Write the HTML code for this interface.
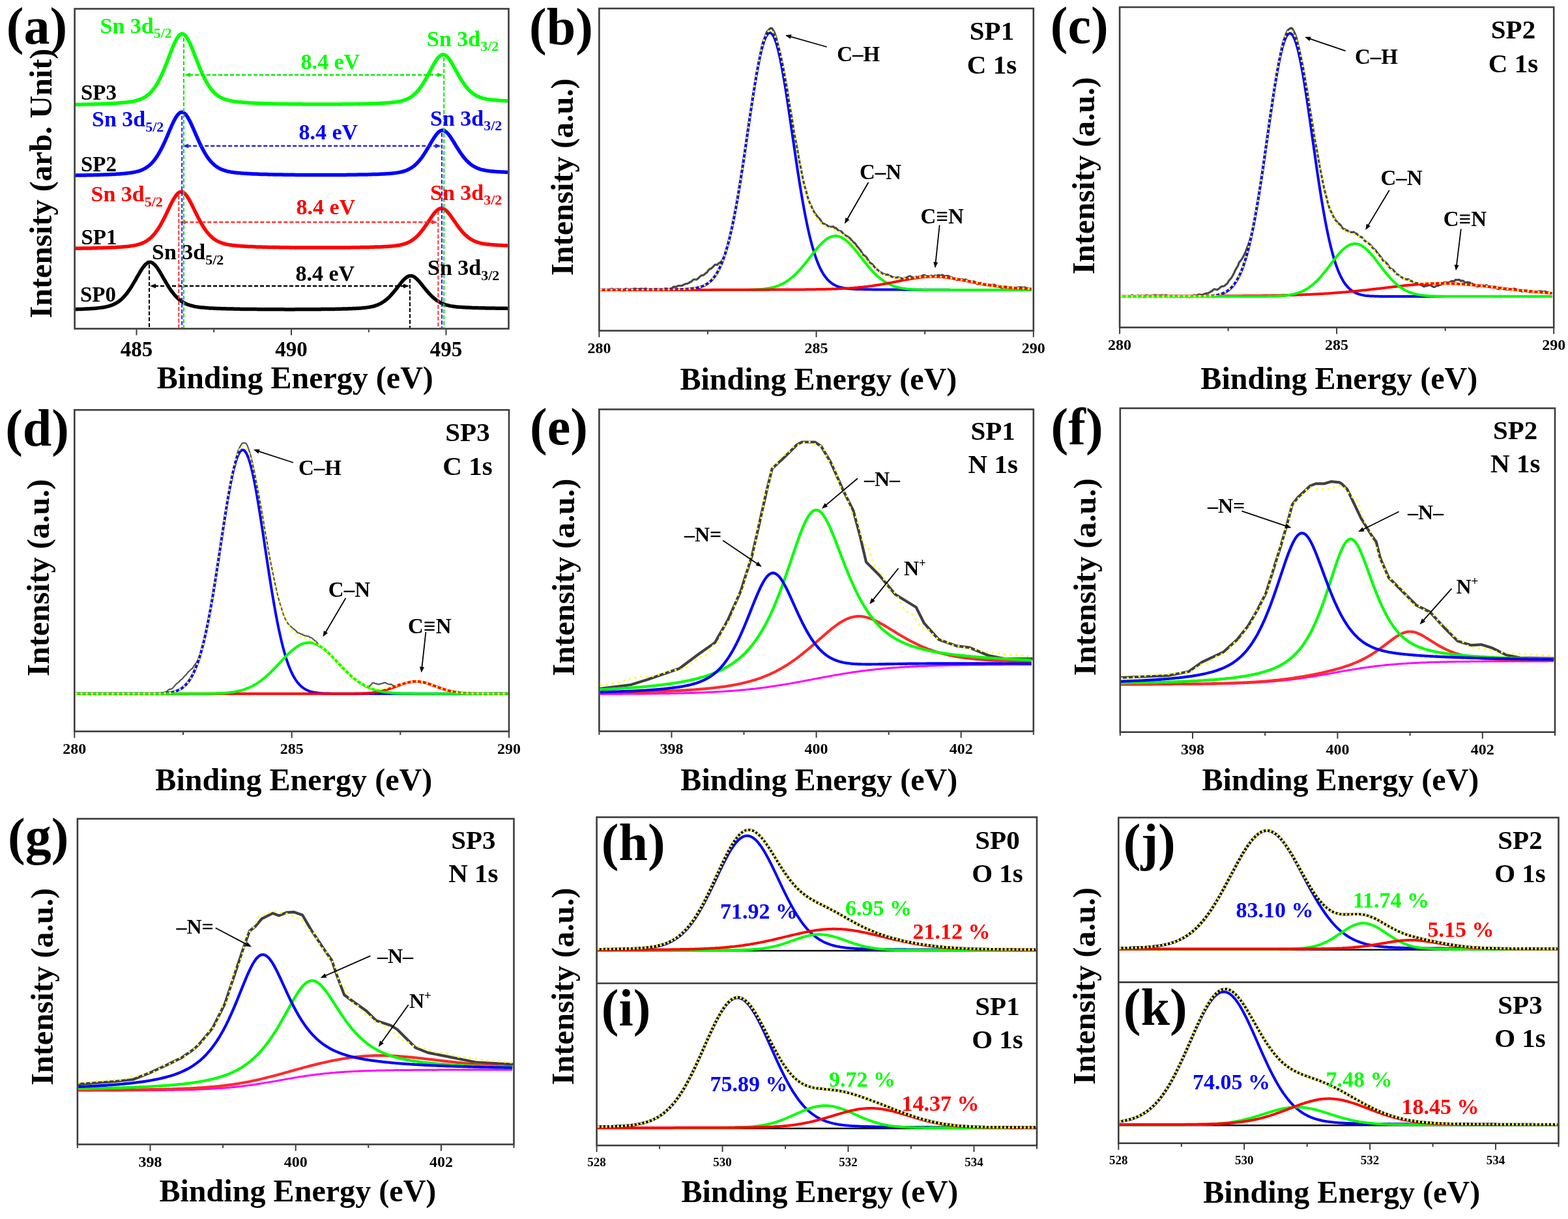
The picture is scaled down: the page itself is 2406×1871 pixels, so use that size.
<!DOCTYPE html>
<html><head><meta charset="utf-8"><style>
html,body{margin:0;padding:0;background:#fff;}
svg{display:block;}
text{font-family:'Liberation Serif','Times New Roman',serif;font-weight:bold;}
</style></head><body>
<svg xmlns="http://www.w3.org/2000/svg" width="2406" height="1871" viewBox="0 0 2406 1871">
<rect width="2406" height="1871" fill="#fff"/>
<rect x="114.6" y="13.5" width="665.9" height="491" fill="none" stroke="#3c3c3c" stroke-width="2.6"/>
<line x1="209.5" y1="505.5" x2="209.5" y2="514.5" stroke="#3c3c3c" stroke-width="2"/>
<line x1="447" y1="505.5" x2="447" y2="514.5" stroke="#3c3c3c" stroke-width="2"/>
<line x1="684.5" y1="505.5" x2="684.5" y2="514.5" stroke="#3c3c3c" stroke-width="2"/>
<line x1="328.2" y1="505.5" x2="328.2" y2="510" stroke="#3c3c3c" stroke-width="2"/>
<line x1="565.8" y1="505.5" x2="565.8" y2="510" stroke="#3c3c3c" stroke-width="2"/>
<text x="209.5" y="547" font-size="33" fill="#000" text-anchor="middle">485</text>
<text x="447" y="547" font-size="33" fill="#000" text-anchor="middle">490</text>
<text x="684.5" y="547" font-size="33" fill="#000" text-anchor="middle">495</text>
<text x="240.8" y="595.5" font-size="48" fill="#000" textLength="424" lengthAdjust="spacingAndGlyphs">Binding Energy (eV)</text>
<text transform="translate(78.7,281.6) rotate(-90)" font-size="48" text-anchor="middle" textLength="414" lengthAdjust="spacingAndGlyphs">Intensity (arb. Unit)</text>
<text x="9.8" y="66.7" font-size="80" fill="#000">(a)</text>
<polyline points="115.9,474.7 117.9,474.7 119.9,474.6 121.9,474.5 123.9,474.5 125.9,474.4 127.9,474.3 129.9,474.2 131.9,474.1 133.9,474 135.9,473.9 137.9,473.8 139.9,473.7 141.9,473.5 143.9,473.4 145.9,473.2 147.9,473.1 149.9,472.9 151.9,472.6 153.9,472.4 155.9,472.1 157.9,471.9 159.9,471.5 161.9,471.1 163.8,470.7 165.8,470.2 167.8,469.7 169.8,469 171.8,468.3 173.8,467.5 175.8,466.5 177.8,465.5 179.8,464.3 181.8,463 183.8,461.5 185.8,459.8 187.8,458 189.8,455.9 191.8,453.7 193.8,451.3 195.8,448.7 197.8,445.9 199.8,443 201.8,439.9 203.8,436.6 205.8,433.2 207.8,429.8 209.8,426.2 211.8,422.7 213.8,419.3 215.8,416 217.8,412.8 219.8,410 221.8,407.5 223.8,405.4 225.8,403.8 227.8,402.8 229.8,402.4 231.8,402.6 233.8,403.5 235.8,404.9 237.8,406.8 239.8,409.2 241.8,411.9 243.8,415 245.8,418.2 247.8,421.6 249.8,425.1 251.8,428.6 253.8,432 255.8,435.4 257.8,438.6 259.7,441.7 261.7,444.7 263.7,447.5 265.7,450.1 267.7,452.5 269.7,454.8 271.7,456.8 273.7,458.7 275.7,460.3 277.7,461.9 279.7,463.2 281.7,464.4 283.7,465.5 285.7,466.5 287.7,467.3 289.7,468 291.7,468.7 293.7,469.2 295.7,469.7 297.7,470.2 299.7,470.6 301.7,470.9 303.7,471.2 305.7,471.5 307.7,471.7 309.7,471.9 311.7,472.1 313.7,472.3 315.7,472.5 317.7,472.6 319.7,472.7 321.7,472.9 323.7,473 325.7,473.1 327.7,473.2 329.7,473.3 331.7,473.4 333.7,473.4 335.7,473.5 337.7,473.6 339.7,473.7 341.7,473.7 343.7,473.8 345.7,473.8 347.7,473.9 349.7,474 351.7,474 353.6,474.1 355.6,474.1 357.6,474.1 359.6,474.2 361.6,474.2 363.6,474.3 365.6,474.3 367.6,474.3 369.6,474.4 371.6,474.4 373.6,474.4 375.6,474.5 377.6,474.5 379.6,474.5 381.6,474.5 383.6,474.5 385.6,474.6 387.6,474.6 389.6,474.6 391.6,474.6 393.6,474.6 395.6,474.7 397.6,474.7 399.6,474.7 401.6,474.7 403.6,474.7 405.6,474.7 407.6,474.8 409.6,474.8 411.6,474.8 413.6,474.8 415.6,474.8 417.6,474.8 419.6,474.8 421.6,474.8 423.6,474.8 425.6,474.8 427.6,474.8 429.6,474.8 431.6,474.8 433.6,474.8 435.6,474.8 437.6,474.9 439.6,474.9 441.6,474.9 443.6,474.9 445.6,474.9 447.6,474.9 449.5,474.9 451.5,474.9 453.5,474.8 455.5,474.8 457.5,474.8 459.5,474.8 461.5,474.8 463.5,474.8 465.5,474.8 467.5,474.8 469.5,474.8 471.5,474.8 473.5,474.8 475.5,474.8 477.5,474.8 479.5,474.8 481.5,474.7 483.5,474.7 485.5,474.7 487.5,474.7 489.5,474.7 491.5,474.7 493.5,474.6 495.5,474.6 497.5,474.6 499.5,474.6 501.5,474.6 503.5,474.5 505.5,474.5 507.5,474.5 509.5,474.4 511.5,474.4 513.5,474.4 515.5,474.3 517.5,474.3 519.5,474.3 521.5,474.2 523.5,474.2 525.5,474.1 527.5,474.1 529.5,474 531.5,474 533.5,473.9 535.5,473.8 537.5,473.8 539.5,473.7 541.5,473.6 543.4,473.5 545.4,473.4 547.4,473.3 549.4,473.2 551.4,473.1 553.4,472.9 555.4,472.8 557.4,472.6 559.4,472.4 561.4,472.2 563.4,471.9 565.4,471.6 567.4,471.3 569.4,470.9 571.4,470.5 573.4,470 575.4,469.4 577.4,468.7 579.4,468 581.4,467.1 583.4,466.1 585.4,465.1 587.4,463.8 589.4,462.5 591.4,461 593.4,459.4 595.4,457.6 597.4,455.7 599.4,453.6 601.4,451.4 603.4,449.1 605.4,446.7 607.4,444.2 609.4,441.7 611.4,439.1 613.4,436.6 615.4,434.1 617.4,431.7 619.4,429.5 621.4,427.6 623.4,425.9 625.4,424.6 627.4,423.8 629.4,423.4 631.4,423.4 633.4,423.9 635.4,424.9 637.3,426.3 639.3,428 641.3,430 643.3,432.2 645.3,434.5 647.3,437 649.3,439.5 651.3,442 653.3,444.4 655.3,446.8 657.3,449.1 659.3,451.3 661.3,453.4 663.3,455.4 665.3,457.2 667.3,458.9 669.3,460.4 671.3,461.8 673.3,463 675.3,464.2 677.3,465.2 679.3,466.1 681.3,466.9 683.3,467.6 685.3,468.2 687.3,468.7 689.3,469.2 691.3,469.6 693.3,469.9 695.3,470.2 697.3,470.5 699.3,470.8 701.3,471 703.3,471.2 705.3,471.3 707.3,471.5 709.3,471.6 711.3,471.7 713.3,471.8 715.3,471.9 717.3,472 719.3,472.1 721.3,472.2 723.3,472.3 725.3,472.4 727.3,472.4 729.3,472.5 731.3,472.5 733.2,472.6 735.2,472.7 737.2,472.7 739.2,472.8 741.2,472.8 743.2,472.8 745.2,472.9 747.2,472.9 749.2,473 751.2,473 753.2,473 755.2,473.1 757.2,473.1 759.2,473.1 761.2,473.2 763.2,473.2 765.2,473.2 767.2,473.2 769.2,473.3 771.2,473.3 773.2,473.3 775.2,473.3 777.2,473.3 779.2,473.4" fill="none" stroke="#000000" stroke-width="5.5" stroke-linejoin="round" stroke-linecap="butt"/>
<polyline points="115.9,381.3 117.9,381.3 119.9,381.2 121.9,381.2 123.9,381.2 125.9,381.1 127.9,381.1 129.9,381.1 131.9,381 133.9,381 135.9,381 137.9,380.9 139.9,380.9 141.9,380.8 143.9,380.8 145.9,380.7 147.9,380.7 149.9,380.6 151.9,380.6 153.9,380.5 155.9,380.5 157.9,380.4 159.9,380.3 161.9,380.3 163.8,380.2 165.8,380.1 167.8,380 169.8,379.9 171.8,379.8 173.8,379.8 175.8,379.7 177.8,379.5 179.8,379.4 181.8,379.3 183.8,379.2 185.8,379.1 187.8,378.9 189.8,378.7 191.8,378.6 193.8,378.4 195.8,378.2 197.8,378 199.8,377.7 201.8,377.4 203.8,377.1 205.8,376.8 207.8,376.4 209.8,375.9 211.8,375.4 213.8,374.8 215.8,374.2 217.8,373.4 219.8,372.6 221.8,371.6 223.8,370.5 225.8,369.2 227.8,367.8 229.8,366.3 231.8,364.5 233.8,362.5 235.8,360.3 237.8,357.9 239.8,355.3 241.8,352.5 243.8,349.4 245.8,346.1 247.8,342.6 249.8,338.9 251.8,335.1 253.8,331.1 255.8,327 257.8,322.8 259.7,318.6 261.7,314.5 263.7,310.6 265.7,306.9 267.7,303.5 269.7,300.5 271.7,298 273.7,296.1 275.7,294.9 277.7,294.4 279.7,294.6 281.7,295.6 283.7,297.2 285.7,299.5 287.7,302.3 289.7,305.6 291.7,309.2 293.7,313 295.7,317 297.7,321.1 299.7,325.2 301.7,329.3 303.7,333.2 305.7,337.1 307.7,340.8 309.7,344.3 311.7,347.6 313.7,350.7 315.7,353.6 317.7,356.2 319.7,358.6 321.7,360.8 323.7,362.8 325.7,364.6 327.7,366.3 329.7,367.7 331.7,369 333.7,370.1 335.7,371.1 337.7,372 339.7,372.7 341.7,373.4 343.7,374 345.7,374.5 347.7,375 349.7,375.4 351.7,375.7 353.6,376.1 355.6,376.3 357.6,376.6 359.6,376.8 361.6,377 363.6,377.2 365.6,377.4 367.6,377.5 369.6,377.7 371.6,377.8 373.6,378 375.6,378.1 377.6,378.2 379.6,378.3 381.6,378.4 383.6,378.5 385.6,378.6 387.6,378.6 389.6,378.7 391.6,378.8 393.6,378.9 395.6,378.9 397.6,379 399.6,379.1 401.6,379.1 403.6,379.2 405.6,379.2 407.6,379.3 409.6,379.3 411.6,379.4 413.6,379.4 415.6,379.4 417.6,379.5 419.6,379.5 421.6,379.5 423.6,379.6 425.6,379.6 427.6,379.6 429.6,379.7 431.6,379.7 433.6,379.7 435.6,379.8 437.6,379.8 439.6,379.8 441.6,379.8 443.6,379.8 445.6,379.9 447.6,379.9 449.5,379.9 451.5,379.9 453.5,379.9 455.5,379.9 457.5,380 459.5,380 461.5,380 463.5,380 465.5,380 467.5,380 469.5,380 471.5,380 473.5,380 475.5,380 477.5,380 479.5,380 481.5,380.1 483.5,380.1 485.5,380.1 487.5,380.1 489.5,380.1 491.5,380.1 493.5,380.1 495.5,380.1 497.5,380.1 499.5,380.1 501.5,380.1 503.5,380.1 505.5,380 507.5,380 509.5,380 511.5,380 513.5,380 515.5,380 517.5,380 519.5,380 521.5,380 523.5,380 525.5,380 527.5,379.9 529.5,379.9 531.5,379.9 533.5,379.9 535.5,379.9 537.5,379.9 539.5,379.8 541.5,379.8 543.4,379.8 545.4,379.8 547.4,379.7 549.4,379.7 551.4,379.7 553.4,379.6 555.4,379.6 557.4,379.6 559.4,379.5 561.4,379.5 563.4,379.5 565.4,379.4 567.4,379.4 569.4,379.3 571.4,379.3 573.4,379.2 575.4,379.1 577.4,379.1 579.4,379 581.4,378.9 583.4,378.9 585.4,378.8 587.4,378.7 589.4,378.6 591.4,378.5 593.4,378.4 595.4,378.2 597.4,378.1 599.4,377.9 601.4,377.8 603.4,377.6 605.4,377.4 607.4,377.1 609.4,376.8 611.4,376.5 613.4,376.2 615.4,375.7 617.4,375.3 619.4,374.7 621.4,374.1 623.4,373.4 625.4,372.6 627.4,371.7 629.4,370.6 631.4,369.4 633.4,368.1 635.4,366.6 637.3,365 639.3,363.2 641.3,361.2 643.3,359.1 645.3,356.8 647.3,354.3 649.3,351.7 651.3,349 653.3,346.1 655.3,343.2 657.3,340.2 659.3,337.2 661.3,334.2 663.3,331.3 665.3,328.6 667.3,326.2 669.3,324 671.3,322.2 673.3,320.9 675.3,320.1 677.3,319.8 679.3,320.1 681.3,320.9 683.3,322.2 685.3,323.9 687.3,326 689.3,328.4 691.3,331 693.3,333.8 695.3,336.7 697.3,339.6 699.3,342.5 701.3,345.3 703.3,348.1 705.3,350.7 707.3,353.2 709.3,355.6 711.3,357.8 713.3,359.8 715.3,361.7 717.3,363.4 719.3,365 721.3,366.4 723.3,367.6 725.3,368.7 727.3,369.7 729.3,370.6 731.3,371.4 733.2,372 735.2,372.6 737.2,373.1 739.2,373.6 741.2,374 743.2,374.3 745.2,374.6 747.2,374.9 749.2,375.1 751.2,375.3 753.2,375.5 755.2,375.7 757.2,375.8 759.2,376 761.2,376.1 763.2,376.2 765.2,376.3 767.2,376.4 769.2,376.5 771.2,376.6 773.2,376.7 775.2,376.8 777.2,376.8 779.2,376.9" fill="none" stroke="#ff0000" stroke-width="5.5" stroke-linejoin="round" stroke-linecap="butt"/>
<polyline points="115.9,269.2 117.9,269.1 119.9,269.1 121.9,269.1 123.9,269 125.9,269 127.9,269 129.9,268.9 131.9,268.9 133.9,268.8 135.9,268.8 137.9,268.8 139.9,268.7 141.9,268.7 143.9,268.6 145.9,268.6 147.9,268.5 149.9,268.4 151.9,268.4 153.9,268.3 155.9,268.2 157.9,268.2 159.9,268.1 161.9,268 163.8,267.9 165.8,267.9 167.8,267.8 169.8,267.7 171.8,267.6 173.8,267.5 175.8,267.4 177.8,267.3 179.8,267.1 181.8,267 183.8,266.9 185.8,266.7 187.8,266.6 189.8,266.4 191.8,266.2 193.8,266 195.8,265.8 197.8,265.6 199.8,265.3 201.8,265 203.8,264.7 205.8,264.3 207.8,263.9 209.8,263.4 211.8,262.9 213.8,262.3 215.8,261.6 217.8,260.8 219.8,259.9 221.8,258.9 223.8,257.7 225.8,256.4 227.8,254.9 229.8,253.3 231.8,251.4 233.8,249.3 235.8,247 237.8,244.4 239.8,241.6 241.8,238.6 243.8,235.3 245.8,231.7 247.8,227.9 249.8,223.9 251.8,219.7 253.8,215.3 255.8,210.8 257.8,206.1 259.7,201.5 261.7,196.9 263.7,192.4 265.7,188.1 267.7,184.1 269.7,180.5 271.7,177.4 273.7,175 275.7,173.3 277.7,172.3 279.7,172.2 281.7,172.9 283.7,174.4 285.7,176.6 287.7,179.5 289.7,182.9 291.7,186.8 293.7,191 295.7,195.4 297.7,199.9 299.7,204.6 301.7,209.2 303.7,213.7 305.7,218.1 307.7,222.3 309.7,226.4 311.7,230.2 313.7,233.8 315.7,237.2 317.7,240.3 319.7,243.1 321.7,245.7 323.7,248.1 325.7,250.2 327.7,252.1 329.7,253.9 331.7,255.4 333.7,256.7 335.7,257.9 337.7,259 339.7,259.9 341.7,260.7 343.7,261.4 345.7,262 347.7,262.6 349.7,263.1 351.7,263.5 353.6,263.9 355.6,264.2 357.6,264.5 359.6,264.8 361.6,265 363.6,265.2 365.6,265.4 367.6,265.6 369.6,265.8 371.6,265.9 373.6,266.1 375.6,266.2 377.6,266.3 379.6,266.5 381.6,266.6 383.6,266.7 385.6,266.8 387.6,266.9 389.6,267 391.6,267.1 393.6,267.1 395.6,267.2 397.6,267.3 399.6,267.4 401.6,267.4 403.6,267.5 405.6,267.5 407.6,267.6 409.6,267.6 411.6,267.7 413.6,267.7 415.6,267.8 417.6,267.8 419.6,267.9 421.6,267.9 423.6,268 425.6,268 427.6,268 429.6,268.1 431.6,268.1 433.6,268.1 435.6,268.2 437.6,268.2 439.6,268.2 441.6,268.2 443.6,268.3 445.6,268.3 447.6,268.3 449.5,268.3 451.5,268.3 453.5,268.4 455.5,268.4 457.5,268.4 459.5,268.4 461.5,268.4 463.5,268.4 465.5,268.4 467.5,268.4 469.5,268.5 471.5,268.5 473.5,268.5 475.5,268.5 477.5,268.5 479.5,268.5 481.5,268.5 483.5,268.5 485.5,268.5 487.5,268.5 489.5,268.5 491.5,268.5 493.5,268.5 495.5,268.5 497.5,268.5 499.5,268.5 501.5,268.5 503.5,268.5 505.5,268.5 507.5,268.5 509.5,268.5 511.5,268.5 513.5,268.5 515.5,268.5 517.5,268.5 519.5,268.4 521.5,268.4 523.5,268.4 525.5,268.4 527.5,268.4 529.5,268.4 531.5,268.4 533.5,268.3 535.5,268.3 537.5,268.3 539.5,268.3 541.5,268.2 543.4,268.2 545.4,268.2 547.4,268.2 549.4,268.1 551.4,268.1 553.4,268.1 555.4,268 557.4,268 559.4,268 561.4,267.9 563.4,267.9 565.4,267.8 567.4,267.8 569.4,267.7 571.4,267.6 573.4,267.6 575.4,267.5 577.4,267.5 579.4,267.4 581.4,267.3 583.4,267.2 585.4,267.1 587.4,267 589.4,266.9 591.4,266.8 593.4,266.7 595.4,266.6 597.4,266.4 599.4,266.2 601.4,266.1 603.4,265.9 605.4,265.6 607.4,265.4 609.4,265.1 611.4,264.8 613.4,264.4 615.4,264 617.4,263.5 619.4,263 621.4,262.3 623.4,261.6 625.4,260.8 627.4,259.8 629.4,258.7 631.4,257.5 633.4,256.2 635.4,254.6 637.3,252.9 639.3,251 641.3,248.9 643.3,246.7 645.3,244.2 647.3,241.6 649.3,238.7 651.3,235.7 653.3,232.6 655.3,229.3 657.3,226 659.3,222.6 661.3,219.2 663.3,215.8 665.3,212.6 667.3,209.6 669.3,206.8 671.3,204.4 673.3,202.5 675.3,201.1 677.3,200.3 679.3,200.1 681.3,200.5 683.3,201.5 685.3,203.1 687.3,205.1 689.3,207.6 691.3,210.3 693.3,213.4 695.3,216.5 697.3,219.8 699.3,223.1 701.3,226.3 703.3,229.5 705.3,232.6 707.3,235.5 709.3,238.3 711.3,241 713.3,243.4 715.3,245.7 717.3,247.8 719.3,249.6 721.3,251.4 723.3,252.9 725.3,254.3 727.3,255.5 729.3,256.6 731.3,257.5 733.2,258.4 735.2,259.1 737.2,259.8 739.2,260.3 741.2,260.8 743.2,261.2 745.2,261.6 747.2,262 749.2,262.2 751.2,262.5 753.2,262.7 755.2,262.9 757.2,263.1 759.2,263.3 761.2,263.4 763.2,263.6 765.2,263.7 767.2,263.8 769.2,263.9 771.2,264 773.2,264.1 775.2,264.2 777.2,264.3 779.2,264.4" fill="none" stroke="#0000ff" stroke-width="5.5" stroke-linejoin="round" stroke-linecap="butt"/>
<polyline points="115.9,160.5 117.9,160.5 119.9,160.4 121.9,160.4 123.9,160.4 125.9,160.3 127.9,160.3 129.9,160.2 131.9,160.2 133.9,160.2 135.9,160.1 137.9,160.1 139.9,160 141.9,159.9 143.9,159.9 145.9,159.8 147.9,159.8 149.9,159.7 151.9,159.6 153.9,159.6 155.9,159.5 157.9,159.4 159.9,159.3 161.9,159.3 163.8,159.2 165.8,159.1 167.8,159 169.8,158.9 171.8,158.8 173.8,158.7 175.8,158.5 177.8,158.4 179.8,158.3 181.8,158.1 183.8,158 185.8,157.8 187.8,157.6 189.8,157.5 191.8,157.2 193.8,157 195.8,156.8 197.8,156.5 199.8,156.2 201.8,155.9 203.8,155.6 205.8,155.2 207.8,154.7 209.8,154.2 211.8,153.6 213.8,153 215.8,152.2 217.8,151.3 219.8,150.4 221.8,149.3 223.8,148 225.8,146.6 227.8,145 229.8,143.2 231.8,141.1 233.8,138.9 235.8,136.3 237.8,133.5 239.8,130.5 241.8,127.1 243.8,123.5 245.8,119.6 247.8,115.4 249.8,111 251.8,106.3 253.8,101.4 255.8,96.4 257.8,91.2 259.7,86 261.7,80.8 263.7,75.7 265.7,70.8 267.7,66.3 269.7,62.1 271.7,58.6 273.7,55.6 275.7,53.5 277.7,52.2 279.7,51.8 281.7,52.4 283.7,53.9 285.7,56.2 287.7,59.2 289.7,62.9 291.7,67.1 293.7,71.7 295.7,76.6 297.7,81.7 299.7,86.9 301.7,92.1 303.7,97.2 305.7,102.2 307.7,107 309.7,111.6 311.7,116 313.7,120.1 315.7,123.9 317.7,127.4 319.7,130.7 321.7,133.7 323.7,136.4 325.7,138.9 327.7,141.1 329.7,143.1 331.7,144.8 333.7,146.4 335.7,147.7 337.7,149 339.7,150 341.7,151 343.7,151.8 345.7,152.5 347.7,153.1 349.7,153.7 351.7,154.2 353.6,154.6 355.6,155 357.6,155.4 359.6,155.7 361.6,156 363.6,156.2 365.6,156.4 367.6,156.6 369.6,156.8 371.6,157 373.6,157.2 375.6,157.3 377.6,157.5 379.6,157.6 381.6,157.8 383.6,157.9 385.6,158 387.6,158.1 389.6,158.2 391.6,158.3 393.6,158.4 395.6,158.5 397.6,158.6 399.6,158.6 401.6,158.7 403.6,158.8 405.6,158.8 407.6,158.9 409.6,159 411.6,159 413.6,159.1 415.6,159.1 417.6,159.2 419.6,159.2 421.6,159.3 423.6,159.3 425.6,159.4 427.6,159.4 429.6,159.4 431.6,159.5 433.6,159.5 435.6,159.5 437.6,159.6 439.6,159.6 441.6,159.6 443.6,159.7 445.6,159.7 447.6,159.7 449.5,159.7 451.5,159.7 453.5,159.8 455.5,159.8 457.5,159.8 459.5,159.8 461.5,159.8 463.5,159.8 465.5,159.9 467.5,159.9 469.5,159.9 471.5,159.9 473.5,159.9 475.5,159.9 477.5,159.9 479.5,159.9 481.5,159.9 483.5,159.9 485.5,159.9 487.5,159.9 489.5,160 491.5,160 493.5,160 495.5,160 497.5,160 499.5,160 501.5,159.9 503.5,159.9 505.5,159.9 507.5,159.9 509.5,159.9 511.5,159.9 513.5,159.9 515.5,159.9 517.5,159.9 519.5,159.9 521.5,159.9 523.5,159.9 525.5,159.8 527.5,159.8 529.5,159.8 531.5,159.8 533.5,159.8 535.5,159.7 537.5,159.7 539.5,159.7 541.5,159.7 543.4,159.6 545.4,159.6 547.4,159.6 549.4,159.5 551.4,159.5 553.4,159.5 555.4,159.4 557.4,159.4 559.4,159.3 561.4,159.3 563.4,159.2 565.4,159.2 567.4,159.1 569.4,159.1 571.4,159 573.4,159 575.4,158.9 577.4,158.8 579.4,158.7 581.4,158.6 583.4,158.5 585.4,158.5 587.4,158.3 589.4,158.2 591.4,158.1 593.4,158 595.4,157.8 597.4,157.7 599.4,157.5 601.4,157.3 603.4,157.1 605.4,156.9 607.4,156.6 609.4,156.3 611.4,156 613.4,155.6 615.4,155.1 617.4,154.6 619.4,154 621.4,153.4 623.4,152.6 625.4,151.7 627.4,150.7 629.4,149.6 631.4,148.3 633.4,146.8 635.4,145.2 637.3,143.4 639.3,141.4 641.3,139.1 643.3,136.7 645.3,134 647.3,131.2 649.3,128.1 651.3,124.8 653.3,121.4 655.3,117.8 657.3,114.1 659.3,110.3 661.3,106.5 663.3,102.8 665.3,99.1 667.3,95.7 669.3,92.5 671.3,89.6 673.3,87.3 675.3,85.5 677.3,84.3 679.3,83.8 681.3,84 683.3,84.8 685.3,86.3 687.3,88.4 689.3,90.9 691.3,93.8 693.3,97.1 695.3,100.5 697.3,104.1 699.3,107.8 701.3,111.4 703.3,114.9 705.3,118.4 707.3,121.7 709.3,124.9 711.3,127.9 713.3,130.7 715.3,133.3 717.3,135.7 719.3,137.8 721.3,139.8 723.3,141.6 725.3,143.2 727.3,144.6 729.3,145.9 731.3,147 733.2,147.9 735.2,148.8 737.2,149.6 739.2,150.2 741.2,150.8 743.2,151.3 745.2,151.7 747.2,152.1 749.2,152.4 751.2,152.7 753.2,153 755.2,153.2 757.2,153.5 759.2,153.6 761.2,153.8 763.2,154 765.2,154.1 767.2,154.3 769.2,154.4 771.2,154.5 773.2,154.6 775.2,154.7 777.2,154.8 779.2,154.9" fill="none" stroke="#00ff00" stroke-width="5.5" stroke-linejoin="round" stroke-linecap="butt"/>
<line x1="229" y1="406" x2="229" y2="503.2" stroke="#000" stroke-width="2" stroke-dasharray="6 3"/>
<line x1="629" y1="428" x2="629" y2="503.2" stroke="#000" stroke-width="2" stroke-dasharray="6 3"/>
<line x1="237" y1="439" x2="621" y2="439" stroke="#000" stroke-width="2.4" stroke-dasharray="6 3"/>
<polygon points="230,439 239,435.5 239,442.5" fill="#000"/>
<polygon points="628,439 619,435.5 619,442.5" fill="#000"/>
<line x1="274.3" y1="300" x2="274.3" y2="503.2" stroke="#ff3030" stroke-width="2" stroke-dasharray="6 3"/>
<line x1="672.4" y1="324" x2="672.4" y2="503.2" stroke="#ff3030" stroke-width="2" stroke-dasharray="6 3"/>
<line x1="282.3" y1="341" x2="664.4" y2="341" stroke="#ff3030" stroke-width="2.4" stroke-dasharray="6 3"/>
<polygon points="275.3,341 284.3,337.5 284.3,344.5" fill="#ff3030"/>
<polygon points="671.4,341 662.4,337.5 662.4,344.5" fill="#ff3030"/>
<line x1="279.2" y1="178" x2="279.2" y2="503.2" stroke="#2020ff" stroke-width="2" stroke-dasharray="6 3"/>
<line x1="678" y1="204" x2="678" y2="503.2" stroke="#2020ff" stroke-width="2" stroke-dasharray="6 3"/>
<line x1="287.2" y1="224" x2="670" y2="224" stroke="#2020ff" stroke-width="2.4" stroke-dasharray="6 3"/>
<polygon points="280.2,224 289.2,220.5 289.2,227.5" fill="#2020ff"/>
<polygon points="677,224 668,220.5 668,227.5" fill="#2020ff"/>
<line x1="282" y1="58" x2="282" y2="503.2" stroke="#00ee00" stroke-width="2" stroke-dasharray="6 3"/>
<line x1="681.2" y1="88" x2="681.2" y2="503.2" stroke="#00ee00" stroke-width="2" stroke-dasharray="6 3"/>
<line x1="290" y1="115" x2="673.2" y2="115" stroke="#00ee00" stroke-width="2.4" stroke-dasharray="6 3"/>
<polygon points="283,115 292,111.5 292,118.5" fill="#00ee00"/>
<polygon points="680.2,115 671.2,111.5 671.2,118.5" fill="#00ee00"/>
<text x="124" y="152.5" font-size="33" fill="#000">SP3</text>
<text x="124" y="262.5" font-size="33" fill="#000">SP2</text>
<text x="124.5" y="374.5" font-size="33" fill="#000">SP1</text>
<text x="123" y="462.5" font-size="33" fill="#000">SP0</text>
<text x="153.5" y="50.5" font-size="34" fill="#00ff00">Sn 3d<tspan font-size="22" dy="7.5" font-weight="bold">5/2</tspan></text>
<text x="141" y="194" font-size="34" fill="#0000ff">Sn 3d<tspan font-size="22" dy="7.5" font-weight="bold">5/2</tspan></text>
<text x="139.5" y="309" font-size="34" fill="#ff0000">Sn 3d<tspan font-size="22" dy="7.5" font-weight="bold">5/2</tspan></text>
<text x="233" y="398" font-size="34" fill="#000">Sn 3d<tspan font-size="22" dy="7.5" font-weight="bold">5/2</tspan></text>
<text x="655" y="70.5" font-size="34" fill="#00ff00">Sn 3d<tspan font-size="22" dy="7.5" font-weight="bold">3/2</tspan></text>
<text x="660" y="192.5" font-size="34" fill="#0000ff">Sn 3d<tspan font-size="22" dy="7.5" font-weight="bold">3/2</tspan></text>
<text x="660" y="306.5" font-size="34" fill="#ff0000">Sn 3d<tspan font-size="22" dy="7.5" font-weight="bold">3/2</tspan></text>
<text x="656" y="422" font-size="34" fill="#000">Sn 3d<tspan font-size="22" dy="7.5" font-weight="bold">3/2</tspan></text>
<text x="461.5" y="106" font-size="34" fill="#00ff00">8.4 eV</text>
<text x="458.5" y="214" font-size="34" fill="#0000ff">8.4 eV</text>
<text x="454.5" y="328.5" font-size="34" fill="#ff0000">8.4 eV</text>
<text x="453.5" y="431" font-size="34" fill="#000">8.4 eV</text>
<rect x="919.4" y="13" width="666.4" height="494.6" fill="none" stroke="#3c3c3c" stroke-width="2.6"/>
<line x1="919.4" y1="508.6" x2="919.4" y2="517.6" stroke="#3c3c3c" stroke-width="2"/>
<line x1="1252.6" y1="508.6" x2="1252.6" y2="517.6" stroke="#3c3c3c" stroke-width="2"/>
<line x1="1585.8" y1="508.6" x2="1585.8" y2="517.6" stroke="#3c3c3c" stroke-width="2"/>
<line x1="1086" y1="508.6" x2="1086" y2="513.1" stroke="#3c3c3c" stroke-width="2"/>
<line x1="1419.2" y1="508.6" x2="1419.2" y2="513.1" stroke="#3c3c3c" stroke-width="2"/>
<text x="919.4" y="542.1" font-size="24" fill="#000" text-anchor="middle">280</text>
<text x="1252.6" y="542.1" font-size="24" fill="#000" text-anchor="middle">285</text>
<text x="1585.8" y="542.1" font-size="24" fill="#000" text-anchor="middle">290</text>
<text x="1043.4" y="598.3" font-size="48" fill="#000" textLength="425" lengthAdjust="spacingAndGlyphs">Binding Energy (eV)</text>
<text transform="translate(879.3,271.8) rotate(-90)" font-size="48" text-anchor="middle" textLength="303" lengthAdjust="spacingAndGlyphs">Intensity (a.u.)</text>
<text x="812.1" y="67.7" font-size="80" fill="#000">(b)</text>
<text x="1522" y="61" font-size="41" fill="#000" text-anchor="middle">SP1</text>
<text x="1522" y="112.5" font-size="41" fill="#000" text-anchor="middle">C 1s</text>
<polyline points="920.7,443.8 922.7,445.1 924.7,445.5 926.7,444.6 928.7,444.6 930.7,444.5 932.7,444.9 934.7,445.5 936.7,444.2 938.7,443.2 940.7,444.7 942.7,444.5 944.7,445.2 946.7,443.7 948.7,444 950.7,444.8 952.7,444.1 954.7,445.4 956.7,446 958.7,444.2 960.7,443.2 962.7,443.9 964.7,445.3 966.7,444.7 968.7,443.9 970.7,444 972.7,443.1 974.7,443.1 976.7,443.6 978.7,444 980.7,443.6 982.7,443.3 984.7,443.2 986.7,443.6 988.7,443.5 990.7,442.8 992.7,444.3 994.7,444.5 996.7,444.8 998.7,443.8 1000.7,445.2 1002.7,445.5 1004.7,443.9 1006.7,443.4 1008.7,444 1010.7,444.2 1012.7,444.8 1014.7,443.9 1016.7,444.3 1018.7,444 1020.7,442.9 1022.7,442.9 1024.7,443.6 1026.7,443.8 1028.7,443 1030.7,442.6 1032.7,440.7 1034.7,439.9 1036.7,440.6 1038.7,439.8 1040.7,438.5 1042.7,438.5 1044.7,438.6 1046.7,438.4 1048.7,437.1 1050.7,436.2 1052.7,435.5 1054.7,435.4 1056.7,434.4 1058.7,433.1 1060.7,432.3 1062.7,430.3 1064.7,428.8 1066.7,429 1068.7,429.2 1070.7,427.8 1072.7,426 1074.7,423.8 1076.7,422.7 1078.7,422.6 1080.7,421.4 1082.7,419.4 1084.7,418.3 1086.7,415.2 1088.7,413.1 1090.7,412.4 1092.7,410.9 1094.7,409 1096.7,406.5 1098.7,406.2 1100.7,406.6 1102.7,403.9 1104.7,403.2 1106.7,401.3 1108.7,398.9 1110.7,394.8 1112.7,389.5 1114.7,382.9 1116.7,376.1 1118.7,368.3 1120.7,359 1122.7,351.5 1124.7,342.2 1126.7,331.3 1128.7,321.1 1130.7,310.1 1132.7,298.2 1134.7,285.9 1136.7,273.8 1138.7,261.2 1140.7,248.2 1142.7,234.4 1144.7,219.4 1146.7,205.4 1148.7,191.3 1150.7,178.4 1152.7,165.8 1154.7,152.9 1156.7,140.2 1158.7,127.8 1160.7,114.6 1162.7,104 1164.7,93.5 1166.7,82.5 1168.7,72.9 1170.7,64.6 1172.7,59.4 1174.7,53.5 1176.7,48.8 1178.7,46.6 1180.7,44.5 1182.7,43.1 1184.7,43.6 1186.7,46.8 1188.7,50.8 1190.7,56.4 1192.7,64.2 1194.7,71.7 1196.7,79.4 1198.7,88.5 1200.7,97.3 1202.7,108 1204.7,119.2 1206.7,130.2 1208.7,141.6 1210.7,155.2 1212.7,167.4 1214.7,178.8 1216.7,191.5 1218.7,204.3 1220.7,214.6 1222.7,225.1 1224.7,236 1226.7,247.9 1228.7,257.4 1230.7,267.9 1232.7,277.3 1234.7,285.6 1236.7,292.3 1238.7,300.4 1240.7,306.9 1242.7,311.9 1244.7,315.9 1246.7,320.8 1248.7,324.3 1250.7,327.9 1252.7,330.2 1254.7,333.2 1256.7,334.7 1258.7,337 1260.7,340.7 1262.7,343 1264.7,343.3 1266.7,345.2 1268.7,345.3 1270.7,347.2 1272.7,348 1274.7,348.1 1276.7,348 1278.7,347.7 1280.7,350.1 1282.7,349.8 1284.7,351.9 1286.7,354 1288.7,354.8 1290.7,354.9 1292.7,357.2 1294.7,359.5 1296.7,360.8 1298.7,361.9 1300.7,363.1 1302.7,364.6 1304.7,366 1306.7,368.9 1308.7,370.9 1310.7,372.5 1312.7,374.2 1314.7,377.6 1316.7,379.6 1318.7,382.3 1320.7,384.4 1322.7,388.2 1324.7,391.4 1326.7,392.2 1328.7,394.1 1330.7,396.5 1332.7,400.4 1334.7,403 1336.7,404.4 1338.7,405.7 1340.7,408.3 1342.7,411 1344.7,413.4 1346.7,414 1348.7,416.3 1350.7,417.6 1352.7,418.4 1354.7,420.5 1356.7,420.3 1358.7,421.7 1360.7,421.3 1362.7,421.6 1364.7,423.8 1366.7,423.6 1368.7,424.9 1370.7,425.5 1372.7,426.5 1374.7,426 1376.7,425.8 1378.7,425.6 1380.7,426.9 1382.7,426.9 1384.7,427.7 1386.7,428 1388.7,426.3 1390.7,426.3 1392.7,425.1 1394.7,424.2 1396.7,423.8 1398.7,425.3 1400.7,425.9 1402.7,426.2 1404.7,425.1 1406.7,425.1 1408.7,425.4 1410.7,424.5 1412.7,424.4 1414.7,423.4 1416.7,422.5 1418.7,422.4 1420.7,423.8 1422.7,423.7 1424.7,424.5 1426.7,423.8 1428.7,423 1430.7,423.8 1432.7,424.3 1434.7,422.7 1436.7,423.4 1438.7,422.5 1440.7,422 1442.7,423.5 1444.7,422.3 1446.7,422.1 1448.7,423.9 1450.7,423.7 1452.7,423.3 1454.7,423.6 1456.7,424.2 1458.7,426.1 1460.7,425.8 1462.7,427.6 1464.7,427.4 1466.7,428.9 1468.7,429.8 1470.7,428.9 1472.7,428.5 1474.7,429 1476.7,428.6 1478.7,429.8 1480.7,429.2 1482.7,429 1484.7,431.4 1486.7,431.3 1488.7,432.1 1490.7,432.4 1492.7,432.4 1494.7,431.9 1496.7,433.9 1498.7,435.3 1500.7,436.2 1502.7,434.9 1504.7,434.5 1506.7,435.5 1508.7,437 1510.7,436.9 1512.7,437.4 1514.7,437.8 1516.7,437.1 1518.7,437.6 1520.7,437.4 1522.7,437.3 1524.7,437 1526.7,437.4 1528.7,439.4 1530.7,439.4 1532.7,439.9 1534.7,440.3 1536.7,441.4 1538.7,440.7 1540.7,440.3 1542.7,440.1 1544.7,440.1 1546.7,441.5 1548.7,442.4 1550.7,441.6 1552.7,441.3 1554.7,441.7 1556.7,442.1 1558.7,442.4 1560.7,441.7 1562.7,440.9 1564.7,441.1 1566.7,440.8 1568.7,441.8 1570.7,441.3 1572.7,441 1574.7,442.3 1576.7,442.2 1578.7,443.4 1580.7,443.3 1582.7,444.2" fill="none" stroke="#484848" stroke-width="3.2" stroke-linejoin="round" stroke-linecap="butt"/>
<polyline points="920.7,444.8 922.7,444.8 924.7,444.8 926.7,444.8 928.7,444.8 930.7,444.8 932.7,444.8 934.7,444.8 936.7,444.8 938.7,444.8 940.7,444.8 942.7,444.8 944.7,444.8 946.7,444.8 948.7,444.8 950.7,444.7 952.7,444.7 954.7,444.7 956.7,444.7 958.7,444.7 960.7,444.7 962.7,444.7 964.7,444.7 966.7,444.7 968.7,444.7 970.7,444.7 972.7,444.7 974.7,444.7 976.7,444.7 978.7,444.6 980.7,444.6 982.7,444.6 984.7,444.6 986.7,444.6 988.7,444.6 990.7,444.6 992.7,444.6 994.7,444.6 996.7,444.6 998.7,444.5 1000.7,444.5 1002.7,444.5 1004.7,444.5 1006.7,444.5 1008.7,444.5 1010.7,444.5 1012.7,444.5 1014.7,444.4 1016.7,444.4 1018.7,444.4 1020.7,444.4 1022.7,444.4 1024.7,444.3 1026.7,444.3 1028.7,444.3 1030.7,444.3 1032.7,444.2 1034.7,444.2 1036.7,444.2 1038.7,444.1 1040.7,444.1 1042.7,444.1 1044.7,444 1046.7,443.9 1048.7,443.9 1050.7,443.8 1052.7,443.7 1054.7,443.6 1056.7,443.4 1058.7,443.3 1060.7,443.1 1062.7,442.9 1064.7,442.6 1066.7,442.3 1068.7,441.9 1070.7,441.5 1072.7,441 1074.7,440.5 1076.7,439.8 1078.7,439 1080.7,438.1 1082.7,437.1 1084.7,435.9 1086.7,434.5 1088.7,433 1090.7,431.2 1092.7,429.2 1094.7,426.9 1096.7,424.3 1098.7,421.4 1100.7,418.1 1102.7,414.5 1104.7,410.4 1106.7,405.9 1108.7,401 1110.7,395.5 1112.7,389.6 1114.7,383.1 1116.7,376.1 1118.7,368.5 1120.7,360.3 1122.7,351.5 1124.7,342.1 1126.7,332.2 1128.7,321.7 1130.7,310.6 1132.7,299 1134.7,287 1136.7,274.4 1138.7,261.5 1140.7,248.3 1142.7,234.8 1144.7,221 1146.7,207.2 1148.7,193.4 1150.7,179.6 1152.7,166 1154.7,152.7 1156.7,139.8 1158.7,127.3 1160.7,115.4 1162.7,104.3 1164.7,93.9 1166.7,84.5 1168.7,76 1170.7,68.6 1172.7,62.4 1174.7,57.4 1176.7,53.7 1178.7,51.2 1180.7,50.2 1182.7,50.4 1184.7,52.1 1186.7,55 1188.7,59.2 1190.7,64.7 1192.7,71.4 1194.7,79.3 1196.7,88.1 1198.7,98 1200.7,108.7 1202.7,120.1 1204.7,132.2 1206.7,144.9 1208.7,158 1210.7,171.4 1212.7,185.1 1214.7,198.9 1216.7,212.8 1218.7,226.5 1220.7,240.2 1222.7,253.6 1224.7,266.7 1226.7,279.5 1228.7,291.8 1230.7,303.7 1232.7,315.1 1234.7,325.9 1236.7,336.2 1238.7,345.9 1240.7,355.1 1242.7,363.6 1244.7,371.6 1246.7,379 1248.7,385.8 1250.7,392 1252.7,397.8 1254.7,403 1256.7,407.8 1258.7,412.1 1260.7,416 1262.7,419.5 1264.7,422.6 1266.7,425.3 1268.7,427.8 1270.7,430 1272.7,431.9 1274.7,433.6 1276.7,435.1 1278.7,436.4 1280.7,437.5 1282.7,438.5 1284.7,439.3 1286.7,440.1 1288.7,440.7 1290.7,441.2 1292.7,441.7 1294.7,442.1 1296.7,442.4 1298.7,442.7 1300.7,443 1302.7,443.2 1304.7,443.3 1306.7,443.5 1308.7,443.6 1310.7,443.7 1312.7,443.8 1314.7,443.9 1316.7,444 1318.7,444 1320.7,444.1 1322.7,444.1 1324.7,444.2 1326.7,444.2 1328.7,444.2 1330.7,444.3 1332.7,444.3 1334.7,444.3 1336.7,444.3 1338.7,444.4 1340.7,444.4 1342.7,444.4 1344.7,444.4 1346.7,444.4 1348.7,444.4 1350.7,444.5 1352.7,444.5 1354.7,444.5 1356.7,444.5 1358.7,444.5 1360.7,444.5 1362.7,444.5 1364.7,444.5 1366.7,444.6 1368.7,444.6 1370.7,444.6 1372.7,444.6 1374.7,444.6 1376.7,444.6 1378.7,444.6 1380.7,444.6 1382.7,444.6 1384.7,444.6 1386.7,444.7 1388.7,444.7 1390.7,444.7 1392.7,444.7 1394.7,444.7 1396.7,444.7 1398.7,444.7 1400.7,444.7 1402.7,444.7 1404.7,444.7 1406.7,444.7 1408.7,444.7 1410.7,444.7 1412.7,444.7 1414.7,444.8 1416.7,444.8 1418.7,444.8 1420.7,444.8 1422.7,444.8 1424.7,444.8 1426.7,444.8 1428.7,444.8 1430.7,444.8 1432.7,444.8 1434.7,444.8 1436.7,444.8 1438.7,444.8 1440.7,444.8 1442.7,444.8 1444.7,444.8 1446.7,444.8 1448.7,444.8 1450.7,444.8 1452.7,444.8 1454.7,444.8 1456.7,444.8 1458.7,444.9 1460.7,444.9 1462.7,444.9 1464.7,444.9 1466.7,444.9 1468.7,444.9 1470.7,444.9 1472.7,444.9 1474.7,444.9 1476.7,444.9 1478.7,444.9 1480.7,444.9 1482.7,444.9 1484.7,444.9 1486.7,444.9 1488.7,444.9 1490.7,444.9 1492.7,444.9 1494.7,444.9 1496.7,444.9 1498.7,444.9 1500.7,444.9 1502.7,444.9 1504.7,444.9 1506.7,444.9 1508.7,444.9 1510.7,444.9 1512.7,444.9 1514.7,444.9 1516.7,444.9 1518.7,444.9 1520.7,444.9 1522.7,444.9 1524.7,444.9 1526.7,444.9 1528.7,444.9 1530.7,444.9 1532.7,444.9 1534.7,444.9 1536.7,444.9 1538.7,444.9 1540.7,445 1542.7,445 1544.7,445 1546.7,445 1548.7,445 1550.7,445 1552.7,445 1554.7,445 1556.7,445 1558.7,445 1560.7,445 1562.7,445 1564.7,445 1566.7,445 1568.7,445 1570.7,445 1572.7,445 1574.7,445 1576.7,445 1578.7,445 1580.7,445 1582.7,445" fill="none" stroke="#0000ff" stroke-width="4.0" stroke-linejoin="round" stroke-linecap="butt"/>
<polyline points="920.7,445.1 922.7,445.1 924.7,445.1 926.7,445.1 928.7,445.1 930.7,445.1 932.7,445.1 934.7,445.1 936.7,445.1 938.7,445.1 940.7,445.1 942.7,445.1 944.7,445.1 946.7,445.1 948.7,445.1 950.7,445.1 952.7,445.1 954.7,445.1 956.7,445.1 958.7,445.1 960.7,445.1 962.7,445.1 964.7,445.1 966.7,445.1 968.7,445.1 970.7,445.1 972.7,445.1 974.7,445.1 976.7,445.1 978.7,445.1 980.7,445.1 982.7,445.1 984.7,445.1 986.7,445.1 988.7,445.1 990.7,445.1 992.7,445.1 994.7,445.1 996.7,445.1 998.7,445.1 1000.7,445.1 1002.7,445.1 1004.7,445.1 1006.7,445.1 1008.7,445.1 1010.7,445.1 1012.7,445.1 1014.7,445.1 1016.7,445.1 1018.7,445.1 1020.7,445.1 1022.7,445.1 1024.7,445.1 1026.7,445.1 1028.7,445.1 1030.7,445.1 1032.7,445.1 1034.7,445.1 1036.7,445.1 1038.7,445.1 1040.7,445.1 1042.7,445.1 1044.7,445.1 1046.7,445.1 1048.7,445.1 1050.7,445.1 1052.7,445.1 1054.7,445.1 1056.7,445.1 1058.7,445.1 1060.7,445.1 1062.7,445.1 1064.7,445.1 1066.7,445.1 1068.7,445.1 1070.7,445.1 1072.7,445.1 1074.7,445.1 1076.7,445.1 1078.7,445.1 1080.7,445.1 1082.7,445.1 1084.7,445.1 1086.7,445.1 1088.7,445.1 1090.7,445.1 1092.7,445.1 1094.7,445.1 1096.7,445.1 1098.7,445.1 1100.7,445.1 1102.7,445.1 1104.7,445.1 1106.7,445.1 1108.7,445.1 1110.7,445.1 1112.7,445.1 1114.7,445.1 1116.7,445.1 1118.7,445.1 1120.7,445.1 1122.7,445.1 1124.7,445.1 1126.7,445.1 1128.7,445.1 1130.7,445.1 1132.7,445 1134.7,445 1136.7,445 1138.7,445 1140.7,445 1142.7,445 1144.7,444.9 1146.7,444.9 1148.7,444.9 1150.7,444.8 1152.7,444.8 1154.7,444.7 1156.7,444.6 1158.7,444.5 1160.7,444.4 1162.7,444.3 1164.7,444.2 1166.7,444 1168.7,443.9 1170.7,443.7 1172.7,443.4 1174.7,443.2 1176.7,442.9 1178.7,442.6 1180.7,442.2 1182.7,441.8 1184.7,441.4 1186.7,440.9 1188.7,440.3 1190.7,439.7 1192.7,439 1194.7,438.3 1196.7,437.4 1198.7,436.6 1200.7,435.6 1202.7,434.5 1204.7,433.4 1206.7,432.1 1208.7,430.8 1210.7,429.4 1212.7,427.9 1214.7,426.3 1216.7,424.6 1218.7,422.8 1220.7,420.9 1222.7,418.9 1224.7,416.8 1226.7,414.6 1228.7,412.4 1230.7,410.1 1232.7,407.7 1234.7,405.2 1236.7,402.7 1238.7,400.2 1240.7,397.6 1242.7,395.1 1244.7,392.5 1246.7,389.9 1248.7,387.4 1250.7,384.9 1252.7,382.4 1254.7,380.1 1256.7,377.8 1258.7,375.6 1260.7,373.6 1262.7,371.6 1264.7,369.9 1266.7,368.2 1268.7,366.8 1270.7,365.5 1272.7,364.4 1274.7,363.5 1276.7,362.9 1278.7,362.4 1280.7,362.1 1282.7,362.1 1284.7,362.3 1286.7,362.7 1288.7,363.3 1290.7,364.1 1292.7,365.2 1294.7,366.4 1296.7,367.8 1298.7,369.3 1300.7,371.1 1302.7,373 1304.7,375 1306.7,377.1 1308.7,379.4 1310.7,381.7 1312.7,384.1 1314.7,386.6 1316.7,389.2 1318.7,391.7 1320.7,394.3 1322.7,396.9 1324.7,399.4 1326.7,402 1328.7,404.5 1330.7,406.9 1332.7,409.3 1334.7,411.7 1336.7,414 1338.7,416.1 1340.7,418.3 1342.7,420.3 1344.7,422.2 1346.7,424 1348.7,425.8 1350.7,427.4 1352.7,429 1354.7,430.4 1356.7,431.8 1358.7,433 1360.7,434.2 1362.7,435.3 1364.7,436.3 1366.7,437.2 1368.7,438 1370.7,438.8 1372.7,439.5 1374.7,440.1 1376.7,440.7 1378.7,441.2 1380.7,441.7 1382.7,442.1 1384.7,442.5 1386.7,442.8 1388.7,443.1 1390.7,443.4 1392.7,443.6 1394.7,443.8 1396.7,444 1398.7,444.1 1400.7,444.3 1402.7,444.4 1404.7,444.5 1406.7,444.6 1408.7,444.7 1410.7,444.7 1412.7,444.8 1414.7,444.8 1416.7,444.9 1418.7,444.9 1420.7,444.9 1422.7,445 1424.7,445 1426.7,445 1428.7,445 1430.7,445 1432.7,445.1 1434.7,445.1 1436.7,445.1 1438.7,445.1 1440.7,445.1 1442.7,445.1 1444.7,445.1 1446.7,445.1 1448.7,445.1 1450.7,445.1 1452.7,445.1 1454.7,445.1 1456.7,445.1 1458.7,445.1 1460.7,445.1 1462.7,445.1 1464.7,445.1 1466.7,445.1 1468.7,445.1 1470.7,445.1 1472.7,445.1 1474.7,445.1 1476.7,445.1 1478.7,445.1 1480.7,445.1 1482.7,445.1 1484.7,445.1 1486.7,445.1 1488.7,445.1 1490.7,445.1 1492.7,445.1 1494.7,445.1 1496.7,445.1 1498.7,445.1 1500.7,445.1 1502.7,445.1 1504.7,445.1 1506.7,445.1 1508.7,445.1 1510.7,445.1 1512.7,445.1 1514.7,445.1 1516.7,445.1 1518.7,445.1 1520.7,445.1 1522.7,445.1 1524.7,445.1 1526.7,445.1 1528.7,445.1 1530.7,445.1 1532.7,445.1 1534.7,445.1 1536.7,445.1 1538.7,445.1 1540.7,445.1 1542.7,445.1 1544.7,445.1 1546.7,445.1 1548.7,445.1 1550.7,445.1 1552.7,445.1 1554.7,445.1 1556.7,445.1 1558.7,445.1 1560.7,445.1 1562.7,445.1 1564.7,445.1 1566.7,445.1 1568.7,445.1 1570.7,445.1 1572.7,445.1 1574.7,445.1 1576.7,445.1 1578.7,445.1 1580.7,445.1 1582.7,445.1" fill="none" stroke="#00ff00" stroke-width="4.0" stroke-linejoin="round" stroke-linecap="butt"/>
<polyline points="920.7,445 922.7,445 924.7,445 926.7,445 928.7,445 930.7,445 932.7,445 934.7,445 936.7,445 938.7,445 940.7,445 942.7,445 944.7,445 946.7,445 948.7,445 950.7,445 952.7,445 954.7,445 956.7,445 958.7,445 960.7,445 962.7,445 964.7,445 966.7,445 968.7,445 970.7,445 972.7,445 974.7,445 976.7,445 978.7,445 980.7,445 982.7,445 984.7,445 986.7,445 988.7,445 990.7,444.9 992.7,444.9 994.7,444.9 996.7,444.9 998.7,444.9 1000.7,444.9 1002.7,444.9 1004.7,444.9 1006.7,444.9 1008.7,444.9 1010.7,444.9 1012.7,444.9 1014.7,444.9 1016.7,444.9 1018.7,444.9 1020.7,444.9 1022.7,444.9 1024.7,444.9 1026.7,444.9 1028.7,444.9 1030.7,444.9 1032.7,444.9 1034.7,444.9 1036.7,444.9 1038.7,444.9 1040.7,444.9 1042.7,444.9 1044.7,444.9 1046.7,444.9 1048.7,444.9 1050.7,444.9 1052.7,444.9 1054.7,444.9 1056.7,444.9 1058.7,444.9 1060.7,444.9 1062.7,444.9 1064.7,444.9 1066.7,444.9 1068.7,444.9 1070.7,444.9 1072.7,444.9 1074.7,444.9 1076.7,444.9 1078.7,444.9 1080.7,444.9 1082.7,444.9 1084.7,444.9 1086.7,444.9 1088.7,444.9 1090.7,444.9 1092.7,444.8 1094.7,444.8 1096.7,444.8 1098.7,444.8 1100.7,444.8 1102.7,444.8 1104.7,444.8 1106.7,444.8 1108.7,444.8 1110.7,444.8 1112.7,444.8 1114.7,444.8 1116.7,444.8 1118.7,444.8 1120.7,444.8 1122.7,444.8 1124.7,444.8 1126.7,444.8 1128.7,444.8 1130.7,444.8 1132.7,444.8 1134.7,444.8 1136.7,444.8 1138.7,444.8 1140.7,444.8 1142.7,444.8 1144.7,444.8 1146.7,444.8 1148.7,444.7 1150.7,444.7 1152.7,444.7 1154.7,444.7 1156.7,444.7 1158.7,444.7 1160.7,444.7 1162.7,444.7 1164.7,444.7 1166.7,444.7 1168.7,444.7 1170.7,444.7 1172.7,444.7 1174.7,444.7 1176.7,444.7 1178.7,444.7 1180.7,444.7 1182.7,444.6 1184.7,444.6 1186.7,444.6 1188.7,444.6 1190.7,444.6 1192.7,444.6 1194.7,444.6 1196.7,444.6 1198.7,444.6 1200.7,444.6 1202.7,444.6 1204.7,444.6 1206.7,444.5 1208.7,444.5 1210.7,444.5 1212.7,444.5 1214.7,444.5 1216.7,444.5 1218.7,444.5 1220.7,444.5 1222.7,444.5 1224.7,444.4 1226.7,444.4 1228.7,444.4 1230.7,444.4 1232.7,444.4 1234.7,444.4 1236.7,444.3 1238.7,444.3 1240.7,444.3 1242.7,444.3 1244.7,444.2 1246.7,444.2 1248.7,444.2 1250.7,444.2 1252.7,444.1 1254.7,444.1 1256.7,444.1 1258.7,444 1260.7,444 1262.7,444 1264.7,443.9 1266.7,443.9 1268.7,443.8 1270.7,443.8 1272.7,443.7 1274.7,443.7 1276.7,443.6 1278.7,443.5 1280.7,443.5 1282.7,443.4 1284.7,443.3 1286.7,443.2 1288.7,443.1 1290.7,443 1292.7,442.9 1294.7,442.8 1296.7,442.7 1298.7,442.6 1300.7,442.5 1302.7,442.4 1304.7,442.2 1306.7,442.1 1308.7,441.9 1310.7,441.8 1312.7,441.6 1314.7,441.4 1316.7,441.3 1318.7,441.1 1320.7,440.9 1322.7,440.7 1324.7,440.4 1326.7,440.2 1328.7,440 1330.7,439.8 1332.7,439.5 1334.7,439.2 1336.7,439 1338.7,438.7 1340.7,438.4 1342.7,438.1 1344.7,437.8 1346.7,437.5 1348.7,437.2 1350.7,436.8 1352.7,436.5 1354.7,436.2 1356.7,435.8 1358.7,435.5 1360.7,435.1 1362.7,434.7 1364.7,434.3 1366.7,434 1368.7,433.6 1370.7,433.2 1372.7,432.8 1374.7,432.4 1376.7,432 1378.7,431.6 1380.7,431.2 1382.7,430.8 1384.7,430.4 1386.7,430 1388.7,429.6 1390.7,429.3 1392.7,428.9 1394.7,428.5 1396.7,428.2 1398.7,427.8 1400.7,427.5 1402.7,427.2 1404.7,426.8 1406.7,426.6 1408.7,426.3 1410.7,426 1412.7,425.8 1414.7,425.5 1416.7,425.3 1418.7,425.2 1420.7,425 1422.7,424.9 1424.7,424.8 1426.7,424.7 1428.7,424.6 1430.7,424.6 1432.7,424.6 1434.7,424.6 1436.7,424.7 1438.7,424.7 1440.7,424.8 1442.7,425 1444.7,425.1 1446.7,425.3 1448.7,425.5 1450.7,425.7 1452.7,425.9 1454.7,426.2 1456.7,426.5 1458.7,426.8 1460.7,427.1 1462.7,427.4 1464.7,427.7 1466.7,428.1 1468.7,428.4 1470.7,428.8 1472.7,429.2 1474.7,429.5 1476.7,429.9 1478.7,430.3 1480.7,430.7 1482.7,431.1 1484.7,431.5 1486.7,431.9 1488.7,432.3 1490.7,432.7 1492.7,433.1 1494.7,433.5 1496.7,433.8 1498.7,434.2 1500.7,434.6 1502.7,435 1504.7,435.3 1506.7,435.7 1508.7,436.1 1510.7,436.4 1512.7,436.7 1514.7,437.1 1516.7,437.4 1518.7,437.7 1520.7,438 1522.7,438.3 1524.7,438.6 1526.7,438.9 1528.7,439.2 1530.7,439.4 1532.7,439.7 1534.7,439.9 1536.7,440.2 1538.7,440.4 1540.7,440.6 1542.7,440.8 1544.7,441 1546.7,441.2 1548.7,441.4 1550.7,441.6 1552.7,441.7 1554.7,441.9 1556.7,442 1558.7,442.2 1560.7,442.3 1562.7,442.4 1564.7,442.6 1566.7,442.7 1568.7,442.8 1570.7,442.9 1572.7,443 1574.7,443.1 1576.7,443.2 1578.7,443.3 1580.7,443.4 1582.7,443.4" fill="none" stroke="#ff0000" stroke-width="4.0" stroke-linejoin="round" stroke-linecap="butt"/>
<polyline points="920.7,444.7 922.7,444.7 924.7,444.7 926.7,444.7 928.7,444.7 930.7,444.7 932.7,444.7 934.7,444.7 936.7,444.7 938.7,444.7 940.7,444.7 942.7,444.6 944.7,444.6 946.7,444.6 948.7,444.6 950.7,444.6 952.7,444.6 954.7,444.6 956.7,444.6 958.7,444.6 960.7,444.6 962.7,444.6 964.7,444.6 966.7,444.6 968.7,444.5 970.7,444.5 972.7,444.5 974.7,444.5 976.7,444.5 978.7,444.5 980.7,444.5 982.7,444.5 984.7,444.5 986.7,444.5 988.7,444.4 990.7,444.4 992.7,444.4 994.7,444.4 996.7,444.4 998.7,444.4 1000.7,444.4 1002.7,444.4 1004.7,444.3 1006.7,444.3 1008.7,444.3 1010.7,444.3 1012.7,444.3 1014.7,444.3 1016.7,444.2 1018.7,444.2 1020.7,444.2 1022.7,444.2 1024.7,444.2 1026.7,444.1 1028.7,444.1 1030.7,444.1 1032.7,444.1 1034.7,444 1036.7,444 1038.7,444 1040.7,443.9 1042.7,443.9 1044.7,443.8 1046.7,443.7 1048.7,443.7 1050.7,443.6 1052.7,443.5 1054.7,443.4 1056.7,443.2 1058.7,443.1 1060.7,442.9 1062.7,442.6 1064.7,442.4 1066.7,442.1 1068.7,441.7 1070.7,441.3 1072.7,440.8 1074.7,440.2 1076.7,439.6 1078.7,438.8 1080.7,437.9 1082.7,436.9 1084.7,435.7 1086.7,434.3 1088.7,432.7 1090.7,430.9 1092.7,428.9 1094.7,426.6 1096.7,424 1098.7,421.1 1100.7,417.8 1102.7,414.2 1104.7,410.1 1106.7,405.7 1108.7,400.7 1110.7,395.3 1112.7,389.3 1114.7,382.8 1116.7,375.8 1118.7,368.2 1120.7,360 1122.7,351.2 1124.7,341.8 1126.7,331.9 1128.7,321.3 1130.7,310.3 1132.7,298.7 1134.7,286.6 1136.7,274 1138.7,261.1 1140.7,247.8 1142.7,234.3 1144.7,220.5 1146.7,206.7 1148.7,192.8 1150.7,179 1152.7,165.3 1154.7,151.9 1156.7,138.9 1158.7,126.3 1160.7,114.4 1162.7,103.1 1164.7,92.6 1166.7,83 1168.7,74.4 1170.7,66.8 1172.7,60.3 1174.7,55.1 1176.7,51 1178.7,48.3 1180.7,46.8 1182.7,46.7 1184.7,47.9 1186.7,50.3 1188.7,54 1190.7,58.9 1192.7,64.9 1194.7,71.9 1196.7,80 1198.7,88.9 1200.7,98.6 1202.7,109 1204.7,119.9 1206.7,131.4 1208.7,143.1 1210.7,155.2 1212.7,167.3 1214.7,179.5 1216.7,191.6 1218.7,203.6 1220.7,215.3 1222.7,226.7 1224.7,237.8 1226.7,248.3 1228.7,258.4 1230.7,268 1232.7,276.9 1234.7,285.3 1236.7,293.1 1238.7,300.3 1240.7,306.8 1242.7,312.7 1244.7,318.1 1246.7,322.9 1248.7,327.1 1250.7,330.9 1252.7,334.2 1254.7,337 1256.7,339.4 1258.7,341.5 1260.7,343.3 1262.7,344.8 1264.7,346.1 1266.7,347.2 1268.7,348.2 1270.7,349.1 1272.7,349.9 1274.7,350.6 1276.7,351.4 1278.7,352.1 1280.7,352.9 1282.7,353.8 1284.7,354.7 1286.7,355.8 1288.7,356.9 1290.7,358.2 1292.7,359.6 1294.7,361.1 1296.7,362.7 1298.7,364.5 1300.7,366.3 1302.7,368.3 1304.7,370.3 1306.7,372.5 1308.7,374.7 1310.7,377 1312.7,379.4 1314.7,381.8 1316.7,384.2 1318.7,386.6 1320.7,389 1322.7,391.4 1324.7,393.8 1326.7,396.2 1328.7,398.5 1330.7,400.7 1332.7,402.9 1334.7,405 1336.7,407.1 1338.7,409 1340.7,410.8 1342.7,412.6 1344.7,414.2 1346.7,415.8 1348.7,417.2 1350.7,418.5 1352.7,419.7 1354.7,420.9 1356.7,421.9 1358.7,422.8 1360.7,423.6 1362.7,424.3 1364.7,425 1366.7,425.5 1368.7,426 1370.7,426.4 1372.7,426.7 1374.7,426.9 1376.7,427.1 1378.7,427.2 1380.7,427.3 1382.7,427.4 1384.7,427.3 1386.7,427.3 1388.7,427.2 1390.7,427.1 1392.7,427 1394.7,426.8 1396.7,426.6 1398.7,426.5 1400.7,426.3 1402.7,426.1 1404.7,425.9 1406.7,425.7 1408.7,425.5 1410.7,425.3 1412.7,425.1 1414.7,424.9 1416.7,424.8 1418.7,424.7 1420.7,424.5 1422.7,424.4 1424.7,424.3 1426.7,424.3 1428.7,424.3 1430.7,424.2 1432.7,424.3 1434.7,424.3 1436.7,424.3 1438.7,424.4 1440.7,424.5 1442.7,424.7 1444.7,424.8 1446.7,425 1448.7,425.2 1450.7,425.4 1452.7,425.7 1454.7,425.9 1456.7,426.2 1458.7,426.5 1460.7,426.8 1462.7,427.1 1464.7,427.5 1466.7,427.8 1468.7,428.2 1470.7,428.6 1472.7,428.9 1474.7,429.3 1476.7,429.7 1478.7,430.1 1480.7,430.5 1482.7,430.9 1484.7,431.3 1486.7,431.7 1488.7,432.1 1490.7,432.5 1492.7,432.9 1494.7,433.3 1496.7,433.7 1498.7,434 1500.7,434.4 1502.7,434.8 1504.7,435.2 1506.7,435.5 1508.7,435.9 1510.7,436.2 1512.7,436.6 1514.7,436.9 1516.7,437.2 1518.7,437.5 1520.7,437.9 1522.7,438.2 1524.7,438.4 1526.7,438.7 1528.7,439 1530.7,439.3 1532.7,439.5 1534.7,439.8 1536.7,440 1538.7,440.2 1540.7,440.5 1542.7,440.7 1544.7,440.9 1546.7,441.1 1548.7,441.2 1550.7,441.4 1552.7,441.6 1554.7,441.7 1556.7,441.9 1558.7,442 1560.7,442.2 1562.7,442.3 1564.7,442.4 1566.7,442.6 1568.7,442.7 1570.7,442.8 1572.7,442.9 1574.7,443 1576.7,443.1 1578.7,443.2 1580.7,443.2 1582.7,443.3" fill="none" stroke="#ffff33" stroke-width="3.2" stroke-linejoin="round" stroke-linecap="butt" stroke-dasharray="3 5"/>
<text x="1284.2" y="93.5" font-size="33" fill="#000">C–H</text>
<line x1="1268.7" y1="72" x2="1212.7" y2="56.2" stroke="#000" stroke-width="1.8"/>
<polygon points="1205,54 1214.6,53.1 1212.7,59.8" fill="#000"/>
<text x="1318.9" y="275" font-size="33" fill="#000">C–N</text>
<line x1="1332.5" y1="280" x2="1300" y2="336.5" stroke="#000" stroke-width="1.8"/>
<polygon points="1296,343.4 1297.5,333.9 1303.5,337.3" fill="#000"/>
<text x="1412.4" y="343" font-size="33" fill="#000">C≡N</text>
<line x1="1441.7" y1="345.5" x2="1435.6" y2="403.4" stroke="#000" stroke-width="1.8"/>
<polygon points="1434.8,411.4 1432.3,402.1 1439.2,402.8" fill="#000"/>
<rect x="1718.1" y="11" width="666.1" height="491.6" fill="none" stroke="#3c3c3c" stroke-width="2.6"/>
<line x1="1718.1" y1="503.6" x2="1718.1" y2="512.6" stroke="#3c3c3c" stroke-width="2"/>
<line x1="2051.1" y1="503.6" x2="2051.1" y2="512.6" stroke="#3c3c3c" stroke-width="2"/>
<line x1="2384.2" y1="503.6" x2="2384.2" y2="512.6" stroke="#3c3c3c" stroke-width="2"/>
<line x1="1884.6" y1="503.6" x2="1884.6" y2="508.1" stroke="#3c3c3c" stroke-width="2"/>
<line x1="2217.7" y1="503.6" x2="2217.7" y2="508.1" stroke="#3c3c3c" stroke-width="2"/>
<text x="1718.1" y="537.1" font-size="24" fill="#000" text-anchor="middle">280</text>
<text x="2051.1" y="537.1" font-size="24" fill="#000" text-anchor="middle">285</text>
<text x="2384.2" y="537.1" font-size="24" fill="#000" text-anchor="middle">290</text>
<text x="1842.3" y="596.8" font-size="48" fill="#000" textLength="425" lengthAdjust="spacingAndGlyphs">Binding Energy (eV)</text>
<text transform="translate(1678.8,269.8) rotate(-90)" font-size="48" text-anchor="middle" textLength="303" lengthAdjust="spacingAndGlyphs">Intensity (a.u.)</text>
<text x="1611.8" y="65.5" font-size="80" fill="#000">(c)</text>
<text x="2322" y="59" font-size="41" fill="#000" text-anchor="middle">SP2</text>
<text x="2322" y="110.5" font-size="41" fill="#000" text-anchor="middle">C 1s</text>
<polyline points="1719.4,453.8 1721.4,455 1723.4,455.5 1725.4,454.5 1727.4,454.6 1729.4,454.5 1731.4,454.9 1733.4,455.5 1735.4,454.2 1737.4,453.3 1739.4,454.7 1741.4,454.5 1743.4,455.2 1745.4,453.8 1747.4,454 1749.4,454.8 1751.4,454.1 1753.4,455.4 1755.4,456 1757.4,454.3 1759.4,453.3 1761.4,454 1763.4,455.3 1765.4,454.7 1767.4,454 1769.4,454.1 1771.4,453.2 1773.4,453.2 1775.4,453.7 1777.4,454.1 1779.4,453.7 1781.4,453.4 1783.4,453.3 1785.4,453.8 1787.4,453.6 1789.4,452.9 1791.4,454.5 1793.4,454.7 1795.4,455 1797.4,454 1799.4,455.4 1801.4,455.9 1803.4,454.4 1805.4,454.1 1807.4,454.8 1809.4,455.2 1811.4,455.9 1813.4,455.1 1815.4,455.6 1817.4,455.5 1819.4,454.6 1821.4,454.8 1823.4,455.6 1825.4,455.9 1827.4,455.3 1829.4,455.1 1831.4,453.5 1833.4,452.9 1835.4,453.7 1837.4,453.1 1839.4,452 1841.4,452.2 1843.4,452.5 1845.4,452.4 1847.4,451.5 1849.4,450.8 1851.4,450.2 1853.4,450.1 1855.4,449.1 1857.4,447.8 1859.4,447 1861.4,445 1863.4,443.7 1865.4,444.2 1867.4,444.8 1869.4,443.7 1871.4,442.2 1873.4,440.2 1875.4,439.4 1877.4,439.5 1879.4,438.3 1881.4,436.3 1883.4,435 1885.4,431.3 1887.4,428.7 1889.4,426.8 1891.4,423.3 1893.4,419.4 1895.4,415 1897.4,411.4 1899.4,408.4 1901.4,402.6 1903.4,400.6 1905.4,397.8 1907.4,394.4 1909.4,390.4 1911.4,386.1 1913.4,380.5 1915.4,375.5 1917.4,369.9 1919.4,363 1921.4,355.9 1923.4,346 1925.4,334.5 1927.4,323.7 1929.4,312.1 1931.4,299.6 1933.4,286.7 1935.4,274 1937.4,260.9 1939.4,247.2 1941.4,232.9 1943.4,217.5 1945.4,203 1947.4,188.6 1949.4,175.3 1951.4,162.5 1953.4,149.4 1955.4,136.5 1957.4,124.1 1959.4,110.9 1961.4,100.4 1963.4,90.1 1965.4,79.3 1967.4,70 1969.4,62.3 1971.4,57.4 1973.4,51.7 1975.4,47.1 1977.4,45.3 1979.4,43.7 1981.4,42.9 1983.4,44.4 1985.4,48.4 1987.4,52.5 1989.4,58.2 1991.4,66.4 1993.4,74.6 1995.4,83.5 1997.4,93.4 1999.4,102.6 2001.4,113.8 2003.4,125.5 2005.4,137 2007.4,148.8 2009.4,162.9 2011.4,175.4 2013.4,187.3 2015.4,200.3 2017.4,213.3 2019.4,223.9 2021.4,234.7 2023.4,245.8 2025.4,257.8 2027.4,267.3 2029.4,277.9 2031.4,287.4 2033.4,295.7 2035.4,302.6 2037.4,311.1 2039.4,317.9 2041.4,322.9 2043.4,326.7 2045.4,331.4 2047.4,334.7 2049.4,338.1 2051.4,340.2 2053.4,342.9 2055.4,344 2057.4,346 2059.4,349.3 2061.4,351.5 2063.4,351.7 2065.4,353.6 2067.4,353.6 2069.4,355.5 2071.4,356.4 2073.4,356.4 2075.4,356.4 2077.4,356.1 2079.4,358.5 2081.4,358.3 2083.4,360.6 2085.4,362.7 2087.4,363.6 2089.4,363.8 2091.4,366.4 2093.4,368.9 2095.4,370.4 2097.4,371.8 2099.4,373.1 2101.4,374.8 2103.4,376.3 2105.4,379.3 2107.4,381.4 2109.4,383 2111.4,384.8 2113.4,388.2 2115.4,390.3 2117.4,392.9 2119.4,395.1 2121.4,398.6 2123.4,401.6 2125.4,402.1 2127.4,403.8 2129.4,405.9 2131.4,409.5 2133.4,411.9 2135.4,412.9 2137.4,413.9 2139.4,416.3 2141.4,418.7 2143.4,421 2145.4,421.5 2147.4,423.7 2149.4,425 2151.4,425.7 2153.4,427.7 2155.4,427.5 2157.4,429 2159.4,428.6 2161.4,428.9 2163.4,431.1 2165.4,431 2167.4,432.4 2169.4,433 2171.4,434.4 2173.4,434.4 2175.4,434.7 2177.4,435 2179.4,436.9 2181.4,437.6 2183.4,439 2185.4,440 2187.4,438.6 2189.4,439 2191.4,438.1 2193.4,437.6 2195.4,437.5 2197.4,439.4 2199.4,440.3 2201.4,440.5 2203.4,439 2205.4,438.6 2207.4,438.5 2209.4,437.2 2211.4,436.7 2213.4,435.2 2215.4,433.8 2217.4,433.2 2219.4,434.1 2221.4,433.5 2223.4,433.9 2225.4,432.7 2227.4,431.4 2229.4,431.6 2231.4,431.6 2233.4,429.4 2235.4,429.8 2237.4,429.3 2239.4,429.3 2241.4,431.4 2243.4,430.8 2245.4,431.1 2247.4,433.4 2249.4,433.5 2251.4,433.1 2253.4,433.3 2255.4,433.8 2257.4,435.6 2259.4,435.3 2261.4,437.3 2263.4,437.4 2265.4,439.1 2267.4,439.8 2269.4,438.8 2271.4,438.2 2273.4,438.6 2275.4,438 2277.4,439 2279.4,438.3 2281.4,437.9 2283.4,440.1 2285.4,439.8 2287.4,440.4 2289.4,440.5 2291.4,440.4 2293.4,439.8 2295.4,441.6 2297.4,442.9 2299.4,443.6 2301.4,442.1 2303.4,441.6 2305.4,442.5 2307.4,443.9 2309.4,443.7 2311.4,444.1 2313.4,444.3 2315.4,443.6 2317.4,444 2319.4,443.7 2321.4,443.5 2323.4,443.1 2325.4,443.5 2327.4,445.5 2329.4,445.4 2331.4,445.9 2333.4,446.3 2335.4,447.3 2337.4,446.6 2339.4,446.1 2341.4,446 2343.4,446 2345.4,447.4 2347.4,448.3 2349.4,447.5 2351.4,447.2 2353.4,447.6 2355.4,448 2357.4,448.4 2359.4,447.8 2361.4,447 2363.4,447.2 2365.4,447 2367.4,448.1 2369.4,447.6 2371.4,447.4 2373.4,448.7 2375.4,448.7 2377.4,449.9 2379.4,450 2381.4,450.9" fill="none" stroke="#484848" stroke-width="3.2" stroke-linejoin="round" stroke-linecap="butt"/>
<polyline points="1719.4,455 1721.4,455 1723.4,455 1725.4,455 1727.4,455 1729.4,455 1731.4,455 1733.4,455 1735.4,455 1737.4,455 1739.4,455 1741.4,455 1743.4,455 1745.4,455 1747.4,455 1749.4,455 1751.4,455 1753.4,455 1755.4,455 1757.4,455 1759.4,455 1761.4,455 1763.4,455 1765.4,455 1767.4,455 1769.4,455 1771.4,455 1773.4,455 1775.4,455 1777.4,455 1779.4,455 1781.4,455 1783.4,455 1785.4,455 1787.4,455 1789.4,455 1791.4,455 1793.4,455 1795.4,455 1797.4,455 1799.4,455 1801.4,455 1803.4,455 1805.4,455 1807.4,455 1809.4,455 1811.4,455 1813.4,455 1815.4,455 1817.4,455 1819.4,455 1821.4,455 1823.4,455 1825.4,455 1827.4,455 1829.4,455 1831.4,455 1833.4,454.9 1835.4,454.9 1837.4,454.9 1839.4,454.9 1841.4,454.9 1843.4,454.8 1845.4,454.8 1847.4,454.7 1849.4,454.7 1851.4,454.6 1853.4,454.5 1855.4,454.4 1857.4,454.2 1859.4,454.1 1861.4,453.9 1863.4,453.6 1865.4,453.3 1867.4,452.9 1869.4,452.5 1871.4,452 1873.4,451.4 1875.4,450.7 1877.4,449.9 1879.4,449 1881.4,447.9 1883.4,446.6 1885.4,445.2 1887.4,443.5 1889.4,441.6 1891.4,439.5 1893.4,437 1895.4,434.2 1897.4,431.1 1899.4,427.6 1901.4,423.7 1903.4,419.4 1905.4,414.6 1907.4,409.3 1909.4,403.4 1911.4,397.1 1913.4,390.2 1915.4,382.7 1917.4,374.6 1919.4,365.9 1921.4,356.5 1923.4,346.6 1925.4,336.1 1927.4,325 1929.4,313.3 1931.4,301.2 1933.4,288.5 1935.4,275.4 1937.4,261.9 1939.4,248.1 1941.4,234.1 1943.4,219.9 1945.4,205.7 1947.4,191.5 1949.4,177.4 1951.4,163.6 1953.4,150.1 1955.4,137 1957.4,124.5 1959.4,112.7 1961.4,101.6 1963.4,91.4 1965.4,82.2 1967.4,74.1 1969.4,67.1 1971.4,61.3 1973.4,56.7 1975.4,53.5 1977.4,51.6 1979.4,51 1981.4,51.8 1983.4,54 1985.4,57.5 1987.4,62.3 1989.4,68.4 1991.4,75.6 1993.4,84 1995.4,93.4 1997.4,103.8 1999.4,115 2001.4,127 2003.4,139.6 2005.4,152.7 2007.4,166.3 2009.4,180.2 2011.4,194.3 2013.4,208.6 2015.4,222.8 2017.4,236.9 2019.4,250.9 2021.4,264.7 2023.4,278.1 2025.4,291.1 2027.4,303.6 2029.4,315.7 2031.4,327.3 2033.4,338.3 2035.4,348.7 2037.4,358.5 2039.4,367.6 2041.4,376.2 2043.4,384.2 2045.4,391.6 2047.4,398.4 2049.4,404.7 2051.4,410.4 2053.4,415.6 2055.4,420.3 2057.4,424.5 2059.4,428.3 2061.4,431.8 2063.4,434.8 2065.4,437.5 2067.4,439.9 2069.4,442 2071.4,443.9 2073.4,445.5 2075.4,446.9 2077.4,448.1 2079.4,449.2 2081.4,450.1 2083.4,450.9 2085.4,451.6 2087.4,452.1 2089.4,452.6 2091.4,453 2093.4,453.4 2095.4,453.7 2097.4,453.9 2099.4,454.1 2101.4,454.3 2103.4,454.4 2105.4,454.5 2107.4,454.6 2109.4,454.7 2111.4,454.7 2113.4,454.8 2115.4,454.8 2117.4,454.9 2119.4,454.9 2121.4,454.9 2123.4,454.9 2125.4,455 2127.4,455 2129.4,455 2131.4,455 2133.4,455 2135.4,455 2137.4,455 2139.4,455 2141.4,455 2143.4,455 2145.4,455 2147.4,455 2149.4,455 2151.4,455 2153.4,455 2155.4,455 2157.4,455 2159.4,455 2161.4,455 2163.4,455 2165.4,455 2167.4,455 2169.4,455 2171.4,455 2173.4,455 2175.4,455 2177.4,455 2179.4,455 2181.4,455 2183.4,455 2185.4,455 2187.4,455 2189.4,455 2191.4,455 2193.4,455 2195.4,455 2197.4,455 2199.4,455 2201.4,455 2203.4,455 2205.4,455 2207.4,455 2209.4,455 2211.4,455 2213.4,455 2215.4,455 2217.4,455 2219.4,455 2221.4,455 2223.4,455 2225.4,455 2227.4,455 2229.4,455 2231.4,455 2233.4,455 2235.4,455 2237.4,455 2239.4,455 2241.4,455 2243.4,455 2245.4,455 2247.4,455 2249.4,455 2251.4,455 2253.4,455 2255.4,455 2257.4,455 2259.4,455 2261.4,455 2263.4,455 2265.4,455 2267.4,455 2269.4,455 2271.4,455 2273.4,455 2275.4,455 2277.4,455 2279.4,455 2281.4,455 2283.4,455 2285.4,455 2287.4,455 2289.4,455 2291.4,455 2293.4,455 2295.4,455 2297.4,455 2299.4,455 2301.4,455 2303.4,455 2305.4,455 2307.4,455 2309.4,455 2311.4,455 2313.4,455 2315.4,455 2317.4,455 2319.4,455 2321.4,455 2323.4,455 2325.4,455 2327.4,455 2329.4,455 2331.4,455 2333.4,455 2335.4,455 2337.4,455 2339.4,455 2341.4,455 2343.4,455 2345.4,455 2347.4,455 2349.4,455 2351.4,455 2353.4,455 2355.4,455 2357.4,455 2359.4,455 2361.4,455 2363.4,455 2365.4,455 2367.4,455 2369.4,455 2371.4,455 2373.4,455 2375.4,455 2377.4,455 2379.4,455 2381.4,455" fill="none" stroke="#0000ff" stroke-width="4.0" stroke-linejoin="round" stroke-linecap="butt"/>
<polyline points="1719.4,454.7 1721.4,454.7 1723.4,454.7 1725.4,454.7 1727.4,454.7 1729.4,454.7 1731.4,454.7 1733.4,454.7 1735.4,454.7 1737.4,454.7 1739.4,454.7 1741.4,454.7 1743.4,454.7 1745.4,454.7 1747.4,454.7 1749.4,454.7 1751.4,454.6 1753.4,454.6 1755.4,454.6 1757.4,454.6 1759.4,454.6 1761.4,454.6 1763.4,454.6 1765.4,454.6 1767.4,454.6 1769.4,454.6 1771.4,454.6 1773.4,454.6 1775.4,454.6 1777.4,454.6 1779.4,454.6 1781.4,454.6 1783.4,454.6 1785.4,454.6 1787.4,454.6 1789.4,454.6 1791.4,454.6 1793.4,454.6 1795.4,454.6 1797.4,454.6 1799.4,454.6 1801.4,454.6 1803.4,454.6 1805.4,454.6 1807.4,454.5 1809.4,454.5 1811.4,454.5 1813.4,454.5 1815.4,454.5 1817.4,454.5 1819.4,454.5 1821.4,454.5 1823.4,454.5 1825.4,454.5 1827.4,454.5 1829.4,454.5 1831.4,454.5 1833.4,454.5 1835.4,454.5 1837.4,454.5 1839.4,454.5 1841.4,454.5 1843.4,454.5 1845.4,454.5 1847.4,454.4 1849.4,454.4 1851.4,454.4 1853.4,454.4 1855.4,454.4 1857.4,454.4 1859.4,454.4 1861.4,454.4 1863.4,454.4 1865.4,454.4 1867.4,454.4 1869.4,454.4 1871.4,454.4 1873.4,454.3 1875.4,454.3 1877.4,454.3 1879.4,454.3 1881.4,454.3 1883.4,454.3 1885.4,454.3 1887.4,454.3 1889.4,454.3 1891.4,454.3 1893.4,454.2 1895.4,454.2 1897.4,454.2 1899.4,454.2 1901.4,454.2 1903.4,454.2 1905.4,454.2 1907.4,454.1 1909.4,454.1 1911.4,454.1 1913.4,454.1 1915.4,454.1 1917.4,454.1 1919.4,454 1921.4,454 1923.4,454 1925.4,454 1927.4,454 1929.4,453.9 1931.4,453.9 1933.4,453.9 1935.4,453.9 1937.4,453.8 1939.4,453.8 1941.4,453.8 1943.4,453.8 1945.4,453.7 1947.4,453.7 1949.4,453.7 1951.4,453.6 1953.4,453.6 1955.4,453.6 1957.4,453.5 1959.4,453.5 1961.4,453.4 1963.4,453.4 1965.4,453.4 1967.4,453.3 1969.4,453.3 1971.4,453.2 1973.4,453.2 1975.4,453.1 1977.4,453.1 1979.4,453 1981.4,452.9 1983.4,452.9 1985.4,452.8 1987.4,452.8 1989.4,452.7 1991.4,452.6 1993.4,452.6 1995.4,452.5 1997.4,452.4 1999.4,452.3 2001.4,452.3 2003.4,452.2 2005.4,452.1 2007.4,452 2009.4,451.9 2011.4,451.8 2013.4,451.7 2015.4,451.6 2017.4,451.5 2019.4,451.4 2021.4,451.3 2023.4,451.2 2025.4,451.1 2027.4,451 2029.4,450.9 2031.4,450.7 2033.4,450.6 2035.4,450.5 2037.4,450.4 2039.4,450.2 2041.4,450.1 2043.4,449.9 2045.4,449.8 2047.4,449.6 2049.4,449.5 2051.4,449.3 2053.4,449.2 2055.4,449 2057.4,448.9 2059.4,448.7 2061.4,448.5 2063.4,448.4 2065.4,448.2 2067.4,448 2069.4,447.8 2071.4,447.6 2073.4,447.4 2075.4,447.2 2077.4,447.1 2079.4,446.9 2081.4,446.7 2083.4,446.4 2085.4,446.2 2087.4,446 2089.4,445.8 2091.4,445.6 2093.4,445.4 2095.4,445.2 2097.4,445 2099.4,444.7 2101.4,444.5 2103.4,444.3 2105.4,444.1 2107.4,443.8 2109.4,443.6 2111.4,443.4 2113.4,443.1 2115.4,442.9 2117.4,442.7 2119.4,442.4 2121.4,442.2 2123.4,442 2125.4,441.7 2127.4,441.5 2129.4,441.3 2131.4,441 2133.4,440.8 2135.4,440.6 2137.4,440.3 2139.4,440.1 2141.4,439.9 2143.4,439.6 2145.4,439.4 2147.4,439.2 2149.4,439 2151.4,438.8 2153.4,438.5 2155.4,438.3 2157.4,438.1 2159.4,437.9 2161.4,437.7 2163.4,437.5 2165.4,437.4 2167.4,437.2 2169.4,437 2171.4,436.8 2173.4,436.7 2175.4,436.5 2177.4,436.3 2179.4,436.2 2181.4,436.1 2183.4,435.9 2185.4,435.8 2187.4,435.7 2189.4,435.6 2191.4,435.5 2193.4,435.4 2195.4,435.3 2197.4,435.3 2199.4,435.2 2201.4,435.1 2203.4,435.1 2205.4,435.1 2207.4,435 2209.4,435 2211.4,435 2213.4,435 2215.4,435 2217.4,435 2219.4,435.1 2221.4,435.1 2223.4,435.2 2225.4,435.2 2227.4,435.3 2229.4,435.4 2231.4,435.4 2233.4,435.5 2235.4,435.6 2237.4,435.7 2239.4,435.9 2241.4,436 2243.4,436.1 2245.4,436.3 2247.4,436.4 2249.4,436.6 2251.4,436.7 2253.4,436.9 2255.4,437.1 2257.4,437.2 2259.4,437.4 2261.4,437.6 2263.4,437.8 2265.4,438 2267.4,438.2 2269.4,438.4 2271.4,438.6 2273.4,438.8 2275.4,439.1 2277.4,439.3 2279.4,439.5 2281.4,439.7 2283.4,440 2285.4,440.2 2287.4,440.4 2289.4,440.6 2291.4,440.9 2293.4,441.1 2295.4,441.3 2297.4,441.6 2299.4,441.8 2301.4,442.1 2303.4,442.3 2305.4,442.5 2307.4,442.8 2309.4,443 2311.4,443.2 2313.4,443.5 2315.4,443.7 2317.4,443.9 2319.4,444.1 2321.4,444.4 2323.4,444.6 2325.4,444.8 2327.4,445 2329.4,445.3 2331.4,445.5 2333.4,445.7 2335.4,445.9 2337.4,446.1 2339.4,446.3 2341.4,446.5 2343.4,446.7 2345.4,446.9 2347.4,447.1 2349.4,447.3 2351.4,447.5 2353.4,447.7 2355.4,447.9 2357.4,448.1 2359.4,448.2 2361.4,448.4 2363.4,448.6 2365.4,448.8 2367.4,448.9 2369.4,449.1 2371.4,449.2 2373.4,449.4 2375.4,449.6 2377.4,449.7 2379.4,449.9 2381.4,450" fill="none" stroke="#ff0000" stroke-width="4.0" stroke-linejoin="round" stroke-linecap="butt"/>
<polyline points="1719.4,455 1721.4,455 1723.4,455 1725.4,455 1727.4,455 1729.4,455 1731.4,455 1733.4,455 1735.4,455 1737.4,455 1739.4,455 1741.4,455 1743.4,455 1745.4,455 1747.4,455 1749.4,455 1751.4,455 1753.4,455 1755.4,455 1757.4,455 1759.4,455 1761.4,455 1763.4,455 1765.4,455 1767.4,455 1769.4,455 1771.4,455 1773.4,455 1775.4,455 1777.4,455 1779.4,455 1781.4,455 1783.4,455 1785.4,455 1787.4,455 1789.4,455 1791.4,455 1793.4,455 1795.4,455 1797.4,455 1799.4,455 1801.4,455 1803.4,455 1805.4,455 1807.4,455 1809.4,455 1811.4,455 1813.4,455 1815.4,455 1817.4,455 1819.4,455 1821.4,455 1823.4,455 1825.4,455 1827.4,455 1829.4,455 1831.4,455 1833.4,455 1835.4,455 1837.4,455 1839.4,455 1841.4,455 1843.4,455 1845.4,455 1847.4,455 1849.4,455 1851.4,455 1853.4,455 1855.4,455 1857.4,455 1859.4,455 1861.4,455 1863.4,455 1865.4,455 1867.4,455 1869.4,455 1871.4,455 1873.4,455 1875.4,455 1877.4,455 1879.4,455 1881.4,455 1883.4,455 1885.4,455 1887.4,455 1889.4,455 1891.4,455 1893.4,455 1895.4,455 1897.4,455 1899.4,455 1901.4,455 1903.4,455 1905.4,455 1907.4,455 1909.4,455 1911.4,455 1913.4,455 1915.4,455 1917.4,455 1919.4,455 1921.4,455 1923.4,455 1925.4,455 1927.4,455 1929.4,455 1931.4,455 1933.4,455 1935.4,454.9 1937.4,454.9 1939.4,454.9 1941.4,454.9 1943.4,454.9 1945.4,454.9 1947.4,454.8 1949.4,454.8 1951.4,454.8 1953.4,454.7 1955.4,454.7 1957.4,454.6 1959.4,454.5 1961.4,454.4 1963.4,454.3 1965.4,454.2 1967.4,454.1 1969.4,453.9 1971.4,453.7 1973.4,453.5 1975.4,453.3 1977.4,453 1979.4,452.7 1981.4,452.3 1983.4,451.9 1985.4,451.5 1987.4,451 1989.4,450.4 1991.4,449.8 1993.4,449.1 1995.4,448.4 1997.4,447.5 1999.4,446.6 2001.4,445.6 2003.4,444.5 2005.4,443.4 2007.4,442.1 2009.4,440.7 2011.4,439.2 2013.4,437.6 2015.4,436 2017.4,434.2 2019.4,432.3 2021.4,430.3 2023.4,428.2 2025.4,426 2027.4,423.8 2029.4,421.4 2031.4,419 2033.4,416.5 2035.4,414 2037.4,411.4 2039.4,408.8 2041.4,406.2 2043.4,403.5 2045.4,400.9 2047.4,398.3 2049.4,395.8 2051.4,393.3 2053.4,390.9 2055.4,388.6 2057.4,386.5 2059.4,384.4 2061.4,382.5 2063.4,380.8 2065.4,379.2 2067.4,377.8 2069.4,376.6 2071.4,375.7 2073.4,374.9 2075.4,374.4 2077.4,374.1 2079.4,374 2081.4,374.2 2083.4,374.6 2085.4,375.2 2087.4,376 2089.4,377.1 2091.4,378.3 2093.4,379.8 2095.4,381.4 2097.4,383.2 2099.4,385.2 2101.4,387.3 2103.4,389.5 2105.4,391.9 2107.4,394.3 2109.4,396.8 2111.4,399.4 2113.4,402 2115.4,404.6 2117.4,407.2 2119.4,409.8 2121.4,412.4 2123.4,415 2125.4,417.5 2127.4,420 2129.4,422.4 2131.4,424.7 2133.4,426.9 2135.4,429.1 2137.4,431.1 2139.4,433.1 2141.4,434.9 2143.4,436.7 2145.4,438.3 2147.4,439.8 2149.4,441.3 2151.4,442.6 2153.4,443.8 2155.4,445 2157.4,446 2159.4,447 2161.4,447.9 2163.4,448.7 2165.4,449.4 2167.4,450.1 2169.4,450.7 2171.4,451.2 2173.4,451.7 2175.4,452.1 2177.4,452.5 2179.4,452.8 2181.4,453.1 2183.4,453.4 2185.4,453.6 2187.4,453.8 2189.4,454 2191.4,454.1 2193.4,454.3 2195.4,454.4 2197.4,454.5 2199.4,454.5 2201.4,454.6 2203.4,454.7 2205.4,454.7 2207.4,454.8 2209.4,454.8 2211.4,454.8 2213.4,454.9 2215.4,454.9 2217.4,454.9 2219.4,454.9 2221.4,454.9 2223.4,455 2225.4,455 2227.4,455 2229.4,455 2231.4,455 2233.4,455 2235.4,455 2237.4,455 2239.4,455 2241.4,455 2243.4,455 2245.4,455 2247.4,455 2249.4,455 2251.4,455 2253.4,455 2255.4,455 2257.4,455 2259.4,455 2261.4,455 2263.4,455 2265.4,455 2267.4,455 2269.4,455 2271.4,455 2273.4,455 2275.4,455 2277.4,455 2279.4,455 2281.4,455 2283.4,455 2285.4,455 2287.4,455 2289.4,455 2291.4,455 2293.4,455 2295.4,455 2297.4,455 2299.4,455 2301.4,455 2303.4,455 2305.4,455 2307.4,455 2309.4,455 2311.4,455 2313.4,455 2315.4,455 2317.4,455 2319.4,455 2321.4,455 2323.4,455 2325.4,455 2327.4,455 2329.4,455 2331.4,455 2333.4,455 2335.4,455 2337.4,455 2339.4,455 2341.4,455 2343.4,455 2345.4,455 2347.4,455 2349.4,455 2351.4,455 2353.4,455 2355.4,455 2357.4,455 2359.4,455 2361.4,455 2363.4,455 2365.4,455 2367.4,455 2369.4,455 2371.4,455 2373.4,455 2375.4,455 2377.4,455 2379.4,455 2381.4,455" fill="none" stroke="#00ff00" stroke-width="4.0" stroke-linejoin="round" stroke-linecap="butt"/>
<polyline points="1719.4,454.7 1721.4,454.7 1723.4,454.7 1725.4,454.7 1727.4,454.7 1729.4,454.7 1731.4,454.7 1733.4,454.7 1735.4,454.7 1737.4,454.7 1739.4,454.7 1741.4,454.7 1743.4,454.7 1745.4,454.7 1747.4,454.7 1749.4,454.7 1751.4,454.6 1753.4,454.6 1755.4,454.6 1757.4,454.6 1759.4,454.6 1761.4,454.6 1763.4,454.6 1765.4,454.6 1767.4,454.6 1769.4,454.6 1771.4,454.6 1773.4,454.6 1775.4,454.6 1777.4,454.6 1779.4,454.6 1781.4,454.6 1783.4,454.6 1785.4,454.6 1787.4,454.6 1789.4,454.6 1791.4,454.6 1793.4,454.6 1795.4,454.6 1797.4,454.6 1799.4,454.6 1801.4,454.6 1803.4,454.6 1805.4,454.6 1807.4,454.5 1809.4,454.5 1811.4,454.5 1813.4,454.5 1815.4,454.5 1817.4,454.5 1819.4,454.5 1821.4,454.5 1823.4,454.5 1825.4,454.5 1827.4,454.5 1829.4,454.5 1831.4,454.5 1833.4,454.4 1835.4,454.4 1837.4,454.4 1839.4,454.4 1841.4,454.3 1843.4,454.3 1845.4,454.2 1847.4,454.2 1849.4,454.1 1851.4,454 1853.4,453.9 1855.4,453.8 1857.4,453.6 1859.4,453.5 1861.4,453.2 1863.4,453 1865.4,452.7 1867.4,452.3 1869.4,451.9 1871.4,451.4 1873.4,450.8 1875.4,450.1 1877.4,449.3 1879.4,448.3 1881.4,447.2 1883.4,445.9 1885.4,444.5 1887.4,442.8 1889.4,440.9 1891.4,438.7 1893.4,436.2 1895.4,433.5 1897.4,430.3 1899.4,426.8 1901.4,422.9 1903.4,418.5 1905.4,413.7 1907.4,408.4 1909.4,402.6 1911.4,396.2 1913.4,389.3 1915.4,381.7 1917.4,373.6 1919.4,364.9 1921.4,355.6 1923.4,345.6 1925.4,335.1 1927.4,323.9 1929.4,312.3 1931.4,300 1933.4,287.3 1935.4,274.2 1937.4,260.7 1939.4,246.9 1941.4,232.8 1943.4,218.6 1945.4,204.3 1947.4,190 1949.4,175.9 1951.4,161.9 1953.4,148.4 1955.4,135.2 1957.4,122.6 1959.4,110.7 1961.4,99.5 1963.4,89.2 1965.4,79.8 1967.4,71.5 1969.4,64.2 1971.4,58.2 1973.4,53.4 1975.4,49.8 1977.4,47.6 1979.4,46.7 1981.4,47.1 1983.4,48.8 1985.4,51.8 1987.4,56.1 1989.4,61.5 1991.4,68.1 1993.4,75.7 1995.4,84.3 1997.4,93.7 1999.4,103.9 2001.4,114.8 2003.4,126.3 2005.4,138.2 2007.4,150.4 2009.4,162.8 2011.4,175.4 2013.4,187.9 2015.4,200.4 2017.4,212.6 2019.4,224.6 2021.4,236.3 2023.4,247.5 2025.4,258.2 2027.4,268.4 2029.4,278 2031.4,287 2033.4,295.4 2035.4,303.1 2037.4,310.2 2039.4,316.7 2041.4,322.5 2043.4,327.7 2045.4,332.3 2047.4,336.4 2049.4,340 2051.4,343 2053.4,345.7 2055.4,347.9 2057.4,349.8 2059.4,351.4 2061.4,352.8 2063.4,353.9 2065.4,354.9 2067.4,355.7 2069.4,356.5 2071.4,357.2 2073.4,357.8 2075.4,358.5 2077.4,359.3 2079.4,360.1 2081.4,360.9 2083.4,361.9 2085.4,363 2087.4,364.2 2089.4,365.5 2091.4,367 2093.4,368.6 2095.4,370.3 2097.4,372.1 2099.4,374 2101.4,376.1 2103.4,378.2 2105.4,380.5 2107.4,382.8 2109.4,385.1 2111.4,387.5 2113.4,389.9 2115.4,392.3 2117.4,394.8 2119.4,397.2 2121.4,399.6 2123.4,401.9 2125.4,404.2 2127.4,406.4 2129.4,408.6 2131.4,410.7 2133.4,412.7 2135.4,414.6 2137.4,416.4 2139.4,418.1 2141.4,419.8 2143.4,421.3 2145.4,422.7 2147.4,424 2149.4,425.2 2151.4,426.4 2153.4,427.4 2155.4,428.3 2157.4,429.2 2159.4,429.9 2161.4,430.6 2163.4,431.2 2165.4,431.8 2167.4,432.2 2169.4,432.7 2171.4,433 2173.4,433.3 2175.4,433.6 2177.4,433.8 2179.4,434 2181.4,434.2 2183.4,434.3 2185.4,434.4 2187.4,434.5 2189.4,434.6 2191.4,434.6 2193.4,434.7 2195.4,434.7 2197.4,434.7 2199.4,434.7 2201.4,434.8 2203.4,434.8 2205.4,434.8 2207.4,434.8 2209.4,434.8 2211.4,434.8 2213.4,434.9 2215.4,434.9 2217.4,434.9 2219.4,435 2221.4,435 2223.4,435.1 2225.4,435.2 2227.4,435.2 2229.4,435.3 2231.4,435.4 2233.4,435.5 2235.4,435.6 2237.4,435.7 2239.4,435.9 2241.4,436 2243.4,436.1 2245.4,436.3 2247.4,436.4 2249.4,436.6 2251.4,436.7 2253.4,436.9 2255.4,437.1 2257.4,437.2 2259.4,437.4 2261.4,437.6 2263.4,437.8 2265.4,438 2267.4,438.2 2269.4,438.4 2271.4,438.6 2273.4,438.8 2275.4,439.1 2277.4,439.3 2279.4,439.5 2281.4,439.7 2283.4,440 2285.4,440.2 2287.4,440.4 2289.4,440.6 2291.4,440.9 2293.4,441.1 2295.4,441.3 2297.4,441.6 2299.4,441.8 2301.4,442.1 2303.4,442.3 2305.4,442.5 2307.4,442.8 2309.4,443 2311.4,443.2 2313.4,443.5 2315.4,443.7 2317.4,443.9 2319.4,444.1 2321.4,444.4 2323.4,444.6 2325.4,444.8 2327.4,445 2329.4,445.3 2331.4,445.5 2333.4,445.7 2335.4,445.9 2337.4,446.1 2339.4,446.3 2341.4,446.5 2343.4,446.7 2345.4,446.9 2347.4,447.1 2349.4,447.3 2351.4,447.5 2353.4,447.7 2355.4,447.9 2357.4,448.1 2359.4,448.2 2361.4,448.4 2363.4,448.6 2365.4,448.8 2367.4,448.9 2369.4,449.1 2371.4,449.2 2373.4,449.4 2375.4,449.6 2377.4,449.7 2379.4,449.9 2381.4,450" fill="none" stroke="#ffff33" stroke-width="3.2" stroke-linejoin="round" stroke-linecap="butt" stroke-dasharray="3 5"/>
<text x="2079" y="97.5" font-size="33" fill="#000">C–H</text>
<line x1="2064.6" y1="78.2" x2="2009.6" y2="59.4" stroke="#000" stroke-width="1.8"/>
<polygon points="2002,56.8 2011.6,56.4 2009.4,63" fill="#000"/>
<text x="2118.5" y="284" font-size="33" fill="#000">C–N</text>
<line x1="2131.8" y1="292" x2="2099.3" y2="346.1" stroke="#000" stroke-width="1.8"/>
<polygon points="2095.2,353 2096.8,343.5 2102.8,347.1" fill="#000"/>
<text x="2214.7" y="346.5" font-size="33" fill="#000">C≡N</text>
<line x1="2241.8" y1="351.5" x2="2235" y2="407.7" stroke="#000" stroke-width="1.8"/>
<polygon points="2234,415.6 2231.6,406.2 2238.6,407.1" fill="#000"/>
<rect x="114.3" y="629.2" width="666.7" height="493.4" fill="none" stroke="#3c3c3c" stroke-width="2.6"/>
<line x1="114.3" y1="1123.6" x2="114.3" y2="1132.6" stroke="#3c3c3c" stroke-width="2"/>
<line x1="447.7" y1="1123.6" x2="447.7" y2="1132.6" stroke="#3c3c3c" stroke-width="2"/>
<line x1="781" y1="1123.6" x2="781" y2="1132.6" stroke="#3c3c3c" stroke-width="2"/>
<line x1="281" y1="1123.6" x2="281" y2="1128.1" stroke="#3c3c3c" stroke-width="2"/>
<line x1="614.3" y1="1123.6" x2="614.3" y2="1128.1" stroke="#3c3c3c" stroke-width="2"/>
<text x="114.3" y="1157.1" font-size="24" fill="#000" text-anchor="middle">280</text>
<text x="447.7" y="1157.1" font-size="24" fill="#000" text-anchor="middle">285</text>
<text x="781" y="1157.1" font-size="24" fill="#000" text-anchor="middle">290</text>
<text x="238.3" y="1213.3" font-size="48" fill="#000" textLength="425" lengthAdjust="spacingAndGlyphs">Binding Energy (eV)</text>
<text transform="translate(75.3,886.8) rotate(-90)" font-size="48" text-anchor="middle" textLength="303" lengthAdjust="spacingAndGlyphs">Intensity (a.u.)</text>
<text x="8.2" y="684.1" font-size="80" fill="#000">(d)</text>
<text x="717.5" y="677.2" font-size="41" fill="#000" text-anchor="middle">SP3</text>
<text x="717.5" y="728.7" font-size="41" fill="#000" text-anchor="middle">C 1s</text>
<polyline points="115.6,1064.2 117.6,1065 119.6,1065.4 121.6,1064.7 123.6,1064.7 125.6,1064.7 127.6,1065 129.6,1065.4 131.6,1064.5 133.6,1063.9 135.6,1064.8 137.6,1064.7 139.6,1065.2 141.6,1064.2 143.6,1064.4 145.6,1064.9 147.6,1064.4 149.6,1065.3 151.6,1065.7 153.6,1064.6 155.6,1063.9 157.6,1064.4 159.6,1065.3 161.6,1064.9 163.6,1064.4 165.6,1064.4 167.6,1063.9 169.6,1063.8 171.6,1064.2 173.6,1064.4 175.6,1064.2 177.6,1064 179.6,1063.9 181.6,1064.3 183.6,1064.2 185.6,1063.7 187.6,1064.7 189.6,1064.8 191.6,1065.1 193.6,1064.4 195.6,1065.4 197.6,1065.7 199.6,1064.7 201.6,1064.5 203.6,1065 205.6,1065.2 207.6,1065.7 209.6,1065.2 211.6,1065.5 213.6,1065.5 215.6,1064.9 217.6,1065 219.6,1065.5 221.6,1065.7 223.6,1065.3 225.6,1065.2 227.6,1064.3 229.6,1064.1 231.6,1064.8 233.6,1064.6 235.6,1064.1 237.6,1064.4 239.6,1064.8 241.6,1064.7 243.6,1064 245.6,1063.6 247.6,1063.3 249.6,1063.4 251.6,1062.8 253.6,1062.1 255.6,1061.5 257.6,1059.6 259.6,1058.1 261.6,1057.7 263.6,1057.4 265.6,1055.5 267.6,1053.3 269.6,1050.7 271.6,1048.9 273.6,1047.6 275.6,1045.4 277.6,1043.4 279.6,1042.1 281.6,1039.4 283.6,1037.3 285.6,1035.6 287.6,1032.8 289.6,1030.9 291.6,1028.8 293.6,1027 295.6,1025.5 297.6,1021.7 299.6,1019.6 301.6,1016.8 303.6,1013.3 305.6,1008.8 307.6,1003.1 309.6,996.5 311.6,989.5 313.6,981.1 315.6,971.5 317.6,963 319.6,953 321.6,941.9 323.6,930.9 325.6,919.4 327.6,907.2 329.6,894.7 331.6,882.2 333.6,869.4 335.6,856.2 337.6,842.6 339.6,828.4 341.6,814.9 343.6,801.4 345.6,788.9 347.6,777 349.6,765 351.6,753.5 353.6,742.6 355.6,731.4 357.6,722.4 359.6,713.8 361.6,704.9 363.6,697.2 365.6,690.9 367.6,687.1 369.6,683.3 371.6,680.4 373.6,679.8 375.6,679.8 377.6,680.5 379.6,684 381.6,689.6 383.6,695.5 385.6,702.7 387.6,711.6 389.6,720.5 391.6,730 393.6,740.6 395.6,750.7 397.6,761.8 399.6,773.1 401.6,784.3 403.6,795.7 405.6,808.5 407.6,820.1 409.6,831.2 411.6,842.9 413.6,854.5 415.6,864.2 417.6,874 419.6,883.8 421.6,894 423.6,902.4 425.6,911.4 427.6,919.4 429.6,926.5 431.6,932.5 433.6,939.4 435.6,945.1 437.6,949.7 439.6,953.4 441.6,956.8 443.6,959.1 445.6,961.2 447.6,962.6 449.6,964.9 451.6,966 453.6,967.6 455.6,970 457.6,971.5 459.6,971.9 461.6,973.2 463.6,973.3 465.6,974.8 467.6,975.7 469.6,976 471.6,976.3 473.6,976.5 475.6,978.4 477.6,978.5 479.6,980.3 481.6,982.1 483.6,983.7 485.6,985 487.6,987.9 489.6,990.8 491.6,992.3 493.6,993.4 495.6,994.5 497.6,995.9 499.6,997.3 501.6,999.7 503.6,1001.5 505.6,1003 507.6,1004.6 509.6,1007.4 511.6,1009.2 513.6,1011.6 515.6,1013.5 517.6,1016.4 519.6,1019.1 521.6,1020.1 523.6,1021.8 525.6,1023.9 527.6,1027.1 529.6,1029.4 531.6,1030.8 533.6,1032.2 535.6,1034.6 537.6,1036.9 539.6,1039.1 541.6,1040.1 543.6,1042.2 545.6,1043.7 547.6,1044.9 549.6,1046.9 551.6,1047.3 553.6,1048.9 555.6,1049.2 557.6,1050 559.6,1052 561.6,1052.3 563.6,1053.7 565.6,1053.9 567.6,1052.7 569.6,1050.4 571.6,1048.3 573.6,1048 575.6,1049.1 577.6,1049.4 579.6,1050.1 581.6,1050.4 583.6,1049.4 585.6,1049.4 587.6,1048.6 589.6,1047.9 591.6,1047.9 593.6,1049.3 595.6,1050 597.6,1050.5 599.6,1050.1 601.6,1051.1 603.6,1052.5 605.6,1053.1 607.6,1052.9 609.6,1051.7 611.6,1050.5 613.6,1049.9 615.6,1050.3 617.6,1049.7 619.6,1049.7 621.6,1048.7 623.6,1047.6 625.6,1047.7 627.6,1047.6 629.6,1046.2 631.6,1046.4 633.6,1045.5 635.6,1045 637.6,1046 639.6,1045.3 641.6,1045.3 643.6,1046.6 645.6,1046.6 647.6,1046.3 649.6,1046.4 651.6,1046.9 653.6,1048.2 655.6,1048.2 657.6,1049.8 659.6,1050.1 661.6,1051.6 663.6,1052.7 665.6,1052.6 667.6,1052.9 669.6,1053.7 671.6,1053.9 673.6,1055.2 675.6,1055.3 677.6,1055.6 679.6,1057.6 681.6,1057.8 683.6,1058.8 685.6,1059.3 687.6,1059.5 689.6,1059.5 691.6,1061.1 693.6,1062.2 695.6,1062.9 697.6,1062.1 699.6,1062 701.6,1062.7 703.6,1063.8 705.6,1063.7 707.6,1064 709.6,1064.2 711.6,1063.8 713.6,1064 715.6,1063.8 717.6,1063.6 719.6,1063.3 721.6,1063.5 723.6,1064.7 725.6,1064.6 727.6,1064.9 729.6,1065 731.6,1065.6 733.6,1065 735.6,1064.6 737.6,1064.4 739.6,1064.3 741.6,1065 743.6,1065.5 745.6,1064.9 747.6,1064.6 749.6,1064.7 751.6,1064.9 753.6,1065 755.6,1064.5 757.6,1063.9 759.6,1063.9 761.6,1063.6 763.6,1064.2 765.6,1063.8 767.6,1063.6 769.6,1064.3 771.6,1064.2 773.6,1064.9 775.6,1064.9 777.6,1065.4 779.6,1064.6" fill="none" stroke="#555" stroke-width="2.2" stroke-linejoin="round" stroke-linecap="butt"/>
<polyline points="115.6,1064.8 117.6,1064.8 119.6,1064.8 121.6,1064.8 123.6,1064.8 125.6,1064.8 127.6,1064.8 129.6,1064.8 131.6,1064.8 133.6,1064.8 135.6,1064.8 137.6,1064.8 139.6,1064.8 141.6,1064.8 143.6,1064.8 145.6,1064.8 147.6,1064.8 149.6,1064.8 151.6,1064.8 153.6,1064.8 155.6,1064.8 157.6,1064.8 159.6,1064.8 161.6,1064.8 163.6,1064.8 165.6,1064.8 167.6,1064.8 169.6,1064.8 171.6,1064.8 173.6,1064.8 175.6,1064.8 177.6,1064.8 179.6,1064.8 181.6,1064.8 183.6,1064.8 185.6,1064.8 187.6,1064.8 189.6,1064.8 191.6,1064.8 193.6,1064.8 195.6,1064.8 197.6,1064.8 199.6,1064.8 201.6,1064.8 203.6,1064.8 205.6,1064.8 207.6,1064.8 209.6,1064.8 211.6,1064.8 213.6,1064.8 215.6,1064.8 217.6,1064.8 219.6,1064.8 221.6,1064.8 223.6,1064.8 225.6,1064.8 227.6,1064.8 229.6,1064.7 231.6,1064.7 233.6,1064.7 235.6,1064.7 237.6,1064.7 239.6,1064.6 241.6,1064.6 243.6,1064.5 245.6,1064.4 247.6,1064.4 249.6,1064.3 251.6,1064.1 253.6,1064 255.6,1063.8 257.6,1063.6 259.6,1063.3 261.6,1063 263.6,1062.6 265.6,1062.1 267.6,1061.6 269.6,1061 271.6,1060.2 273.6,1059.3 275.6,1058.3 277.6,1057.2 279.6,1055.8 281.6,1054.3 283.6,1052.5 285.6,1050.5 287.6,1048.2 289.6,1045.6 291.6,1042.7 293.6,1039.4 295.6,1035.7 297.6,1031.6 299.6,1027.1 301.6,1022.1 303.6,1016.6 305.6,1010.6 307.6,1004.1 309.6,997 311.6,989.3 313.6,981.1 315.6,972.3 317.6,962.9 319.6,952.9 321.6,942.4 323.6,931.4 325.6,919.9 327.6,907.9 329.6,895.5 331.6,882.8 333.6,869.8 335.6,856.6 337.6,843.3 339.6,829.9 341.6,816.6 343.6,803.5 345.6,790.6 347.6,778 349.6,766 351.6,754.5 353.6,743.6 355.6,733.6 357.6,724.4 359.6,716.1 361.6,708.9 363.6,702.8 365.6,697.9 367.6,694.2 369.6,691.8 371.6,690.6 373.6,690.7 375.6,692.2 377.6,694.9 379.6,698.8 381.6,704 383.6,710.3 385.6,717.7 387.6,726.1 389.6,735.5 391.6,745.7 393.6,756.7 395.6,768.3 397.6,780.5 399.6,793.1 401.6,806.1 403.6,819.3 405.6,832.6 407.6,846 409.6,859.3 411.6,872.4 413.6,885.4 415.6,898 417.6,910.3 419.6,922.2 421.6,933.6 423.6,944.6 425.6,955 427.6,964.8 429.6,974.1 431.6,982.8 433.6,990.9 435.6,998.5 437.6,1005.5 439.6,1011.9 441.6,1017.8 443.6,1023.2 445.6,1028.1 447.6,1032.5 449.6,1036.5 451.6,1040.1 453.6,1043.3 455.6,1046.1 457.6,1048.7 459.6,1050.9 461.6,1052.9 463.6,1054.6 465.6,1056.1 467.6,1057.4 469.6,1058.6 471.6,1059.5 473.6,1060.4 475.6,1061.1 477.6,1061.7 479.6,1062.2 481.6,1062.7 483.6,1063 485.6,1063.3 487.6,1063.6 489.6,1063.8 491.6,1064 493.6,1064.2 495.6,1064.3 497.6,1064.4 499.6,1064.5 501.6,1064.5 503.6,1064.6 505.6,1064.6 507.6,1064.7 509.6,1064.7 511.6,1064.7 513.6,1064.7 515.6,1064.7 517.6,1064.8 519.6,1064.8 521.6,1064.8 523.6,1064.8 525.6,1064.8 527.6,1064.8 529.6,1064.8 531.6,1064.8 533.6,1064.8 535.6,1064.8 537.6,1064.8 539.6,1064.8 541.6,1064.8 543.6,1064.8 545.6,1064.8 547.6,1064.8 549.6,1064.8 551.6,1064.8 553.6,1064.8 555.6,1064.8 557.6,1064.8 559.6,1064.8 561.6,1064.8 563.6,1064.8 565.6,1064.8 567.6,1064.8 569.6,1064.8 571.6,1064.8 573.6,1064.8 575.6,1064.8 577.6,1064.8 579.6,1064.8 581.6,1064.8 583.6,1064.8 585.6,1064.8 587.6,1064.8 589.6,1064.8 591.6,1064.8 593.6,1064.8 595.6,1064.8 597.6,1064.8 599.6,1064.8 601.6,1064.8 603.6,1064.8 605.6,1064.8 607.6,1064.8 609.6,1064.8 611.6,1064.8 613.6,1064.8 615.6,1064.8 617.6,1064.8 619.6,1064.8 621.6,1064.8 623.6,1064.8 625.6,1064.8 627.6,1064.8 629.6,1064.8 631.6,1064.8 633.6,1064.8 635.6,1064.8 637.6,1064.8 639.6,1064.8 641.6,1064.8 643.6,1064.8 645.6,1064.8 647.6,1064.8 649.6,1064.8 651.6,1064.8 653.6,1064.8 655.6,1064.8 657.6,1064.8 659.6,1064.8 661.6,1064.8 663.6,1064.8 665.6,1064.8 667.6,1064.8 669.6,1064.8 671.6,1064.8 673.6,1064.8 675.6,1064.8 677.6,1064.8 679.6,1064.8 681.6,1064.8 683.6,1064.8 685.6,1064.8 687.6,1064.8 689.6,1064.8 691.6,1064.8 693.6,1064.8 695.6,1064.8 697.6,1064.8 699.6,1064.8 701.6,1064.8 703.6,1064.8 705.6,1064.8 707.6,1064.8 709.6,1064.8 711.6,1064.8 713.6,1064.8 715.6,1064.8 717.6,1064.8 719.6,1064.8 721.6,1064.8 723.6,1064.8 725.6,1064.8 727.6,1064.8 729.6,1064.8 731.6,1064.8 733.6,1064.8 735.6,1064.8 737.6,1064.8 739.6,1064.8 741.6,1064.8 743.6,1064.8 745.6,1064.8 747.6,1064.8 749.6,1064.8 751.6,1064.8 753.6,1064.8 755.6,1064.8 757.6,1064.8 759.6,1064.8 761.6,1064.8 763.6,1064.8 765.6,1064.8 767.6,1064.8 769.6,1064.8 771.6,1064.8 773.6,1064.8 775.6,1064.8 777.6,1064.8 779.6,1064.8" fill="none" stroke="#0000ff" stroke-width="4.0" stroke-linejoin="round" stroke-linecap="butt"/>
<polyline points="115.6,1064.8 117.6,1064.8 119.6,1064.8 121.6,1064.8 123.6,1064.8 125.6,1064.8 127.6,1064.8 129.6,1064.8 131.6,1064.8 133.6,1064.8 135.6,1064.8 137.6,1064.8 139.6,1064.8 141.6,1064.8 143.6,1064.8 145.6,1064.8 147.6,1064.8 149.6,1064.8 151.6,1064.8 153.6,1064.8 155.6,1064.8 157.6,1064.8 159.6,1064.8 161.6,1064.8 163.6,1064.8 165.6,1064.8 167.6,1064.8 169.6,1064.8 171.6,1064.8 173.6,1064.8 175.6,1064.8 177.6,1064.8 179.6,1064.8 181.6,1064.8 183.6,1064.8 185.6,1064.8 187.6,1064.8 189.6,1064.8 191.6,1064.8 193.6,1064.8 195.6,1064.8 197.6,1064.8 199.6,1064.8 201.6,1064.8 203.6,1064.8 205.6,1064.8 207.6,1064.8 209.6,1064.8 211.6,1064.8 213.6,1064.8 215.6,1064.8 217.6,1064.8 219.6,1064.8 221.6,1064.8 223.6,1064.8 225.6,1064.8 227.6,1064.8 229.6,1064.8 231.6,1064.8 233.6,1064.8 235.6,1064.8 237.6,1064.8 239.6,1064.8 241.6,1064.8 243.6,1064.8 245.6,1064.8 247.6,1064.8 249.6,1064.8 251.6,1064.8 253.6,1064.8 255.6,1064.8 257.6,1064.8 259.6,1064.8 261.6,1064.8 263.6,1064.8 265.6,1064.8 267.6,1064.8 269.6,1064.8 271.6,1064.8 273.6,1064.8 275.6,1064.8 277.6,1064.8 279.6,1064.8 281.6,1064.8 283.6,1064.8 285.6,1064.8 287.6,1064.8 289.6,1064.8 291.6,1064.8 293.6,1064.8 295.6,1064.8 297.6,1064.8 299.6,1064.8 301.6,1064.8 303.6,1064.8 305.6,1064.8 307.6,1064.8 309.6,1064.8 311.6,1064.8 313.6,1064.8 315.6,1064.8 317.6,1064.8 319.6,1064.8 321.6,1064.8 323.6,1064.8 325.6,1064.8 327.6,1064.8 329.6,1064.8 331.6,1064.8 333.6,1064.8 335.6,1064.8 337.6,1064.8 339.6,1064.8 341.6,1064.8 343.6,1064.8 345.6,1064.8 347.6,1064.8 349.6,1064.8 351.6,1064.8 353.6,1064.8 355.6,1064.8 357.6,1064.8 359.6,1064.8 361.6,1064.8 363.6,1064.8 365.6,1064.8 367.6,1064.8 369.6,1064.8 371.6,1064.8 373.6,1064.8 375.6,1064.8 377.6,1064.8 379.6,1064.8 381.6,1064.8 383.6,1064.8 385.6,1064.8 387.6,1064.8 389.6,1064.8 391.6,1064.8 393.6,1064.8 395.6,1064.8 397.6,1064.8 399.6,1064.8 401.6,1064.8 403.6,1064.8 405.6,1064.8 407.6,1064.8 409.6,1064.8 411.6,1064.8 413.6,1064.8 415.6,1064.8 417.6,1064.8 419.6,1064.8 421.6,1064.8 423.6,1064.8 425.6,1064.8 427.6,1064.8 429.6,1064.8 431.6,1064.8 433.6,1064.8 435.6,1064.8 437.6,1064.8 439.6,1064.8 441.6,1064.8 443.6,1064.8 445.6,1064.8 447.6,1064.8 449.6,1064.8 451.6,1064.8 453.6,1064.8 455.6,1064.8 457.6,1064.8 459.6,1064.8 461.6,1064.8 463.6,1064.8 465.6,1064.8 467.6,1064.8 469.6,1064.8 471.6,1064.8 473.6,1064.8 475.6,1064.8 477.6,1064.8 479.6,1064.8 481.6,1064.8 483.6,1064.8 485.6,1064.8 487.6,1064.8 489.6,1064.8 491.6,1064.8 493.6,1064.8 495.6,1064.8 497.6,1064.8 499.6,1064.8 501.6,1064.8 503.6,1064.8 505.6,1064.8 507.6,1064.8 509.6,1064.8 511.6,1064.8 513.6,1064.8 515.6,1064.8 517.6,1064.8 519.6,1064.8 521.6,1064.8 523.6,1064.8 525.6,1064.8 527.6,1064.8 529.6,1064.8 531.6,1064.8 533.6,1064.8 535.6,1064.7 537.6,1064.7 539.6,1064.7 541.6,1064.7 543.6,1064.7 545.6,1064.6 547.6,1064.6 549.6,1064.5 551.6,1064.5 553.6,1064.4 555.6,1064.4 557.6,1064.3 559.6,1064.2 561.6,1064.1 563.6,1063.9 565.6,1063.8 567.6,1063.6 569.6,1063.4 571.6,1063.2 573.6,1062.9 575.6,1062.6 577.6,1062.3 579.6,1062 581.6,1061.6 583.6,1061.2 585.6,1060.7 587.6,1060.2 589.6,1059.7 591.6,1059.1 593.6,1058.5 595.6,1057.9 597.6,1057.2 599.6,1056.5 601.6,1055.8 603.6,1055.1 605.6,1054.3 607.6,1053.6 609.6,1052.8 611.6,1052.1 613.6,1051.3 615.6,1050.6 617.6,1049.9 619.6,1049.3 621.6,1048.6 623.6,1048.1 625.6,1047.6 627.6,1047.1 629.6,1046.7 631.6,1046.4 633.6,1046.2 635.6,1046.1 637.6,1046 639.6,1046 641.6,1046.1 643.6,1046.3 645.6,1046.6 647.6,1046.9 649.6,1047.3 651.6,1047.8 653.6,1048.3 655.6,1048.9 657.6,1049.5 659.6,1050.2 661.6,1050.9 663.6,1051.6 665.6,1052.4 667.6,1053.1 669.6,1053.9 671.6,1054.6 673.6,1055.4 675.6,1056.1 677.6,1056.8 679.6,1057.5 681.6,1058.1 683.6,1058.7 685.6,1059.3 687.6,1059.9 689.6,1060.4 691.6,1060.9 693.6,1061.3 695.6,1061.7 697.6,1062.1 699.6,1062.4 701.6,1062.7 703.6,1063 705.6,1063.3 707.6,1063.5 709.6,1063.7 711.6,1063.8 713.6,1064 715.6,1064.1 717.6,1064.2 719.6,1064.3 721.6,1064.4 723.6,1064.5 725.6,1064.5 727.6,1064.6 729.6,1064.6 731.6,1064.6 733.6,1064.7 735.6,1064.7 737.6,1064.7 739.6,1064.7 741.6,1064.7 743.6,1064.8 745.6,1064.8 747.6,1064.8 749.6,1064.8 751.6,1064.8 753.6,1064.8 755.6,1064.8 757.6,1064.8 759.6,1064.8 761.6,1064.8 763.6,1064.8 765.6,1064.8 767.6,1064.8 769.6,1064.8 771.6,1064.8 773.6,1064.8 775.6,1064.8 777.6,1064.8 779.6,1064.8" fill="none" stroke="#ff0000" stroke-width="4.0" stroke-linejoin="round" stroke-linecap="butt"/>
<polyline points="115.6,1064.8 117.6,1064.8 119.6,1064.8 121.6,1064.8 123.6,1064.8 125.6,1064.8 127.6,1064.8 129.6,1064.8 131.6,1064.8 133.6,1064.8 135.6,1064.8 137.6,1064.8 139.6,1064.8 141.6,1064.8 143.6,1064.8 145.6,1064.8 147.6,1064.8 149.6,1064.8 151.6,1064.8 153.6,1064.8 155.6,1064.8 157.6,1064.8 159.6,1064.8 161.6,1064.8 163.6,1064.8 165.6,1064.8 167.6,1064.8 169.6,1064.8 171.6,1064.8 173.6,1064.8 175.6,1064.8 177.6,1064.8 179.6,1064.8 181.6,1064.8 183.6,1064.8 185.6,1064.8 187.6,1064.8 189.6,1064.8 191.6,1064.8 193.6,1064.8 195.6,1064.8 197.6,1064.8 199.6,1064.8 201.6,1064.8 203.6,1064.8 205.6,1064.8 207.6,1064.8 209.6,1064.8 211.6,1064.8 213.6,1064.8 215.6,1064.8 217.6,1064.8 219.6,1064.8 221.6,1064.8 223.6,1064.8 225.6,1064.8 227.6,1064.8 229.6,1064.8 231.6,1064.8 233.6,1064.8 235.6,1064.8 237.6,1064.8 239.6,1064.8 241.6,1064.8 243.6,1064.8 245.6,1064.8 247.6,1064.8 249.6,1064.8 251.6,1064.8 253.6,1064.8 255.6,1064.8 257.6,1064.8 259.6,1064.8 261.6,1064.8 263.6,1064.8 265.6,1064.8 267.6,1064.8 269.6,1064.8 271.6,1064.8 273.6,1064.8 275.6,1064.8 277.6,1064.8 279.6,1064.8 281.6,1064.8 283.6,1064.8 285.6,1064.8 287.6,1064.8 289.6,1064.8 291.6,1064.8 293.6,1064.8 295.6,1064.8 297.6,1064.8 299.6,1064.8 301.6,1064.8 303.6,1064.7 305.6,1064.7 307.6,1064.7 309.6,1064.7 311.6,1064.7 313.6,1064.7 315.6,1064.7 317.6,1064.6 319.6,1064.6 321.6,1064.6 323.6,1064.5 325.6,1064.5 327.6,1064.4 329.6,1064.4 331.6,1064.3 333.6,1064.2 335.6,1064.2 337.6,1064.1 339.6,1064 341.6,1063.8 343.6,1063.7 345.6,1063.6 347.6,1063.4 349.6,1063.2 351.6,1063 353.6,1062.8 355.6,1062.5 357.6,1062.2 359.6,1061.9 361.6,1061.5 363.6,1061.1 365.6,1060.7 367.6,1060.2 369.6,1059.7 371.6,1059.2 373.6,1058.6 375.6,1057.9 377.6,1057.2 379.6,1056.5 381.6,1055.6 383.6,1054.7 385.6,1053.8 387.6,1052.8 389.6,1051.7 391.6,1050.6 393.6,1049.4 395.6,1048.1 397.6,1046.7 399.6,1045.3 401.6,1043.8 403.6,1042.2 405.6,1040.6 407.6,1038.9 409.6,1037.1 411.6,1035.3 413.6,1033.4 415.6,1031.5 417.6,1029.5 419.6,1027.5 421.6,1025.4 423.6,1023.4 425.6,1021.2 427.6,1019.1 429.6,1017 431.6,1014.9 433.6,1012.7 435.6,1010.6 437.6,1008.5 439.6,1006.5 441.6,1004.5 443.6,1002.6 445.6,1000.7 447.6,998.9 449.6,997.2 451.6,995.6 453.6,994.1 455.6,992.7 457.6,991.4 459.6,990.3 461.6,989.3 463.6,988.4 465.6,987.7 467.6,987.1 469.6,986.7 471.6,986.4 473.6,986.3 475.6,986.4 477.6,986.6 479.6,986.9 481.6,987.4 483.6,988.1 485.6,988.9 487.6,989.9 489.6,991 491.6,992.2 493.6,993.5 495.6,995 497.6,996.6 499.6,998.2 501.6,1000 503.6,1001.8 505.6,1003.7 507.6,1005.7 509.6,1007.7 511.6,1009.8 513.6,1011.9 515.6,1014 517.6,1016.1 519.6,1018.3 521.6,1020.4 523.6,1022.5 525.6,1024.6 527.6,1026.7 529.6,1028.7 531.6,1030.7 533.6,1032.7 535.6,1034.6 537.6,1036.4 539.6,1038.2 541.6,1039.9 543.6,1041.6 545.6,1043.2 547.6,1044.7 549.6,1046.2 551.6,1047.5 553.6,1048.8 555.6,1050.1 557.6,1051.3 559.6,1052.4 561.6,1053.4 563.6,1054.4 565.6,1055.3 567.6,1056.1 569.6,1056.9 571.6,1057.6 573.6,1058.3 575.6,1058.9 577.6,1059.5 579.6,1060 581.6,1060.5 583.6,1061 585.6,1061.4 587.6,1061.7 589.6,1062.1 591.6,1062.4 593.6,1062.6 595.6,1062.9 597.6,1063.1 599.6,1063.3 601.6,1063.5 603.6,1063.7 605.6,1063.8 607.6,1063.9 609.6,1064 611.6,1064.1 613.6,1064.2 615.6,1064.3 617.6,1064.4 619.6,1064.4 621.6,1064.5 623.6,1064.5 625.6,1064.6 627.6,1064.6 629.6,1064.6 631.6,1064.6 633.6,1064.7 635.6,1064.7 637.6,1064.7 639.6,1064.7 641.6,1064.7 643.6,1064.7 645.6,1064.8 647.6,1064.8 649.6,1064.8 651.6,1064.8 653.6,1064.8 655.6,1064.8 657.6,1064.8 659.6,1064.8 661.6,1064.8 663.6,1064.8 665.6,1064.8 667.6,1064.8 669.6,1064.8 671.6,1064.8 673.6,1064.8 675.6,1064.8 677.6,1064.8 679.6,1064.8 681.6,1064.8 683.6,1064.8 685.6,1064.8 687.6,1064.8 689.6,1064.8 691.6,1064.8 693.6,1064.8 695.6,1064.8 697.6,1064.8 699.6,1064.8 701.6,1064.8 703.6,1064.8 705.6,1064.8 707.6,1064.8 709.6,1064.8 711.6,1064.8 713.6,1064.8 715.6,1064.8 717.6,1064.8 719.6,1064.8 721.6,1064.8 723.6,1064.8 725.6,1064.8 727.6,1064.8 729.6,1064.8 731.6,1064.8 733.6,1064.8 735.6,1064.8 737.6,1064.8 739.6,1064.8 741.6,1064.8 743.6,1064.8 745.6,1064.8 747.6,1064.8 749.6,1064.8 751.6,1064.8 753.6,1064.8 755.6,1064.8 757.6,1064.8 759.6,1064.8 761.6,1064.8 763.6,1064.8 765.6,1064.8 767.6,1064.8 769.6,1064.8 771.6,1064.8 773.6,1064.8 775.6,1064.8 777.6,1064.8 779.6,1064.8" fill="none" stroke="#00ff00" stroke-width="4.0" stroke-linejoin="round" stroke-linecap="butt"/>
<polyline points="115.6,1064.8 117.6,1064.8 119.6,1064.8 121.6,1064.8 123.6,1064.8 125.6,1064.8 127.6,1064.8 129.6,1064.8 131.6,1064.8 133.6,1064.8 135.6,1064.8 137.6,1064.8 139.6,1064.8 141.6,1064.8 143.6,1064.8 145.6,1064.8 147.6,1064.8 149.6,1064.8 151.6,1064.8 153.6,1064.8 155.6,1064.8 157.6,1064.8 159.6,1064.8 161.6,1064.8 163.6,1064.8 165.6,1064.8 167.6,1064.8 169.6,1064.8 171.6,1064.8 173.6,1064.8 175.6,1064.8 177.6,1064.8 179.6,1064.8 181.6,1064.8 183.6,1064.8 185.6,1064.8 187.6,1064.8 189.6,1064.8 191.6,1064.8 193.6,1064.8 195.6,1064.8 197.6,1064.8 199.6,1064.8 201.6,1064.8 203.6,1064.8 205.6,1064.8 207.6,1064.8 209.6,1064.8 211.6,1064.8 213.6,1064.8 215.6,1064.8 217.6,1064.8 219.6,1064.8 221.6,1064.8 223.6,1064.8 225.6,1064.8 227.6,1064.8 229.6,1064.7 231.6,1064.7 233.6,1064.7 235.6,1064.7 237.6,1064.7 239.6,1064.6 241.6,1064.6 243.6,1064.5 245.6,1064.4 247.6,1064.4 249.6,1064.3 251.6,1064.1 253.6,1064 255.6,1063.8 257.6,1063.6 259.6,1063.3 261.6,1063 263.6,1062.6 265.6,1062.1 267.6,1061.6 269.6,1061 271.6,1060.2 273.6,1059.3 275.6,1058.3 277.6,1057.2 279.6,1055.8 281.6,1054.3 283.6,1052.5 285.6,1050.5 287.6,1048.2 289.6,1045.6 291.6,1042.7 293.6,1039.4 295.6,1035.7 297.6,1031.6 299.6,1027.1 301.6,1022.1 303.6,1016.6 305.6,1010.6 307.6,1004 309.6,996.9 311.6,989.2 313.6,981 315.6,972.1 317.6,962.7 319.6,952.7 321.6,942.2 323.6,931.1 325.6,919.6 327.6,907.5 329.6,895.1 331.6,882.3 333.6,869.3 335.6,856 337.6,842.6 339.6,829.1 341.6,815.7 343.6,802.4 345.6,789.3 347.6,776.6 349.6,764.4 351.6,752.7 353.6,741.6 355.6,731.3 357.6,721.8 359.6,713.2 361.6,705.7 363.6,699.2 365.6,693.8 367.6,689.7 369.6,686.7 371.6,685 373.6,684.5 375.6,685.3 377.6,687.3 379.6,690.5 381.6,694.8 383.6,700.2 385.6,706.7 387.6,714.1 389.6,722.4 391.6,731.5 393.6,741.3 395.6,751.6 397.6,762.4 399.6,773.6 401.6,785.1 403.6,796.7 405.6,808.4 407.6,820.1 409.6,831.6 411.6,843 413.6,854 415.6,864.7 417.6,875.1 419.6,884.9 421.6,894.3 423.6,903.1 425.6,911.4 427.6,919.1 429.6,926.3 431.6,932.8 433.6,938.8 435.6,944.3 437.6,949.2 439.6,953.6 441.6,957.5 443.6,960.9 445.6,964 447.6,966.6 449.6,968.9 451.6,970.9 453.6,972.6 455.6,974 457.6,975.3 459.6,976.4 461.6,977.4 463.6,978.2 465.6,979 467.6,979.7 469.6,980.4 471.6,981.1 473.6,981.9 475.6,982.6 477.6,983.5 479.6,984.3 481.6,985.3 483.6,986.3 485.6,987.5 487.6,988.7 489.6,990 491.6,991.4 493.6,992.9 495.6,994.5 497.6,996.1 499.6,997.9 501.6,999.7 503.6,1001.6 505.6,1003.6 507.6,1005.6 509.6,1007.6 511.6,1009.7 513.6,1011.8 515.6,1013.9 517.6,1016.1 519.6,1018.2 521.6,1020.4 523.6,1022.5 525.6,1024.6 527.6,1026.7 529.6,1028.7 531.6,1030.7 533.6,1032.6 535.6,1034.5 537.6,1036.3 539.6,1038.1 541.6,1039.8 543.6,1041.4 545.6,1043 547.6,1044.5 549.6,1045.9 551.6,1047.2 553.6,1048.5 555.6,1049.6 557.6,1050.7 559.6,1051.7 561.6,1052.7 563.6,1053.5 565.6,1054.2 567.6,1054.9 569.6,1055.5 571.6,1056 573.6,1056.4 575.6,1056.8 577.6,1057 579.6,1057.2 581.6,1057.3 583.6,1057.3 585.6,1057.3 587.6,1057.1 589.6,1056.9 591.6,1056.7 593.6,1056.4 595.6,1056 597.6,1055.5 599.6,1055 601.6,1054.5 603.6,1053.9 605.6,1053.3 607.6,1052.7 609.6,1052 611.6,1051.4 613.6,1050.7 615.6,1050.1 617.6,1049.5 619.6,1048.9 621.6,1048.3 623.6,1047.8 625.6,1047.3 627.6,1046.9 629.6,1046.6 631.6,1046.3 633.6,1046.1 635.6,1046 637.6,1045.9 639.6,1045.9 641.6,1046.1 643.6,1046.2 645.6,1046.5 647.6,1046.9 649.6,1047.3 651.6,1047.7 653.6,1048.3 655.6,1048.9 657.6,1049.5 659.6,1050.2 661.6,1050.9 663.6,1051.6 665.6,1052.4 667.6,1053.1 669.6,1053.9 671.6,1054.6 673.6,1055.4 675.6,1056.1 677.6,1056.8 679.6,1057.5 681.6,1058.1 683.6,1058.7 685.6,1059.3 687.6,1059.9 689.6,1060.4 691.6,1060.9 693.6,1061.3 695.6,1061.7 697.6,1062.1 699.6,1062.4 701.6,1062.7 703.6,1063 705.6,1063.3 707.6,1063.5 709.6,1063.7 711.6,1063.8 713.6,1064 715.6,1064.1 717.6,1064.2 719.6,1064.3 721.6,1064.4 723.6,1064.5 725.6,1064.5 727.6,1064.6 729.6,1064.6 731.6,1064.6 733.6,1064.7 735.6,1064.7 737.6,1064.7 739.6,1064.7 741.6,1064.7 743.6,1064.8 745.6,1064.8 747.6,1064.8 749.6,1064.8 751.6,1064.8 753.6,1064.8 755.6,1064.8 757.6,1064.8 759.6,1064.8 761.6,1064.8 763.6,1064.8 765.6,1064.8 767.6,1064.8 769.6,1064.8 771.6,1064.8 773.6,1064.8 775.6,1064.8 777.6,1064.8 779.6,1064.8" fill="none" stroke="#ffff33" stroke-width="3.2" stroke-linejoin="round" stroke-linecap="butt" stroke-dasharray="3 5"/>
<text x="458" y="729.3" font-size="33" fill="#000">C–H</text>
<line x1="450" y1="710" x2="396.5" y2="692.6" stroke="#000" stroke-width="1.8"/>
<polygon points="388.9,690.1 398.5,689.6 396.4,696.2" fill="#000"/>
<text x="503.8" y="916" font-size="33" fill="#000">C–N</text>
<line x1="530.4" y1="918" x2="499.5" y2="970.7" stroke="#000" stroke-width="1.8"/>
<polygon points="495.4,977.6 496.9,968.1 503,971.6" fill="#000"/>
<text x="626" y="972" font-size="33" fill="#000">C≡N</text>
<line x1="653.4" y1="970" x2="647.4" y2="1024.6" stroke="#000" stroke-width="1.8"/>
<polygon points="646.5,1032.6 644,1023.3 651,1024" fill="#000"/>
<rect x="919.4" y="628.3" width="666.4" height="494.1" fill="none" stroke="#3c3c3c" stroke-width="2.6"/>
<line x1="1030.5" y1="1123.4" x2="1030.5" y2="1132.4" stroke="#3c3c3c" stroke-width="2"/>
<line x1="1252.6" y1="1123.4" x2="1252.6" y2="1132.4" stroke="#3c3c3c" stroke-width="2"/>
<line x1="1474.7" y1="1123.4" x2="1474.7" y2="1132.4" stroke="#3c3c3c" stroke-width="2"/>
<line x1="919.4" y1="1123.4" x2="919.4" y2="1127.9" stroke="#3c3c3c" stroke-width="2"/>
<line x1="1141.5" y1="1123.4" x2="1141.5" y2="1127.9" stroke="#3c3c3c" stroke-width="2"/>
<line x1="1363.7" y1="1123.4" x2="1363.7" y2="1127.9" stroke="#3c3c3c" stroke-width="2"/>
<line x1="1585.8" y1="1123.4" x2="1585.8" y2="1127.9" stroke="#3c3c3c" stroke-width="2"/>
<text x="1030.5" y="1156.9" font-size="24" fill="#000" text-anchor="middle">398</text>
<text x="1252.6" y="1156.9" font-size="24" fill="#000" text-anchor="middle">400</text>
<text x="1474.7" y="1156.9" font-size="24" fill="#000" text-anchor="middle">402</text>
<text x="1044.3" y="1213.3" font-size="48" fill="#000" textLength="425" lengthAdjust="spacingAndGlyphs">Binding Energy (eV)</text>
<text transform="translate(880.8,886.2) rotate(-90)" font-size="48" text-anchor="middle" textLength="303" lengthAdjust="spacingAndGlyphs">Intensity (a.u.)</text>
<text x="813" y="682.2" font-size="80" fill="#000">(e)</text>
<text x="1523.7" y="675.3" font-size="41" fill="#000" text-anchor="middle">SP1</text>
<text x="1523.7" y="725.7" font-size="41" fill="#000" text-anchor="middle">N 1s</text>
<polyline points="920.7,1057 968,1051 993,1043.3 1042.6,1026 1072.3,1003.7 1097,986.4 1116.8,951.8 1136.6,907.3 1153.9,852.9 1166.3,798.5 1176.2,754 1184.8,719.3 1203.4,702 1223.2,682.3 1230.6,678.5 1250.4,678.5 1259.8,684.7 1274.7,709.5 1294.5,754 1309.3,783.6 1319.2,820.7 1329.1,862.8 1348.9,882.5 1373.6,912.2 1405.7,932 1418.1,956.7 1440.3,981.5 1467.5,991.4 1487.3,993.8 1517,1006.2 1541.7,1011.1 1584.5,1011.1" fill="none" stroke="#404040" stroke-width="4.2" stroke-linejoin="round" stroke-linecap="butt"/>
<polyline points="920.7,1065.3 922.7,1065.3 924.7,1065.3 926.7,1065.3 928.7,1065.3 930.7,1065.3 932.7,1065.3 934.7,1065.3 936.7,1065.2 938.7,1065.2 940.7,1065.2 942.7,1065.2 944.7,1065.2 946.7,1065.2 948.7,1065.2 950.7,1065.2 952.7,1065.2 954.7,1065.2 956.7,1065.1 958.7,1065.1 960.7,1065.1 962.7,1065.1 964.7,1065.1 966.7,1065.1 968.7,1065.1 970.7,1065 972.7,1065 974.7,1065 976.7,1065 978.7,1065 980.7,1065 982.7,1064.9 984.7,1064.9 986.7,1064.9 988.7,1064.9 990.7,1064.9 992.7,1064.8 994.7,1064.8 996.7,1064.8 998.7,1064.8 1000.7,1064.8 1002.7,1064.7 1004.7,1064.7 1006.7,1064.7 1008.7,1064.7 1010.7,1064.6 1012.7,1064.6 1014.7,1064.6 1016.7,1064.5 1018.7,1064.5 1020.7,1064.5 1022.7,1064.4 1024.7,1064.4 1026.7,1064.4 1028.7,1064.3 1030.7,1064.3 1032.7,1064.3 1034.7,1064.2 1036.7,1064.2 1038.7,1064.1 1040.7,1064.1 1042.7,1064 1044.7,1064 1046.7,1063.9 1048.7,1063.9 1050.7,1063.8 1052.7,1063.8 1054.7,1063.7 1056.7,1063.7 1058.7,1063.6 1060.7,1063.5 1062.7,1063.5 1064.7,1063.4 1066.7,1063.3 1068.7,1063.3 1070.7,1063.2 1072.7,1063.1 1074.7,1063.1 1076.7,1063 1078.7,1062.9 1080.7,1062.8 1082.7,1062.7 1084.7,1062.6 1086.7,1062.5 1088.7,1062.5 1090.7,1062.4 1092.7,1062.3 1094.7,1062.2 1096.7,1062 1098.7,1061.9 1100.7,1061.8 1102.7,1061.7 1104.7,1061.6 1106.7,1061.5 1108.7,1061.4 1110.7,1061.2 1112.7,1061.1 1114.7,1061 1116.7,1060.8 1118.7,1060.7 1120.7,1060.5 1122.7,1060.4 1124.7,1060.2 1126.7,1060.1 1128.7,1059.9 1130.7,1059.7 1132.7,1059.6 1134.7,1059.4 1136.7,1059.2 1138.7,1059 1140.7,1058.9 1142.7,1058.7 1144.7,1058.5 1146.7,1058.3 1148.7,1058.1 1150.7,1057.9 1152.7,1057.6 1154.7,1057.4 1156.7,1057.2 1158.7,1057 1160.7,1056.7 1162.7,1056.5 1164.7,1056.3 1166.7,1056 1168.7,1055.8 1170.7,1055.5 1172.7,1055.2 1174.7,1055 1176.7,1054.7 1178.7,1054.4 1180.7,1054.1 1182.7,1053.8 1184.7,1053.6 1186.7,1053.3 1188.7,1053 1190.7,1052.6 1192.7,1052.3 1194.7,1052 1196.7,1051.7 1198.7,1051.4 1200.7,1051.1 1202.7,1050.7 1204.7,1050.4 1206.7,1050 1208.7,1049.7 1210.7,1049.4 1212.7,1049 1214.7,1048.7 1216.7,1048.3 1218.7,1047.9 1220.7,1047.6 1222.7,1047.2 1224.7,1046.8 1226.7,1046.5 1228.7,1046.1 1230.7,1045.7 1232.7,1045.4 1234.7,1045 1236.7,1044.6 1238.7,1044.2 1240.7,1043.8 1242.7,1043.5 1244.7,1043.1 1246.7,1042.7 1248.7,1042.3 1250.7,1041.9 1252.7,1041.6 1254.7,1041.2 1256.7,1040.8 1258.7,1040.4 1260.7,1040.1 1262.7,1039.7 1264.7,1039.3 1266.7,1038.9 1268.7,1038.6 1270.7,1038.2 1272.7,1037.8 1274.7,1037.5 1276.7,1037.1 1278.7,1036.8 1280.7,1036.4 1282.7,1036 1284.7,1035.7 1286.7,1035.4 1288.7,1035 1290.7,1034.7 1292.7,1034.3 1294.7,1034 1296.7,1033.7 1298.7,1033.4 1300.7,1033.1 1302.7,1032.7 1304.7,1032.4 1306.7,1032.1 1308.7,1031.8 1310.7,1031.5 1312.7,1031.3 1314.7,1031 1316.7,1030.7 1318.7,1030.4 1320.7,1030.1 1322.7,1029.9 1324.7,1029.6 1326.7,1029.4 1328.7,1029.1 1330.7,1028.9 1332.7,1028.6 1334.7,1028.4 1336.7,1028.2 1338.7,1027.9 1340.7,1027.7 1342.7,1027.5 1344.7,1027.3 1346.7,1027.1 1348.7,1026.9 1350.7,1026.7 1352.7,1026.5 1354.7,1026.3 1356.7,1026.1 1358.7,1025.9 1360.7,1025.8 1362.7,1025.6 1364.7,1025.4 1366.7,1025.3 1368.7,1025.1 1370.7,1025 1372.7,1024.8 1374.7,1024.7 1376.7,1024.5 1378.7,1024.4 1380.7,1024.2 1382.7,1024.1 1384.7,1024 1386.7,1023.9 1388.7,1023.7 1390.7,1023.6 1392.7,1023.5 1394.7,1023.4 1396.7,1023.3 1398.7,1023.2 1400.7,1023.1 1402.7,1023 1404.7,1022.9 1406.7,1022.8 1408.7,1022.7 1410.7,1022.6 1412.7,1022.5 1414.7,1022.4 1416.7,1022.4 1418.7,1022.3 1420.7,1022.2 1422.7,1022.1 1424.7,1022 1426.7,1022 1428.7,1021.9 1430.7,1021.8 1432.7,1021.8 1434.7,1021.7 1436.7,1021.7 1438.7,1021.6 1440.7,1021.5 1442.7,1021.5 1444.7,1021.4 1446.7,1021.4 1448.7,1021.3 1450.7,1021.3 1452.7,1021.2 1454.7,1021.2 1456.7,1021.1 1458.7,1021.1 1460.7,1021.1 1462.7,1021 1464.7,1021 1466.7,1020.9 1468.7,1020.9 1470.7,1020.9 1472.7,1020.8 1474.7,1020.8 1476.7,1020.8 1478.7,1020.7 1480.7,1020.7 1482.7,1020.7 1484.7,1020.7 1486.7,1020.6 1488.7,1020.6 1490.7,1020.6 1492.7,1020.5 1494.7,1020.5 1496.7,1020.5 1498.7,1020.5 1500.7,1020.5 1502.7,1020.4 1504.7,1020.4 1506.7,1020.4 1508.7,1020.4 1510.7,1020.4 1512.7,1020.3 1514.7,1020.3 1516.7,1020.3 1518.7,1020.3 1520.7,1020.3 1522.7,1020.3 1524.7,1020.2 1526.7,1020.2 1528.7,1020.2 1530.7,1020.2 1532.7,1020.2 1534.7,1020.2 1536.7,1020.2 1538.7,1020.2 1540.7,1020.1 1542.7,1020.1 1544.7,1020.1 1546.7,1020.1 1548.7,1020.1 1550.7,1020.1 1552.7,1020.1 1554.7,1020.1 1556.7,1020.1 1558.7,1020.1 1560.7,1020 1562.7,1020 1564.7,1020 1566.7,1020 1568.7,1020 1570.7,1020 1572.7,1020 1574.7,1020 1576.7,1020 1578.7,1020 1580.7,1020 1582.7,1020" fill="none" stroke="#ff00ff" stroke-width="3.0" stroke-linejoin="round" stroke-linecap="butt"/>
<polyline points="920.7,1063.3 922.7,1063.2 924.7,1063.2 926.7,1063.2 928.7,1063.1 930.7,1063.1 932.7,1063.1 934.7,1063.1 936.7,1063 938.7,1063 940.7,1063 942.7,1062.9 944.7,1062.9 946.7,1062.9 948.7,1062.8 950.7,1062.8 952.7,1062.8 954.7,1062.7 956.7,1062.7 958.7,1062.6 960.7,1062.6 962.7,1062.6 964.7,1062.5 966.7,1062.5 968.7,1062.4 970.7,1062.4 972.7,1062.3 974.7,1062.3 976.7,1062.3 978.7,1062.2 980.7,1062.2 982.7,1062.1 984.7,1062.1 986.7,1062 988.7,1061.9 990.7,1061.9 992.7,1061.8 994.7,1061.8 996.7,1061.7 998.7,1061.7 1000.7,1061.6 1002.7,1061.5 1004.7,1061.5 1006.7,1061.4 1008.7,1061.3 1010.7,1061.3 1012.7,1061.2 1014.7,1061.1 1016.7,1061 1018.7,1061 1020.7,1060.9 1022.7,1060.8 1024.7,1060.7 1026.7,1060.6 1028.7,1060.6 1030.7,1060.5 1032.7,1060.4 1034.7,1060.3 1036.7,1060.2 1038.7,1060.1 1040.7,1060 1042.7,1059.9 1044.7,1059.8 1046.7,1059.7 1048.7,1059.6 1050.7,1059.4 1052.7,1059.3 1054.7,1059.2 1056.7,1059.1 1058.7,1058.9 1060.7,1058.8 1062.7,1058.7 1064.7,1058.5 1066.7,1058.4 1068.7,1058.2 1070.7,1058.1 1072.7,1057.9 1074.7,1057.8 1076.7,1057.6 1078.7,1057.4 1080.7,1057.3 1082.7,1057.1 1084.7,1056.9 1086.7,1056.7 1088.7,1056.5 1090.7,1056.3 1092.7,1056.1 1094.7,1055.9 1096.7,1055.6 1098.7,1055.4 1100.7,1055.2 1102.7,1054.9 1104.7,1054.7 1106.7,1054.4 1108.7,1054.1 1110.7,1053.8 1112.7,1053.6 1114.7,1053.3 1116.7,1052.9 1118.7,1052.6 1120.7,1052.3 1122.7,1052 1124.7,1051.6 1126.7,1051.2 1128.7,1050.9 1130.7,1050.5 1132.7,1050.1 1134.7,1049.6 1136.7,1049.2 1138.7,1048.8 1140.7,1048.3 1142.7,1047.8 1144.7,1047.3 1146.7,1046.8 1148.7,1046.3 1150.7,1045.8 1152.7,1045.2 1154.7,1044.6 1156.7,1044 1158.7,1043.4 1160.7,1042.7 1162.7,1042.1 1164.7,1041.4 1166.7,1040.7 1168.7,1040 1170.7,1039.2 1172.7,1038.4 1174.7,1037.6 1176.7,1036.8 1178.7,1035.9 1180.7,1035.1 1182.7,1034.2 1184.7,1033.2 1186.7,1032.3 1188.7,1031.3 1190.7,1030.3 1192.7,1029.2 1194.7,1028.2 1196.7,1027.1 1198.7,1025.9 1200.7,1024.8 1202.7,1023.6 1204.7,1022.4 1206.7,1021.2 1208.7,1019.9 1210.7,1018.6 1212.7,1017.2 1214.7,1015.9 1216.7,1014.5 1218.7,1013.1 1220.7,1011.6 1222.7,1010.2 1224.7,1008.7 1226.7,1007.2 1228.7,1005.6 1230.7,1004 1232.7,1002.4 1234.7,1000.8 1236.7,999.2 1238.7,997.5 1240.7,995.8 1242.7,994.1 1244.7,992.4 1246.7,990.7 1248.7,988.9 1250.7,987.2 1252.7,985.4 1254.7,983.7 1256.7,981.9 1258.7,980.1 1260.7,978.3 1262.7,976.6 1264.7,974.8 1266.7,973.1 1268.7,971.4 1270.7,969.7 1272.7,968 1274.7,966.3 1276.7,964.7 1278.7,963.1 1280.7,961.6 1282.7,960.1 1284.7,958.7 1286.7,957.3 1288.7,955.9 1290.7,954.7 1292.7,953.5 1294.7,952.4 1296.7,951.3 1298.7,950.4 1300.7,949.5 1302.7,948.7 1304.7,948.1 1306.7,947.5 1308.7,947 1310.7,946.6 1312.7,946.3 1314.7,946.1 1316.7,945.9 1318.7,945.9 1320.7,946 1322.7,946.2 1324.7,946.5 1326.7,946.8 1328.7,947.3 1330.7,947.8 1332.7,948.4 1334.7,949 1336.7,949.8 1338.7,950.6 1340.7,951.4 1342.7,952.4 1344.7,953.3 1346.7,954.3 1348.7,955.4 1350.7,956.5 1352.7,957.6 1354.7,958.7 1356.7,959.9 1358.7,961.1 1360.7,962.3 1362.7,963.5 1364.7,964.7 1366.7,965.9 1368.7,967.2 1370.7,968.4 1372.7,969.6 1374.7,970.9 1376.7,972.1 1378.7,973.3 1380.7,974.5 1382.7,975.7 1384.7,976.9 1386.7,978 1388.7,979.2 1390.7,980.3 1392.7,981.4 1394.7,982.5 1396.7,983.6 1398.7,984.7 1400.7,985.7 1402.7,986.7 1404.7,987.7 1406.7,988.7 1408.7,989.6 1410.7,990.5 1412.7,991.4 1414.7,992.3 1416.7,993.2 1418.7,994 1420.7,994.8 1422.7,995.6 1424.7,996.4 1426.7,997.1 1428.7,997.8 1430.7,998.5 1432.7,999.2 1434.7,999.8 1436.7,1000.5 1438.7,1001.1 1440.7,1001.7 1442.7,1002.2 1444.7,1002.8 1446.7,1003.3 1448.7,1003.8 1450.7,1004.3 1452.7,1004.8 1454.7,1005.2 1456.7,1005.7 1458.7,1006.1 1460.7,1006.5 1462.7,1006.9 1464.7,1007.3 1466.7,1007.6 1468.7,1008 1470.7,1008.3 1472.7,1008.6 1474.7,1008.9 1476.7,1009.2 1478.7,1009.5 1480.7,1009.8 1482.7,1010 1484.7,1010.3 1486.7,1010.5 1488.7,1010.8 1490.7,1011 1492.7,1011.2 1494.7,1011.4 1496.7,1011.6 1498.7,1011.8 1500.7,1012 1502.7,1012.1 1504.7,1012.3 1506.7,1012.5 1508.7,1012.6 1510.7,1012.8 1512.7,1012.9 1514.7,1013.1 1516.7,1013.2 1518.7,1013.3 1520.7,1013.4 1522.7,1013.6 1524.7,1013.7 1526.7,1013.8 1528.7,1013.9 1530.7,1014 1532.7,1014.1 1534.7,1014.2 1536.7,1014.3 1538.7,1014.4 1540.7,1014.5 1542.7,1014.5 1544.7,1014.6 1546.7,1014.7 1548.7,1014.8 1550.7,1014.9 1552.7,1014.9 1554.7,1015 1556.7,1015.1 1558.7,1015.2 1560.7,1015.2 1562.7,1015.3 1564.7,1015.3 1566.7,1015.4 1568.7,1015.5 1570.7,1015.5 1572.7,1015.6 1574.7,1015.6 1576.7,1015.7 1578.7,1015.8 1580.7,1015.8 1582.7,1015.9" fill="none" stroke="#ff2a2a" stroke-width="4.2" stroke-linejoin="round" stroke-linecap="butt"/>
<polyline points="920.7,1058.3 922.7,1058.2 924.7,1058.1 926.7,1058 928.7,1057.9 930.7,1057.8 932.7,1057.7 934.7,1057.6 936.7,1057.5 938.7,1057.4 940.7,1057.3 942.7,1057.2 944.7,1057.1 946.7,1057 948.7,1056.8 950.7,1056.7 952.7,1056.6 954.7,1056.5 956.7,1056.4 958.7,1056.2 960.7,1056.1 962.7,1056 964.7,1055.8 966.7,1055.7 968.7,1055.5 970.7,1055.4 972.7,1055.3 974.7,1055.1 976.7,1054.9 978.7,1054.8 980.7,1054.6 982.7,1054.5 984.7,1054.3 986.7,1054.1 988.7,1053.9 990.7,1053.8 992.7,1053.6 994.7,1053.4 996.7,1053.2 998.7,1053 1000.7,1052.8 1002.7,1052.6 1004.7,1052.4 1006.7,1052.2 1008.7,1051.9 1010.7,1051.7 1012.7,1051.5 1014.7,1051.2 1016.7,1051 1018.7,1050.7 1020.7,1050.5 1022.7,1050.2 1024.7,1049.9 1026.7,1049.7 1028.7,1049.4 1030.7,1049.1 1032.7,1048.8 1034.7,1048.5 1036.7,1048.2 1038.7,1047.8 1040.7,1047.5 1042.7,1047.2 1044.7,1046.8 1046.7,1046.4 1048.7,1046.1 1050.7,1045.7 1052.7,1045.3 1054.7,1044.9 1056.7,1044.5 1058.7,1044 1060.7,1043.6 1062.7,1043.1 1064.7,1042.7 1066.7,1042.2 1068.7,1041.7 1070.7,1041.2 1072.7,1040.6 1074.7,1040.1 1076.7,1039.5 1078.7,1039 1080.7,1038.4 1082.7,1037.7 1084.7,1037.1 1086.7,1036.4 1088.7,1035.7 1090.7,1035 1092.7,1034.3 1094.7,1033.5 1096.7,1032.7 1098.7,1031.9 1100.7,1031.1 1102.7,1030.2 1104.7,1029.3 1106.7,1028.3 1108.7,1027.3 1110.7,1026.3 1112.7,1025.2 1114.7,1024.1 1116.7,1023 1118.7,1021.8 1120.7,1020.5 1122.7,1019.2 1124.7,1017.9 1126.7,1016.5 1128.7,1015 1130.7,1013.5 1132.7,1011.9 1134.7,1010.3 1136.7,1008.5 1138.7,1006.7 1140.7,1004.9 1142.7,1002.9 1144.7,1000.9 1146.7,998.7 1148.7,996.5 1150.7,994.2 1152.7,991.8 1154.7,989.3 1156.7,986.7 1158.7,984 1160.7,981.2 1162.7,978.3 1164.7,975.3 1166.7,972.1 1168.7,968.8 1170.7,965.4 1172.7,961.9 1174.7,958.2 1176.7,954.4 1178.7,950.4 1180.7,946.3 1182.7,942.1 1184.7,937.8 1186.7,933.3 1188.7,928.6 1190.7,923.8 1192.7,918.9 1194.7,913.8 1196.7,908.7 1198.7,903.3 1200.7,897.9 1202.7,892.3 1204.7,886.7 1206.7,880.9 1208.7,875.1 1210.7,869.2 1212.7,863.3 1214.7,857.4 1216.7,851.4 1218.7,845.5 1220.7,839.6 1222.7,833.8 1224.7,828.2 1226.7,822.7 1228.7,817.4 1230.7,812.3 1232.7,807.5 1234.7,803.1 1236.7,798.9 1238.7,795.2 1240.7,791.9 1242.7,789.1 1244.7,786.8 1246.7,785 1248.7,783.7 1250.7,783 1252.7,782.8 1254.7,783.1 1256.7,784 1258.7,785.4 1260.7,787.4 1262.7,789.8 1264.7,792.6 1266.7,795.8 1268.7,799.5 1270.7,803.4 1272.7,807.7 1274.7,812.2 1276.7,816.9 1278.7,821.8 1280.7,826.8 1282.7,831.9 1284.7,837.1 1286.7,842.4 1288.7,847.6 1290.7,852.9 1292.7,858.1 1294.7,863.3 1296.7,868.4 1298.7,873.4 1300.7,878.3 1302.7,883.2 1304.7,887.9 1306.7,892.5 1308.7,897 1310.7,901.4 1312.7,905.6 1314.7,909.7 1316.7,913.7 1318.7,917.5 1320.7,921.2 1322.7,924.8 1324.7,928.2 1326.7,931.5 1328.7,934.7 1330.7,937.8 1332.7,940.8 1334.7,943.6 1336.7,946.3 1338.7,948.9 1340.7,951.4 1342.7,953.8 1344.7,956.1 1346.7,958.3 1348.7,960.4 1350.7,962.4 1352.7,964.4 1354.7,966.2 1356.7,968 1358.7,969.6 1360.7,971.2 1362.7,972.8 1364.7,974.3 1366.7,975.7 1368.7,977 1370.7,978.3 1372.7,979.5 1374.7,980.7 1376.7,981.8 1378.7,982.9 1380.7,983.9 1382.7,984.9 1384.7,985.8 1386.7,986.7 1388.7,987.6 1390.7,988.4 1392.7,989.2 1394.7,990 1396.7,990.7 1398.7,991.4 1400.7,992.1 1402.7,992.7 1404.7,993.4 1406.7,994 1408.7,994.5 1410.7,995.1 1412.7,995.6 1414.7,996.1 1416.7,996.6 1418.7,997.1 1420.7,997.6 1422.7,998 1424.7,998.5 1426.7,998.9 1428.7,999.3 1430.7,999.7 1432.7,1000.1 1434.7,1000.4 1436.7,1000.8 1438.7,1001.1 1440.7,1001.5 1442.7,1001.8 1444.7,1002.1 1446.7,1002.4 1448.7,1002.7 1450.7,1003 1452.7,1003.3 1454.7,1003.6 1456.7,1003.9 1458.7,1004.1 1460.7,1004.4 1462.7,1004.6 1464.7,1004.9 1466.7,1005.1 1468.7,1005.4 1470.7,1005.6 1472.7,1005.8 1474.7,1006 1476.7,1006.2 1478.7,1006.4 1480.7,1006.6 1482.7,1006.8 1484.7,1007 1486.7,1007.2 1488.7,1007.4 1490.7,1007.6 1492.7,1007.8 1494.7,1007.9 1496.7,1008.1 1498.7,1008.3 1500.7,1008.4 1502.7,1008.6 1504.7,1008.8 1506.7,1008.9 1508.7,1009.1 1510.7,1009.2 1512.7,1009.3 1514.7,1009.5 1516.7,1009.6 1518.7,1009.8 1520.7,1009.9 1522.7,1010 1524.7,1010.1 1526.7,1010.3 1528.7,1010.4 1530.7,1010.5 1532.7,1010.6 1534.7,1010.7 1536.7,1010.9 1538.7,1011 1540.7,1011.1 1542.7,1011.2 1544.7,1011.3 1546.7,1011.4 1548.7,1011.5 1550.7,1011.6 1552.7,1011.7 1554.7,1011.8 1556.7,1011.9 1558.7,1012 1560.7,1012.1 1562.7,1012.2 1564.7,1012.3 1566.7,1012.3 1568.7,1012.4 1570.7,1012.5 1572.7,1012.6 1574.7,1012.7 1576.7,1012.8 1578.7,1012.8 1580.7,1012.9 1582.7,1013" fill="none" stroke="#00ff00" stroke-width="4.2" stroke-linejoin="round" stroke-linecap="butt"/>
<polyline points="920.7,1062.3 922.7,1062.3 924.7,1062.2 926.7,1062.2 928.7,1062.1 930.7,1062 932.7,1062 934.7,1061.9 936.7,1061.9 938.7,1061.8 940.7,1061.7 942.7,1061.7 944.7,1061.6 946.7,1061.5 948.7,1061.5 950.7,1061.4 952.7,1061.3 954.7,1061.2 956.7,1061.2 958.7,1061.1 960.7,1061 962.7,1060.9 964.7,1060.8 966.7,1060.8 968.7,1060.7 970.7,1060.6 972.7,1060.5 974.7,1060.4 976.7,1060.3 978.7,1060.2 980.7,1060.1 982.7,1059.9 984.7,1059.8 986.7,1059.7 988.7,1059.6 990.7,1059.5 992.7,1059.3 994.7,1059.2 996.7,1059.1 998.7,1058.9 1000.7,1058.8 1002.7,1058.6 1004.7,1058.5 1006.7,1058.3 1008.7,1058.2 1010.7,1058 1012.7,1057.8 1014.7,1057.6 1016.7,1057.5 1018.7,1057.3 1020.7,1057.1 1022.7,1056.9 1024.7,1056.6 1026.7,1056.4 1028.7,1056.2 1030.7,1056 1032.7,1055.7 1034.7,1055.4 1036.7,1055.2 1038.7,1054.9 1040.7,1054.6 1042.7,1054.3 1044.7,1054 1046.7,1053.6 1048.7,1053.3 1050.7,1052.9 1052.7,1052.5 1054.7,1052.1 1056.7,1051.6 1058.7,1051.2 1060.7,1050.7 1062.7,1050.1 1064.7,1049.6 1066.7,1049 1068.7,1048.4 1070.7,1047.7 1072.7,1047 1074.7,1046.2 1076.7,1045.4 1078.7,1044.5 1080.7,1043.6 1082.7,1042.6 1084.7,1041.5 1086.7,1040.4 1088.7,1039.2 1090.7,1037.9 1092.7,1036.5 1094.7,1035 1096.7,1033.4 1098.7,1031.7 1100.7,1029.9 1102.7,1028 1104.7,1026 1106.7,1023.8 1108.7,1021.5 1110.7,1019.1 1112.7,1016.5 1114.7,1013.8 1116.7,1010.9 1118.7,1007.9 1120.7,1004.8 1122.7,1001.4 1124.7,998 1126.7,994.3 1128.7,990.5 1130.7,986.6 1132.7,982.5 1134.7,978.3 1136.7,973.9 1138.7,969.4 1140.7,964.8 1142.7,960.1 1144.7,955.3 1146.7,950.4 1148.7,945.4 1150.7,940.4 1152.7,935.4 1154.7,930.3 1156.7,925.3 1158.7,920.4 1160.7,915.6 1162.7,910.9 1164.7,906.3 1166.7,902 1168.7,898 1170.7,894.2 1172.7,890.8 1174.7,887.8 1176.7,885.2 1178.7,883 1180.7,881.4 1182.7,880.2 1184.7,879.6 1186.7,879.4 1188.7,879.9 1190.7,880.8 1192.7,882.2 1194.7,884.1 1196.7,886.4 1198.7,889.1 1200.7,892.2 1202.7,895.6 1204.7,899.2 1206.7,903.1 1208.7,907.2 1210.7,911.4 1212.7,915.7 1214.7,920.1 1216.7,924.6 1218.7,929 1220.7,933.5 1222.7,937.9 1224.7,942.3 1226.7,946.5 1228.7,950.7 1230.7,954.8 1232.7,958.8 1234.7,962.6 1236.7,966.4 1238.7,969.9 1240.7,973.4 1242.7,976.7 1244.7,979.8 1246.7,982.8 1248.7,985.6 1250.7,988.3 1252.7,990.8 1254.7,993.2 1256.7,995.5 1258.7,997.6 1260.7,999.6 1262.7,1001.4 1264.7,1003.1 1266.7,1004.7 1268.7,1006.1 1270.7,1007.5 1272.7,1008.8 1274.7,1009.9 1276.7,1010.9 1278.7,1011.9 1280.7,1012.8 1282.7,1013.6 1284.7,1014.3 1286.7,1015 1288.7,1015.5 1290.7,1016.1 1292.7,1016.5 1294.7,1017 1296.7,1017.3 1298.7,1017.7 1300.7,1018 1302.7,1018.2 1304.7,1018.5 1306.7,1018.7 1308.7,1018.8 1310.7,1019 1312.7,1019.1 1314.7,1019.2 1316.7,1019.3 1318.7,1019.4 1320.7,1019.4 1322.7,1019.5 1324.7,1019.5 1326.7,1019.5 1328.7,1019.6 1330.7,1019.6 1332.7,1019.6 1334.7,1019.6 1336.7,1019.6 1338.7,1019.5 1340.7,1019.5 1342.7,1019.5 1344.7,1019.5 1346.7,1019.5 1348.7,1019.4 1350.7,1019.4 1352.7,1019.4 1354.7,1019.3 1356.7,1019.3 1358.7,1019.3 1360.7,1019.2 1362.7,1019.2 1364.7,1019.2 1366.7,1019.1 1368.7,1019.1 1370.7,1019.1 1372.7,1019 1374.7,1019 1376.7,1019 1378.7,1018.9 1380.7,1018.9 1382.7,1018.9 1384.7,1018.9 1386.7,1018.8 1388.7,1018.8 1390.7,1018.8 1392.7,1018.7 1394.7,1018.7 1396.7,1018.7 1398.7,1018.7 1400.7,1018.6 1402.7,1018.6 1404.7,1018.6 1406.7,1018.6 1408.7,1018.6 1410.7,1018.5 1412.7,1018.5 1414.7,1018.5 1416.7,1018.5 1418.7,1018.5 1420.7,1018.5 1422.7,1018.4 1424.7,1018.4 1426.7,1018.4 1428.7,1018.4 1430.7,1018.4 1432.7,1018.4 1434.7,1018.4 1436.7,1018.4 1438.7,1018.4 1440.7,1018.3 1442.7,1018.3 1444.7,1018.3 1446.7,1018.3 1448.7,1018.3 1450.7,1018.3 1452.7,1018.3 1454.7,1018.3 1456.7,1018.3 1458.7,1018.3 1460.7,1018.3 1462.7,1018.3 1464.7,1018.3 1466.7,1018.3 1468.7,1018.3 1470.7,1018.3 1472.7,1018.3 1474.7,1018.3 1476.7,1018.3 1478.7,1018.3 1480.7,1018.3 1482.7,1018.3 1484.7,1018.3 1486.7,1018.3 1488.7,1018.3 1490.7,1018.3 1492.7,1018.3 1494.7,1018.3 1496.7,1018.3 1498.7,1018.3 1500.7,1018.3 1502.7,1018.3 1504.7,1018.3 1506.7,1018.4 1508.7,1018.4 1510.7,1018.4 1512.7,1018.4 1514.7,1018.4 1516.7,1018.4 1518.7,1018.4 1520.7,1018.4 1522.7,1018.4 1524.7,1018.4 1526.7,1018.4 1528.7,1018.4 1530.7,1018.4 1532.7,1018.4 1534.7,1018.4 1536.7,1018.4 1538.7,1018.5 1540.7,1018.5 1542.7,1018.5 1544.7,1018.5 1546.7,1018.5 1548.7,1018.5 1550.7,1018.5 1552.7,1018.5 1554.7,1018.5 1556.7,1018.5 1558.7,1018.5 1560.7,1018.5 1562.7,1018.5 1564.7,1018.6 1566.7,1018.6 1568.7,1018.6 1570.7,1018.6 1572.7,1018.6 1574.7,1018.6 1576.7,1018.6 1578.7,1018.6 1580.7,1018.6 1582.7,1018.6" fill="none" stroke="#0000ff" stroke-width="4.2" stroke-linejoin="round" stroke-linecap="butt"/>
<polyline points="920.7,1051 922.2,1051 923.7,1050.9 925.2,1050.8 926.7,1050.7 928.2,1050.6 929.7,1050.5 931.2,1050.3 932.7,1050.1 934.2,1049.9 935.7,1049.6 937.2,1049.4 938.7,1049.1 940.2,1048.8 941.7,1048.5 943.2,1048.1 944.7,1047.8 946.2,1047.4 947.7,1047.1 949.2,1046.7 950.7,1046.3 952.2,1045.9 953.7,1045.5 955.2,1045.1 956.7,1044.7 958.2,1044.3 959.7,1043.9 961.2,1043.5 962.7,1043.1 964.2,1042.7 965.7,1042.3 967.2,1042 968.7,1041.6 970.2,1041.3 971.7,1040.9 973.2,1040.6 974.7,1040.3 976.2,1040.1 977.7,1039.8 979.2,1039.6 980.7,1039.4 982.2,1039.2 983.7,1039 985.2,1038.8 986.7,1038.7 988.2,1038.6 989.7,1038.6 991.2,1038.5 992.7,1038.5 994.2,1038.5 995.7,1038.4 997.2,1038.3 998.7,1038.2 1000.2,1038 1001.7,1037.7 1003.2,1037.4 1004.7,1037.1 1006.2,1036.8 1007.7,1036.4 1009.2,1036 1010.7,1035.5 1012.2,1035.1 1013.7,1034.6 1015.2,1034.1 1016.7,1033.6 1018.2,1033.1 1019.7,1032.6 1021.2,1032.1 1022.7,1031.6 1024.2,1031.2 1025.7,1030.7 1027.2,1030.3 1028.7,1029.9 1030.2,1029.5 1031.7,1029.2 1033.2,1028.9 1034.7,1028.6 1036.2,1028.4 1037.7,1028.3 1039.2,1028.1 1040.7,1028 1042.2,1028 1043.7,1028 1045.2,1027.8 1046.7,1027.4 1048.2,1026.9 1049.7,1026.2 1051.2,1025.5 1052.7,1024.6 1054.2,1023.6 1055.7,1022.5 1057.2,1021.3 1058.7,1020.1 1060.2,1018.8 1061.7,1017.5 1063.2,1016.3 1064.7,1015 1066.2,1013.9 1067.7,1012.7 1069.2,1011.7 1070.7,1010.8 1072.2,1009.9 1073.7,1009.3 1075.2,1008.7 1076.7,1008.3 1078.2,1008.1 1079.7,1008 1081.2,1007.7 1082.7,1006.7 1084.2,1005.2 1085.7,1003.2 1087.2,1000.9 1088.7,998.4 1090.2,996 1091.7,993.9 1093.2,992.1 1094.7,990.8 1096.2,990.1 1097.7,989.9 1099.2,988.9 1100.7,987.1 1102.2,984.4 1103.7,981 1105.2,977.2 1106.7,973.1 1108.2,968.9 1109.7,965 1111.2,961.5 1112.7,958.6 1114.2,956.5 1115.7,955.3 1117.2,955 1118.7,954 1120.2,951.7 1121.7,948.4 1123.2,944.1 1124.7,939.2 1126.2,933.8 1127.7,928.4 1129.2,923.1 1130.7,918.4 1132.2,914.4 1133.7,911.4 1135.2,909.6 1136.7,909 1138.2,907.8 1139.7,904.7 1141.2,899.8 1142.7,893.5 1144.2,886.3 1145.7,878.7 1147.2,871.3 1148.7,864.6 1150.2,859.1 1151.7,855.2 1153.2,853.2 1154.7,852.4 1156.2,848.5 1157.7,841.3 1159.2,831.9 1160.7,821.6 1162.2,811.9 1163.7,804.2 1165.2,799.6 1166.7,798.3 1168.2,794.4 1169.7,786.2 1171.2,775.6 1172.7,764.9 1174.2,756.5 1175.7,752.3 1177.2,751.1 1178.7,746.7 1180.2,739.5 1181.7,731.2 1183.2,723.6 1184.7,718.5 1186.2,717 1187.7,716.6 1189.2,715.5 1190.7,713.8 1192.2,711.6 1193.7,709.2 1195.2,706.6 1196.7,704.1 1198.2,701.9 1199.7,700 1201.2,698.7 1202.7,698.1 1204.2,697.9 1205.7,697.5 1207.2,696.7 1208.7,695.5 1210.2,694 1211.7,692.3 1213.2,690.5 1214.7,688.7 1216.2,687 1217.7,685.5 1219.2,684.3 1220.7,683.5 1222.2,683.1 1223.7,683 1225.2,682.8 1226.7,682.4 1228.2,681.9 1229.7,681.3 1231.2,680.6 1232.7,680 1234.2,679.3 1235.7,678.7 1237.2,678.3 1238.7,678.1 1240.2,678 1241.7,678.1 1243.2,678.4 1244.7,678.9 1246.2,679.5 1247.7,680.2 1249.2,681 1250.7,681.8 1252.2,682.5 1253.7,683.2 1255.2,683.8 1256.7,684.3 1258.2,684.6 1259.7,684.7 1261.2,685.2 1262.7,686.9 1264.2,689.7 1265.7,693.1 1267.2,697 1268.7,700.8 1270.2,704.3 1271.7,707.1 1273.2,708.9 1274.7,709.5 1276.2,710.1 1277.7,712 1279.2,714.9 1280.7,718.8 1282.2,723.5 1283.7,728.6 1285.2,733.9 1286.7,739 1288.2,743.8 1289.7,747.9 1291.2,751 1292.7,753.1 1294.2,754 1295.7,754.5 1297.2,756.6 1298.7,760.1 1300.2,764.7 1301.7,770 1303.2,775.4 1304.7,780.6 1306.2,784.9 1307.7,788.1 1309.2,789.8 1310.7,790.2 1312.2,791.6 1313.7,794.4 1315.2,798.3 1316.7,803.3 1318.2,808.9 1319.7,814.8 1321.2,820.7 1322.7,826.1 1324.2,830.8 1325.7,834.5 1327.2,836.9 1328.7,838 1330.2,838.5 1331.7,840.5 1333.2,843.8 1334.7,848.1 1336.2,853 1337.7,858 1339.2,862.6 1340.7,866.3 1342.2,868.9 1343.7,870 1345.2,870.2 1346.7,871.1 1348.2,872.6 1349.7,874.7 1351.2,877.3 1352.7,880.4 1354.2,883.7 1355.7,887.2 1357.2,890.8 1358.7,894.3 1360.2,897.6 1361.7,900.5 1363.2,903 1364.7,905 1366.2,906.4 1367.7,907.2 1369.2,907.3 1370.7,907.9 1372.2,908.9 1373.7,910.5 1375.2,912.6 1376.7,915 1378.2,917.8 1379.7,920.7 1381.2,923.8 1382.7,926.8 1384.2,929.7 1385.7,932.4 1387.2,934.7 1388.7,936.6 1390.2,938.1 1391.7,939 1393.2,939.4 1394.7,939.6 1396.2,940.2 1397.7,941.2 1399.2,942.6 1400.7,944.4 1402.2,946.4 1403.7,948.6 1405.2,950.9 1406.7,953.3 1408.2,955.6 1409.7,957.7 1411.2,959.6 1412.7,961.3 1414.2,962.6 1415.7,963.5 1417.2,963.9 1418.7,964 1420.2,964.3 1421.7,964.9 1423.2,965.8 1424.7,967 1426.2,968.3 1427.7,969.8 1429.2,971.4 1430.7,973.1 1432.2,974.7 1433.7,976.3 1435.2,977.7 1436.7,979 1438.2,980.1 1439.7,980.8 1441.2,981.3 1442.7,981.5 1444.2,981.6 1445.7,981.8 1447.2,982.3 1448.7,982.8 1450.2,983.6 1451.7,984.4 1453.2,985.3 1454.7,986.2 1456.2,987.2 1457.7,988.1 1459.2,989 1460.7,989.7 1462.2,990.4 1463.7,990.9 1465.2,991.3 1466.7,991.5 1468.2,991.5 1469.7,991.6 1471.2,991.8 1472.7,992 1474.2,992.3 1475.7,992.7 1477.2,993.1 1478.7,993.5 1480.2,994 1481.7,994.4 1483.2,994.9 1484.7,995.3 1486.2,995.6 1487.7,995.9 1489.2,996.1 1490.7,996.3 1492.2,996.3 1493.7,996.3 1495.2,996.5 1496.7,996.7 1498.2,997 1499.7,997.3 1501.2,997.7 1502.7,998.1 1504.2,998.6 1505.7,999.1 1507.2,999.5 1508.7,1000 1510.2,1000.3 1511.7,1000.7 1513.2,1000.9 1514.7,1001.1 1516.2,1001.2 1517.7,1001.2 1519.2,1001.2 1520.7,1001.3 1522.2,1001.4 1523.7,1001.5 1525.2,1001.6 1526.7,1001.8 1528.2,1002 1529.7,1002.2 1531.2,1002.4 1532.7,1002.7 1534.2,1002.9 1535.7,1003.1 1537.2,1003.4 1538.7,1003.6 1540.2,1003.8 1541.7,1004.1 1543.2,1004.3 1544.7,1004.4 1546.2,1004.6 1547.7,1004.7 1549.2,1004.8 1550.7,1004.9 1552.2,1005 1553.7,1005 1555.2,1005 1556.7,1005 1558.2,1005.1 1559.7,1005.2 1561.2,1005.3 1562.7,1005.4 1564.2,1005.6 1565.7,1005.7 1567.2,1005.9 1568.7,1006.1 1570.2,1006.3 1571.7,1006.5 1573.2,1006.6 1574.7,1006.8 1576.2,1007 1577.7,1007.1 1579.2,1007.2 1580.7,1007.3 1582.2,1007.4 1583.7,1007.4" fill="none" stroke="#ffff40" stroke-width="3.2" stroke-linejoin="round" stroke-linecap="butt" stroke-dasharray="3 6"/>
<text x="1050" y="831" font-size="32" fill="#000">–N=</text>
<line x1="1109.2" y1="829.6" x2="1162.3" y2="865.4" stroke="#000" stroke-width="1.8"/>
<polygon points="1168.9,869.9 1159.5,867.8 1163.4,862" fill="#000"/>
<text x="1326" y="745.6" font-size="32" fill="#000">–N–</text>
<line x1="1316" y1="734.3" x2="1267.1" y2="775.5" stroke="#000" stroke-width="1.8"/>
<polygon points="1261,780.7 1265.6,772.2 1270.1,777.6" fill="#000"/>
<text x="1387" y="883" font-size="32" fill="#000">N<tspan font-size="19" dy="-13">+</tspan></text>
<line x1="1378.6" y1="872.3" x2="1339.3" y2="921.1" stroke="#000" stroke-width="1.8"/>
<polygon points="1334.3,927.3 1337.2,918.1 1342.7,922.5" fill="#000"/>
<rect x="1718.8" y="626.6" width="667.2" height="497.1" fill="none" stroke="#3c3c3c" stroke-width="2.6"/>
<line x1="1830" y1="1124.7" x2="1830" y2="1133.7" stroke="#3c3c3c" stroke-width="2"/>
<line x1="2052.4" y1="1124.7" x2="2052.4" y2="1133.7" stroke="#3c3c3c" stroke-width="2"/>
<line x1="2274.8" y1="1124.7" x2="2274.8" y2="1133.7" stroke="#3c3c3c" stroke-width="2"/>
<line x1="1718.8" y1="1124.7" x2="1718.8" y2="1129.2" stroke="#3c3c3c" stroke-width="2"/>
<line x1="1941.2" y1="1124.7" x2="1941.2" y2="1129.2" stroke="#3c3c3c" stroke-width="2"/>
<line x1="2163.6" y1="1124.7" x2="2163.6" y2="1129.2" stroke="#3c3c3c" stroke-width="2"/>
<line x1="2386" y1="1124.7" x2="2386" y2="1129.2" stroke="#3c3c3c" stroke-width="2"/>
<text x="1830" y="1158.2" font-size="24" fill="#000" text-anchor="middle">398</text>
<text x="2052.4" y="1158.2" font-size="24" fill="#000" text-anchor="middle">400</text>
<text x="2274.8" y="1158.2" font-size="24" fill="#000" text-anchor="middle">402</text>
<text x="1844.4" y="1213.3" font-size="48" fill="#000" textLength="425" lengthAdjust="spacingAndGlyphs">Binding Energy (eV)</text>
<text transform="translate(1680.8,885.7) rotate(-90)" font-size="48" text-anchor="middle" textLength="303" lengthAdjust="spacingAndGlyphs">Intensity (a.u.)</text>
<text x="1612.6" y="681.7" font-size="80" fill="#000">(f)</text>
<text x="2325.2" y="674.3" font-size="41" fill="#000" text-anchor="middle">SP2</text>
<text x="2325.2" y="724.7" font-size="41" fill="#000" text-anchor="middle">N 1s</text>
<polyline points="1720,1040 1792.2,1037 1824,1030.7 1845.2,1015.8 1877,1001 1898.2,981.9 1915.1,960.7 1930,935.3 1942.7,909.9 1955.4,869.6 1966,835.7 1974.5,806 1983,774.2 1991.4,763.6 2010.5,745.6 2019,742.4 2031.7,742.4 2042.3,739.2 2055,740.3 2058.7,742.4 2067.2,750.9 2088.4,795.4 2105.4,823 2111.7,831.4 2118,856.9 2130.8,886.5 2141.4,897.1 2173.2,928.9 2194.4,939.5 2215.6,962.8 2236.8,984 2258,990.4 2272.8,989.3 2289.8,994.6 2311,1005.2 2332.2,1009.5 2384.5,1010.5" fill="none" stroke="#404040" stroke-width="4.2" stroke-linejoin="round" stroke-linecap="butt"/>
<polyline points="1720.1,1050.7 1722.1,1050.7 1724.1,1050.7 1726.1,1050.7 1728.1,1050.7 1730.1,1050.7 1732.1,1050.7 1734.1,1050.7 1736.1,1050.7 1738.1,1050.7 1740.1,1050.7 1742.1,1050.7 1744.1,1050.7 1746.1,1050.7 1748.1,1050.7 1750.1,1050.7 1752.1,1050.7 1754.1,1050.7 1756.1,1050.7 1758.1,1050.7 1760.1,1050.7 1762.1,1050.7 1764.1,1050.7 1766.1,1050.7 1768.1,1050.7 1770.1,1050.7 1772.1,1050.7 1774.1,1050.6 1776.1,1050.6 1778.1,1050.6 1780.1,1050.6 1782.1,1050.6 1784.1,1050.6 1786.1,1050.6 1788.1,1050.6 1790.1,1050.6 1792.1,1050.6 1794.1,1050.6 1796.1,1050.6 1798.1,1050.5 1800.1,1050.5 1802.1,1050.5 1804.1,1050.5 1806.1,1050.5 1808.1,1050.5 1810.1,1050.5 1812.1,1050.5 1814.1,1050.5 1816.1,1050.4 1818.1,1050.4 1820.1,1050.4 1822.1,1050.4 1824.1,1050.4 1826.1,1050.4 1828.1,1050.3 1830.1,1050.3 1832.1,1050.3 1834.1,1050.3 1836.1,1050.3 1838.1,1050.2 1840.1,1050.2 1842.1,1050.2 1844.1,1050.2 1846.1,1050.2 1848.1,1050.1 1850.1,1050.1 1852.1,1050.1 1854.1,1050 1856.1,1050 1858.1,1050 1860.1,1049.9 1862.1,1049.9 1864.1,1049.9 1866.1,1049.8 1868.1,1049.8 1870.1,1049.8 1872.1,1049.7 1874.1,1049.7 1876.1,1049.6 1878.1,1049.6 1880.1,1049.5 1882.1,1049.5 1884.1,1049.4 1886.1,1049.4 1888.1,1049.3 1890.1,1049.3 1892.1,1049.2 1894.1,1049.2 1896.1,1049.1 1898.1,1049 1900.1,1049 1902.1,1048.9 1904.1,1048.8 1906.1,1048.7 1908.1,1048.7 1910.1,1048.6 1912.1,1048.5 1914.1,1048.4 1916.1,1048.3 1918.1,1048.2 1920.1,1048.1 1922.1,1048 1924.1,1047.9 1926.1,1047.8 1928.1,1047.7 1930.1,1047.6 1932.1,1047.5 1934.1,1047.3 1936.1,1047.2 1938.1,1047.1 1940.1,1046.9 1942.1,1046.8 1944.1,1046.7 1946.1,1046.5 1948.1,1046.3 1950.1,1046.2 1952.1,1046 1954.1,1045.9 1956.1,1045.7 1958.1,1045.5 1960.1,1045.3 1962.1,1045.1 1964.1,1044.9 1966.1,1044.7 1968.1,1044.5 1970.1,1044.3 1972.1,1044.1 1974.1,1043.9 1976.1,1043.7 1978.1,1043.4 1980.1,1043.2 1982.1,1043 1984.1,1042.7 1986.1,1042.5 1988.1,1042.2 1990.1,1041.9 1992.1,1041.7 1994.1,1041.4 1996.1,1041.1 1998.1,1040.8 2000.1,1040.5 2002.1,1040.2 2004.1,1039.9 2006.1,1039.6 2008.1,1039.3 2010.1,1039 2012.1,1038.7 2014.1,1038.4 2016.1,1038 2018.1,1037.7 2020.1,1037.4 2022.1,1037 2024.1,1036.7 2026.1,1036.3 2028.1,1036 2030.1,1035.6 2032.1,1035.3 2034.1,1034.9 2036.1,1034.6 2038.1,1034.2 2040.1,1033.9 2042.1,1033.5 2044.1,1033.1 2046.1,1032.8 2048.1,1032.4 2050.1,1032.1 2052.1,1031.7 2054.1,1031.3 2056.1,1031 2058.1,1030.6 2060.1,1030.3 2062.1,1029.9 2064.1,1029.6 2066.1,1029.2 2068.1,1028.9 2070.1,1028.5 2072.1,1028.2 2074.1,1027.9 2076.1,1027.5 2078.1,1027.2 2080.1,1026.9 2082.1,1026.6 2084.1,1026.3 2086.1,1025.9 2088.1,1025.6 2090.1,1025.3 2092.1,1025 2094.1,1024.8 2096.1,1024.5 2098.1,1024.2 2100.1,1023.9 2102.1,1023.6 2104.1,1023.4 2106.1,1023.1 2108.1,1022.9 2110.1,1022.6 2112.1,1022.4 2114.1,1022.1 2116.1,1021.9 2118.1,1021.7 2120.1,1021.5 2122.1,1021.3 2124.1,1021 2126.1,1020.8 2128.1,1020.6 2130.1,1020.4 2132.1,1020.3 2134.1,1020.1 2136.1,1019.9 2138.1,1019.7 2140.1,1019.6 2142.1,1019.4 2144.1,1019.2 2146.1,1019.1 2148.1,1018.9 2150.1,1018.8 2152.1,1018.7 2154.1,1018.5 2156.1,1018.4 2158.1,1018.3 2160.1,1018.1 2162.1,1018 2164.1,1017.9 2166.1,1017.8 2168.1,1017.7 2170.1,1017.6 2172.1,1017.5 2174.1,1017.4 2176.1,1017.3 2178.1,1017.2 2180.1,1017.1 2182.1,1017 2184.1,1016.9 2186.1,1016.9 2188.1,1016.8 2190.1,1016.7 2192.1,1016.6 2194.1,1016.6 2196.1,1016.5 2198.1,1016.4 2200.1,1016.4 2202.1,1016.3 2204.1,1016.3 2206.1,1016.2 2208.1,1016.2 2210.1,1016.1 2212.1,1016.1 2214.1,1016 2216.1,1016 2218.1,1015.9 2220.1,1015.9 2222.1,1015.8 2224.1,1015.8 2226.1,1015.8 2228.1,1015.7 2230.1,1015.7 2232.1,1015.7 2234.1,1015.6 2236.1,1015.6 2238.1,1015.6 2240.1,1015.5 2242.1,1015.5 2244.1,1015.5 2246.1,1015.4 2248.1,1015.4 2250.1,1015.4 2252.1,1015.4 2254.1,1015.4 2256.1,1015.3 2258.1,1015.3 2260.1,1015.3 2262.1,1015.3 2264.1,1015.3 2266.1,1015.2 2268.1,1015.2 2270.1,1015.2 2272.1,1015.2 2274.1,1015.2 2276.1,1015.2 2278.1,1015.1 2280.1,1015.1 2282.1,1015.1 2284.1,1015.1 2286.1,1015.1 2288.1,1015.1 2290.1,1015.1 2292.1,1015.1 2294.1,1015.1 2296.1,1015 2298.1,1015 2300.1,1015 2302.1,1015 2304.1,1015 2306.1,1015 2308.1,1015 2310.1,1015 2312.1,1015 2314.1,1015 2316.1,1015 2318.1,1015 2320.1,1014.9 2322.1,1014.9 2324.1,1014.9 2326.1,1014.9 2328.1,1014.9 2330.1,1014.9 2332.1,1014.9 2334.1,1014.9 2336.1,1014.9 2338.1,1014.9 2340.1,1014.9 2342.1,1014.9 2344.1,1014.9 2346.1,1014.9 2348.1,1014.9 2350.1,1014.9 2352.1,1014.9 2354.1,1014.9 2356.1,1014.9 2358.1,1014.9 2360.1,1014.9 2362.1,1014.9 2364.1,1014.9 2366.1,1014.9 2368.1,1014.9 2370.1,1014.9 2372.1,1014.9 2374.1,1014.9 2376.1,1014.8 2378.1,1014.8 2380.1,1014.8 2382.1,1014.8 2384.1,1014.8" fill="none" stroke="#ff00ff" stroke-width="3.0" stroke-linejoin="round" stroke-linecap="butt"/>
<polyline points="1720.1,1050.4 1722.1,1050.4 1724.1,1050.4 1726.1,1050.4 1728.1,1050.4 1730.1,1050.4 1732.1,1050.4 1734.1,1050.4 1736.1,1050.4 1738.1,1050.4 1740.1,1050.4 1742.1,1050.3 1744.1,1050.3 1746.1,1050.3 1748.1,1050.3 1750.1,1050.3 1752.1,1050.3 1754.1,1050.3 1756.1,1050.3 1758.1,1050.3 1760.1,1050.3 1762.1,1050.3 1764.1,1050.3 1766.1,1050.3 1768.1,1050.2 1770.1,1050.2 1772.1,1050.2 1774.1,1050.2 1776.1,1050.2 1778.1,1050.2 1780.1,1050.2 1782.1,1050.2 1784.1,1050.2 1786.1,1050.1 1788.1,1050.1 1790.1,1050.1 1792.1,1050.1 1794.1,1050.1 1796.1,1050.1 1798.1,1050.1 1800.1,1050 1802.1,1050 1804.1,1050 1806.1,1050 1808.1,1050 1810.1,1050 1812.1,1049.9 1814.1,1049.9 1816.1,1049.9 1818.1,1049.9 1820.1,1049.9 1822.1,1049.8 1824.1,1049.8 1826.1,1049.8 1828.1,1049.8 1830.1,1049.7 1832.1,1049.7 1834.1,1049.7 1836.1,1049.7 1838.1,1049.6 1840.1,1049.6 1842.1,1049.6 1844.1,1049.5 1846.1,1049.5 1848.1,1049.5 1850.1,1049.4 1852.1,1049.4 1854.1,1049.4 1856.1,1049.3 1858.1,1049.3 1860.1,1049.2 1862.1,1049.2 1864.1,1049.2 1866.1,1049.1 1868.1,1049.1 1870.1,1049 1872.1,1049 1874.1,1048.9 1876.1,1048.9 1878.1,1048.8 1880.1,1048.7 1882.1,1048.7 1884.1,1048.6 1886.1,1048.5 1888.1,1048.5 1890.1,1048.4 1892.1,1048.3 1894.1,1048.3 1896.1,1048.2 1898.1,1048.1 1900.1,1048 1902.1,1047.9 1904.1,1047.9 1906.1,1047.8 1908.1,1047.7 1910.1,1047.6 1912.1,1047.5 1914.1,1047.4 1916.1,1047.3 1918.1,1047.1 1920.1,1047 1922.1,1046.9 1924.1,1046.8 1926.1,1046.7 1928.1,1046.5 1930.1,1046.4 1932.1,1046.3 1934.1,1046.1 1936.1,1046 1938.1,1045.8 1940.1,1045.7 1942.1,1045.5 1944.1,1045.3 1946.1,1045.2 1948.1,1045 1950.1,1044.8 1952.1,1044.6 1954.1,1044.4 1956.1,1044.2 1958.1,1044 1960.1,1043.8 1962.1,1043.6 1964.1,1043.4 1966.1,1043.1 1968.1,1042.9 1970.1,1042.6 1972.1,1042.4 1974.1,1042.1 1976.1,1041.9 1978.1,1041.6 1980.1,1041.3 1982.1,1041.1 1984.1,1040.8 1986.1,1040.5 1988.1,1040.2 1990.1,1039.9 1992.1,1039.5 1994.1,1039.2 1996.1,1038.9 1998.1,1038.6 2000.1,1038.2 2002.1,1037.9 2004.1,1037.5 2006.1,1037.1 2008.1,1036.8 2010.1,1036.4 2012.1,1036 2014.1,1035.6 2016.1,1035.2 2018.1,1034.8 2020.1,1034.4 2022.1,1034 2024.1,1033.5 2026.1,1033.1 2028.1,1032.7 2030.1,1032.2 2032.1,1031.7 2034.1,1031.3 2036.1,1030.8 2038.1,1030.3 2040.1,1029.8 2042.1,1029.3 2044.1,1028.8 2046.1,1028.3 2048.1,1027.8 2050.1,1027.2 2052.1,1026.6 2054.1,1026.1 2056.1,1025.5 2058.1,1024.9 2060.1,1024.3 2062.1,1023.7 2064.1,1023 2066.1,1022.3 2068.1,1021.7 2070.1,1021 2072.1,1020.2 2074.1,1019.5 2076.1,1018.7 2078.1,1017.9 2080.1,1017.1 2082.1,1016.2 2084.1,1015.4 2086.1,1014.5 2088.1,1013.5 2090.1,1012.5 2092.1,1011.5 2094.1,1010.5 2096.1,1009.4 2098.1,1008.3 2100.1,1007.1 2102.1,1006 2104.1,1004.7 2106.1,1003.5 2108.1,1002.2 2110.1,1000.9 2112.1,999.5 2114.1,998.1 2116.1,996.7 2118.1,995.3 2120.1,993.8 2122.1,992.3 2124.1,990.8 2126.1,989.3 2128.1,987.7 2130.1,986.2 2132.1,984.7 2134.1,983.2 2136.1,981.7 2138.1,980.2 2140.1,978.8 2142.1,977.5 2144.1,976.2 2146.1,975 2148.1,973.8 2150.1,972.8 2152.1,971.9 2154.1,971.2 2156.1,970.5 2158.1,970 2160.1,969.7 2162.1,969.5 2164.1,969.5 2166.1,969.6 2168.1,969.9 2170.1,970.3 2172.1,970.8 2174.1,971.5 2176.1,972.3 2178.1,973.2 2180.1,974.2 2182.1,975.2 2184.1,976.3 2186.1,977.5 2188.1,978.7 2190.1,979.9 2192.1,981.2 2194.1,982.5 2196.1,983.7 2198.1,985 2200.1,986.3 2202.1,987.5 2204.1,988.7 2206.1,989.9 2208.1,991.1 2210.1,992.2 2212.1,993.3 2214.1,994.4 2216.1,995.4 2218.1,996.4 2220.1,997.3 2222.1,998.2 2224.1,999.1 2226.1,1000 2228.1,1000.7 2230.1,1001.5 2232.1,1002.2 2234.1,1002.9 2236.1,1003.5 2238.1,1004.1 2240.1,1004.7 2242.1,1005.2 2244.1,1005.7 2246.1,1006.2 2248.1,1006.6 2250.1,1007.1 2252.1,1007.4 2254.1,1007.8 2256.1,1008.1 2258.1,1008.5 2260.1,1008.8 2262.1,1009 2264.1,1009.3 2266.1,1009.5 2268.1,1009.7 2270.1,1010 2272.1,1010.2 2274.1,1010.3 2276.1,1010.5 2278.1,1010.7 2280.1,1010.8 2282.1,1011 2284.1,1011.1 2286.1,1011.2 2288.1,1011.3 2290.1,1011.4 2292.1,1011.5 2294.1,1011.6 2296.1,1011.7 2298.1,1011.8 2300.1,1011.9 2302.1,1012 2304.1,1012 2306.1,1012.1 2308.1,1012.2 2310.1,1012.2 2312.1,1012.3 2314.1,1012.4 2316.1,1012.4 2318.1,1012.5 2320.1,1012.5 2322.1,1012.6 2324.1,1012.6 2326.1,1012.7 2328.1,1012.7 2330.1,1012.8 2332.1,1012.8 2334.1,1012.9 2336.1,1012.9 2338.1,1012.9 2340.1,1013 2342.1,1013 2344.1,1013 2346.1,1013.1 2348.1,1013.1 2350.1,1013.1 2352.1,1013.2 2354.1,1013.2 2356.1,1013.2 2358.1,1013.3 2360.1,1013.3 2362.1,1013.3 2364.1,1013.3 2366.1,1013.4 2368.1,1013.4 2370.1,1013.4 2372.1,1013.4 2374.1,1013.5 2376.1,1013.5 2378.1,1013.5 2380.1,1013.5 2382.1,1013.5 2384.1,1013.6" fill="none" stroke="#ff2a2a" stroke-width="4.2" stroke-linejoin="round" stroke-linecap="butt"/>
<polyline points="1720.1,1048.3 1722.1,1048.3 1724.1,1048.3 1726.1,1048.2 1728.1,1048.2 1730.1,1048.2 1732.1,1048.1 1734.1,1048.1 1736.1,1048.1 1738.1,1048 1740.1,1048 1742.1,1048 1744.1,1047.9 1746.1,1047.9 1748.1,1047.8 1750.1,1047.8 1752.1,1047.8 1754.1,1047.7 1756.1,1047.7 1758.1,1047.6 1760.1,1047.6 1762.1,1047.6 1764.1,1047.5 1766.1,1047.5 1768.1,1047.4 1770.1,1047.4 1772.1,1047.3 1774.1,1047.3 1776.1,1047.2 1778.1,1047.2 1780.1,1047.1 1782.1,1047.1 1784.1,1047 1786.1,1046.9 1788.1,1046.9 1790.1,1046.8 1792.1,1046.8 1794.1,1046.7 1796.1,1046.6 1798.1,1046.6 1800.1,1046.5 1802.1,1046.4 1804.1,1046.4 1806.1,1046.3 1808.1,1046.2 1810.1,1046.1 1812.1,1046.1 1814.1,1046 1816.1,1045.9 1818.1,1045.8 1820.1,1045.7 1822.1,1045.6 1824.1,1045.6 1826.1,1045.5 1828.1,1045.4 1830.1,1045.3 1832.1,1045.2 1834.1,1045.1 1836.1,1045 1838.1,1044.8 1840.1,1044.7 1842.1,1044.6 1844.1,1044.5 1846.1,1044.4 1848.1,1044.2 1850.1,1044.1 1852.1,1044 1854.1,1043.8 1856.1,1043.7 1858.1,1043.6 1860.1,1043.4 1862.1,1043.3 1864.1,1043.1 1866.1,1042.9 1868.1,1042.8 1870.1,1042.6 1872.1,1042.4 1874.1,1042.2 1876.1,1042 1878.1,1041.8 1880.1,1041.6 1882.1,1041.4 1884.1,1041.2 1886.1,1041 1888.1,1040.8 1890.1,1040.5 1892.1,1040.3 1894.1,1040 1896.1,1039.8 1898.1,1039.5 1900.1,1039.2 1902.1,1038.9 1904.1,1038.6 1906.1,1038.3 1908.1,1038 1910.1,1037.7 1912.1,1037.3 1914.1,1037 1916.1,1036.6 1918.1,1036.3 1920.1,1035.9 1922.1,1035.4 1924.1,1035 1926.1,1034.6 1928.1,1034.1 1930.1,1033.7 1932.1,1033.2 1934.1,1032.6 1936.1,1032.1 1938.1,1031.6 1940.1,1031 1942.1,1030.4 1944.1,1029.7 1946.1,1029.1 1948.1,1028.4 1950.1,1027.7 1952.1,1026.9 1954.1,1026.1 1956.1,1025.3 1958.1,1024.4 1960.1,1023.5 1962.1,1022.5 1964.1,1021.5 1966.1,1020.4 1968.1,1019.2 1970.1,1018 1972.1,1016.8 1974.1,1015.4 1976.1,1014 1978.1,1012.5 1980.1,1010.9 1982.1,1009.2 1984.1,1007.4 1986.1,1005.6 1988.1,1003.6 1990.1,1001.4 1992.1,999.2 1994.1,996.8 1996.1,994.3 1998.1,991.7 2000.1,988.9 2002.1,985.9 2004.1,982.8 2006.1,979.6 2008.1,976.1 2010.1,972.5 2012.1,968.7 2014.1,964.7 2016.1,960.5 2018.1,956.2 2020.1,951.6 2022.1,946.9 2024.1,941.9 2026.1,936.8 2028.1,931.5 2030.1,926 2032.1,920.4 2034.1,914.6 2036.1,908.7 2038.1,902.7 2040.1,896.6 2042.1,890.5 2044.1,884.3 2046.1,878.2 2048.1,872.1 2050.1,866.2 2052.1,860.4 2054.1,854.9 2056.1,849.7 2058.1,844.9 2060.1,840.6 2062.1,836.7 2064.1,833.5 2066.1,830.9 2068.1,828.9 2070.1,827.7 2072.1,827.2 2074.1,827.5 2076.1,828.5 2078.1,830.1 2080.1,832.5 2082.1,835.4 2084.1,838.9 2086.1,842.8 2088.1,847.2 2090.1,851.9 2092.1,857 2094.1,862.2 2096.1,867.6 2098.1,873 2100.1,878.6 2102.1,884.1 2104.1,889.6 2106.1,895 2108.1,900.4 2110.1,905.6 2112.1,910.7 2114.1,915.6 2116.1,920.4 2118.1,925 2120.1,929.5 2122.1,933.8 2124.1,937.8 2126.1,941.7 2128.1,945.5 2130.1,949 2132.1,952.4 2134.1,955.6 2136.1,958.6 2138.1,961.5 2140.1,964.2 2142.1,966.7 2144.1,969.1 2146.1,971.4 2148.1,973.5 2150.1,975.5 2152.1,977.4 2154.1,979.2 2156.1,980.8 2158.1,982.3 2160.1,983.8 2162.1,985.2 2164.1,986.4 2166.1,987.6 2168.1,988.7 2170.1,989.8 2172.1,990.8 2174.1,991.7 2176.1,992.6 2178.1,993.4 2180.1,994.1 2182.1,994.8 2184.1,995.5 2186.1,996.2 2188.1,996.8 2190.1,997.3 2192.1,997.9 2194.1,998.4 2196.1,998.9 2198.1,999.3 2200.1,999.8 2202.1,1000.2 2204.1,1000.6 2206.1,1000.9 2208.1,1001.3 2210.1,1001.7 2212.1,1002 2214.1,1002.3 2216.1,1002.6 2218.1,1002.9 2220.1,1003.2 2222.1,1003.5 2224.1,1003.7 2226.1,1004 2228.1,1004.2 2230.1,1004.4 2232.1,1004.7 2234.1,1004.9 2236.1,1005.1 2238.1,1005.3 2240.1,1005.5 2242.1,1005.7 2244.1,1005.9 2246.1,1006.1 2248.1,1006.2 2250.1,1006.4 2252.1,1006.6 2254.1,1006.7 2256.1,1006.9 2258.1,1007 2260.1,1007.2 2262.1,1007.3 2264.1,1007.4 2266.1,1007.6 2268.1,1007.7 2270.1,1007.8 2272.1,1008 2274.1,1008.1 2276.1,1008.2 2278.1,1008.3 2280.1,1008.4 2282.1,1008.5 2284.1,1008.6 2286.1,1008.7 2288.1,1008.8 2290.1,1008.9 2292.1,1009 2294.1,1009.1 2296.1,1009.2 2298.1,1009.3 2300.1,1009.4 2302.1,1009.5 2304.1,1009.6 2306.1,1009.6 2308.1,1009.7 2310.1,1009.8 2312.1,1009.9 2314.1,1010 2316.1,1010 2318.1,1010.1 2320.1,1010.2 2322.1,1010.2 2324.1,1010.3 2326.1,1010.4 2328.1,1010.4 2330.1,1010.5 2332.1,1010.6 2334.1,1010.6 2336.1,1010.7 2338.1,1010.7 2340.1,1010.8 2342.1,1010.8 2344.1,1010.9 2346.1,1010.9 2348.1,1011 2350.1,1011 2352.1,1011.1 2354.1,1011.1 2356.1,1011.2 2358.1,1011.2 2360.1,1011.3 2362.1,1011.3 2364.1,1011.4 2366.1,1011.4 2368.1,1011.5 2370.1,1011.5 2372.1,1011.5 2374.1,1011.6 2376.1,1011.6 2378.1,1011.7 2380.1,1011.7 2382.1,1011.7 2384.1,1011.8" fill="none" stroke="#00ff00" stroke-width="4.2" stroke-linejoin="round" stroke-linecap="butt"/>
<polyline points="1720.1,1045.8 1722.1,1045.8 1724.1,1045.7 1726.1,1045.6 1728.1,1045.5 1730.1,1045.4 1732.1,1045.4 1734.1,1045.3 1736.1,1045.2 1738.1,1045.1 1740.1,1045 1742.1,1044.9 1744.1,1044.9 1746.1,1044.8 1748.1,1044.7 1750.1,1044.6 1752.1,1044.5 1754.1,1044.4 1756.1,1044.3 1758.1,1044.1 1760.1,1044 1762.1,1043.9 1764.1,1043.8 1766.1,1043.7 1768.1,1043.6 1770.1,1043.4 1772.1,1043.3 1774.1,1043.2 1776.1,1043 1778.1,1042.9 1780.1,1042.8 1782.1,1042.6 1784.1,1042.5 1786.1,1042.3 1788.1,1042.1 1790.1,1042 1792.1,1041.8 1794.1,1041.6 1796.1,1041.5 1798.1,1041.3 1800.1,1041.1 1802.1,1040.9 1804.1,1040.7 1806.1,1040.5 1808.1,1040.3 1810.1,1040.1 1812.1,1039.8 1814.1,1039.6 1816.1,1039.4 1818.1,1039.1 1820.1,1038.9 1822.1,1038.6 1824.1,1038.3 1826.1,1038.1 1828.1,1037.8 1830.1,1037.5 1832.1,1037.1 1834.1,1036.8 1836.1,1036.5 1838.1,1036.1 1840.1,1035.8 1842.1,1035.4 1844.1,1035 1846.1,1034.6 1848.1,1034.2 1850.1,1033.7 1852.1,1033.3 1854.1,1032.8 1856.1,1032.3 1858.1,1031.8 1860.1,1031.2 1862.1,1030.7 1864.1,1030 1866.1,1029.4 1868.1,1028.7 1870.1,1028 1872.1,1027.3 1874.1,1026.5 1876.1,1025.7 1878.1,1024.8 1880.1,1023.9 1882.1,1023 1884.1,1021.9 1886.1,1020.8 1888.1,1019.7 1890.1,1018.5 1892.1,1017.2 1894.1,1015.8 1896.1,1014.4 1898.1,1012.9 1900.1,1011.2 1902.1,1009.5 1904.1,1007.7 1906.1,1005.8 1908.1,1003.7 1910.1,1001.6 1912.1,999.3 1914.1,996.9 1916.1,994.3 1918.1,991.7 1920.1,988.8 1922.1,985.9 1924.1,982.7 1926.1,979.4 1928.1,976 1930.1,972.4 1932.1,968.6 1934.1,964.7 1936.1,960.5 1938.1,956.2 1940.1,951.8 1942.1,947.1 1944.1,942.3 1946.1,937.4 1948.1,932.2 1950.1,927 1952.1,921.5 1954.1,916 1956.1,910.3 1958.1,904.5 1960.1,898.6 1962.1,892.7 1964.1,886.7 1966.1,880.7 1968.1,874.7 1970.1,868.8 1972.1,862.9 1974.1,857.3 1976.1,851.8 1978.1,846.5 1980.1,841.6 1982.1,837 1984.1,832.7 1986.1,829 1988.1,825.7 1990.1,823 1992.1,820.9 1994.1,819.4 1996.1,818.5 1998.1,818.2 2000.1,818.6 2002.1,819.6 2004.1,821.2 2006.1,823.4 2008.1,826.2 2010.1,829.4 2012.1,833.1 2014.1,837.2 2016.1,841.6 2018.1,846.3 2020.1,851.3 2022.1,856.4 2024.1,861.7 2026.1,867.1 2028.1,872.5 2030.1,877.9 2032.1,883.4 2034.1,888.8 2036.1,894.1 2038.1,899.4 2040.1,904.5 2042.1,909.5 2044.1,914.4 2046.1,919.2 2048.1,923.8 2050.1,928.2 2052.1,932.5 2054.1,936.6 2056.1,940.6 2058.1,944.4 2060.1,948 2062.1,951.5 2064.1,954.7 2066.1,957.9 2068.1,960.9 2070.1,963.7 2072.1,966.3 2074.1,968.9 2076.1,971.2 2078.1,973.5 2080.1,975.6 2082.1,977.6 2084.1,979.5 2086.1,981.2 2088.1,982.9 2090.1,984.4 2092.1,985.8 2094.1,987.2 2096.1,988.4 2098.1,989.6 2100.1,990.7 2102.1,991.7 2104.1,992.7 2106.1,993.6 2108.1,994.4 2110.1,995.2 2112.1,995.9 2114.1,996.6 2116.1,997.2 2118.1,997.8 2120.1,998.4 2122.1,998.9 2124.1,999.4 2126.1,999.8 2128.1,1000.3 2130.1,1000.7 2132.1,1001.1 2134.1,1001.4 2136.1,1001.7 2138.1,1002.1 2140.1,1002.4 2142.1,1002.7 2144.1,1002.9 2146.1,1003.2 2148.1,1003.4 2150.1,1003.7 2152.1,1003.9 2154.1,1004.1 2156.1,1004.3 2158.1,1004.5 2160.1,1004.7 2162.1,1004.9 2164.1,1005.1 2166.1,1005.2 2168.1,1005.4 2170.1,1005.6 2172.1,1005.7 2174.1,1005.9 2176.1,1006 2178.1,1006.1 2180.1,1006.3 2182.1,1006.4 2184.1,1006.5 2186.1,1006.7 2188.1,1006.8 2190.1,1006.9 2192.1,1007 2194.1,1007.1 2196.1,1007.3 2198.1,1007.4 2200.1,1007.5 2202.1,1007.6 2204.1,1007.7 2206.1,1007.8 2208.1,1007.9 2210.1,1008 2212.1,1008.1 2214.1,1008.2 2216.1,1008.2 2218.1,1008.3 2220.1,1008.4 2222.1,1008.5 2224.1,1008.6 2226.1,1008.7 2228.1,1008.7 2230.1,1008.8 2232.1,1008.9 2234.1,1009 2236.1,1009.1 2238.1,1009.1 2240.1,1009.2 2242.1,1009.3 2244.1,1009.3 2246.1,1009.4 2248.1,1009.5 2250.1,1009.5 2252.1,1009.6 2254.1,1009.7 2256.1,1009.7 2258.1,1009.8 2260.1,1009.9 2262.1,1009.9 2264.1,1010 2266.1,1010 2268.1,1010.1 2270.1,1010.1 2272.1,1010.2 2274.1,1010.3 2276.1,1010.3 2278.1,1010.4 2280.1,1010.4 2282.1,1010.5 2284.1,1010.5 2286.1,1010.6 2288.1,1010.6 2290.1,1010.7 2292.1,1010.7 2294.1,1010.8 2296.1,1010.8 2298.1,1010.8 2300.1,1010.9 2302.1,1010.9 2304.1,1011 2306.1,1011 2308.1,1011.1 2310.1,1011.1 2312.1,1011.1 2314.1,1011.2 2316.1,1011.2 2318.1,1011.3 2320.1,1011.3 2322.1,1011.3 2324.1,1011.4 2326.1,1011.4 2328.1,1011.5 2330.1,1011.5 2332.1,1011.5 2334.1,1011.6 2336.1,1011.6 2338.1,1011.6 2340.1,1011.7 2342.1,1011.7 2344.1,1011.7 2346.1,1011.8 2348.1,1011.8 2350.1,1011.8 2352.1,1011.8 2354.1,1011.9 2356.1,1011.9 2358.1,1011.9 2360.1,1012 2362.1,1012 2364.1,1012 2366.1,1012.1 2368.1,1012.1 2370.1,1012.1 2372.1,1012.1 2374.1,1012.2 2376.1,1012.2 2378.1,1012.2 2380.1,1012.2 2382.1,1012.3 2384.1,1012.3" fill="none" stroke="#0000ff" stroke-width="4.2" stroke-linejoin="round" stroke-linecap="butt"/>
<polyline points="1720.1,1041.3 1721.6,1041.3 1723.1,1041.2 1724.6,1041.2 1726.1,1041.1 1727.6,1041 1729.1,1040.9 1730.6,1040.8 1732.1,1040.6 1733.6,1040.5 1735.1,1040.3 1736.6,1040.1 1738.1,1040 1739.6,1039.8 1741.1,1039.6 1742.6,1039.3 1744.1,1039.1 1745.6,1038.9 1747.1,1038.7 1748.6,1038.4 1750.1,1038.2 1751.6,1037.9 1753.1,1037.7 1754.6,1037.5 1756.1,1037.2 1757.6,1037 1759.1,1036.8 1760.6,1036.6 1762.1,1036.4 1763.6,1036.2 1765.1,1036 1766.6,1035.9 1768.1,1035.7 1769.6,1035.6 1771.1,1035.4 1772.6,1035.3 1774.1,1035.2 1775.6,1035.1 1777.1,1035.1 1778.6,1035 1780.1,1035 1781.6,1035 1783.1,1035 1784.6,1035 1786.1,1034.9 1787.6,1034.9 1789.1,1034.8 1790.6,1034.7 1792.1,1034.6 1793.6,1034.4 1795.1,1034.3 1796.6,1034.2 1798.1,1034 1799.6,1033.9 1801.1,1033.7 1802.6,1033.5 1804.1,1033.4 1805.6,1033.2 1807.1,1033 1808.6,1032.9 1810.1,1032.7 1811.6,1032.6 1813.1,1032.5 1814.6,1032.3 1816.1,1032.2 1817.6,1032.2 1819.1,1032.1 1820.6,1032 1822.1,1032 1823.6,1032 1825.1,1031.9 1826.6,1031.6 1828.1,1030.9 1829.6,1030 1831.1,1028.9 1832.6,1027.7 1834.1,1026.4 1835.6,1025 1837.1,1023.7 1838.6,1022.5 1840.1,1021.5 1841.6,1020.8 1843.1,1020.2 1844.6,1020 1846.1,1020 1847.6,1019.7 1849.1,1019.4 1850.6,1018.8 1852.1,1018.1 1853.6,1017.3 1855.1,1016.4 1856.6,1015.3 1858.1,1014.2 1859.6,1013.1 1861.1,1011.9 1862.6,1010.7 1864.1,1009.6 1865.6,1008.5 1867.1,1007.5 1868.6,1006.6 1870.1,1005.8 1871.6,1005.1 1873.1,1004.6 1874.6,1004.2 1876.1,1004 1877.6,1004 1879.1,1003.5 1880.6,1002.7 1882.1,1001.4 1883.6,999.7 1885.1,997.8 1886.6,995.8 1888.1,993.6 1889.6,991.6 1891.1,989.6 1892.6,987.9 1894.1,986.6 1895.6,985.6 1897.1,985.1 1898.6,984.9 1900.1,984.2 1901.6,982.7 1903.1,980.5 1904.6,977.8 1906.1,974.8 1907.6,971.8 1909.1,968.9 1910.6,966.4 1912.1,964.5 1913.6,963.4 1915.1,963 1916.6,962.3 1918.1,960.4 1919.6,957.4 1921.1,953.8 1922.6,949.7 1924.1,945.7 1925.6,942.1 1927.1,939.3 1928.6,937.6 1930.1,937 1931.6,936 1933.1,933.2 1934.6,929.2 1936.1,924.3 1937.6,919.4 1939.1,915 1940.6,911.8 1942.1,910.1 1943.6,909.5 1945.1,906.6 1946.6,901.4 1948.1,894.7 1949.6,887.3 1951.1,880.3 1952.6,874.6 1954.1,871 1955.6,870 1957.1,867.9 1958.6,862.8 1960.1,855.9 1961.6,848.3 1963.1,841.7 1964.6,837.2 1966.1,835.7 1967.6,833.2 1969.1,827 1970.6,818.9 1972.1,811.5 1973.6,806.8 1975.1,805.6 1976.6,801.7 1978.1,794.6 1979.6,786.4 1981.1,779.5 1982.6,776.2 1984.1,775.5 1985.6,773.6 1987.1,770.7 1988.6,767.8 1990.1,765.6 1991.6,765 1993.1,764.7 1994.6,763.8 1996.1,762.6 1997.6,761 1999.1,759 2000.6,757 2002.1,754.9 2003.6,752.9 2005.1,751.1 2006.6,749.7 2008.1,748.7 2009.6,748.1 2011.1,748 2012.6,748.4 2014.1,749.1 2015.6,749.9 2017.1,750.6 2018.6,750.9 2020.1,750.9 2021.6,750.9 2023.1,750.9 2024.6,750.9 2026.1,750.9 2027.6,750.9 2029.1,750.9 2030.6,750.9 2032.1,750.9 2033.6,750.9 2035.1,750.9 2036.6,750.9 2038.1,750.8 2039.6,750.5 2041.1,750.2 2042.6,749.7 2044.1,749.2 2045.6,748.6 2047.1,748 2048.6,747.4 2050.1,746.9 2051.6,746.4 2053.1,746 2054.6,745.8 2056.1,745.6 2057.6,745.6 2059.1,746 2060.6,746.9 2062.1,748.1 2063.6,749.7 2065.1,751.5 2066.6,753.5 2068.1,755.5 2069.6,757.5 2071.1,759.4 2072.6,761 2074.1,762.2 2075.6,763.1 2077.1,763.5 2078.6,763.7 2080.1,764.8 2081.6,766.9 2083.1,769.8 2084.6,773.5 2086.1,777.7 2087.6,782.3 2089.1,787 2090.6,791.6 2092.1,795.9 2093.6,799.6 2095.1,802.6 2096.6,804.7 2098.1,805.8 2099.6,806.2 2101.1,808.8 2102.6,813.7 2104.1,820 2105.6,826.4 2107.1,831.8 2108.6,835.1 2110.1,835.9 2111.6,838.2 2113.1,843 2114.6,849.2 2116.1,855.7 2117.6,861.1 2119.1,864.5 2120.6,865.4 2122.1,866.9 2123.6,870.2 2125.1,874.6 2126.6,879.3 2128.1,883.3 2129.6,885.8 2131.1,886.5 2132.6,887.2 2134.1,888.8 2135.6,891 2137.1,893.3 2138.6,895.4 2140.1,896.7 2141.6,897.1 2143.1,897.3 2144.6,897.9 2146.1,898.8 2147.6,900 2149.1,901.5 2150.6,903.2 2152.1,905.2 2153.6,907.3 2155.1,909.6 2156.6,911.9 2158.1,914.3 2159.6,916.6 2161.1,918.8 2162.6,920.9 2164.1,922.9 2165.6,924.6 2167.1,926.1 2168.6,927.3 2170.1,928.2 2171.6,928.7 2173.1,928.9 2174.6,929 2176.1,929.5 2177.6,930.1 2179.1,931.1 2180.6,932.2 2182.1,933.4 2183.6,934.8 2185.1,936.1 2186.6,937.4 2188.1,938.5 2189.6,939.5 2191.1,940.3 2192.6,940.8 2194.1,941 2195.6,941.1 2197.1,941.8 2198.6,942.8 2200.1,944.2 2201.6,945.9 2203.1,947.9 2204.6,949.9 2206.1,952 2207.6,954.1 2209.1,955.9 2210.6,957.5 2212.1,958.8 2213.6,959.6 2215.1,960 2216.6,960.1 2218.1,960.7 2219.6,961.8 2221.1,963.3 2222.6,965.2 2224.1,967.3 2225.6,969.6 2227.1,971.9 2228.6,974.2 2230.1,976.2 2231.6,978 2233.1,979.5 2234.6,980.4 2236.1,980.9 2237.6,981 2239.1,981.4 2240.6,982 2242.1,982.8 2243.6,983.9 2245.1,985.2 2246.6,986.5 2248.1,987.9 2249.6,989.3 2251.1,990.5 2252.6,991.6 2254.1,992.5 2255.6,993.1 2257.1,993.4 2258.6,993.5 2260.1,993.6 2261.6,993.7 2263.1,993.9 2264.6,994.2 2266.1,994.5 2267.6,994.9 2269.1,995.2 2270.6,995.6 2272.1,995.9 2273.6,996.2 2275.1,996.4 2276.6,996.6 2278.1,996.7 2279.6,996.7 2281.1,996.8 2282.6,997 2284.1,997.3 2285.6,997.6 2287.1,998 2288.6,998.5 2290.1,999 2291.6,999.4 2293.1,999.9 2294.6,1000.3 2296.1,1000.6 2297.6,1000.8 2299.1,1001 2300.6,1001 2302.1,1001 2303.6,1001.1 2305.1,1001.2 2306.6,1001.4 2308.1,1001.6 2309.6,1001.8 2311.1,1002.1 2312.6,1002.3 2314.1,1002.5 2315.6,1002.7 2317.1,1002.9 2318.6,1003 2320.1,1003.1 2321.6,1003.1 2323.1,1003.1 2324.6,1003.1 2326.1,1003.1 2327.6,1003.2 2329.1,1003.2 2330.6,1003.3 2332.1,1003.3 2333.6,1003.4 2335.1,1003.4 2336.6,1003.5 2338.1,1003.6 2339.6,1003.7 2341.1,1003.8 2342.6,1003.9 2344.1,1004 2345.6,1004.1 2347.1,1004.2 2348.6,1004.3 2350.1,1004.4 2351.6,1004.6 2353.1,1004.7 2354.6,1004.8 2356.1,1004.9 2357.6,1005 2359.1,1005.2 2360.6,1005.3 2362.1,1005.4 2363.6,1005.5 2365.1,1005.6 2366.6,1005.7 2368.1,1005.8 2369.6,1005.9 2371.1,1005.9 2372.6,1006 2374.1,1006.1 2375.6,1006.1 2377.1,1006.2 2378.6,1006.2 2380.1,1006.3 2381.6,1006.3 2383.1,1006.3 2384.6,1006.3" fill="none" stroke="#ffff40" stroke-width="3.2" stroke-linejoin="round" stroke-linecap="butt" stroke-dasharray="3 6"/>
<text x="1853" y="787.3" font-size="32" fill="#000">–N=</text>
<line x1="1905.3" y1="784.3" x2="1974" y2="807.6" stroke="#000" stroke-width="1.8"/>
<polygon points="1981.6,810.2 1972,810.6 1974.2,804" fill="#000"/>
<text x="2160" y="796.5" font-size="32" fill="#000">–N–</text>
<line x1="2146.6" y1="785.2" x2="2091.2" y2="812.7" stroke="#000" stroke-width="1.8"/>
<polygon points="2084,816.3 2090.5,809.2 2093.6,815.4" fill="#000"/>
<text x="2234.5" y="911" font-size="32" fill="#000">N<tspan font-size="19" dy="-13">+</tspan></text>
<line x1="2227.5" y1="903.4" x2="2183.9" y2="952.4" stroke="#000" stroke-width="1.8"/>
<polygon points="2178.6,958.4 2182,949.3 2187.2,954" fill="#000"/>
<rect x="118.9" y="1256.7" width="669.6" height="499.8" fill="none" stroke="#3c3c3c" stroke-width="2.6"/>
<line x1="230.5" y1="1757.5" x2="230.5" y2="1766.5" stroke="#3c3c3c" stroke-width="2"/>
<line x1="453.7" y1="1757.5" x2="453.7" y2="1766.5" stroke="#3c3c3c" stroke-width="2"/>
<line x1="676.9" y1="1757.5" x2="676.9" y2="1766.5" stroke="#3c3c3c" stroke-width="2"/>
<line x1="118.9" y1="1757.5" x2="118.9" y2="1762" stroke="#3c3c3c" stroke-width="2"/>
<line x1="342.1" y1="1757.5" x2="342.1" y2="1762" stroke="#3c3c3c" stroke-width="2"/>
<line x1="565.3" y1="1757.5" x2="565.3" y2="1762" stroke="#3c3c3c" stroke-width="2"/>
<line x1="788.5" y1="1757.5" x2="788.5" y2="1762" stroke="#3c3c3c" stroke-width="2"/>
<text x="230.5" y="1791" font-size="24" fill="#000" text-anchor="middle">398</text>
<text x="453.7" y="1791" font-size="24" fill="#000" text-anchor="middle">400</text>
<text x="676.9" y="1791" font-size="24" fill="#000" text-anchor="middle">402</text>
<text x="244.4" y="1844.3" font-size="48" fill="#000" textLength="425" lengthAdjust="spacingAndGlyphs">Binding Energy (eV)</text>
<text transform="translate(80.8,1514.6) rotate(-90)" font-size="48" text-anchor="middle" textLength="303" lengthAdjust="spacingAndGlyphs">Intensity (a.u.)</text>
<text x="12" y="1310.5" font-size="80" fill="#000">(g)</text>
<text x="726.4" y="1303" font-size="41" fill="#000" text-anchor="middle">SP3</text>
<text x="726.4" y="1353.6" font-size="41" fill="#000" text-anchor="middle">N 1s</text>
<polyline points="120.2,1664 175,1660 203.8,1657 232.1,1645.7 260.3,1632.5 279.2,1623.1 298,1610 307.5,1600.5 326.3,1577.9 345.2,1540.2 354.6,1511.9 364,1483.7 373.4,1455.4 382.9,1429 392.3,1421.5 401.7,1410.2 418.7,1401.7 428.1,1405.4 439.4,1400.7 450.7,1399.8 464.1,1404.5 477.3,1427.1 496.1,1455.4 509.3,1474.2 516.8,1496.8 528.2,1527 543.2,1538.3 562.1,1551.5 577.2,1566.6 599.8,1574.1 609.2,1579.8 637.5,1608 656.3,1615.6 694,1623.1 731.7,1630.7 787.2,1633.5" fill="none" stroke="#404040" stroke-width="4.2" stroke-linejoin="round" stroke-linecap="butt"/>
<polyline points="120.2,1674 122.2,1674 124.2,1674 126.2,1674 128.2,1674 130.2,1674 132.2,1674 134.2,1674 136.2,1674 138.2,1674 140.2,1673.9 142.2,1673.9 144.2,1673.9 146.2,1673.9 148.2,1673.9 150.2,1673.9 152.2,1673.9 154.2,1673.9 156.2,1673.9 158.2,1673.9 160.2,1673.9 162.2,1673.9 164.2,1673.9 166.2,1673.9 168.2,1673.9 170.2,1673.9 172.2,1673.9 174.2,1673.9 176.2,1673.9 178.2,1673.9 180.2,1673.9 182.2,1673.9 184.2,1673.9 186.2,1673.9 188.2,1673.9 190.2,1673.8 192.2,1673.8 194.2,1673.8 196.2,1673.8 198.2,1673.8 200.2,1673.8 202.2,1673.8 204.2,1673.8 206.2,1673.8 208.2,1673.8 210.2,1673.8 212.2,1673.7 214.2,1673.7 216.2,1673.7 218.2,1673.7 220.2,1673.7 222.2,1673.7 224.2,1673.7 226.2,1673.7 228.2,1673.6 230.2,1673.6 232.2,1673.6 234.2,1673.6 236.2,1673.6 238.2,1673.6 240.2,1673.5 242.2,1673.5 244.2,1673.5 246.2,1673.5 248.2,1673.4 250.2,1673.4 252.2,1673.4 254.2,1673.4 256.2,1673.3 258.2,1673.3 260.2,1673.3 262.2,1673.2 264.2,1673.2 266.2,1673.2 268.2,1673.1 270.2,1673.1 272.2,1673.1 274.2,1673 276.2,1673 278.2,1672.9 280.2,1672.9 282.2,1672.8 284.2,1672.8 286.2,1672.7 288.2,1672.7 290.2,1672.6 292.2,1672.6 294.2,1672.5 296.2,1672.4 298.2,1672.4 300.2,1672.3 302.2,1672.2 304.2,1672.2 306.2,1672.1 308.2,1672 310.2,1671.9 312.2,1671.8 314.2,1671.7 316.2,1671.6 318.2,1671.5 320.2,1671.4 322.2,1671.3 324.2,1671.2 326.2,1671.1 328.2,1671 330.2,1670.9 332.2,1670.7 334.2,1670.6 336.2,1670.5 338.2,1670.3 340.2,1670.2 342.2,1670 344.2,1669.9 346.2,1669.7 348.2,1669.5 350.2,1669.4 352.2,1669.2 354.2,1669 356.2,1668.8 358.2,1668.6 360.2,1668.4 362.2,1668.2 364.2,1668 366.2,1667.8 368.2,1667.5 370.2,1667.3 372.2,1667.1 374.2,1666.8 376.2,1666.6 378.2,1666.3 380.2,1666 382.2,1665.8 384.2,1665.5 386.2,1665.2 388.2,1664.9 390.2,1664.6 392.2,1664.4 394.2,1664 396.2,1663.7 398.2,1663.4 400.2,1663.1 402.2,1662.8 404.2,1662.5 406.2,1662.1 408.2,1661.8 410.2,1661.5 412.2,1661.1 414.2,1660.8 416.2,1660.4 418.2,1660.1 420.2,1659.7 422.2,1659.4 424.2,1659 426.2,1658.7 428.2,1658.3 430.2,1658 432.2,1657.6 434.2,1657.3 436.2,1656.9 438.2,1656.5 440.2,1656.2 442.2,1655.8 444.2,1655.5 446.2,1655.2 448.2,1654.8 450.2,1654.5 452.2,1654.1 454.2,1653.8 456.2,1653.5 458.2,1653.1 460.2,1652.8 462.2,1652.5 464.2,1652.2 466.2,1651.9 468.2,1651.6 470.2,1651.3 472.2,1651 474.2,1650.7 476.2,1650.4 478.2,1650.2 480.2,1649.9 482.2,1649.6 484.2,1649.4 486.2,1649.1 488.2,1648.9 490.2,1648.7 492.2,1648.4 494.2,1648.2 496.2,1648 498.2,1647.8 500.2,1647.6 502.2,1647.4 504.2,1647.2 506.2,1647 508.2,1646.8 510.2,1646.6 512.2,1646.4 514.2,1646.3 516.2,1646.1 518.2,1646 520.2,1645.8 522.2,1645.7 524.2,1645.5 526.2,1645.4 528.2,1645.2 530.2,1645.1 532.2,1645 534.2,1644.9 536.2,1644.8 538.2,1644.7 540.2,1644.5 542.2,1644.4 544.2,1644.3 546.2,1644.2 548.2,1644.2 550.2,1644.1 552.2,1644 554.2,1643.9 556.2,1643.8 558.2,1643.8 560.2,1643.7 562.2,1643.6 564.2,1643.5 566.2,1643.5 568.2,1643.4 570.2,1643.4 572.2,1643.3 574.2,1643.2 576.2,1643.2 578.2,1643.1 580.2,1643.1 582.2,1643.1 584.2,1643 586.2,1643 588.2,1642.9 590.2,1642.9 592.2,1642.8 594.2,1642.8 596.2,1642.8 598.2,1642.7 600.2,1642.7 602.2,1642.7 604.2,1642.7 606.2,1642.6 608.2,1642.6 610.2,1642.6 612.2,1642.5 614.2,1642.5 616.2,1642.5 618.2,1642.5 620.2,1642.5 622.2,1642.4 624.2,1642.4 626.2,1642.4 628.2,1642.4 630.2,1642.4 632.2,1642.4 634.2,1642.3 636.2,1642.3 638.2,1642.3 640.2,1642.3 642.2,1642.3 644.2,1642.3 646.2,1642.3 648.2,1642.2 650.2,1642.2 652.2,1642.2 654.2,1642.2 656.2,1642.2 658.2,1642.2 660.2,1642.2 662.2,1642.2 664.2,1642.2 666.2,1642.2 668.2,1642.2 670.2,1642.2 672.2,1642.1 674.2,1642.1 676.2,1642.1 678.2,1642.1 680.2,1642.1 682.2,1642.1 684.2,1642.1 686.2,1642.1 688.2,1642.1 690.2,1642.1 692.2,1642.1 694.2,1642.1 696.2,1642.1 698.2,1642.1 700.2,1642.1 702.2,1642.1 704.2,1642.1 706.2,1642.1 708.2,1642.1 710.2,1642.1 712.2,1642.1 714.2,1642.1 716.2,1642.1 718.2,1642.1 720.2,1642.1 722.2,1642 724.2,1642 726.2,1642 728.2,1642 730.2,1642 732.2,1642 734.2,1642 736.2,1642 738.2,1642 740.2,1642 742.2,1642 744.2,1642 746.2,1642 748.2,1642 750.2,1642 752.2,1642 754.2,1642 756.2,1642 758.2,1642 760.2,1642 762.2,1642 764.2,1642 766.2,1642 768.2,1642 770.2,1642 772.2,1642 774.2,1642 776.2,1642 778.2,1642 780.2,1642 782.2,1642 784.2,1642 786.2,1642" fill="none" stroke="#ff00ff" stroke-width="3.0" stroke-linejoin="round" stroke-linecap="butt"/>
<polyline points="120.2,1673.2 122.2,1673.2 124.2,1673.1 126.2,1673.1 128.2,1673.1 130.2,1673.1 132.2,1673.1 134.2,1673.1 136.2,1673.1 138.2,1673.1 140.2,1673.1 142.2,1673.1 144.2,1673 146.2,1673 148.2,1673 150.2,1673 152.2,1673 154.2,1673 156.2,1673 158.2,1673 160.2,1673 162.2,1672.9 164.2,1672.9 166.2,1672.9 168.2,1672.9 170.2,1672.9 172.2,1672.9 174.2,1672.9 176.2,1672.8 178.2,1672.8 180.2,1672.8 182.2,1672.8 184.2,1672.8 186.2,1672.8 188.2,1672.7 190.2,1672.7 192.2,1672.7 194.2,1672.7 196.2,1672.7 198.2,1672.7 200.2,1672.6 202.2,1672.6 204.2,1672.6 206.2,1672.6 208.2,1672.5 210.2,1672.5 212.2,1672.5 214.2,1672.5 216.2,1672.4 218.2,1672.4 220.2,1672.4 222.2,1672.4 224.2,1672.3 226.2,1672.3 228.2,1672.3 230.2,1672.2 232.2,1672.2 234.2,1672.2 236.2,1672.1 238.2,1672.1 240.2,1672 242.2,1672 244.2,1672 246.2,1671.9 248.2,1671.9 250.2,1671.8 252.2,1671.8 254.2,1671.7 256.2,1671.7 258.2,1671.6 260.2,1671.6 262.2,1671.5 264.2,1671.5 266.2,1671.4 268.2,1671.3 270.2,1671.3 272.2,1671.2 274.2,1671.1 276.2,1671.1 278.2,1671 280.2,1670.9 282.2,1670.8 284.2,1670.7 286.2,1670.6 288.2,1670.6 290.2,1670.5 292.2,1670.4 294.2,1670.3 296.2,1670.2 298.2,1670 300.2,1669.9 302.2,1669.8 304.2,1669.7 306.2,1669.6 308.2,1669.4 310.2,1669.3 312.2,1669.2 314.2,1669 316.2,1668.9 318.2,1668.7 320.2,1668.6 322.2,1668.4 324.2,1668.2 326.2,1668 328.2,1667.9 330.2,1667.7 332.2,1667.5 334.2,1667.3 336.2,1667.1 338.2,1666.9 340.2,1666.6 342.2,1666.4 344.2,1666.2 346.2,1665.9 348.2,1665.7 350.2,1665.4 352.2,1665.2 354.2,1664.9 356.2,1664.6 358.2,1664.3 360.2,1664 362.2,1663.7 364.2,1663.4 366.2,1663.1 368.2,1662.7 370.2,1662.4 372.2,1662 374.2,1661.7 376.2,1661.3 378.2,1660.9 380.2,1660.6 382.2,1660.2 384.2,1659.8 386.2,1659.4 388.2,1658.9 390.2,1658.5 392.2,1658.1 394.2,1657.6 396.2,1657.2 398.2,1656.7 400.2,1656.3 402.2,1655.8 404.2,1655.3 406.2,1654.8 408.2,1654.3 410.2,1653.8 412.2,1653.3 414.2,1652.8 416.2,1652.3 418.2,1651.8 420.2,1651.2 422.2,1650.7 424.2,1650.2 426.2,1649.6 428.2,1649.1 430.2,1648.5 432.2,1648 434.2,1647.4 436.2,1646.9 438.2,1646.3 440.2,1645.7 442.2,1645.2 444.2,1644.6 446.2,1644.1 448.2,1643.5 450.2,1642.9 452.2,1642.4 454.2,1641.8 456.2,1641.3 458.2,1640.7 460.2,1640.2 462.2,1639.6 464.2,1639.1 466.2,1638.5 468.2,1638 470.2,1637.5 472.2,1636.9 474.2,1636.4 476.2,1635.9 478.2,1635.4 480.2,1634.9 482.2,1634.4 484.2,1633.9 486.2,1633.4 488.2,1632.9 490.2,1632.4 492.2,1631.9 494.2,1631.5 496.2,1631 498.2,1630.6 500.2,1630.1 502.2,1629.7 504.2,1629.2 506.2,1628.8 508.2,1628.4 510.2,1628 512.2,1627.6 514.2,1627.2 516.2,1626.8 518.2,1626.5 520.2,1626.1 522.2,1625.7 524.2,1625.4 526.2,1625 528.2,1624.7 530.2,1624.4 532.2,1624.1 534.2,1623.8 536.2,1623.5 538.2,1623.2 540.2,1623 542.2,1622.7 544.2,1622.5 546.2,1622.2 548.2,1622 550.2,1621.8 552.2,1621.6 554.2,1621.4 556.2,1621.3 558.2,1621.1 560.2,1620.9 562.2,1620.8 564.2,1620.7 566.2,1620.6 568.2,1620.5 570.2,1620.4 572.2,1620.3 574.2,1620.2 576.2,1620.2 578.2,1620.2 580.2,1620.1 582.2,1620.1 584.2,1620.1 586.2,1620.1 588.2,1620.1 590.2,1620.2 592.2,1620.2 594.2,1620.3 596.2,1620.3 598.2,1620.4 600.2,1620.5 602.2,1620.6 604.2,1620.7 606.2,1620.8 608.2,1620.9 610.2,1621 612.2,1621.2 614.2,1621.3 616.2,1621.5 618.2,1621.6 620.2,1621.8 622.2,1622 624.2,1622.1 626.2,1622.3 628.2,1622.5 630.2,1622.7 632.2,1622.9 634.2,1623.1 636.2,1623.3 638.2,1623.5 640.2,1623.7 642.2,1624 644.2,1624.2 646.2,1624.4 648.2,1624.6 650.2,1624.8 652.2,1625.1 654.2,1625.3 656.2,1625.5 658.2,1625.8 660.2,1626 662.2,1626.2 664.2,1626.5 666.2,1626.7 668.2,1626.9 670.2,1627.2 672.2,1627.4 674.2,1627.7 676.2,1627.9 678.2,1628.1 680.2,1628.4 682.2,1628.6 684.2,1628.8 686.2,1629 688.2,1629.3 690.2,1629.5 692.2,1629.7 694.2,1629.9 696.2,1630.2 698.2,1630.4 700.2,1630.6 702.2,1630.8 704.2,1631 706.2,1631.2 708.2,1631.4 710.2,1631.7 712.2,1631.9 714.2,1632.1 716.2,1632.3 718.2,1632.4 720.2,1632.6 722.2,1632.8 724.2,1633 726.2,1633.2 728.2,1633.4 730.2,1633.6 732.2,1633.7 734.2,1633.9 736.2,1634.1 738.2,1634.3 740.2,1634.4 742.2,1634.6 744.2,1634.7 746.2,1634.9 748.2,1635 750.2,1635.2 752.2,1635.3 754.2,1635.5 756.2,1635.6 758.2,1635.8 760.2,1635.9 762.2,1636 764.2,1636.2 766.2,1636.3 768.2,1636.4 770.2,1636.6 772.2,1636.7 774.2,1636.8 776.2,1636.9 778.2,1637 780.2,1637.1 782.2,1637.2 784.2,1637.3 786.2,1637.4" fill="none" stroke="#ff2a2a" stroke-width="4.2" stroke-linejoin="round" stroke-linecap="butt"/>
<polyline points="120.2,1671 122.2,1671 124.2,1671 126.2,1670.9 128.2,1670.9 130.2,1670.9 132.2,1670.8 134.2,1670.8 136.2,1670.7 138.2,1670.7 140.2,1670.7 142.2,1670.6 144.2,1670.6 146.2,1670.5 148.2,1670.5 150.2,1670.5 152.2,1670.4 154.2,1670.4 156.2,1670.3 158.2,1670.3 160.2,1670.2 162.2,1670.2 164.2,1670.1 166.2,1670.1 168.2,1670 170.2,1670 172.2,1669.9 174.2,1669.9 176.2,1669.8 178.2,1669.7 180.2,1669.7 182.2,1669.6 184.2,1669.6 186.2,1669.5 188.2,1669.4 190.2,1669.4 192.2,1669.3 194.2,1669.2 196.2,1669.2 198.2,1669.1 200.2,1669 202.2,1668.9 204.2,1668.9 206.2,1668.8 208.2,1668.7 210.2,1668.6 212.2,1668.5 214.2,1668.4 216.2,1668.4 218.2,1668.3 220.2,1668.2 222.2,1668.1 224.2,1668 226.2,1667.9 228.2,1667.8 230.2,1667.7 232.2,1667.6 234.2,1667.4 236.2,1667.3 238.2,1667.2 240.2,1667.1 242.2,1667 244.2,1666.8 246.2,1666.7 248.2,1666.6 250.2,1666.4 252.2,1666.3 254.2,1666.1 256.2,1666 258.2,1665.8 260.2,1665.7 262.2,1665.5 264.2,1665.3 266.2,1665.2 268.2,1665 270.2,1664.8 272.2,1664.6 274.2,1664.4 276.2,1664.2 278.2,1664 280.2,1663.8 282.2,1663.6 284.2,1663.3 286.2,1663.1 288.2,1662.9 290.2,1662.6 292.2,1662.3 294.2,1662.1 296.2,1661.8 298.2,1661.5 300.2,1661.2 302.2,1660.9 304.2,1660.6 306.2,1660.2 308.2,1659.9 310.2,1659.5 312.2,1659.2 314.2,1658.8 316.2,1658.4 318.2,1658 320.2,1657.6 322.2,1657.1 324.2,1656.7 326.2,1656.2 328.2,1655.7 330.2,1655.2 332.2,1654.6 334.2,1654.1 336.2,1653.5 338.2,1652.9 340.2,1652.3 342.2,1651.6 344.2,1650.9 346.2,1650.2 348.2,1649.4 350.2,1648.7 352.2,1647.9 354.2,1647 356.2,1646.1 358.2,1645.2 360.2,1644.2 362.2,1643.2 364.2,1642.2 366.2,1641.1 368.2,1639.9 370.2,1638.7 372.2,1637.5 374.2,1636.2 376.2,1634.8 378.2,1633.4 380.2,1631.9 382.2,1630.4 384.2,1628.8 386.2,1627.1 388.2,1625.3 390.2,1623.5 392.2,1621.6 394.2,1619.7 396.2,1617.6 398.2,1615.5 400.2,1613.3 402.2,1611 404.2,1608.7 406.2,1606.2 408.2,1603.7 410.2,1601.1 412.2,1598.4 414.2,1595.6 416.2,1592.7 418.2,1589.7 420.2,1586.7 422.2,1583.6 424.2,1580.4 426.2,1577.1 428.2,1573.7 430.2,1570.3 432.2,1566.9 434.2,1563.3 436.2,1559.8 438.2,1556.2 440.2,1552.6 442.2,1548.9 444.2,1545.3 446.2,1541.7 448.2,1538.2 450.2,1534.7 452.2,1531.3 454.2,1528 456.2,1524.8 458.2,1521.8 460.2,1519 462.2,1516.3 464.2,1513.9 466.2,1511.8 468.2,1509.9 470.2,1508.3 472.2,1507.1 474.2,1506.1 476.2,1505.5 478.2,1505.2 480.2,1505.2 482.2,1505.6 484.2,1506.3 486.2,1507.3 488.2,1508.6 490.2,1510.2 492.2,1512 494.2,1514.1 496.2,1516.4 498.2,1518.8 500.2,1521.5 502.2,1524.2 504.2,1527.1 506.2,1530 508.2,1533 510.2,1536.1 512.2,1539.2 514.2,1542.3 516.2,1545.4 518.2,1548.5 520.2,1551.6 522.2,1554.6 524.2,1557.6 526.2,1560.5 528.2,1563.4 530.2,1566.2 532.2,1568.9 534.2,1571.6 536.2,1574.1 538.2,1576.7 540.2,1579.1 542.2,1581.4 544.2,1583.7 546.2,1585.9 548.2,1588 550.2,1590.1 552.2,1592 554.2,1593.9 556.2,1595.7 558.2,1597.5 560.2,1599.1 562.2,1600.7 564.2,1602.3 566.2,1603.7 568.2,1605.1 570.2,1606.5 572.2,1607.8 574.2,1609 576.2,1610.2 578.2,1611.3 580.2,1612.3 582.2,1613.4 584.2,1614.3 586.2,1615.3 588.2,1616.1 590.2,1617 592.2,1617.8 594.2,1618.6 596.2,1619.3 598.2,1620 600.2,1620.7 602.2,1621.3 604.2,1621.9 606.2,1622.5 608.2,1623 610.2,1623.6 612.2,1624.1 614.2,1624.6 616.2,1625 618.2,1625.5 620.2,1625.9 622.2,1626.3 624.2,1626.7 626.2,1627.1 628.2,1627.4 630.2,1627.8 632.2,1628.1 634.2,1628.4 636.2,1628.7 638.2,1629 640.2,1629.3 642.2,1629.6 644.2,1629.9 646.2,1630.1 648.2,1630.4 650.2,1630.6 652.2,1630.9 654.2,1631.1 656.2,1631.3 658.2,1631.5 660.2,1631.7 662.2,1631.9 664.2,1632.1 666.2,1632.3 668.2,1632.5 670.2,1632.7 672.2,1632.8 674.2,1633 676.2,1633.2 678.2,1633.3 680.2,1633.5 682.2,1633.6 684.2,1633.8 686.2,1633.9 688.2,1634.1 690.2,1634.2 692.2,1634.3 694.2,1634.5 696.2,1634.6 698.2,1634.7 700.2,1634.8 702.2,1635 704.2,1635.1 706.2,1635.2 708.2,1635.3 710.2,1635.4 712.2,1635.5 714.2,1635.6 716.2,1635.7 718.2,1635.8 720.2,1635.9 722.2,1636 724.2,1636.1 726.2,1636.2 728.2,1636.3 730.2,1636.3 732.2,1636.4 734.2,1636.5 736.2,1636.6 738.2,1636.7 740.2,1636.7 742.2,1636.8 744.2,1636.9 746.2,1637 748.2,1637 750.2,1637.1 752.2,1637.2 754.2,1637.2 756.2,1637.3 758.2,1637.4 760.2,1637.4 762.2,1637.5 764.2,1637.5 766.2,1637.6 768.2,1637.7 770.2,1637.7 772.2,1637.8 774.2,1637.8 776.2,1637.9 778.2,1637.9 780.2,1638 782.2,1638 784.2,1638.1 786.2,1638.1" fill="none" stroke="#00ff00" stroke-width="4.2" stroke-linejoin="round" stroke-linecap="butt"/>
<polyline points="120.2,1668 122.2,1667.9 124.2,1667.9 126.2,1667.8 128.2,1667.7 130.2,1667.6 132.2,1667.5 134.2,1667.4 136.2,1667.3 138.2,1667.2 140.2,1667.1 142.2,1667 144.2,1666.9 146.2,1666.8 148.2,1666.7 150.2,1666.6 152.2,1666.4 154.2,1666.3 156.2,1666.2 158.2,1666.1 160.2,1665.9 162.2,1665.8 164.2,1665.7 166.2,1665.5 168.2,1665.4 170.2,1665.3 172.2,1665.1 174.2,1665 176.2,1664.8 178.2,1664.6 180.2,1664.5 182.2,1664.3 184.2,1664.1 186.2,1664 188.2,1663.8 190.2,1663.6 192.2,1663.4 194.2,1663.2 196.2,1663 198.2,1662.8 200.2,1662.6 202.2,1662.4 204.2,1662.1 206.2,1661.9 208.2,1661.7 210.2,1661.4 212.2,1661.2 214.2,1660.9 216.2,1660.6 218.2,1660.4 220.2,1660.1 222.2,1659.8 224.2,1659.5 226.2,1659.2 228.2,1658.8 230.2,1658.5 232.2,1658.2 234.2,1657.8 236.2,1657.4 238.2,1657 240.2,1656.7 242.2,1656.2 244.2,1655.8 246.2,1655.4 248.2,1654.9 250.2,1654.4 252.2,1653.9 254.2,1653.4 256.2,1652.9 258.2,1652.3 260.2,1651.8 262.2,1651.2 264.2,1650.5 266.2,1649.9 268.2,1649.2 270.2,1648.5 272.2,1647.8 274.2,1647 276.2,1646.2 278.2,1645.3 280.2,1644.4 282.2,1643.5 284.2,1642.5 286.2,1641.5 288.2,1640.5 290.2,1639.4 292.2,1638.2 294.2,1637 296.2,1635.7 298.2,1634.3 300.2,1632.9 302.2,1631.4 304.2,1629.9 306.2,1628.3 308.2,1626.6 310.2,1624.8 312.2,1622.9 314.2,1620.9 316.2,1618.9 318.2,1616.7 320.2,1614.4 322.2,1612.1 324.2,1609.6 326.2,1607 328.2,1604.3 330.2,1601.5 332.2,1598.6 334.2,1595.5 336.2,1592.3 338.2,1589 340.2,1585.5 342.2,1582 344.2,1578.2 346.2,1574.4 348.2,1570.4 350.2,1566.3 352.2,1562 354.2,1557.7 356.2,1553.2 358.2,1548.6 360.2,1543.9 362.2,1539.1 364.2,1534.2 366.2,1529.3 368.2,1524.3 370.2,1519.4 372.2,1514.4 374.2,1509.5 376.2,1504.6 378.2,1499.8 380.2,1495.2 382.2,1490.8 384.2,1486.6 386.2,1482.7 388.2,1479 390.2,1475.8 392.2,1472.9 394.2,1470.4 396.2,1468.4 398.2,1466.9 400.2,1465.8 402.2,1465.3 404.2,1465.3 406.2,1465.8 408.2,1466.8 410.2,1468.2 412.2,1470.1 414.2,1472.5 416.2,1475.2 418.2,1478.2 420.2,1481.6 422.2,1485.2 424.2,1489.1 426.2,1493.1 428.2,1497.3 430.2,1501.5 432.2,1505.9 434.2,1510.3 436.2,1514.6 438.2,1519 440.2,1523.4 442.2,1527.7 444.2,1531.9 446.2,1536 448.2,1540 450.2,1544 452.2,1547.8 454.2,1551.5 456.2,1555.1 458.2,1558.6 460.2,1561.9 462.2,1565.1 464.2,1568.2 466.2,1571.2 468.2,1574.1 470.2,1576.8 472.2,1579.4 474.2,1581.9 476.2,1584.3 478.2,1586.6 480.2,1588.8 482.2,1590.8 484.2,1592.8 486.2,1594.7 488.2,1596.5 490.2,1598.2 492.2,1599.8 494.2,1601.4 496.2,1602.9 498.2,1604.3 500.2,1605.6 502.2,1606.8 504.2,1608 506.2,1609.2 508.2,1610.3 510.2,1611.3 512.2,1612.3 514.2,1613.2 516.2,1614.1 518.2,1614.9 520.2,1615.7 522.2,1616.5 524.2,1617.2 526.2,1617.9 528.2,1618.6 530.2,1619.2 532.2,1619.8 534.2,1620.4 536.2,1621 538.2,1621.5 540.2,1622 542.2,1622.5 544.2,1622.9 546.2,1623.4 548.2,1623.8 550.2,1624.2 552.2,1624.6 554.2,1625 556.2,1625.4 558.2,1625.7 560.2,1626.1 562.2,1626.4 564.2,1626.7 566.2,1627 568.2,1627.3 570.2,1627.6 572.2,1627.9 574.2,1628.2 576.2,1628.5 578.2,1628.7 580.2,1629 582.2,1629.2 584.2,1629.4 586.2,1629.7 588.2,1629.9 590.2,1630.1 592.2,1630.3 594.2,1630.5 596.2,1630.7 598.2,1630.9 600.2,1631.1 602.2,1631.3 604.2,1631.5 606.2,1631.7 608.2,1631.8 610.2,1632 612.2,1632.2 614.2,1632.3 616.2,1632.5 618.2,1632.6 620.2,1632.8 622.2,1632.9 624.2,1633.1 626.2,1633.2 628.2,1633.3 630.2,1633.5 632.2,1633.6 634.2,1633.7 636.2,1633.8 638.2,1634 640.2,1634.1 642.2,1634.2 644.2,1634.3 646.2,1634.4 648.2,1634.5 650.2,1634.7 652.2,1634.8 654.2,1634.9 656.2,1635 658.2,1635.1 660.2,1635.2 662.2,1635.3 664.2,1635.3 666.2,1635.4 668.2,1635.5 670.2,1635.6 672.2,1635.7 674.2,1635.8 676.2,1635.9 678.2,1635.9 680.2,1636 682.2,1636.1 684.2,1636.2 686.2,1636.3 688.2,1636.3 690.2,1636.4 692.2,1636.5 694.2,1636.5 696.2,1636.6 698.2,1636.7 700.2,1636.7 702.2,1636.8 704.2,1636.9 706.2,1636.9 708.2,1637 710.2,1637.1 712.2,1637.1 714.2,1637.2 716.2,1637.2 718.2,1637.3 720.2,1637.4 722.2,1637.4 724.2,1637.5 726.2,1637.5 728.2,1637.6 730.2,1637.6 732.2,1637.7 734.2,1637.7 736.2,1637.8 738.2,1637.8 740.2,1637.9 742.2,1637.9 744.2,1638 746.2,1638 748.2,1638 750.2,1638.1 752.2,1638.1 754.2,1638.2 756.2,1638.2 758.2,1638.3 760.2,1638.3 762.2,1638.3 764.2,1638.4 766.2,1638.4 768.2,1638.4 770.2,1638.5 772.2,1638.5 774.2,1638.6 776.2,1638.6 778.2,1638.6 780.2,1638.7 782.2,1638.7 784.2,1638.7 786.2,1638.8" fill="none" stroke="#0000ff" stroke-width="4.2" stroke-linejoin="round" stroke-linecap="butt"/>
<polyline points="120.2,1661.8 121.7,1661.8 123.2,1661.7 124.7,1661.7 126.2,1661.6 127.7,1661.6 129.2,1661.5 130.7,1661.4 132.2,1661.3 133.7,1661.2 135.2,1661.1 136.7,1661 138.2,1660.8 139.7,1660.7 141.2,1660.5 142.7,1660.4 144.2,1660.2 145.7,1660.1 147.2,1659.9 148.7,1659.7 150.2,1659.6 151.7,1659.4 153.2,1659.3 154.7,1659.1 156.2,1659 157.7,1658.9 159.2,1658.7 160.7,1658.6 162.2,1658.5 163.7,1658.4 165.2,1658.3 166.7,1658.2 168.2,1658.2 169.7,1658.1 171.2,1658.1 172.7,1658 174.2,1658 175.7,1658 177.2,1658 178.7,1657.9 180.2,1657.8 181.7,1657.6 183.2,1657.3 184.7,1657.1 186.2,1656.8 187.7,1656.4 189.2,1656.1 190.7,1655.7 192.2,1655.3 193.7,1654.9 195.2,1654.5 196.7,1654.1 198.2,1653.7 199.7,1653.3 201.2,1652.9 202.7,1652.6 204.2,1652.3 205.7,1652 207.2,1651.8 208.7,1651.6 210.2,1651.5 211.7,1651.4 213.2,1651.4 214.7,1651.3 216.2,1651.1 217.7,1650.7 219.2,1650.2 220.7,1649.5 222.2,1648.9 223.7,1648.2 225.2,1647.6 226.7,1647 228.2,1646.5 229.7,1646.2 231.2,1646 232.7,1646 234.2,1645.8 235.7,1645.4 237.2,1644.9 238.7,1644.2 240.2,1643.4 241.7,1642.5 243.2,1641.5 244.7,1640.4 246.2,1639.4 247.7,1638.3 249.2,1637.2 250.7,1636.2 252.2,1635.3 253.7,1634.6 255.2,1633.9 256.7,1633.4 258.2,1633.1 259.7,1633 261.2,1632.9 262.7,1632.5 264.2,1631.8 265.7,1630.9 267.2,1629.9 268.7,1628.7 270.2,1627.4 271.7,1626.2 273.2,1625.1 274.7,1624.2 276.2,1623.5 277.7,1623.1 279.2,1623 280.7,1622.7 282.2,1622.1 283.7,1621.1 285.2,1619.9 286.7,1618.4 288.2,1616.8 289.7,1615.2 291.2,1613.7 292.7,1612.3 294.2,1611.2 295.7,1610.5 297.2,1610.1 298.7,1609.9 300.2,1608.8 301.7,1606.9 303.2,1604.5 304.7,1602.4 306.2,1600.9 307.7,1600.5 309.2,1600 310.7,1598.9 312.2,1597.2 313.7,1595 315.2,1592.4 316.7,1589.6 318.2,1586.8 319.7,1584.1 321.2,1581.8 322.7,1579.9 324.2,1578.6 325.7,1578 327.2,1577.7 328.7,1576.4 330.2,1574.1 331.7,1570.8 333.2,1566.8 334.7,1562.3 336.2,1557.6 337.7,1553 339.2,1548.8 340.7,1545.2 342.2,1542.5 343.7,1540.8 345.2,1540.2 346.7,1539.3 348.2,1536.7 349.7,1532.6 351.2,1527.2 352.7,1520.8 354.2,1513.8 355.7,1506.8 357.2,1500.1 358.7,1494.1 360.2,1489.2 361.7,1485.8 363.2,1484 364.7,1483.5 366.2,1481.9 367.7,1478.8 369.2,1474.3 370.7,1468.7 372.2,1462.4 373.7,1455.7 375.2,1449.1 376.7,1443 378.2,1437.8 379.7,1433.7 381.2,1431.1 382.7,1430 384.2,1429.7 385.7,1428.6 387.2,1426.8 388.7,1424.5 390.2,1421.6 391.7,1418.5 393.2,1415.3 394.7,1412.3 396.2,1409.5 397.7,1407.2 399.2,1405.6 400.7,1404.7 402.2,1404.5 403.7,1404.3 405.2,1404 406.7,1403.6 408.2,1403 409.7,1402.3 411.2,1401.6 412.7,1400.9 414.2,1400.2 415.7,1399.7 417.2,1399.2 418.7,1398.9 420.2,1398.8 421.7,1398.8 423.2,1399 424.7,1399.2 426.2,1399.6 427.7,1400 429.2,1400.5 430.7,1400.9 432.2,1401.4 433.7,1401.8 435.2,1402.2 436.7,1402.4 438.2,1402.6 439.7,1402.6 441.2,1402.7 442.7,1403.1 444.2,1403.6 445.7,1404.3 447.2,1405 448.7,1405.8 450.2,1406.7 451.7,1407.4 453.2,1408.1 454.7,1408.7 456.2,1409 457.7,1409.2 459.2,1409.3 460.7,1410 462.2,1411.3 463.7,1413 465.2,1415.1 466.7,1417.4 468.2,1419.8 469.7,1422.2 471.2,1424.4 472.7,1426.3 474.2,1427.7 475.7,1428.7 477.2,1429 478.7,1429.4 480.2,1430.6 481.7,1432.5 483.2,1435 484.7,1438.1 486.2,1441.4 487.7,1444.7 489.2,1448 490.7,1450.9 492.2,1453.2 493.7,1454.9 495.2,1455.8 496.7,1456.1 498.2,1457.2 499.7,1459.5 501.2,1462.5 502.7,1466 504.2,1469.5 505.7,1472.5 507.2,1474.8 508.7,1475.9 510.2,1476.3 511.7,1478.2 513.2,1481.6 514.7,1486.2 516.2,1491.5 517.7,1497.1 519.2,1502.4 520.7,1506.8 522.2,1510.1 523.7,1511.7 525.2,1512 526.7,1512.9 528.2,1514.6 529.7,1517.1 531.2,1520 532.7,1523.4 534.2,1526.9 535.7,1530.3 537.2,1533.5 538.7,1536.2 540.2,1538.3 541.7,1539.6 543.2,1540 544.7,1540.3 546.2,1541 547.7,1542.3 549.2,1543.9 550.7,1545.8 552.2,1547.9 553.7,1550.1 555.2,1552.1 556.7,1553.9 558.2,1555.3 559.7,1556.4 561.2,1556.9 562.7,1557 564.2,1557.4 565.7,1558.2 567.2,1559.3 568.7,1560.7 570.2,1562.3 571.7,1563.9 573.2,1565.6 574.7,1567.1 576.2,1568.4 577.7,1569.4 579.2,1570.1 580.7,1570.4 582.2,1570.5 583.7,1571.1 585.2,1571.9 586.7,1573.2 588.2,1574.6 589.7,1576.2 591.2,1577.8 592.7,1579.4 594.2,1580.8 595.7,1582 597.2,1582.9 598.7,1583.4 600.2,1583.5 601.7,1583.8 603.2,1584.5 604.7,1585.6 606.2,1586.9 607.7,1588.5 609.2,1590.1 610.7,1591.7 612.2,1593.3 613.7,1594.6 615.2,1595.7 616.7,1596.4 618.2,1596.7 619.7,1596.8 621.2,1597.1 622.7,1597.8 624.2,1598.6 625.7,1599.6 627.2,1600.8 628.7,1602 630.2,1603.1 631.7,1604.2 633.2,1605 634.7,1605.7 636.2,1606.1 637.7,1606.2 639.2,1606.2 640.7,1606.4 642.2,1606.6 643.7,1606.8 645.2,1607.1 646.7,1607.5 648.2,1607.9 649.7,1608.4 651.2,1608.9 652.7,1609.5 654.2,1610.1 655.7,1610.6 657.2,1611.2 658.7,1611.8 660.2,1612.4 661.7,1612.9 663.2,1613.4 664.7,1613.9 666.2,1614.3 667.7,1614.7 669.2,1615 670.7,1615.3 672.2,1615.5 673.7,1615.6 675.2,1615.6 676.7,1615.6 678.2,1615.7 679.7,1615.9 681.2,1616.1 682.7,1616.3 684.2,1616.6 685.7,1616.9 687.2,1617.3 688.7,1617.7 690.2,1618.2 691.7,1618.6 693.2,1619.1 694.7,1619.6 696.2,1620 697.7,1620.5 699.2,1620.9 700.7,1621.3 702.2,1621.7 703.7,1622.1 705.2,1622.4 706.7,1622.6 708.2,1622.8 709.7,1623 711.2,1623.1 712.7,1623.1 714.2,1623.1 715.7,1623.2 717.2,1623.3 718.7,1623.4 720.2,1623.5 721.7,1623.7 723.2,1623.9 724.7,1624.2 726.2,1624.4 727.7,1624.7 729.2,1625 730.7,1625.3 732.2,1625.5 733.7,1625.8 735.2,1626.1 736.7,1626.4 738.2,1626.7 739.7,1626.9 741.2,1627.1 742.7,1627.3 744.2,1627.5 745.7,1627.6 747.2,1627.7 748.7,1627.8 750.2,1627.8 751.7,1627.8 753.2,1627.8 754.7,1627.9 756.2,1628 757.7,1628.1 759.2,1628.2 760.7,1628.3 762.2,1628.4 763.7,1628.6 765.2,1628.8 766.7,1628.9 768.2,1629.1 769.7,1629.3 771.2,1629.5 772.7,1629.7 774.2,1629.8 775.7,1630 777.2,1630.1 778.7,1630.3 780.2,1630.4 781.7,1630.5 783.2,1630.6 784.7,1630.6 786.2,1630.7" fill="none" stroke="#ffff40" stroke-width="3.2" stroke-linejoin="round" stroke-linecap="butt" stroke-dasharray="3 6"/>
<text x="270.5" y="1433.4" font-size="32" fill="#000">–N=</text>
<line x1="330.7" y1="1424.2" x2="378.8" y2="1449.6" stroke="#000" stroke-width="1.8"/>
<polygon points="385.9,1453.3 376.3,1452.2 379.6,1446" fill="#000"/>
<text x="579" y="1477.9" font-size="32" fill="#000">–N–</text>
<line x1="568.4" y1="1467.1" x2="499" y2="1497.7" stroke="#000" stroke-width="1.8"/>
<polygon points="491.7,1500.9 498.5,1494.1 501.3,1500.5" fill="#000"/>
<text x="628" y="1547" font-size="32" fill="#000">N<tspan font-size="19" dy="-13">+</tspan></text>
<line x1="626.7" y1="1542.3" x2="585.3" y2="1600.2" stroke="#000" stroke-width="1.8"/>
<polygon points="580.7,1606.7 583.1,1597.3 588.8,1601.4" fill="#000"/>
<rect x="915.6" y="1254.3" width="675.4" height="503.8" fill="none" stroke="#3c3c3c" stroke-width="2.6"/>
<line x1="915.6" y1="1509.2" x2="1591" y2="1509.2" stroke="#3c3c3c" stroke-width="2.6"/>
<line x1="915.6" y1="1759.1" x2="915.6" y2="1768.1" stroke="#3c3c3c" stroke-width="2"/>
<line x1="1108.6" y1="1759.1" x2="1108.6" y2="1768.1" stroke="#3c3c3c" stroke-width="2"/>
<line x1="1301.5" y1="1759.1" x2="1301.5" y2="1768.1" stroke="#3c3c3c" stroke-width="2"/>
<line x1="1494.5" y1="1759.1" x2="1494.5" y2="1768.1" stroke="#3c3c3c" stroke-width="2"/>
<line x1="1012.1" y1="1759.1" x2="1012.1" y2="1763.6" stroke="#3c3c3c" stroke-width="2"/>
<line x1="1205.1" y1="1759.1" x2="1205.1" y2="1763.6" stroke="#3c3c3c" stroke-width="2"/>
<line x1="1398" y1="1759.1" x2="1398" y2="1763.6" stroke="#3c3c3c" stroke-width="2"/>
<line x1="1591" y1="1759.1" x2="1591" y2="1763.6" stroke="#3c3c3c" stroke-width="2"/>
<text x="915.6" y="1790.1" font-size="19" fill="#000" text-anchor="middle">528</text>
<text x="1108.6" y="1790.1" font-size="19" fill="#000" text-anchor="middle">530</text>
<text x="1301.5" y="1790.1" font-size="19" fill="#000" text-anchor="middle">532</text>
<text x="1494.5" y="1790.1" font-size="19" fill="#000" text-anchor="middle">534</text>
<text x="1045.4" y="1844.8" font-size="48" fill="#000" textLength="425" lengthAdjust="spacingAndGlyphs">Binding Energy (eV)</text>
<text transform="translate(879.8,1514) rotate(-90)" font-size="48" text-anchor="middle" textLength="303" lengthAdjust="spacingAndGlyphs">Intensity (a.u.)</text>
<text x="922.8" y="1320.1" font-size="80" fill="#000">(h)</text>
<text x="922.8" y="1574.2" font-size="80" fill="#000">(i)</text>
<text x="1530.5" y="1302.5" font-size="41" fill="#000" text-anchor="middle">SP0</text>
<text x="1530.5" y="1354" font-size="41" fill="#000" text-anchor="middle">O 1s</text>
<text x="1530.5" y="1557.5" font-size="41" fill="#000" text-anchor="middle">SP1</text>
<text x="1530.5" y="1609" font-size="41" fill="#000" text-anchor="middle">O 1s</text>
<line x1="916.9" y1="1459.3" x2="1589.7" y2="1459.3" stroke="#111" stroke-width="2.4"/>
<polyline points="916.9,1457.2 918.9,1457.2 920.9,1457.2 922.9,1457.2 924.9,1457.2 926.9,1457.1 928.9,1457.1 930.9,1457.1 932.9,1457.1 934.9,1457.1 936.9,1457 938.9,1457 940.9,1457 942.9,1457 944.9,1456.9 946.9,1456.9 948.9,1456.9 950.9,1456.8 952.9,1456.8 954.9,1456.7 956.9,1456.7 958.9,1456.7 960.9,1456.6 962.9,1456.6 964.9,1456.5 966.9,1456.4 968.9,1456.4 970.9,1456.3 972.9,1456.2 974.9,1456.1 976.9,1456 978.9,1455.9 980.9,1455.8 982.9,1455.7 984.9,1455.6 986.9,1455.4 988.9,1455.3 990.9,1455.1 992.9,1454.9 994.9,1454.7 996.9,1454.4 998.9,1454.2 1000.9,1453.9 1002.9,1453.6 1004.9,1453.2 1006.9,1452.8 1008.9,1452.4 1010.9,1452 1012.9,1451.5 1014.9,1451 1016.9,1450.4 1018.9,1449.7 1020.9,1449.1 1022.9,1448.3 1024.9,1447.5 1026.9,1446.6 1028.9,1445.7 1030.9,1444.7 1032.9,1443.6 1034.9,1442.4 1036.9,1441.1 1038.9,1439.7 1040.9,1438.3 1042.9,1436.7 1044.9,1435.1 1046.9,1433.3 1048.9,1431.4 1050.9,1429.5 1052.9,1427.3 1054.9,1425.1 1056.9,1422.8 1058.9,1420.3 1060.9,1417.7 1062.9,1415 1064.9,1412.2 1066.9,1409.3 1068.9,1406.2 1070.9,1403 1072.9,1399.7 1074.9,1396.2 1076.9,1392.7 1078.9,1389.1 1080.9,1385.3 1082.9,1381.5 1084.9,1377.6 1086.9,1373.6 1088.9,1369.5 1090.9,1365.4 1092.9,1361.2 1094.9,1357 1096.9,1352.8 1098.9,1348.6 1100.9,1344.3 1102.9,1340.1 1104.9,1335.9 1106.9,1331.8 1108.9,1327.7 1110.9,1323.7 1112.9,1319.8 1114.9,1316 1116.9,1312.3 1118.9,1308.8 1120.9,1305.4 1122.9,1302.3 1124.9,1299.3 1126.9,1296.5 1128.9,1293.9 1130.9,1291.6 1132.9,1289.5 1134.9,1287.7 1136.9,1286.2 1138.9,1284.9 1140.9,1283.9 1142.9,1283.3 1144.9,1282.9 1146.9,1282.8 1148.9,1283 1150.9,1283.6 1152.9,1284.4 1154.9,1285.5 1156.9,1286.9 1158.9,1288.6 1160.9,1290.5 1162.9,1292.7 1164.9,1295.2 1166.9,1297.9 1168.9,1300.7 1170.9,1303.8 1172.9,1307.1 1174.9,1310.6 1176.9,1314.2 1178.9,1317.9 1180.9,1321.7 1182.9,1325.7 1184.9,1329.7 1186.9,1333.8 1188.9,1338 1190.9,1342.2 1192.9,1346.5 1194.9,1350.7 1196.9,1354.9 1198.9,1359.1 1200.9,1363.3 1202.9,1367.5 1204.9,1371.6 1206.9,1375.6 1208.9,1379.6 1210.9,1383.4 1212.9,1387.2 1214.9,1390.9 1216.9,1394.5 1218.9,1398 1220.9,1401.3 1222.9,1404.6 1224.9,1407.7 1226.9,1410.7 1228.9,1413.6 1230.9,1416.4 1232.9,1419.1 1234.9,1421.6 1236.9,1424 1238.9,1426.3 1240.9,1428.4 1242.9,1430.5 1244.9,1432.4 1246.9,1434.2 1248.9,1435.9 1250.9,1437.5 1252.9,1439 1254.9,1440.4 1256.9,1441.7 1258.9,1443 1260.9,1444.1 1262.9,1445.2 1264.9,1446.2 1266.9,1447.1 1268.9,1447.9 1270.9,1448.7 1272.9,1449.4 1274.9,1450.1 1276.9,1450.7 1278.9,1451.2 1280.9,1451.7 1282.9,1452.2 1284.9,1452.6 1286.9,1453 1288.9,1453.4 1290.9,1453.7 1292.9,1454 1294.9,1454.3 1296.9,1454.5 1298.9,1454.8 1300.9,1455 1302.9,1455.2 1304.9,1455.3 1306.9,1455.5 1308.9,1455.6 1310.9,1455.8 1312.9,1455.9 1314.9,1456 1316.9,1456.1 1318.9,1456.2 1320.9,1456.3 1322.9,1456.3 1324.9,1456.4 1326.9,1456.5 1328.9,1456.5 1330.9,1456.6 1332.9,1456.6 1334.9,1456.7 1336.9,1456.7 1338.9,1456.8 1340.9,1456.8 1342.9,1456.8 1344.9,1456.9 1346.9,1456.9 1348.9,1456.9 1350.9,1457 1352.9,1457 1354.9,1457 1356.9,1457 1358.9,1457.1 1360.9,1457.1 1362.9,1457.1 1364.9,1457.1 1366.9,1457.2 1368.9,1457.2 1370.9,1457.2 1372.9,1457.2 1374.9,1457.2 1376.9,1457.3 1378.9,1457.3 1380.9,1457.3 1382.9,1457.3 1384.9,1457.3 1386.9,1457.3 1388.9,1457.3 1390.9,1457.4 1392.9,1457.4 1394.9,1457.4 1396.9,1457.4 1398.9,1457.4 1400.9,1457.4 1402.9,1457.4 1404.9,1457.5 1406.9,1457.5 1408.9,1457.5 1410.9,1457.5 1412.9,1457.5 1414.9,1457.5 1416.9,1457.5 1418.9,1457.5 1420.9,1457.5 1422.9,1457.6 1424.9,1457.6 1426.9,1457.6 1428.9,1457.6 1430.9,1457.6 1432.9,1457.6 1434.9,1457.6 1436.9,1457.6 1438.9,1457.6 1440.9,1457.6 1442.9,1457.7 1444.9,1457.7 1446.9,1457.7 1448.9,1457.7 1450.9,1457.7 1452.9,1457.7 1454.9,1457.7 1456.9,1457.7 1458.9,1457.7 1460.9,1457.7 1462.9,1457.7 1464.9,1457.7 1466.9,1457.7 1468.9,1457.8 1470.9,1457.8 1472.9,1457.8 1474.9,1457.8 1476.9,1457.8 1478.9,1457.8 1480.9,1457.8 1482.9,1457.8 1484.9,1457.8 1486.9,1457.8 1488.9,1457.8 1490.9,1457.8 1492.9,1457.8 1494.9,1457.8 1496.9,1457.8 1498.9,1457.8 1500.9,1457.8 1502.9,1457.8 1504.9,1457.9 1506.9,1457.9 1508.9,1457.9 1510.9,1457.9 1512.9,1457.9 1514.9,1457.9 1516.9,1457.9 1518.9,1457.9 1520.9,1457.9 1522.9,1457.9 1524.9,1457.9 1526.9,1457.9 1528.9,1457.9 1530.9,1457.9 1532.9,1457.9 1534.9,1457.9 1536.9,1457.9 1538.9,1457.9 1540.9,1457.9 1542.9,1457.9 1544.9,1457.9 1546.9,1457.9 1548.9,1457.9 1550.9,1457.9 1552.9,1457.9 1554.9,1458 1556.9,1458 1558.9,1458 1560.9,1458 1562.9,1458 1564.9,1458 1566.9,1458 1568.9,1458 1570.9,1458 1572.9,1458 1574.9,1458 1576.9,1458 1578.9,1458 1580.9,1458 1582.9,1458 1584.9,1458 1586.9,1458 1588.9,1458" fill="none" stroke="#0000ff" stroke-width="4.0" stroke-linejoin="round" stroke-linecap="butt"/>
<polyline points="916.9,1458.3 918.9,1458.3 920.9,1458.3 922.9,1458.3 924.9,1458.3 926.9,1458.3 928.9,1458.3 930.9,1458.3 932.9,1458.3 934.9,1458.3 936.9,1458.3 938.9,1458.3 940.9,1458.3 942.9,1458.3 944.9,1458.3 946.9,1458.3 948.9,1458.3 950.9,1458.3 952.9,1458.3 954.9,1458.3 956.9,1458.3 958.9,1458.3 960.9,1458.3 962.9,1458.3 964.9,1458.3 966.9,1458.3 968.9,1458.3 970.9,1458.3 972.9,1458.3 974.9,1458.3 976.9,1458.3 978.9,1458.3 980.9,1458.3 982.9,1458.3 984.9,1458.3 986.9,1458.3 988.9,1458.3 990.9,1458.3 992.9,1458.3 994.9,1458.3 996.9,1458.3 998.9,1458.3 1000.9,1458.3 1002.9,1458.3 1004.9,1458.3 1006.9,1458.3 1008.9,1458.3 1010.9,1458.3 1012.9,1458.3 1014.9,1458.3 1016.9,1458.3 1018.9,1458.3 1020.9,1458.3 1022.9,1458.3 1024.9,1458.3 1026.9,1458.3 1028.9,1458.3 1030.9,1458.3 1032.9,1458.3 1034.9,1458.3 1036.9,1458.3 1038.9,1458.3 1040.9,1458.3 1042.9,1458.3 1044.9,1458.3 1046.9,1458.3 1048.9,1458.3 1050.9,1458.3 1052.9,1458.3 1054.9,1458.3 1056.9,1458.3 1058.9,1458.3 1060.9,1458.3 1062.9,1458.3 1064.9,1458.3 1066.9,1458.3 1068.9,1458.3 1070.9,1458.3 1072.9,1458.3 1074.9,1458.3 1076.9,1458.3 1078.9,1458.3 1080.9,1458.3 1082.9,1458.3 1084.9,1458.3 1086.9,1458.3 1088.9,1458.3 1090.9,1458.3 1092.9,1458.3 1094.9,1458.3 1096.9,1458.3 1098.9,1458.3 1100.9,1458.3 1102.9,1458.3 1104.9,1458.3 1106.9,1458.3 1108.9,1458.3 1110.9,1458.3 1112.9,1458.3 1114.9,1458.2 1116.9,1458.2 1118.9,1458.2 1120.9,1458.2 1122.9,1458.2 1124.9,1458.2 1126.9,1458.2 1128.9,1458.1 1130.9,1458.1 1132.9,1458.1 1134.9,1458 1136.9,1458 1138.9,1457.9 1140.9,1457.9 1142.9,1457.8 1144.9,1457.8 1146.9,1457.7 1148.9,1457.6 1150.9,1457.5 1152.9,1457.4 1154.9,1457.3 1156.9,1457.1 1158.9,1457 1160.9,1456.8 1162.9,1456.6 1164.9,1456.4 1166.9,1456.2 1168.9,1456 1170.9,1455.7 1172.9,1455.4 1174.9,1455.1 1176.9,1454.8 1178.9,1454.5 1180.9,1454.1 1182.9,1453.7 1184.9,1453.3 1186.9,1452.8 1188.9,1452.4 1190.9,1451.9 1192.9,1451.3 1194.9,1450.8 1196.9,1450.2 1198.9,1449.6 1200.9,1449 1202.9,1448.4 1204.9,1447.7 1206.9,1447 1208.9,1446.3 1210.9,1445.6 1212.9,1444.9 1214.9,1444.2 1216.9,1443.5 1218.9,1442.8 1220.9,1442.1 1222.9,1441.4 1224.9,1440.7 1226.9,1440 1228.9,1439.4 1230.9,1438.7 1232.9,1438.1 1234.9,1437.6 1236.9,1437 1238.9,1436.6 1240.9,1436.1 1242.9,1435.7 1244.9,1435.3 1246.9,1435 1248.9,1434.8 1250.9,1434.6 1252.9,1434.4 1254.9,1434.3 1256.9,1434.3 1258.9,1434.3 1260.9,1434.4 1262.9,1434.6 1264.9,1434.7 1266.9,1435 1268.9,1435.3 1270.9,1435.7 1272.9,1436.1 1274.9,1436.5 1276.9,1437 1278.9,1437.5 1280.9,1438.1 1282.9,1438.7 1284.9,1439.3 1286.9,1440 1288.9,1440.6 1290.9,1441.3 1292.9,1442 1294.9,1442.7 1296.9,1443.4 1298.9,1444.1 1300.9,1444.9 1302.9,1445.6 1304.9,1446.3 1306.9,1447 1308.9,1447.6 1310.9,1448.3 1312.9,1448.9 1314.9,1449.5 1316.9,1450.1 1318.9,1450.7 1320.9,1451.3 1322.9,1451.8 1324.9,1452.3 1326.9,1452.8 1328.9,1453.2 1330.9,1453.7 1332.9,1454.1 1334.9,1454.4 1336.9,1454.8 1338.9,1455.1 1340.9,1455.4 1342.9,1455.7 1344.9,1456 1346.9,1456.2 1348.9,1456.4 1350.9,1456.6 1352.9,1456.8 1354.9,1457 1356.9,1457.1 1358.9,1457.2 1360.9,1457.4 1362.9,1457.5 1364.9,1457.6 1366.9,1457.7 1368.9,1457.7 1370.9,1457.8 1372.9,1457.9 1374.9,1457.9 1376.9,1458 1378.9,1458 1380.9,1458.1 1382.9,1458.1 1384.9,1458.1 1386.9,1458.2 1388.9,1458.2 1390.9,1458.2 1392.9,1458.2 1394.9,1458.2 1396.9,1458.2 1398.9,1458.2 1400.9,1458.3 1402.9,1458.3 1404.9,1458.3 1406.9,1458.3 1408.9,1458.3 1410.9,1458.3 1412.9,1458.3 1414.9,1458.3 1416.9,1458.3 1418.9,1458.3 1420.9,1458.3 1422.9,1458.3 1424.9,1458.3 1426.9,1458.3 1428.9,1458.3 1430.9,1458.3 1432.9,1458.3 1434.9,1458.3 1436.9,1458.3 1438.9,1458.3 1440.9,1458.3 1442.9,1458.3 1444.9,1458.3 1446.9,1458.3 1448.9,1458.3 1450.9,1458.3 1452.9,1458.3 1454.9,1458.3 1456.9,1458.3 1458.9,1458.3 1460.9,1458.3 1462.9,1458.3 1464.9,1458.3 1466.9,1458.3 1468.9,1458.3 1470.9,1458.3 1472.9,1458.3 1474.9,1458.3 1476.9,1458.3 1478.9,1458.3 1480.9,1458.3 1482.9,1458.3 1484.9,1458.3 1486.9,1458.3 1488.9,1458.3 1490.9,1458.3 1492.9,1458.3 1494.9,1458.3 1496.9,1458.3 1498.9,1458.3 1500.9,1458.3 1502.9,1458.3 1504.9,1458.3 1506.9,1458.3 1508.9,1458.3 1510.9,1458.3 1512.9,1458.3 1514.9,1458.3 1516.9,1458.3 1518.9,1458.3 1520.9,1458.3 1522.9,1458.3 1524.9,1458.3 1526.9,1458.3 1528.9,1458.3 1530.9,1458.3 1532.9,1458.3 1534.9,1458.3 1536.9,1458.3 1538.9,1458.3 1540.9,1458.3 1542.9,1458.3 1544.9,1458.3 1546.9,1458.3 1548.9,1458.3 1550.9,1458.3 1552.9,1458.3 1554.9,1458.3 1556.9,1458.3 1558.9,1458.3 1560.9,1458.3 1562.9,1458.3 1564.9,1458.3 1566.9,1458.3 1568.9,1458.3 1570.9,1458.3 1572.9,1458.3 1574.9,1458.3 1576.9,1458.3 1578.9,1458.3 1580.9,1458.3 1582.9,1458.3 1584.9,1458.3 1586.9,1458.3 1588.9,1458.3" fill="none" stroke="#00ff00" stroke-width="4.0" stroke-linejoin="round" stroke-linecap="butt"/>
<polyline points="916.9,1457.9 918.9,1457.9 920.9,1457.9 922.9,1457.9 924.9,1457.9 926.9,1457.9 928.9,1457.9 930.9,1457.9 932.9,1457.9 934.9,1457.9 936.9,1457.9 938.9,1457.9 940.9,1457.8 942.9,1457.8 944.9,1457.8 946.9,1457.8 948.9,1457.8 950.9,1457.8 952.9,1457.8 954.9,1457.8 956.9,1457.8 958.9,1457.8 960.9,1457.8 962.9,1457.8 964.9,1457.8 966.9,1457.8 968.9,1457.8 970.9,1457.8 972.9,1457.7 974.9,1457.7 976.9,1457.7 978.9,1457.7 980.9,1457.7 982.9,1457.7 984.9,1457.7 986.9,1457.7 988.9,1457.7 990.9,1457.7 992.9,1457.7 994.9,1457.6 996.9,1457.6 998.9,1457.6 1000.9,1457.6 1002.9,1457.6 1004.9,1457.6 1006.9,1457.6 1008.9,1457.6 1010.9,1457.5 1012.9,1457.5 1014.9,1457.5 1016.9,1457.5 1018.9,1457.5 1020.9,1457.5 1022.9,1457.4 1024.9,1457.4 1026.9,1457.4 1028.9,1457.4 1030.9,1457.3 1032.9,1457.3 1034.9,1457.3 1036.9,1457.3 1038.9,1457.2 1040.9,1457.2 1042.9,1457.2 1044.9,1457.1 1046.9,1457.1 1048.9,1457.1 1050.9,1457 1052.9,1457 1054.9,1456.9 1056.9,1456.9 1058.9,1456.8 1060.9,1456.8 1062.9,1456.7 1064.9,1456.7 1066.9,1456.6 1068.9,1456.5 1070.9,1456.5 1072.9,1456.4 1074.9,1456.3 1076.9,1456.3 1078.9,1456.2 1080.9,1456.1 1082.9,1456 1084.9,1455.9 1086.9,1455.8 1088.9,1455.7 1090.9,1455.6 1092.9,1455.5 1094.9,1455.4 1096.9,1455.3 1098.9,1455.1 1100.9,1455 1102.9,1454.9 1104.9,1454.7 1106.9,1454.6 1108.9,1454.4 1110.9,1454.2 1112.9,1454.1 1114.9,1453.9 1116.9,1453.7 1118.9,1453.5 1120.9,1453.3 1122.9,1453.1 1124.9,1452.9 1126.9,1452.7 1128.9,1452.4 1130.9,1452.2 1132.9,1452 1134.9,1451.7 1136.9,1451.4 1138.9,1451.2 1140.9,1450.9 1142.9,1450.6 1144.9,1450.3 1146.9,1450 1148.9,1449.7 1150.9,1449.4 1152.9,1449 1154.9,1448.7 1156.9,1448.3 1158.9,1448 1160.9,1447.6 1162.9,1447.2 1164.9,1446.9 1166.9,1446.5 1168.9,1446.1 1170.9,1445.7 1172.9,1445.3 1174.9,1444.8 1176.9,1444.4 1178.9,1444 1180.9,1443.5 1182.9,1443.1 1184.9,1442.6 1186.9,1442.2 1188.9,1441.7 1190.9,1441.3 1192.9,1440.8 1194.9,1440.3 1196.9,1439.8 1198.9,1439.4 1200.9,1438.9 1202.9,1438.4 1204.9,1437.9 1206.9,1437.4 1208.9,1437 1210.9,1436.5 1212.9,1436 1214.9,1435.5 1216.9,1435 1218.9,1434.6 1220.9,1434.1 1222.9,1433.6 1224.9,1433.2 1226.9,1432.7 1228.9,1432.3 1230.9,1431.8 1232.9,1431.4 1234.9,1431 1236.9,1430.6 1238.9,1430.2 1240.9,1429.8 1242.9,1429.4 1244.9,1429.1 1246.9,1428.7 1248.9,1428.4 1250.9,1428.1 1252.9,1427.8 1254.9,1427.5 1256.9,1427.3 1258.9,1427 1260.9,1426.8 1262.9,1426.6 1264.9,1426.4 1266.9,1426.3 1268.9,1426.2 1270.9,1426 1272.9,1425.9 1274.9,1425.9 1276.9,1425.8 1278.9,1425.8 1280.9,1425.8 1282.9,1425.8 1284.9,1425.9 1286.9,1425.9 1288.9,1426 1290.9,1426.1 1292.9,1426.3 1294.9,1426.4 1296.9,1426.6 1298.9,1426.8 1300.9,1427 1302.9,1427.3 1304.9,1427.5 1306.9,1427.8 1308.9,1428.1 1310.9,1428.4 1312.9,1428.7 1314.9,1429.1 1316.9,1429.4 1318.9,1429.8 1320.9,1430.2 1322.9,1430.6 1324.9,1431 1326.9,1431.4 1328.9,1431.8 1330.9,1432.2 1332.9,1432.7 1334.9,1433.1 1336.9,1433.6 1338.9,1434 1340.9,1434.5 1342.9,1435 1344.9,1435.5 1346.9,1435.9 1348.9,1436.4 1350.9,1436.9 1352.9,1437.4 1354.9,1437.9 1356.9,1438.4 1358.9,1438.8 1360.9,1439.3 1362.9,1439.8 1364.9,1440.3 1366.9,1440.7 1368.9,1441.2 1370.9,1441.7 1372.9,1442.1 1374.9,1442.6 1376.9,1443 1378.9,1443.5 1380.9,1443.9 1382.9,1444.4 1384.9,1444.8 1386.9,1445.2 1388.9,1445.6 1390.9,1446 1392.9,1446.4 1394.9,1446.8 1396.9,1447.2 1398.9,1447.6 1400.9,1447.9 1402.9,1448.3 1404.9,1448.7 1406.9,1449 1408.9,1449.3 1410.9,1449.6 1412.9,1450 1414.9,1450.3 1416.9,1450.6 1418.9,1450.9 1420.9,1451.1 1422.9,1451.4 1424.9,1451.7 1426.9,1451.9 1428.9,1452.2 1430.9,1452.4 1432.9,1452.6 1434.9,1452.9 1436.9,1453.1 1438.9,1453.3 1440.9,1453.5 1442.9,1453.7 1444.9,1453.9 1446.9,1454.1 1448.9,1454.2 1450.9,1454.4 1452.9,1454.5 1454.9,1454.7 1456.9,1454.8 1458.9,1455 1460.9,1455.1 1462.9,1455.2 1464.9,1455.4 1466.9,1455.5 1468.9,1455.6 1470.9,1455.7 1472.9,1455.8 1474.9,1455.9 1476.9,1456 1478.9,1456.1 1480.9,1456.2 1482.9,1456.3 1484.9,1456.3 1486.9,1456.4 1488.9,1456.5 1490.9,1456.5 1492.9,1456.6 1494.9,1456.7 1496.9,1456.7 1498.9,1456.8 1500.9,1456.8 1502.9,1456.9 1504.9,1456.9 1506.9,1457 1508.9,1457 1510.9,1457.1 1512.9,1457.1 1514.9,1457.1 1516.9,1457.2 1518.9,1457.2 1520.9,1457.2 1522.9,1457.3 1524.9,1457.3 1526.9,1457.3 1528.9,1457.3 1530.9,1457.4 1532.9,1457.4 1534.9,1457.4 1536.9,1457.4 1538.9,1457.5 1540.9,1457.5 1542.9,1457.5 1544.9,1457.5 1546.9,1457.5 1548.9,1457.5 1550.9,1457.6 1552.9,1457.6 1554.9,1457.6 1556.9,1457.6 1558.9,1457.6 1560.9,1457.6 1562.9,1457.6 1564.9,1457.6 1566.9,1457.7 1568.9,1457.7 1570.9,1457.7 1572.9,1457.7 1574.9,1457.7 1576.9,1457.7 1578.9,1457.7 1580.9,1457.7 1582.9,1457.7 1584.9,1457.7 1586.9,1457.7 1588.9,1457.8" fill="none" stroke="#ff0000" stroke-width="4.0" stroke-linejoin="round" stroke-linecap="butt"/>
<polyline points="916.9,1456.8 918.9,1456.8 920.9,1456.8 922.9,1456.8 924.9,1456.8 926.9,1456.7 928.9,1456.7 930.9,1456.7 932.9,1456.6 934.9,1456.6 936.9,1456.6 938.9,1456.6 940.9,1456.5 942.9,1456.5 944.9,1456.5 946.9,1456.4 948.9,1456.4 950.9,1456.3 952.9,1456.3 954.9,1456.3 956.9,1456.2 958.9,1456.2 960.9,1456.1 962.9,1456 964.9,1456 966.9,1455.9 968.9,1455.8 970.9,1455.7 972.9,1455.7 974.9,1455.6 976.9,1455.5 978.9,1455.4 980.9,1455.2 982.9,1455.1 984.9,1455 986.9,1454.8 988.9,1454.6 990.9,1454.4 992.9,1454.2 994.9,1454 996.9,1453.8 998.9,1453.5 1000.9,1453.2 1002.9,1452.9 1004.9,1452.5 1006.9,1452.1 1008.9,1451.7 1010.9,1451.2 1012.9,1450.7 1014.9,1450.2 1016.9,1449.6 1018.9,1448.9 1020.9,1448.2 1022.9,1447.4 1024.9,1446.6 1026.9,1445.7 1028.9,1444.7 1030.9,1443.7 1032.9,1442.6 1034.9,1441.4 1036.9,1440.1 1038.9,1438.7 1040.9,1437.2 1042.9,1435.6 1044.9,1433.9 1046.9,1432.1 1048.9,1430.2 1050.9,1428.2 1052.9,1426 1054.9,1423.8 1056.9,1421.4 1058.9,1418.9 1060.9,1416.2 1062.9,1413.5 1064.9,1410.6 1066.9,1407.6 1068.9,1404.4 1070.9,1401.2 1072.9,1397.8 1074.9,1394.3 1076.9,1390.7 1078.9,1387 1080.9,1383.1 1082.9,1379.2 1084.9,1375.2 1086.9,1371.1 1088.9,1366.9 1090.9,1362.7 1092.9,1358.4 1094.9,1354.1 1096.9,1349.8 1098.9,1345.4 1100.9,1341 1102.9,1336.7 1104.9,1332.3 1106.9,1328 1108.9,1323.8 1110.9,1319.6 1112.9,1315.5 1114.9,1311.5 1116.9,1307.7 1118.9,1303.9 1120.9,1300.4 1122.9,1297 1124.9,1293.7 1126.9,1290.7 1128.9,1287.9 1130.9,1285.3 1132.9,1282.9 1134.9,1280.8 1136.9,1279 1138.9,1277.4 1140.9,1276.1 1142.9,1275.1 1144.9,1274.3 1146.9,1273.9 1148.9,1273.7 1150.9,1273.8 1152.9,1274.2 1154.9,1274.8 1156.9,1275.8 1158.9,1276.9 1160.9,1278.4 1162.9,1280 1164.9,1281.9 1166.9,1283.9 1168.9,1286.2 1170.9,1288.6 1172.9,1291.2 1174.9,1293.9 1176.9,1296.8 1178.9,1299.7 1180.9,1302.8 1182.9,1305.9 1184.9,1309.1 1186.9,1312.3 1188.9,1315.5 1190.9,1318.7 1192.9,1322 1194.9,1325.2 1196.9,1328.4 1198.9,1331.5 1200.9,1334.6 1202.9,1337.6 1204.9,1340.6 1206.9,1343.5 1208.9,1346.2 1210.9,1348.9 1212.9,1351.5 1214.9,1354 1216.9,1356.4 1218.9,1358.7 1220.9,1360.9 1222.9,1363 1224.9,1365 1226.9,1366.9 1228.9,1368.7 1230.9,1370.4 1232.9,1372 1234.9,1373.6 1236.9,1375 1238.9,1376.4 1240.9,1377.7 1242.9,1379 1244.9,1380.2 1246.9,1381.4 1248.9,1382.5 1250.9,1383.6 1252.9,1384.7 1254.9,1385.7 1256.9,1386.7 1258.9,1387.7 1260.9,1388.7 1262.9,1389.7 1264.9,1390.8 1266.9,1391.8 1268.9,1392.8 1270.9,1393.8 1272.9,1394.8 1274.9,1395.9 1276.9,1396.9 1278.9,1398 1280.9,1399 1282.9,1400.1 1284.9,1401.2 1286.9,1402.3 1288.9,1403.5 1290.9,1404.6 1292.9,1405.7 1294.9,1406.8 1296.9,1408 1298.9,1409.1 1300.9,1410.3 1302.9,1411.4 1304.9,1412.5 1306.9,1413.6 1308.9,1414.7 1310.9,1415.8 1312.9,1416.9 1314.9,1418 1316.9,1419 1318.9,1420.1 1320.9,1421.1 1322.9,1422.1 1324.9,1423.1 1326.9,1424 1328.9,1425 1330.9,1425.9 1332.9,1426.8 1334.9,1427.6 1336.9,1428.5 1338.9,1429.3 1340.9,1430.1 1342.9,1430.9 1344.9,1431.7 1346.9,1432.4 1348.9,1433.2 1350.9,1433.9 1352.9,1434.6 1354.9,1435.2 1356.9,1435.9 1358.9,1436.5 1360.9,1437.2 1362.9,1437.8 1364.9,1438.4 1366.9,1439 1368.9,1439.5 1370.9,1440.1 1372.9,1440.6 1374.9,1441.2 1376.9,1441.7 1378.9,1442.2 1380.9,1442.7 1382.9,1443.2 1384.9,1443.6 1386.9,1444.1 1388.9,1444.5 1390.9,1445 1392.9,1445.4 1394.9,1445.8 1396.9,1446.2 1398.9,1446.6 1400.9,1447 1402.9,1447.4 1404.9,1447.8 1406.9,1448.1 1408.9,1448.5 1410.9,1448.8 1412.9,1449.2 1414.9,1449.5 1416.9,1449.8 1418.9,1450.1 1420.9,1450.4 1422.9,1450.7 1424.9,1450.9 1426.9,1451.2 1428.9,1451.5 1430.9,1451.7 1432.9,1452 1434.9,1452.2 1436.9,1452.4 1438.9,1452.6 1440.9,1452.8 1442.9,1453 1444.9,1453.2 1446.9,1453.4 1448.9,1453.6 1450.9,1453.8 1452.9,1453.9 1454.9,1454.1 1456.9,1454.3 1458.9,1454.4 1460.9,1454.5 1462.9,1454.7 1464.9,1454.8 1466.9,1454.9 1468.9,1455 1470.9,1455.2 1472.9,1455.3 1474.9,1455.4 1476.9,1455.5 1478.9,1455.6 1480.9,1455.7 1482.9,1455.7 1484.9,1455.8 1486.9,1455.9 1488.9,1456 1490.9,1456.1 1492.9,1456.1 1494.9,1456.2 1496.9,1456.3 1498.9,1456.3 1500.9,1456.4 1502.9,1456.4 1504.9,1456.5 1506.9,1456.5 1508.9,1456.6 1510.9,1456.6 1512.9,1456.7 1514.9,1456.7 1516.9,1456.7 1518.9,1456.8 1520.9,1456.8 1522.9,1456.9 1524.9,1456.9 1526.9,1456.9 1528.9,1456.9 1530.9,1457 1532.9,1457 1534.9,1457 1536.9,1457.1 1538.9,1457.1 1540.9,1457.1 1542.9,1457.1 1544.9,1457.1 1546.9,1457.2 1548.9,1457.2 1550.9,1457.2 1552.9,1457.2 1554.9,1457.2 1556.9,1457.3 1558.9,1457.3 1560.9,1457.3 1562.9,1457.3 1564.9,1457.3 1566.9,1457.3 1568.9,1457.3 1570.9,1457.4 1572.9,1457.4 1574.9,1457.4 1576.9,1457.4 1578.9,1457.4 1580.9,1457.4 1582.9,1457.4 1584.9,1457.4 1586.9,1457.4 1588.9,1457.5" fill="none" stroke="#000" stroke-width="3.8" stroke-linejoin="round" stroke-linecap="butt"/>
<polyline points="916.9,1456.8 918.9,1456.8 920.9,1456.8 922.9,1456.8 924.9,1456.8 926.9,1456.7 928.9,1456.7 930.9,1456.7 932.9,1456.6 934.9,1456.6 936.9,1456.6 938.9,1456.6 940.9,1456.5 942.9,1456.5 944.9,1456.5 946.9,1456.4 948.9,1456.4 950.9,1456.3 952.9,1456.3 954.9,1456.3 956.9,1456.2 958.9,1456.2 960.9,1456.1 962.9,1456 964.9,1456 966.9,1455.9 968.9,1455.8 970.9,1455.7 972.9,1455.7 974.9,1455.6 976.9,1455.5 978.9,1455.4 980.9,1455.2 982.9,1455.1 984.9,1455 986.9,1454.8 988.9,1454.6 990.9,1454.4 992.9,1454.2 994.9,1454 996.9,1453.8 998.9,1453.5 1000.9,1453.2 1002.9,1452.9 1004.9,1452.5 1006.9,1452.1 1008.9,1451.7 1010.9,1451.2 1012.9,1450.7 1014.9,1450.2 1016.9,1449.6 1018.9,1448.9 1020.9,1448.2 1022.9,1447.4 1024.9,1446.6 1026.9,1445.7 1028.9,1444.7 1030.9,1443.7 1032.9,1442.6 1034.9,1441.4 1036.9,1440.1 1038.9,1438.7 1040.9,1437.2 1042.9,1435.6 1044.9,1433.9 1046.9,1432.1 1048.9,1430.2 1050.9,1428.2 1052.9,1426 1054.9,1423.8 1056.9,1421.4 1058.9,1418.9 1060.9,1416.2 1062.9,1413.5 1064.9,1410.6 1066.9,1407.6 1068.9,1404.4 1070.9,1401.2 1072.9,1397.8 1074.9,1394.3 1076.9,1390.7 1078.9,1387 1080.9,1383.1 1082.9,1379.2 1084.9,1375.2 1086.9,1371.1 1088.9,1366.9 1090.9,1362.7 1092.9,1358.4 1094.9,1354.1 1096.9,1349.8 1098.9,1345.4 1100.9,1341 1102.9,1336.7 1104.9,1332.3 1106.9,1328 1108.9,1323.8 1110.9,1319.6 1112.9,1315.5 1114.9,1311.5 1116.9,1307.7 1118.9,1303.9 1120.9,1300.4 1122.9,1297 1124.9,1293.7 1126.9,1290.7 1128.9,1287.9 1130.9,1285.3 1132.9,1282.9 1134.9,1280.8 1136.9,1279 1138.9,1277.4 1140.9,1276.1 1142.9,1275.1 1144.9,1274.3 1146.9,1273.9 1148.9,1273.7 1150.9,1273.8 1152.9,1274.2 1154.9,1274.8 1156.9,1275.8 1158.9,1276.9 1160.9,1278.4 1162.9,1280 1164.9,1281.9 1166.9,1283.9 1168.9,1286.2 1170.9,1288.6 1172.9,1291.2 1174.9,1293.9 1176.9,1296.8 1178.9,1299.7 1180.9,1302.8 1182.9,1305.9 1184.9,1309.1 1186.9,1312.3 1188.9,1315.5 1190.9,1318.7 1192.9,1322 1194.9,1325.2 1196.9,1328.4 1198.9,1331.5 1200.9,1334.6 1202.9,1337.6 1204.9,1340.6 1206.9,1343.5 1208.9,1346.2 1210.9,1348.9 1212.9,1351.5 1214.9,1354 1216.9,1356.4 1218.9,1358.7 1220.9,1360.9 1222.9,1363 1224.9,1365 1226.9,1366.9 1228.9,1368.7 1230.9,1370.4 1232.9,1372 1234.9,1373.6 1236.9,1375 1238.9,1376.4 1240.9,1377.7 1242.9,1379 1244.9,1380.2 1246.9,1381.4 1248.9,1382.5 1250.9,1383.6 1252.9,1384.7 1254.9,1385.7 1256.9,1386.7 1258.9,1387.7 1260.9,1388.7 1262.9,1389.7 1264.9,1390.8 1266.9,1391.8 1268.9,1392.8 1270.9,1393.8 1272.9,1394.8 1274.9,1395.9 1276.9,1396.9 1278.9,1398 1280.9,1399 1282.9,1400.1 1284.9,1401.2 1286.9,1402.3 1288.9,1403.5 1290.9,1404.6 1292.9,1405.7 1294.9,1406.8 1296.9,1408 1298.9,1409.1 1300.9,1410.3 1302.9,1411.4 1304.9,1412.5 1306.9,1413.6 1308.9,1414.7 1310.9,1415.8 1312.9,1416.9 1314.9,1418 1316.9,1419 1318.9,1420.1 1320.9,1421.1 1322.9,1422.1 1324.9,1423.1 1326.9,1424 1328.9,1425 1330.9,1425.9 1332.9,1426.8 1334.9,1427.6 1336.9,1428.5 1338.9,1429.3 1340.9,1430.1 1342.9,1430.9 1344.9,1431.7 1346.9,1432.4 1348.9,1433.2 1350.9,1433.9 1352.9,1434.6 1354.9,1435.2 1356.9,1435.9 1358.9,1436.5 1360.9,1437.2 1362.9,1437.8 1364.9,1438.4 1366.9,1439 1368.9,1439.5 1370.9,1440.1 1372.9,1440.6 1374.9,1441.2 1376.9,1441.7 1378.9,1442.2 1380.9,1442.7 1382.9,1443.2 1384.9,1443.6 1386.9,1444.1 1388.9,1444.5 1390.9,1445 1392.9,1445.4 1394.9,1445.8 1396.9,1446.2 1398.9,1446.6 1400.9,1447 1402.9,1447.4 1404.9,1447.8 1406.9,1448.1 1408.9,1448.5 1410.9,1448.8 1412.9,1449.2 1414.9,1449.5 1416.9,1449.8 1418.9,1450.1 1420.9,1450.4 1422.9,1450.7 1424.9,1450.9 1426.9,1451.2 1428.9,1451.5 1430.9,1451.7 1432.9,1452 1434.9,1452.2 1436.9,1452.4 1438.9,1452.6 1440.9,1452.8 1442.9,1453 1444.9,1453.2 1446.9,1453.4 1448.9,1453.6 1450.9,1453.8 1452.9,1453.9 1454.9,1454.1 1456.9,1454.3 1458.9,1454.4 1460.9,1454.5 1462.9,1454.7 1464.9,1454.8 1466.9,1454.9 1468.9,1455 1470.9,1455.2 1472.9,1455.3 1474.9,1455.4 1476.9,1455.5 1478.9,1455.6 1480.9,1455.7 1482.9,1455.7 1484.9,1455.8 1486.9,1455.9 1488.9,1456 1490.9,1456.1 1492.9,1456.1 1494.9,1456.2 1496.9,1456.3 1498.9,1456.3 1500.9,1456.4 1502.9,1456.4 1504.9,1456.5 1506.9,1456.5 1508.9,1456.6 1510.9,1456.6 1512.9,1456.7 1514.9,1456.7 1516.9,1456.7 1518.9,1456.8 1520.9,1456.8 1522.9,1456.9 1524.9,1456.9 1526.9,1456.9 1528.9,1456.9 1530.9,1457 1532.9,1457 1534.9,1457 1536.9,1457.1 1538.9,1457.1 1540.9,1457.1 1542.9,1457.1 1544.9,1457.1 1546.9,1457.2 1548.9,1457.2 1550.9,1457.2 1552.9,1457.2 1554.9,1457.2 1556.9,1457.3 1558.9,1457.3 1560.9,1457.3 1562.9,1457.3 1564.9,1457.3 1566.9,1457.3 1568.9,1457.3 1570.9,1457.4 1572.9,1457.4 1574.9,1457.4 1576.9,1457.4 1578.9,1457.4 1580.9,1457.4 1582.9,1457.4 1584.9,1457.4 1586.9,1457.4 1588.9,1457.5" fill="none" stroke="#ffff50" stroke-width="3.6" stroke-linejoin="round" stroke-linecap="butt" stroke-dasharray="3 3"/>
<text x="1105" y="1410.3" font-size="34" fill="#0000ff">71.92 %</text>
<text x="1297" y="1404.7" font-size="34" fill="#00ff00">6.95 %</text>
<text x="1400.5" y="1441.3" font-size="34" fill="#ff0000">21.12 %</text>
<line x1="916.9" y1="1732" x2="1589.7" y2="1732" stroke="#111" stroke-width="2.4"/>
<polyline points="916.9,1729.4 918.9,1729.4 920.9,1729.4 922.9,1729.3 924.9,1729.3 926.9,1729.2 928.9,1729.2 930.9,1729.1 932.9,1729.1 934.9,1729 936.9,1729 938.9,1728.9 940.9,1728.8 942.9,1728.8 944.9,1728.7 946.9,1728.6 948.9,1728.5 950.9,1728.4 952.9,1728.3 954.9,1728.2 956.9,1728 958.9,1727.9 960.9,1727.7 962.9,1727.6 964.9,1727.4 966.9,1727.2 968.9,1727 970.9,1726.7 972.9,1726.5 974.9,1726.2 976.9,1725.9 978.9,1725.5 980.9,1725.1 982.9,1724.7 984.9,1724.3 986.9,1723.8 988.9,1723.3 990.9,1722.7 992.9,1722.1 994.9,1721.5 996.9,1720.7 998.9,1720 1000.9,1719.1 1002.9,1718.2 1004.9,1717.3 1006.9,1716.2 1008.9,1715.1 1010.9,1713.9 1012.9,1712.6 1014.9,1711.3 1016.9,1709.8 1018.9,1708.3 1020.9,1706.6 1022.9,1704.9 1024.9,1703 1026.9,1701 1028.9,1699 1030.9,1696.8 1032.9,1694.5 1034.9,1692.1 1036.9,1689.5 1038.9,1686.8 1040.9,1684.1 1042.9,1681.1 1044.9,1678.1 1046.9,1675 1048.9,1671.7 1050.9,1668.3 1052.9,1664.8 1054.9,1661.1 1056.9,1657.4 1058.9,1653.6 1060.9,1649.6 1062.9,1645.6 1064.9,1641.5 1066.9,1637.3 1068.9,1633 1070.9,1628.6 1072.9,1624.2 1074.9,1619.8 1076.9,1615.3 1078.9,1610.8 1080.9,1606.3 1082.9,1601.8 1084.9,1597.3 1086.9,1592.9 1088.9,1588.4 1090.9,1584.1 1092.9,1579.8 1094.9,1575.6 1096.9,1571.5 1098.9,1567.5 1100.9,1563.7 1102.9,1560 1104.9,1556.5 1106.9,1553.1 1108.9,1549.9 1110.9,1547 1112.9,1544.3 1114.9,1541.8 1116.9,1539.5 1118.9,1537.5 1120.9,1535.8 1122.9,1534.4 1124.9,1533.2 1126.9,1532.4 1128.9,1531.8 1130.9,1531.5 1132.9,1531.6 1134.9,1531.9 1136.9,1532.5 1138.9,1533.4 1140.9,1534.6 1142.9,1536.1 1144.9,1537.9 1146.9,1540 1148.9,1542.3 1150.9,1544.8 1152.9,1547.6 1154.9,1550.6 1156.9,1553.8 1158.9,1557.1 1160.9,1560.7 1162.9,1564.4 1164.9,1568.3 1166.9,1572.3 1168.9,1576.4 1170.9,1580.7 1172.9,1585 1174.9,1589.3 1176.9,1593.8 1178.9,1598.2 1180.9,1602.7 1182.9,1607.2 1184.9,1611.7 1186.9,1616.2 1188.9,1620.7 1190.9,1625.1 1192.9,1629.5 1194.9,1633.8 1196.9,1638.1 1198.9,1642.3 1200.9,1646.4 1202.9,1650.4 1204.9,1654.3 1206.9,1658.2 1208.9,1661.9 1210.9,1665.5 1212.9,1669 1214.9,1672.3 1216.9,1675.6 1218.9,1678.7 1220.9,1681.7 1222.9,1684.6 1224.9,1687.4 1226.9,1690 1228.9,1692.5 1230.9,1694.9 1232.9,1697.2 1234.9,1699.4 1236.9,1701.5 1238.9,1703.4 1240.9,1705.2 1242.9,1707 1244.9,1708.6 1246.9,1710.1 1248.9,1711.6 1250.9,1712.9 1252.9,1714.2 1254.9,1715.3 1256.9,1716.4 1258.9,1717.5 1260.9,1718.4 1262.9,1719.3 1264.9,1720.1 1266.9,1720.9 1268.9,1721.6 1270.9,1722.2 1272.9,1722.8 1274.9,1723.4 1276.9,1723.9 1278.9,1724.4 1280.9,1724.8 1282.9,1725.2 1284.9,1725.6 1286.9,1725.9 1288.9,1726.2 1290.9,1726.5 1292.9,1726.8 1294.9,1727 1296.9,1727.2 1298.9,1727.4 1300.9,1727.6 1302.9,1727.8 1304.9,1727.9 1306.9,1728.1 1308.9,1728.2 1310.9,1728.3 1312.9,1728.4 1314.9,1728.5 1316.9,1728.6 1318.9,1728.7 1320.9,1728.8 1322.9,1728.9 1324.9,1728.9 1326.9,1729 1328.9,1729 1330.9,1729.1 1332.9,1729.1 1334.9,1729.2 1336.9,1729.2 1338.9,1729.3 1340.9,1729.3 1342.9,1729.4 1344.9,1729.4 1346.9,1729.4 1348.9,1729.5 1350.9,1729.5 1352.9,1729.5 1354.9,1729.5 1356.9,1729.6 1358.9,1729.6 1360.9,1729.6 1362.9,1729.6 1364.9,1729.7 1366.9,1729.7 1368.9,1729.7 1370.9,1729.7 1372.9,1729.8 1374.9,1729.8 1376.9,1729.8 1378.9,1729.8 1380.9,1729.8 1382.9,1729.9 1384.9,1729.9 1386.9,1729.9 1388.9,1729.9 1390.9,1729.9 1392.9,1729.9 1394.9,1730 1396.9,1730 1398.9,1730 1400.9,1730 1402.9,1730 1404.9,1730 1406.9,1730 1408.9,1730 1410.9,1730.1 1412.9,1730.1 1414.9,1730.1 1416.9,1730.1 1418.9,1730.1 1420.9,1730.1 1422.9,1730.1 1424.9,1730.1 1426.9,1730.2 1428.9,1730.2 1430.9,1730.2 1432.9,1730.2 1434.9,1730.2 1436.9,1730.2 1438.9,1730.2 1440.9,1730.2 1442.9,1730.2 1444.9,1730.2 1446.9,1730.3 1448.9,1730.3 1450.9,1730.3 1452.9,1730.3 1454.9,1730.3 1456.9,1730.3 1458.9,1730.3 1460.9,1730.3 1462.9,1730.3 1464.9,1730.3 1466.9,1730.3 1468.9,1730.3 1470.9,1730.4 1472.9,1730.4 1474.9,1730.4 1476.9,1730.4 1478.9,1730.4 1480.9,1730.4 1482.9,1730.4 1484.9,1730.4 1486.9,1730.4 1488.9,1730.4 1490.9,1730.4 1492.9,1730.4 1494.9,1730.4 1496.9,1730.4 1498.9,1730.4 1500.9,1730.5 1502.9,1730.5 1504.9,1730.5 1506.9,1730.5 1508.9,1730.5 1510.9,1730.5 1512.9,1730.5 1514.9,1730.5 1516.9,1730.5 1518.9,1730.5 1520.9,1730.5 1522.9,1730.5 1524.9,1730.5 1526.9,1730.5 1528.9,1730.5 1530.9,1730.5 1532.9,1730.5 1534.9,1730.5 1536.9,1730.5 1538.9,1730.5 1540.9,1730.6 1542.9,1730.6 1544.9,1730.6 1546.9,1730.6 1548.9,1730.6 1550.9,1730.6 1552.9,1730.6 1554.9,1730.6 1556.9,1730.6 1558.9,1730.6 1560.9,1730.6 1562.9,1730.6 1564.9,1730.6 1566.9,1730.6 1568.9,1730.6 1570.9,1730.6 1572.9,1730.6 1574.9,1730.6 1576.9,1730.6 1578.9,1730.6 1580.9,1730.6 1582.9,1730.6 1584.9,1730.6 1586.9,1730.6 1588.9,1730.6" fill="none" stroke="#0000ff" stroke-width="4.0" stroke-linejoin="round" stroke-linecap="butt"/>
<polyline points="916.9,1731 918.9,1731 920.9,1731 922.9,1731 924.9,1731 926.9,1731 928.9,1731 930.9,1731 932.9,1731 934.9,1731 936.9,1731 938.9,1731 940.9,1731 942.9,1731 944.9,1731 946.9,1731 948.9,1731 950.9,1731 952.9,1731 954.9,1731 956.9,1731 958.9,1731 960.9,1731 962.9,1731 964.9,1731 966.9,1731 968.9,1731 970.9,1731 972.9,1731 974.9,1731 976.9,1731 978.9,1731 980.9,1731 982.9,1731 984.9,1731 986.9,1731 988.9,1731 990.9,1731 992.9,1731 994.9,1731 996.9,1731 998.9,1731 1000.9,1731 1002.9,1731 1004.9,1731 1006.9,1731 1008.9,1731 1010.9,1731 1012.9,1731 1014.9,1731 1016.9,1731 1018.9,1731 1020.9,1731 1022.9,1731 1024.9,1731 1026.9,1731 1028.9,1731 1030.9,1731 1032.9,1731 1034.9,1731 1036.9,1731 1038.9,1731 1040.9,1731 1042.9,1731 1044.9,1731 1046.9,1731 1048.9,1731 1050.9,1731 1052.9,1731 1054.9,1731 1056.9,1731 1058.9,1731 1060.9,1731 1062.9,1731 1064.9,1731 1066.9,1731 1068.9,1731 1070.9,1731 1072.9,1731 1074.9,1731 1076.9,1731 1078.9,1731 1080.9,1731 1082.9,1731 1084.9,1731 1086.9,1731 1088.9,1731 1090.9,1731 1092.9,1731 1094.9,1731 1096.9,1731 1098.9,1731 1100.9,1730.9 1102.9,1730.9 1104.9,1730.9 1106.9,1730.9 1108.9,1730.9 1110.9,1730.9 1112.9,1730.9 1114.9,1730.9 1116.9,1730.8 1118.9,1730.8 1120.9,1730.8 1122.9,1730.7 1124.9,1730.7 1126.9,1730.7 1128.9,1730.6 1130.9,1730.6 1132.9,1730.5 1134.9,1730.4 1136.9,1730.4 1138.9,1730.3 1140.9,1730.2 1142.9,1730.1 1144.9,1730 1146.9,1729.8 1148.9,1729.7 1150.9,1729.5 1152.9,1729.4 1154.9,1729.2 1156.9,1729 1158.9,1728.8 1160.9,1728.5 1162.9,1728.3 1164.9,1728 1166.9,1727.7 1168.9,1727.4 1170.9,1727 1172.9,1726.7 1174.9,1726.3 1176.9,1725.8 1178.9,1725.4 1180.9,1724.9 1182.9,1724.4 1184.9,1723.9 1186.9,1723.3 1188.9,1722.7 1190.9,1722.1 1192.9,1721.5 1194.9,1720.8 1196.9,1720.1 1198.9,1719.3 1200.9,1718.6 1202.9,1717.8 1204.9,1717 1206.9,1716.2 1208.9,1715.3 1210.9,1714.5 1212.9,1713.6 1214.9,1712.7 1216.9,1711.8 1218.9,1710.9 1220.9,1710 1222.9,1709.1 1224.9,1708.2 1226.9,1707.4 1228.9,1706.5 1230.9,1705.6 1232.9,1704.8 1234.9,1704 1236.9,1703.2 1238.9,1702.4 1240.9,1701.7 1242.9,1701.1 1244.9,1700.4 1246.9,1699.8 1248.9,1699.3 1250.9,1698.8 1252.9,1698.4 1254.9,1698 1256.9,1697.7 1258.9,1697.4 1260.9,1697.2 1262.9,1697.1 1264.9,1697 1266.9,1697 1268.9,1697.1 1270.9,1697.2 1272.9,1697.4 1274.9,1697.6 1276.9,1697.9 1278.9,1698.3 1280.9,1698.7 1282.9,1699.2 1284.9,1699.8 1286.9,1700.4 1288.9,1701 1290.9,1701.7 1292.9,1702.4 1294.9,1703.1 1296.9,1703.9 1298.9,1704.7 1300.9,1705.5 1302.9,1706.4 1304.9,1707.3 1306.9,1708.2 1308.9,1709 1310.9,1709.9 1312.9,1710.8 1314.9,1711.7 1316.9,1712.6 1318.9,1713.5 1320.9,1714.4 1322.9,1715.3 1324.9,1716.1 1326.9,1716.9 1328.9,1717.7 1330.9,1718.5 1332.9,1719.3 1334.9,1720 1336.9,1720.7 1338.9,1721.4 1340.9,1722 1342.9,1722.7 1344.9,1723.3 1346.9,1723.8 1348.9,1724.4 1350.9,1724.9 1352.9,1725.4 1354.9,1725.8 1356.9,1726.2 1358.9,1726.6 1360.9,1727 1362.9,1727.4 1364.9,1727.7 1366.9,1728 1368.9,1728.3 1370.9,1728.5 1372.9,1728.8 1374.9,1729 1376.9,1729.2 1378.9,1729.4 1380.9,1729.5 1382.9,1729.7 1384.9,1729.8 1386.9,1729.9 1388.9,1730.1 1390.9,1730.2 1392.9,1730.3 1394.9,1730.3 1396.9,1730.4 1398.9,1730.5 1400.9,1730.6 1402.9,1730.6 1404.9,1730.7 1406.9,1730.7 1408.9,1730.7 1410.9,1730.8 1412.9,1730.8 1414.9,1730.8 1416.9,1730.8 1418.9,1730.9 1420.9,1730.9 1422.9,1730.9 1424.9,1730.9 1426.9,1730.9 1428.9,1730.9 1430.9,1730.9 1432.9,1731 1434.9,1731 1436.9,1731 1438.9,1731 1440.9,1731 1442.9,1731 1444.9,1731 1446.9,1731 1448.9,1731 1450.9,1731 1452.9,1731 1454.9,1731 1456.9,1731 1458.9,1731 1460.9,1731 1462.9,1731 1464.9,1731 1466.9,1731 1468.9,1731 1470.9,1731 1472.9,1731 1474.9,1731 1476.9,1731 1478.9,1731 1480.9,1731 1482.9,1731 1484.9,1731 1486.9,1731 1488.9,1731 1490.9,1731 1492.9,1731 1494.9,1731 1496.9,1731 1498.9,1731 1500.9,1731 1502.9,1731 1504.9,1731 1506.9,1731 1508.9,1731 1510.9,1731 1512.9,1731 1514.9,1731 1516.9,1731 1518.9,1731 1520.9,1731 1522.9,1731 1524.9,1731 1526.9,1731 1528.9,1731 1530.9,1731 1532.9,1731 1534.9,1731 1536.9,1731 1538.9,1731 1540.9,1731 1542.9,1731 1544.9,1731 1546.9,1731 1548.9,1731 1550.9,1731 1552.9,1731 1554.9,1731 1556.9,1731 1558.9,1731 1560.9,1731 1562.9,1731 1564.9,1731 1566.9,1731 1568.9,1731 1570.9,1731 1572.9,1731 1574.9,1731 1576.9,1731 1578.9,1731 1580.9,1731 1582.9,1731 1584.9,1731 1586.9,1731 1588.9,1731" fill="none" stroke="#00ff00" stroke-width="4.0" stroke-linejoin="round" stroke-linecap="butt"/>
<polyline points="916.9,1730.9 918.9,1730.9 920.9,1730.9 922.9,1730.9 924.9,1730.9 926.9,1730.9 928.9,1730.9 930.9,1730.9 932.9,1730.9 934.9,1730.9 936.9,1730.9 938.9,1730.9 940.9,1730.9 942.9,1730.9 944.9,1730.9 946.9,1730.9 948.9,1730.9 950.9,1730.9 952.9,1730.9 954.9,1730.9 956.9,1730.9 958.9,1730.9 960.9,1730.9 962.9,1730.9 964.9,1730.9 966.9,1730.9 968.9,1730.9 970.9,1730.9 972.9,1730.9 974.9,1730.9 976.9,1730.9 978.9,1730.9 980.9,1730.9 982.9,1730.9 984.9,1730.9 986.9,1730.9 988.9,1730.9 990.9,1730.9 992.9,1730.9 994.9,1730.9 996.9,1730.9 998.9,1730.9 1000.9,1730.9 1002.9,1730.9 1004.9,1730.9 1006.9,1730.9 1008.9,1730.9 1010.9,1730.9 1012.9,1730.9 1014.9,1730.9 1016.9,1730.9 1018.9,1730.9 1020.9,1730.9 1022.9,1730.9 1024.9,1730.9 1026.9,1730.9 1028.9,1730.9 1030.9,1730.9 1032.9,1730.9 1034.9,1730.8 1036.9,1730.8 1038.9,1730.8 1040.9,1730.8 1042.9,1730.8 1044.9,1730.8 1046.9,1730.8 1048.9,1730.8 1050.9,1730.8 1052.9,1730.8 1054.9,1730.8 1056.9,1730.8 1058.9,1730.8 1060.9,1730.8 1062.9,1730.8 1064.9,1730.8 1066.9,1730.8 1068.9,1730.8 1070.9,1730.8 1072.9,1730.8 1074.9,1730.8 1076.9,1730.8 1078.9,1730.8 1080.9,1730.8 1082.9,1730.8 1084.9,1730.8 1086.9,1730.8 1088.9,1730.8 1090.9,1730.8 1092.9,1730.8 1094.9,1730.8 1096.9,1730.8 1098.9,1730.8 1100.9,1730.7 1102.9,1730.7 1104.9,1730.7 1106.9,1730.7 1108.9,1730.7 1110.9,1730.7 1112.9,1730.7 1114.9,1730.7 1116.9,1730.7 1118.9,1730.7 1120.9,1730.7 1122.9,1730.7 1124.9,1730.7 1126.9,1730.7 1128.9,1730.6 1130.9,1730.6 1132.9,1730.6 1134.9,1730.6 1136.9,1730.6 1138.9,1730.6 1140.9,1730.5 1142.9,1730.5 1144.9,1730.5 1146.9,1730.5 1148.9,1730.5 1150.9,1730.4 1152.9,1730.4 1154.9,1730.4 1156.9,1730.3 1158.9,1730.3 1160.9,1730.3 1162.9,1730.2 1164.9,1730.2 1166.9,1730.1 1168.9,1730.1 1170.9,1730 1172.9,1729.9 1174.9,1729.9 1176.9,1729.8 1178.9,1729.7 1180.9,1729.6 1182.9,1729.6 1184.9,1729.5 1186.9,1729.4 1188.9,1729.2 1190.9,1729.1 1192.9,1729 1194.9,1728.9 1196.9,1728.7 1198.9,1728.6 1200.9,1728.4 1202.9,1728.2 1204.9,1728 1206.9,1727.9 1208.9,1727.7 1210.9,1727.4 1212.9,1727.2 1214.9,1727 1216.9,1726.7 1218.9,1726.4 1220.9,1726.2 1222.9,1725.9 1224.9,1725.6 1226.9,1725.2 1228.9,1724.9 1230.9,1724.6 1232.9,1724.2 1234.9,1723.8 1236.9,1723.4 1238.9,1723 1240.9,1722.6 1242.9,1722.1 1244.9,1721.7 1246.9,1721.2 1248.9,1720.7 1250.9,1720.2 1252.9,1719.7 1254.9,1719.2 1256.9,1718.7 1258.9,1718.1 1260.9,1717.6 1262.9,1717 1264.9,1716.5 1266.9,1715.9 1268.9,1715.3 1270.9,1714.7 1272.9,1714.1 1274.9,1713.5 1276.9,1712.9 1278.9,1712.3 1280.9,1711.7 1282.9,1711.1 1284.9,1710.5 1286.9,1709.9 1288.9,1709.3 1290.9,1708.7 1292.9,1708.2 1294.9,1707.6 1296.9,1707 1298.9,1706.5 1300.9,1706 1302.9,1705.5 1304.9,1705 1306.9,1704.5 1308.9,1704.1 1310.9,1703.7 1312.9,1703.3 1314.9,1702.9 1316.9,1702.6 1318.9,1702.3 1320.9,1702 1322.9,1701.8 1324.9,1701.5 1326.9,1701.4 1328.9,1701.2 1330.9,1701.1 1332.9,1701 1334.9,1701 1336.9,1701 1338.9,1701 1340.9,1701.1 1342.9,1701.2 1344.9,1701.4 1346.9,1701.5 1348.9,1701.7 1350.9,1702 1352.9,1702.3 1354.9,1702.6 1356.9,1702.9 1358.9,1703.3 1360.9,1703.6 1362.9,1704.1 1364.9,1704.5 1366.9,1705 1368.9,1705.4 1370.9,1705.9 1372.9,1706.5 1374.9,1707 1376.9,1707.5 1378.9,1708.1 1380.9,1708.7 1382.9,1709.2 1384.9,1709.8 1386.9,1710.4 1388.9,1711 1390.9,1711.6 1392.9,1712.2 1394.9,1712.8 1396.9,1713.4 1398.9,1714 1400.9,1714.6 1402.9,1715.2 1404.9,1715.8 1406.9,1716.4 1408.9,1717 1410.9,1717.5 1412.9,1718.1 1414.9,1718.6 1416.9,1719.2 1418.9,1719.7 1420.9,1720.2 1422.9,1720.7 1424.9,1721.2 1426.9,1721.6 1428.9,1722.1 1430.9,1722.5 1432.9,1723 1434.9,1723.4 1436.9,1723.8 1438.9,1724.2 1440.9,1724.5 1442.9,1724.9 1444.9,1725.2 1446.9,1725.5 1448.9,1725.8 1450.9,1726.1 1452.9,1726.4 1454.9,1726.7 1456.9,1726.9 1458.9,1727.2 1460.9,1727.4 1462.9,1727.6 1464.9,1727.8 1466.9,1728 1468.9,1728.2 1470.9,1728.4 1472.9,1728.6 1474.9,1728.7 1476.9,1728.8 1478.9,1729 1480.9,1729.1 1482.9,1729.2 1484.9,1729.3 1486.9,1729.4 1488.9,1729.5 1490.9,1729.6 1492.9,1729.7 1494.9,1729.8 1496.9,1729.9 1498.9,1729.9 1500.9,1730 1502.9,1730.1 1504.9,1730.1 1506.9,1730.2 1508.9,1730.2 1510.9,1730.3 1512.9,1730.3 1514.9,1730.3 1516.9,1730.4 1518.9,1730.4 1520.9,1730.4 1522.9,1730.5 1524.9,1730.5 1526.9,1730.5 1528.9,1730.5 1530.9,1730.5 1532.9,1730.6 1534.9,1730.6 1536.9,1730.6 1538.9,1730.6 1540.9,1730.6 1542.9,1730.6 1544.9,1730.6 1546.9,1730.7 1548.9,1730.7 1550.9,1730.7 1552.9,1730.7 1554.9,1730.7 1556.9,1730.7 1558.9,1730.7 1560.9,1730.7 1562.9,1730.7 1564.9,1730.7 1566.9,1730.7 1568.9,1730.7 1570.9,1730.7 1572.9,1730.8 1574.9,1730.8 1576.9,1730.8 1578.9,1730.8 1580.9,1730.8 1582.9,1730.8 1584.9,1730.8 1586.9,1730.8 1588.9,1730.8" fill="none" stroke="#ff0000" stroke-width="4.0" stroke-linejoin="round" stroke-linecap="butt"/>
<polyline points="916.9,1729.3 918.9,1729.3 920.9,1729.3 922.9,1729.2 924.9,1729.2 926.9,1729.1 928.9,1729.1 930.9,1729.1 932.9,1729 934.9,1728.9 936.9,1728.9 938.9,1728.8 940.9,1728.8 942.9,1728.7 944.9,1728.6 946.9,1728.5 948.9,1728.4 950.9,1728.3 952.9,1728.2 954.9,1728.1 956.9,1727.9 958.9,1727.8 960.9,1727.6 962.9,1727.5 964.9,1727.3 966.9,1727.1 968.9,1726.9 970.9,1726.6 972.9,1726.4 974.9,1726.1 976.9,1725.7 978.9,1725.4 980.9,1725 982.9,1724.6 984.9,1724.2 986.9,1723.7 988.9,1723.2 990.9,1722.6 992.9,1722 994.9,1721.3 996.9,1720.6 998.9,1719.8 1000.9,1719 1002.9,1718.1 1004.9,1717.1 1006.9,1716.1 1008.9,1715 1010.9,1713.8 1012.9,1712.5 1014.9,1711.1 1016.9,1709.7 1018.9,1708.1 1020.9,1706.5 1022.9,1704.7 1024.9,1702.9 1026.9,1700.9 1028.9,1698.8 1030.9,1696.6 1032.9,1694.3 1034.9,1691.9 1036.9,1689.4 1038.9,1686.7 1040.9,1683.9 1042.9,1681 1044.9,1677.9 1046.9,1674.8 1048.9,1671.5 1050.9,1668.1 1052.9,1664.6 1054.9,1661 1056.9,1657.2 1058.9,1653.4 1060.9,1649.4 1062.9,1645.4 1064.9,1641.3 1066.9,1637.1 1068.9,1632.8 1070.9,1628.4 1072.9,1624 1074.9,1619.6 1076.9,1615.1 1078.9,1610.6 1080.9,1606.1 1082.9,1601.6 1084.9,1597.1 1086.9,1592.6 1088.9,1588.2 1090.9,1583.8 1092.9,1579.5 1094.9,1575.3 1096.9,1571.2 1098.9,1567.2 1100.9,1563.4 1102.9,1559.7 1104.9,1556.1 1106.9,1552.7 1108.9,1549.6 1110.9,1546.6 1112.9,1543.8 1114.9,1541.3 1116.9,1539.1 1118.9,1537 1120.9,1535.3 1122.9,1533.8 1124.9,1532.6 1126.9,1531.7 1128.9,1531 1130.9,1530.7 1132.9,1530.7 1134.9,1530.9 1136.9,1531.4 1138.9,1532.3 1140.9,1533.4 1142.9,1534.7 1144.9,1536.4 1146.9,1538.3 1148.9,1540.4 1150.9,1542.8 1152.9,1545.3 1154.9,1548.1 1156.9,1551.1 1158.9,1554.2 1160.9,1557.5 1162.9,1560.9 1164.9,1564.5 1166.9,1568.1 1168.9,1571.9 1170.9,1575.7 1172.9,1579.6 1174.9,1583.5 1176.9,1587.4 1178.9,1591.3 1180.9,1595.3 1182.9,1599.2 1184.9,1603.1 1186.9,1606.9 1188.9,1610.7 1190.9,1614.4 1192.9,1618 1194.9,1621.5 1196.9,1624.9 1198.9,1628.2 1200.9,1631.4 1202.9,1634.5 1204.9,1637.4 1206.9,1640.2 1208.9,1642.9 1210.9,1645.4 1212.9,1647.8 1214.9,1650 1216.9,1652.1 1218.9,1654.1 1220.9,1655.9 1222.9,1657.6 1224.9,1659.2 1226.9,1660.6 1228.9,1661.9 1230.9,1663.1 1232.9,1664.2 1234.9,1665.2 1236.9,1666.1 1238.9,1666.8 1240.9,1667.5 1242.9,1668.2 1244.9,1668.7 1246.9,1669.2 1248.9,1669.6 1250.9,1669.9 1252.9,1670.3 1254.9,1670.5 1256.9,1670.8 1258.9,1671 1260.9,1671.2 1262.9,1671.4 1264.9,1671.6 1266.9,1671.8 1268.9,1672 1270.9,1672.1 1272.9,1672.3 1274.9,1672.5 1276.9,1672.8 1278.9,1673 1280.9,1673.3 1282.9,1673.5 1284.9,1673.8 1286.9,1674.2 1288.9,1674.5 1290.9,1674.9 1292.9,1675.3 1294.9,1675.7 1296.9,1676.2 1298.9,1676.6 1300.9,1677.1 1302.9,1677.7 1304.9,1678.2 1306.9,1678.8 1308.9,1679.3 1310.9,1679.9 1312.9,1680.6 1314.9,1681.2 1316.9,1681.8 1318.9,1682.5 1320.9,1683.2 1322.9,1683.9 1324.9,1684.6 1326.9,1685.3 1328.9,1686 1330.9,1686.7 1332.9,1687.5 1334.9,1688.2 1336.9,1689 1338.9,1689.7 1340.9,1690.5 1342.9,1691.2 1344.9,1692 1346.9,1692.8 1348.9,1693.6 1350.9,1694.3 1352.9,1695.1 1354.9,1695.9 1356.9,1696.7 1358.9,1697.5 1360.9,1698.3 1362.9,1699.1 1364.9,1699.8 1366.9,1700.6 1368.9,1701.4 1370.9,1702.2 1372.9,1703 1374.9,1703.7 1376.9,1704.5 1378.9,1705.3 1380.9,1706 1382.9,1706.8 1384.9,1707.5 1386.9,1708.3 1388.9,1709 1390.9,1709.7 1392.9,1710.4 1394.9,1711.1 1396.9,1711.8 1398.9,1712.5 1400.9,1713.2 1402.9,1713.9 1404.9,1714.5 1406.9,1715.1 1408.9,1715.8 1410.9,1716.4 1412.9,1717 1414.9,1717.6 1416.9,1718.1 1418.9,1718.7 1420.9,1719.2 1422.9,1719.7 1424.9,1720.2 1426.9,1720.7 1428.9,1721.2 1430.9,1721.7 1432.9,1722.1 1434.9,1722.5 1436.9,1722.9 1438.9,1723.3 1440.9,1723.7 1442.9,1724.1 1444.9,1724.4 1446.9,1724.8 1448.9,1725.1 1450.9,1725.4 1452.9,1725.7 1454.9,1726 1456.9,1726.2 1458.9,1726.5 1460.9,1726.7 1462.9,1727 1464.9,1727.2 1466.9,1727.4 1468.9,1727.6 1470.9,1727.7 1472.9,1727.9 1474.9,1728.1 1476.9,1728.2 1478.9,1728.4 1480.9,1728.5 1482.9,1728.6 1484.9,1728.7 1486.9,1728.9 1488.9,1729 1490.9,1729.1 1492.9,1729.1 1494.9,1729.2 1496.9,1729.3 1498.9,1729.4 1500.9,1729.5 1502.9,1729.5 1504.9,1729.6 1506.9,1729.6 1508.9,1729.7 1510.9,1729.7 1512.9,1729.8 1514.9,1729.8 1516.9,1729.9 1518.9,1729.9 1520.9,1729.9 1522.9,1730 1524.9,1730 1526.9,1730 1528.9,1730.1 1530.9,1730.1 1532.9,1730.1 1534.9,1730.1 1536.9,1730.1 1538.9,1730.2 1540.9,1730.2 1542.9,1730.2 1544.9,1730.2 1546.9,1730.2 1548.9,1730.2 1550.9,1730.3 1552.9,1730.3 1554.9,1730.3 1556.9,1730.3 1558.9,1730.3 1560.9,1730.3 1562.9,1730.3 1564.9,1730.3 1566.9,1730.3 1568.9,1730.4 1570.9,1730.4 1572.9,1730.4 1574.9,1730.4 1576.9,1730.4 1578.9,1730.4 1580.9,1730.4 1582.9,1730.4 1584.9,1730.4 1586.9,1730.4 1588.9,1730.4" fill="none" stroke="#000" stroke-width="3.8" stroke-linejoin="round" stroke-linecap="butt"/>
<polyline points="916.9,1729.3 918.9,1729.3 920.9,1729.3 922.9,1729.2 924.9,1729.2 926.9,1729.1 928.9,1729.1 930.9,1729.1 932.9,1729 934.9,1728.9 936.9,1728.9 938.9,1728.8 940.9,1728.8 942.9,1728.7 944.9,1728.6 946.9,1728.5 948.9,1728.4 950.9,1728.3 952.9,1728.2 954.9,1728.1 956.9,1727.9 958.9,1727.8 960.9,1727.6 962.9,1727.5 964.9,1727.3 966.9,1727.1 968.9,1726.9 970.9,1726.6 972.9,1726.4 974.9,1726.1 976.9,1725.7 978.9,1725.4 980.9,1725 982.9,1724.6 984.9,1724.2 986.9,1723.7 988.9,1723.2 990.9,1722.6 992.9,1722 994.9,1721.3 996.9,1720.6 998.9,1719.8 1000.9,1719 1002.9,1718.1 1004.9,1717.1 1006.9,1716.1 1008.9,1715 1010.9,1713.8 1012.9,1712.5 1014.9,1711.1 1016.9,1709.7 1018.9,1708.1 1020.9,1706.5 1022.9,1704.7 1024.9,1702.9 1026.9,1700.9 1028.9,1698.8 1030.9,1696.6 1032.9,1694.3 1034.9,1691.9 1036.9,1689.4 1038.9,1686.7 1040.9,1683.9 1042.9,1681 1044.9,1677.9 1046.9,1674.8 1048.9,1671.5 1050.9,1668.1 1052.9,1664.6 1054.9,1661 1056.9,1657.2 1058.9,1653.4 1060.9,1649.4 1062.9,1645.4 1064.9,1641.3 1066.9,1637.1 1068.9,1632.8 1070.9,1628.4 1072.9,1624 1074.9,1619.6 1076.9,1615.1 1078.9,1610.6 1080.9,1606.1 1082.9,1601.6 1084.9,1597.1 1086.9,1592.6 1088.9,1588.2 1090.9,1583.8 1092.9,1579.5 1094.9,1575.3 1096.9,1571.2 1098.9,1567.2 1100.9,1563.4 1102.9,1559.7 1104.9,1556.1 1106.9,1552.7 1108.9,1549.6 1110.9,1546.6 1112.9,1543.8 1114.9,1541.3 1116.9,1539.1 1118.9,1537 1120.9,1535.3 1122.9,1533.8 1124.9,1532.6 1126.9,1531.7 1128.9,1531 1130.9,1530.7 1132.9,1530.7 1134.9,1530.9 1136.9,1531.4 1138.9,1532.3 1140.9,1533.4 1142.9,1534.7 1144.9,1536.4 1146.9,1538.3 1148.9,1540.4 1150.9,1542.8 1152.9,1545.3 1154.9,1548.1 1156.9,1551.1 1158.9,1554.2 1160.9,1557.5 1162.9,1560.9 1164.9,1564.5 1166.9,1568.1 1168.9,1571.9 1170.9,1575.7 1172.9,1579.6 1174.9,1583.5 1176.9,1587.4 1178.9,1591.3 1180.9,1595.3 1182.9,1599.2 1184.9,1603.1 1186.9,1606.9 1188.9,1610.7 1190.9,1614.4 1192.9,1618 1194.9,1621.5 1196.9,1624.9 1198.9,1628.2 1200.9,1631.4 1202.9,1634.5 1204.9,1637.4 1206.9,1640.2 1208.9,1642.9 1210.9,1645.4 1212.9,1647.8 1214.9,1650 1216.9,1652.1 1218.9,1654.1 1220.9,1655.9 1222.9,1657.6 1224.9,1659.2 1226.9,1660.6 1228.9,1661.9 1230.9,1663.1 1232.9,1664.2 1234.9,1665.2 1236.9,1666.1 1238.9,1666.8 1240.9,1667.5 1242.9,1668.2 1244.9,1668.7 1246.9,1669.2 1248.9,1669.6 1250.9,1669.9 1252.9,1670.3 1254.9,1670.5 1256.9,1670.8 1258.9,1671 1260.9,1671.2 1262.9,1671.4 1264.9,1671.6 1266.9,1671.8 1268.9,1672 1270.9,1672.1 1272.9,1672.3 1274.9,1672.5 1276.9,1672.8 1278.9,1673 1280.9,1673.3 1282.9,1673.5 1284.9,1673.8 1286.9,1674.2 1288.9,1674.5 1290.9,1674.9 1292.9,1675.3 1294.9,1675.7 1296.9,1676.2 1298.9,1676.6 1300.9,1677.1 1302.9,1677.7 1304.9,1678.2 1306.9,1678.8 1308.9,1679.3 1310.9,1679.9 1312.9,1680.6 1314.9,1681.2 1316.9,1681.8 1318.9,1682.5 1320.9,1683.2 1322.9,1683.9 1324.9,1684.6 1326.9,1685.3 1328.9,1686 1330.9,1686.7 1332.9,1687.5 1334.9,1688.2 1336.9,1689 1338.9,1689.7 1340.9,1690.5 1342.9,1691.2 1344.9,1692 1346.9,1692.8 1348.9,1693.6 1350.9,1694.3 1352.9,1695.1 1354.9,1695.9 1356.9,1696.7 1358.9,1697.5 1360.9,1698.3 1362.9,1699.1 1364.9,1699.8 1366.9,1700.6 1368.9,1701.4 1370.9,1702.2 1372.9,1703 1374.9,1703.7 1376.9,1704.5 1378.9,1705.3 1380.9,1706 1382.9,1706.8 1384.9,1707.5 1386.9,1708.3 1388.9,1709 1390.9,1709.7 1392.9,1710.4 1394.9,1711.1 1396.9,1711.8 1398.9,1712.5 1400.9,1713.2 1402.9,1713.9 1404.9,1714.5 1406.9,1715.1 1408.9,1715.8 1410.9,1716.4 1412.9,1717 1414.9,1717.6 1416.9,1718.1 1418.9,1718.7 1420.9,1719.2 1422.9,1719.7 1424.9,1720.2 1426.9,1720.7 1428.9,1721.2 1430.9,1721.7 1432.9,1722.1 1434.9,1722.5 1436.9,1722.9 1438.9,1723.3 1440.9,1723.7 1442.9,1724.1 1444.9,1724.4 1446.9,1724.8 1448.9,1725.1 1450.9,1725.4 1452.9,1725.7 1454.9,1726 1456.9,1726.2 1458.9,1726.5 1460.9,1726.7 1462.9,1727 1464.9,1727.2 1466.9,1727.4 1468.9,1727.6 1470.9,1727.7 1472.9,1727.9 1474.9,1728.1 1476.9,1728.2 1478.9,1728.4 1480.9,1728.5 1482.9,1728.6 1484.9,1728.7 1486.9,1728.9 1488.9,1729 1490.9,1729.1 1492.9,1729.1 1494.9,1729.2 1496.9,1729.3 1498.9,1729.4 1500.9,1729.5 1502.9,1729.5 1504.9,1729.6 1506.9,1729.6 1508.9,1729.7 1510.9,1729.7 1512.9,1729.8 1514.9,1729.8 1516.9,1729.9 1518.9,1729.9 1520.9,1729.9 1522.9,1730 1524.9,1730 1526.9,1730 1528.9,1730.1 1530.9,1730.1 1532.9,1730.1 1534.9,1730.1 1536.9,1730.1 1538.9,1730.2 1540.9,1730.2 1542.9,1730.2 1544.9,1730.2 1546.9,1730.2 1548.9,1730.2 1550.9,1730.3 1552.9,1730.3 1554.9,1730.3 1556.9,1730.3 1558.9,1730.3 1560.9,1730.3 1562.9,1730.3 1564.9,1730.3 1566.9,1730.3 1568.9,1730.4 1570.9,1730.4 1572.9,1730.4 1574.9,1730.4 1576.9,1730.4 1578.9,1730.4 1580.9,1730.4 1582.9,1730.4 1584.9,1730.4 1586.9,1730.4 1588.9,1730.4" fill="none" stroke="#ffff50" stroke-width="3.6" stroke-linejoin="round" stroke-linecap="butt" stroke-dasharray="3 3"/>
<text x="1089.5" y="1675.2" font-size="34" fill="#0000ff">75.89 %</text>
<text x="1272" y="1668.4" font-size="34" fill="#00ff00">9.72 %</text>
<text x="1383.5" y="1704.6" font-size="34" fill="#ff0000">14.37 %</text>
<rect x="1716.3" y="1254.9" width="675.2" height="499.8" fill="none" stroke="#3c3c3c" stroke-width="2.6"/>
<line x1="1716.3" y1="1507.6" x2="2391.5" y2="1507.6" stroke="#3c3c3c" stroke-width="2.6"/>
<line x1="1716.3" y1="1755.7" x2="1716.3" y2="1764.7" stroke="#3c3c3c" stroke-width="2"/>
<line x1="1909.2" y1="1755.7" x2="1909.2" y2="1764.7" stroke="#3c3c3c" stroke-width="2"/>
<line x1="2102.1" y1="1755.7" x2="2102.1" y2="1764.7" stroke="#3c3c3c" stroke-width="2"/>
<line x1="2295" y1="1755.7" x2="2295" y2="1764.7" stroke="#3c3c3c" stroke-width="2"/>
<line x1="1812.8" y1="1755.7" x2="1812.8" y2="1760.2" stroke="#3c3c3c" stroke-width="2"/>
<line x1="2005.7" y1="1755.7" x2="2005.7" y2="1760.2" stroke="#3c3c3c" stroke-width="2"/>
<line x1="2198.6" y1="1755.7" x2="2198.6" y2="1760.2" stroke="#3c3c3c" stroke-width="2"/>
<line x1="2391.5" y1="1755.7" x2="2391.5" y2="1760.2" stroke="#3c3c3c" stroke-width="2"/>
<text x="1716.3" y="1786.7" font-size="19" fill="#000" text-anchor="middle">528</text>
<text x="1909.2" y="1786.7" font-size="19" fill="#000" text-anchor="middle">530</text>
<text x="2102.1" y="1786.7" font-size="19" fill="#000" text-anchor="middle">532</text>
<text x="2295" y="1786.7" font-size="19" fill="#000" text-anchor="middle">534</text>
<text x="1846.2" y="1846" font-size="48" fill="#000" textLength="425" lengthAdjust="spacingAndGlyphs">Binding Energy (eV)</text>
<text transform="translate(1679.8,1513.5) rotate(-90)" font-size="48" text-anchor="middle" textLength="303" lengthAdjust="spacingAndGlyphs">Intensity (a.u.)</text>
<text x="1723.8" y="1320.1" font-size="80" fill="#000">(j)</text>
<text x="1723.8" y="1572.5" font-size="80" fill="#000">(k)</text>
<text x="2332.5" y="1302.5" font-size="41" fill="#000" text-anchor="middle">SP2</text>
<text x="2332.5" y="1354" font-size="41" fill="#000" text-anchor="middle">O 1s</text>
<text x="2332.5" y="1556" font-size="41" fill="#000" text-anchor="middle">SP3</text>
<text x="2332.5" y="1607" font-size="41" fill="#000" text-anchor="middle">O 1s</text>
<line x1="1717.6" y1="1457.7" x2="2390.2" y2="1457.7" stroke="#111" stroke-width="2.4"/>
<polyline points="1717.6,1455.2 1719.6,1455.1 1721.6,1455.1 1723.6,1455.1 1725.6,1455 1727.6,1455 1729.6,1454.9 1731.6,1454.9 1733.6,1454.8 1735.6,1454.8 1737.6,1454.7 1739.6,1454.6 1741.6,1454.6 1743.6,1454.5 1745.6,1454.4 1747.6,1454.3 1749.6,1454.3 1751.6,1454.2 1753.6,1454 1755.6,1453.9 1757.6,1453.8 1759.6,1453.7 1761.6,1453.5 1763.6,1453.4 1765.6,1453.2 1767.6,1453 1769.6,1452.8 1771.6,1452.6 1773.6,1452.3 1775.6,1452.1 1777.6,1451.8 1779.6,1451.5 1781.6,1451.1 1783.6,1450.8 1785.6,1450.4 1787.6,1450 1789.6,1449.5 1791.6,1449.1 1793.6,1448.5 1795.6,1448 1797.6,1447.4 1799.6,1446.7 1801.6,1446 1803.6,1445.3 1805.6,1444.5 1807.6,1443.7 1809.6,1442.8 1811.6,1441.8 1813.6,1440.8 1815.6,1439.7 1817.6,1438.5 1819.6,1437.3 1821.6,1436 1823.6,1434.6 1825.6,1433.1 1827.6,1431.6 1829.6,1430 1831.6,1428.3 1833.6,1426.5 1835.6,1424.6 1837.6,1422.6 1839.6,1420.5 1841.6,1418.4 1843.6,1416.1 1845.6,1413.8 1847.6,1411.3 1849.6,1408.8 1851.6,1406.1 1853.6,1403.4 1855.6,1400.6 1857.6,1397.7 1859.6,1394.7 1861.6,1391.6 1863.6,1388.4 1865.6,1385.2 1867.6,1381.8 1869.6,1378.4 1871.6,1375 1873.6,1371.4 1875.6,1367.8 1877.6,1364.2 1879.6,1360.5 1881.6,1356.8 1883.6,1353.1 1885.6,1349.3 1887.6,1345.5 1889.6,1341.7 1891.6,1338 1893.6,1334.2 1895.6,1330.5 1897.6,1326.8 1899.6,1323.1 1901.6,1319.5 1903.6,1316 1905.6,1312.5 1907.6,1309.1 1909.6,1305.9 1911.6,1302.7 1913.6,1299.6 1915.6,1296.7 1917.6,1294 1919.6,1291.4 1921.6,1288.9 1923.6,1286.6 1925.6,1284.5 1927.6,1282.6 1929.6,1280.9 1931.6,1279.4 1933.6,1278.1 1935.6,1277 1937.6,1276.2 1939.6,1275.6 1941.6,1275.2 1943.6,1275 1945.6,1275.1 1947.6,1275.4 1949.6,1275.9 1951.6,1276.7 1953.6,1277.7 1955.6,1278.9 1957.6,1280.3 1959.6,1281.9 1961.6,1283.7 1963.6,1285.8 1965.6,1288 1967.6,1290.4 1969.6,1292.9 1971.6,1295.6 1973.6,1298.5 1975.6,1301.5 1977.6,1304.6 1979.6,1307.8 1981.6,1311.1 1983.6,1314.6 1985.6,1318.1 1987.6,1321.7 1989.6,1325.3 1991.6,1329 1993.6,1332.7 1995.6,1336.5 1997.6,1340.2 1999.6,1344 2001.6,1347.8 2003.6,1351.6 2005.6,1355.3 2007.6,1359 2009.6,1362.7 2011.6,1366.4 2013.6,1370 2015.6,1373.6 2017.6,1377 2019.6,1380.5 2021.6,1383.8 2023.6,1387.1 2025.6,1390.3 2027.6,1393.4 2029.6,1396.5 2031.6,1399.4 2033.6,1402.3 2035.6,1405 2037.6,1407.7 2039.6,1410.3 2041.6,1412.8 2043.6,1415.2 2045.6,1417.5 2047.6,1419.7 2049.6,1421.8 2051.6,1423.8 2053.6,1425.7 2055.6,1427.5 2057.6,1429.3 2059.6,1430.9 2061.6,1432.5 2063.6,1434 2065.6,1435.4 2067.6,1436.8 2069.6,1438 2071.6,1439.2 2073.6,1440.3 2075.6,1441.4 2077.6,1442.4 2079.6,1443.3 2081.6,1444.2 2083.6,1445 2085.6,1445.7 2087.6,1446.5 2089.6,1447.1 2091.6,1447.7 2093.6,1448.3 2095.6,1448.9 2097.6,1449.4 2099.6,1449.8 2101.6,1450.2 2103.6,1450.6 2105.6,1451 2107.6,1451.3 2109.6,1451.7 2111.6,1452 2113.6,1452.2 2115.6,1452.5 2117.6,1452.7 2119.6,1452.9 2121.6,1453.1 2123.6,1453.3 2125.6,1453.5 2127.6,1453.6 2129.6,1453.7 2131.6,1453.9 2133.6,1454 2135.6,1454.1 2137.6,1454.2 2139.6,1454.3 2141.6,1454.4 2143.6,1454.5 2145.6,1454.6 2147.6,1454.6 2149.6,1454.7 2151.6,1454.7 2153.6,1454.8 2155.6,1454.9 2157.6,1454.9 2159.6,1455 2161.6,1455 2163.6,1455 2165.6,1455.1 2167.6,1455.1 2169.6,1455.1 2171.6,1455.2 2173.6,1455.2 2175.6,1455.2 2177.6,1455.3 2179.6,1455.3 2181.6,1455.3 2183.6,1455.3 2185.6,1455.4 2187.6,1455.4 2189.6,1455.4 2191.6,1455.4 2193.6,1455.5 2195.6,1455.5 2197.6,1455.5 2199.6,1455.5 2201.6,1455.5 2203.6,1455.6 2205.6,1455.6 2207.6,1455.6 2209.6,1455.6 2211.6,1455.6 2213.6,1455.6 2215.6,1455.6 2217.6,1455.7 2219.6,1455.7 2221.6,1455.7 2223.6,1455.7 2225.6,1455.7 2227.6,1455.7 2229.6,1455.7 2231.6,1455.8 2233.6,1455.8 2235.6,1455.8 2237.6,1455.8 2239.6,1455.8 2241.6,1455.8 2243.6,1455.8 2245.6,1455.8 2247.6,1455.8 2249.6,1455.9 2251.6,1455.9 2253.6,1455.9 2255.6,1455.9 2257.6,1455.9 2259.6,1455.9 2261.6,1455.9 2263.6,1455.9 2265.6,1455.9 2267.6,1455.9 2269.6,1456 2271.6,1456 2273.6,1456 2275.6,1456 2277.6,1456 2279.6,1456 2281.6,1456 2283.6,1456 2285.6,1456 2287.6,1456 2289.6,1456 2291.6,1456 2293.6,1456.1 2295.6,1456.1 2297.6,1456.1 2299.6,1456.1 2301.6,1456.1 2303.6,1456.1 2305.6,1456.1 2307.6,1456.1 2309.6,1456.1 2311.6,1456.1 2313.6,1456.1 2315.6,1456.1 2317.6,1456.1 2319.6,1456.1 2321.6,1456.1 2323.6,1456.1 2325.6,1456.2 2327.6,1456.2 2329.6,1456.2 2331.6,1456.2 2333.6,1456.2 2335.6,1456.2 2337.6,1456.2 2339.6,1456.2 2341.6,1456.2 2343.6,1456.2 2345.6,1456.2 2347.6,1456.2 2349.6,1456.2 2351.6,1456.2 2353.6,1456.2 2355.6,1456.2 2357.6,1456.2 2359.6,1456.2 2361.6,1456.2 2363.6,1456.2 2365.6,1456.2 2367.6,1456.3 2369.6,1456.3 2371.6,1456.3 2373.6,1456.3 2375.6,1456.3 2377.6,1456.3 2379.6,1456.3 2381.6,1456.3 2383.6,1456.3 2385.6,1456.3 2387.6,1456.3 2389.6,1456.3" fill="none" stroke="#0000ff" stroke-width="4.0" stroke-linejoin="round" stroke-linecap="butt"/>
<polyline points="1717.6,1456.7 1719.6,1456.7 1721.6,1456.7 1723.6,1456.7 1725.6,1456.7 1727.6,1456.7 1729.6,1456.7 1731.6,1456.7 1733.6,1456.7 1735.6,1456.7 1737.6,1456.7 1739.6,1456.7 1741.6,1456.7 1743.6,1456.7 1745.6,1456.7 1747.6,1456.7 1749.6,1456.7 1751.6,1456.7 1753.6,1456.7 1755.6,1456.7 1757.6,1456.7 1759.6,1456.7 1761.6,1456.7 1763.6,1456.7 1765.6,1456.7 1767.6,1456.7 1769.6,1456.7 1771.6,1456.7 1773.6,1456.7 1775.6,1456.7 1777.6,1456.7 1779.6,1456.7 1781.6,1456.7 1783.6,1456.7 1785.6,1456.7 1787.6,1456.7 1789.6,1456.7 1791.6,1456.7 1793.6,1456.7 1795.6,1456.7 1797.6,1456.7 1799.6,1456.7 1801.6,1456.7 1803.6,1456.7 1805.6,1456.7 1807.6,1456.7 1809.6,1456.7 1811.6,1456.7 1813.6,1456.7 1815.6,1456.7 1817.6,1456.7 1819.6,1456.7 1821.6,1456.7 1823.6,1456.7 1825.6,1456.7 1827.6,1456.7 1829.6,1456.7 1831.6,1456.7 1833.6,1456.7 1835.6,1456.7 1837.6,1456.7 1839.6,1456.7 1841.6,1456.7 1843.6,1456.7 1845.6,1456.7 1847.6,1456.7 1849.6,1456.7 1851.6,1456.7 1853.6,1456.7 1855.6,1456.7 1857.6,1456.7 1859.6,1456.7 1861.6,1456.7 1863.6,1456.7 1865.6,1456.7 1867.6,1456.7 1869.6,1456.7 1871.6,1456.7 1873.6,1456.7 1875.6,1456.7 1877.6,1456.7 1879.6,1456.7 1881.6,1456.7 1883.6,1456.7 1885.6,1456.7 1887.6,1456.7 1889.6,1456.7 1891.6,1456.7 1893.6,1456.7 1895.6,1456.7 1897.6,1456.7 1899.6,1456.7 1901.6,1456.7 1903.6,1456.7 1905.6,1456.7 1907.6,1456.7 1909.6,1456.7 1911.6,1456.7 1913.6,1456.7 1915.6,1456.7 1917.6,1456.7 1919.6,1456.7 1921.6,1456.7 1923.6,1456.7 1925.6,1456.7 1927.6,1456.7 1929.6,1456.7 1931.6,1456.7 1933.6,1456.7 1935.6,1456.7 1937.6,1456.7 1939.6,1456.7 1941.6,1456.7 1943.6,1456.7 1945.6,1456.7 1947.6,1456.7 1949.6,1456.7 1951.6,1456.7 1953.6,1456.7 1955.6,1456.7 1957.6,1456.7 1959.6,1456.7 1961.6,1456.7 1963.6,1456.6 1965.6,1456.6 1967.6,1456.6 1969.6,1456.6 1971.6,1456.6 1973.6,1456.5 1975.6,1456.5 1977.6,1456.5 1979.6,1456.4 1981.6,1456.4 1983.6,1456.3 1985.6,1456.3 1987.6,1456.2 1989.6,1456.1 1991.6,1456 1993.6,1455.8 1995.6,1455.7 1997.6,1455.5 1999.6,1455.4 2001.6,1455.1 2003.6,1454.9 2005.6,1454.6 2007.6,1454.3 2009.6,1454 2011.6,1453.6 2013.6,1453.2 2015.6,1452.8 2017.6,1452.3 2019.6,1451.7 2021.6,1451.1 2023.6,1450.5 2025.6,1449.8 2027.6,1449 2029.6,1448.2 2031.6,1447.4 2033.6,1446.4 2035.6,1445.5 2037.6,1444.4 2039.6,1443.3 2041.6,1442.2 2043.6,1441 2045.6,1439.8 2047.6,1438.5 2049.6,1437.2 2051.6,1435.9 2053.6,1434.6 2055.6,1433.2 2057.6,1431.9 2059.6,1430.5 2061.6,1429.2 2063.6,1427.9 2065.6,1426.6 2067.6,1425.4 2069.6,1424.2 2071.6,1423 2073.6,1422 2075.6,1421 2077.6,1420.1 2079.6,1419.3 2081.6,1418.7 2083.6,1418.1 2085.6,1417.6 2087.6,1417.3 2089.6,1417.1 2091.6,1417 2093.6,1417 2095.6,1417.2 2097.6,1417.5 2099.6,1417.9 2101.6,1418.4 2103.6,1419.1 2105.6,1419.8 2107.6,1420.7 2109.6,1421.6 2111.6,1422.6 2113.6,1423.7 2115.6,1424.9 2117.6,1426.1 2119.6,1427.4 2121.6,1428.7 2123.6,1430 2125.6,1431.3 2127.6,1432.7 2129.6,1434 2131.6,1435.4 2133.6,1436.7 2135.6,1438 2137.6,1439.3 2139.6,1440.5 2141.6,1441.7 2143.6,1442.9 2145.6,1444 2147.6,1445.1 2149.6,1446.1 2151.6,1447 2153.6,1447.9 2155.6,1448.7 2157.6,1449.5 2159.6,1450.2 2161.6,1450.9 2163.6,1451.5 2165.6,1452.1 2167.6,1452.6 2169.6,1453.1 2171.6,1453.5 2173.6,1453.9 2175.6,1454.2 2177.6,1454.5 2179.6,1454.8 2181.6,1455.1 2183.6,1455.3 2185.6,1455.5 2187.6,1455.6 2189.6,1455.8 2191.6,1455.9 2193.6,1456 2195.6,1456.1 2197.6,1456.2 2199.6,1456.3 2201.6,1456.4 2203.6,1456.4 2205.6,1456.5 2207.6,1456.5 2209.6,1456.5 2211.6,1456.6 2213.6,1456.6 2215.6,1456.6 2217.6,1456.6 2219.6,1456.6 2221.6,1456.6 2223.6,1456.7 2225.6,1456.7 2227.6,1456.7 2229.6,1456.7 2231.6,1456.7 2233.6,1456.7 2235.6,1456.7 2237.6,1456.7 2239.6,1456.7 2241.6,1456.7 2243.6,1456.7 2245.6,1456.7 2247.6,1456.7 2249.6,1456.7 2251.6,1456.7 2253.6,1456.7 2255.6,1456.7 2257.6,1456.7 2259.6,1456.7 2261.6,1456.7 2263.6,1456.7 2265.6,1456.7 2267.6,1456.7 2269.6,1456.7 2271.6,1456.7 2273.6,1456.7 2275.6,1456.7 2277.6,1456.7 2279.6,1456.7 2281.6,1456.7 2283.6,1456.7 2285.6,1456.7 2287.6,1456.7 2289.6,1456.7 2291.6,1456.7 2293.6,1456.7 2295.6,1456.7 2297.6,1456.7 2299.6,1456.7 2301.6,1456.7 2303.6,1456.7 2305.6,1456.7 2307.6,1456.7 2309.6,1456.7 2311.6,1456.7 2313.6,1456.7 2315.6,1456.7 2317.6,1456.7 2319.6,1456.7 2321.6,1456.7 2323.6,1456.7 2325.6,1456.7 2327.6,1456.7 2329.6,1456.7 2331.6,1456.7 2333.6,1456.7 2335.6,1456.7 2337.6,1456.7 2339.6,1456.7 2341.6,1456.7 2343.6,1456.7 2345.6,1456.7 2347.6,1456.7 2349.6,1456.7 2351.6,1456.7 2353.6,1456.7 2355.6,1456.7 2357.6,1456.7 2359.6,1456.7 2361.6,1456.7 2363.6,1456.7 2365.6,1456.7 2367.6,1456.7 2369.6,1456.7 2371.6,1456.7 2373.6,1456.7 2375.6,1456.7 2377.6,1456.7 2379.6,1456.7 2381.6,1456.7 2383.6,1456.7 2385.6,1456.7 2387.6,1456.7 2389.6,1456.7" fill="none" stroke="#00ff00" stroke-width="4.0" stroke-linejoin="round" stroke-linecap="butt"/>
<polyline points="1717.6,1456.7 1719.6,1456.7 1721.6,1456.7 1723.6,1456.7 1725.6,1456.7 1727.6,1456.7 1729.6,1456.7 1731.6,1456.7 1733.6,1456.7 1735.6,1456.7 1737.6,1456.7 1739.6,1456.7 1741.6,1456.7 1743.6,1456.7 1745.6,1456.7 1747.6,1456.7 1749.6,1456.7 1751.6,1456.7 1753.6,1456.7 1755.6,1456.7 1757.6,1456.7 1759.6,1456.7 1761.6,1456.6 1763.6,1456.6 1765.6,1456.6 1767.6,1456.6 1769.6,1456.6 1771.6,1456.6 1773.6,1456.6 1775.6,1456.6 1777.6,1456.6 1779.6,1456.6 1781.6,1456.6 1783.6,1456.6 1785.6,1456.6 1787.6,1456.6 1789.6,1456.6 1791.6,1456.6 1793.6,1456.6 1795.6,1456.6 1797.6,1456.6 1799.6,1456.6 1801.6,1456.6 1803.6,1456.6 1805.6,1456.6 1807.6,1456.6 1809.6,1456.6 1811.6,1456.6 1813.6,1456.6 1815.6,1456.6 1817.6,1456.6 1819.6,1456.6 1821.6,1456.6 1823.6,1456.6 1825.6,1456.6 1827.6,1456.6 1829.6,1456.6 1831.6,1456.6 1833.6,1456.6 1835.6,1456.6 1837.6,1456.6 1839.6,1456.6 1841.6,1456.6 1843.6,1456.6 1845.6,1456.6 1847.6,1456.6 1849.6,1456.6 1851.6,1456.6 1853.6,1456.6 1855.6,1456.6 1857.6,1456.6 1859.6,1456.6 1861.6,1456.6 1863.6,1456.6 1865.6,1456.6 1867.6,1456.6 1869.6,1456.6 1871.6,1456.6 1873.6,1456.6 1875.6,1456.6 1877.6,1456.6 1879.6,1456.6 1881.6,1456.6 1883.6,1456.6 1885.6,1456.6 1887.6,1456.6 1889.6,1456.6 1891.6,1456.6 1893.6,1456.6 1895.6,1456.6 1897.6,1456.6 1899.6,1456.6 1901.6,1456.6 1903.6,1456.6 1905.6,1456.6 1907.6,1456.6 1909.6,1456.6 1911.6,1456.6 1913.6,1456.6 1915.6,1456.6 1917.6,1456.6 1919.6,1456.6 1921.6,1456.6 1923.6,1456.6 1925.6,1456.6 1927.6,1456.6 1929.6,1456.6 1931.6,1456.6 1933.6,1456.6 1935.6,1456.6 1937.6,1456.5 1939.6,1456.5 1941.6,1456.5 1943.6,1456.5 1945.6,1456.5 1947.6,1456.5 1949.6,1456.5 1951.6,1456.5 1953.6,1456.5 1955.6,1456.5 1957.6,1456.5 1959.6,1456.5 1961.6,1456.5 1963.6,1456.5 1965.6,1456.5 1967.6,1456.5 1969.6,1456.5 1971.6,1456.5 1973.6,1456.5 1975.6,1456.5 1977.6,1456.5 1979.6,1456.5 1981.6,1456.5 1983.6,1456.5 1985.6,1456.5 1987.6,1456.5 1989.6,1456.4 1991.6,1456.4 1993.6,1456.4 1995.6,1456.4 1997.6,1456.4 1999.6,1456.4 2001.6,1456.4 2003.6,1456.4 2005.6,1456.4 2007.6,1456.4 2009.6,1456.4 2011.6,1456.3 2013.6,1456.3 2015.6,1456.3 2017.6,1456.3 2019.6,1456.3 2021.6,1456.3 2023.6,1456.2 2025.6,1456.2 2027.6,1456.2 2029.6,1456.1 2031.6,1456.1 2033.6,1456.1 2035.6,1456 2037.6,1456 2039.6,1456 2041.6,1455.9 2043.6,1455.9 2045.6,1455.8 2047.6,1455.7 2049.6,1455.7 2051.6,1455.6 2053.6,1455.5 2055.6,1455.4 2057.6,1455.4 2059.6,1455.3 2061.6,1455.1 2063.6,1455 2065.6,1454.9 2067.6,1454.8 2069.6,1454.7 2071.6,1454.5 2073.6,1454.4 2075.6,1454.2 2077.6,1454 2079.6,1453.8 2081.6,1453.6 2083.6,1453.4 2085.6,1453.2 2087.6,1453 2089.6,1452.8 2091.6,1452.5 2093.6,1452.3 2095.6,1452 2097.6,1451.7 2099.6,1451.5 2101.6,1451.2 2103.6,1450.9 2105.6,1450.6 2107.6,1450.2 2109.6,1449.9 2111.6,1449.6 2113.6,1449.3 2115.6,1448.9 2117.6,1448.6 2119.6,1448.2 2121.6,1447.9 2123.6,1447.6 2125.6,1447.2 2127.6,1446.9 2129.6,1446.5 2131.6,1446.2 2133.6,1445.9 2135.6,1445.6 2137.6,1445.3 2139.6,1445 2141.6,1444.7 2143.6,1444.5 2145.6,1444.2 2147.6,1444 2149.6,1443.8 2151.6,1443.6 2153.6,1443.4 2155.6,1443.3 2157.6,1443.2 2159.6,1443.1 2161.6,1443 2163.6,1443 2165.6,1443 2167.6,1443 2169.6,1443.1 2171.6,1443.1 2173.6,1443.2 2175.6,1443.4 2177.6,1443.5 2179.6,1443.7 2181.6,1443.9 2183.6,1444.1 2185.6,1444.4 2187.6,1444.6 2189.6,1444.9 2191.6,1445.2 2193.6,1445.5 2195.6,1445.8 2197.6,1446.1 2199.6,1446.4 2201.6,1446.7 2203.6,1447.1 2205.6,1447.4 2207.6,1447.8 2209.6,1448.1 2211.6,1448.4 2213.6,1448.8 2215.6,1449.1 2217.6,1449.5 2219.6,1449.8 2221.6,1450.1 2223.6,1450.4 2225.6,1450.7 2227.6,1451 2229.6,1451.3 2231.6,1451.6 2233.6,1451.9 2235.6,1452.2 2237.6,1452.4 2239.6,1452.7 2241.6,1452.9 2243.6,1453.1 2245.6,1453.4 2247.6,1453.6 2249.6,1453.8 2251.6,1453.9 2253.6,1454.1 2255.6,1454.3 2257.6,1454.4 2259.6,1454.6 2261.6,1454.7 2263.6,1454.9 2265.6,1455 2267.6,1455.1 2269.6,1455.2 2271.6,1455.3 2273.6,1455.4 2275.6,1455.5 2277.6,1455.6 2279.6,1455.6 2281.6,1455.7 2283.6,1455.8 2285.6,1455.8 2287.6,1455.9 2289.6,1455.9 2291.6,1456 2293.6,1456 2295.6,1456.1 2297.6,1456.1 2299.6,1456.1 2301.6,1456.2 2303.6,1456.2 2305.6,1456.2 2307.6,1456.2 2309.6,1456.3 2311.6,1456.3 2313.6,1456.3 2315.6,1456.3 2317.6,1456.3 2319.6,1456.3 2321.6,1456.4 2323.6,1456.4 2325.6,1456.4 2327.6,1456.4 2329.6,1456.4 2331.6,1456.4 2333.6,1456.4 2335.6,1456.4 2337.6,1456.4 2339.6,1456.4 2341.6,1456.4 2343.6,1456.5 2345.6,1456.5 2347.6,1456.5 2349.6,1456.5 2351.6,1456.5 2353.6,1456.5 2355.6,1456.5 2357.6,1456.5 2359.6,1456.5 2361.6,1456.5 2363.6,1456.5 2365.6,1456.5 2367.6,1456.5 2369.6,1456.5 2371.6,1456.5 2373.6,1456.5 2375.6,1456.5 2377.6,1456.5 2379.6,1456.5 2381.6,1456.5 2383.6,1456.5 2385.6,1456.5 2387.6,1456.5 2389.6,1456.5" fill="none" stroke="#ff0000" stroke-width="4.0" stroke-linejoin="round" stroke-linecap="butt"/>
<polyline points="1717.6,1455.1 1719.6,1455.1 1721.6,1455 1723.6,1455 1725.6,1455 1727.6,1454.9 1729.6,1454.9 1731.6,1454.8 1733.6,1454.8 1735.6,1454.7 1737.6,1454.7 1739.6,1454.6 1741.6,1454.5 1743.6,1454.5 1745.6,1454.4 1747.6,1454.3 1749.6,1454.2 1751.6,1454.1 1753.6,1454 1755.6,1453.9 1757.6,1453.8 1759.6,1453.6 1761.6,1453.5 1763.6,1453.3 1765.6,1453.1 1767.6,1452.9 1769.6,1452.7 1771.6,1452.5 1773.6,1452.3 1775.6,1452 1777.6,1451.7 1779.6,1451.4 1781.6,1451.1 1783.6,1450.7 1785.6,1450.3 1787.6,1449.9 1789.6,1449.5 1791.6,1449 1793.6,1448.5 1795.6,1447.9 1797.6,1447.3 1799.6,1446.7 1801.6,1446 1803.6,1445.2 1805.6,1444.4 1807.6,1443.6 1809.6,1442.7 1811.6,1441.7 1813.6,1440.7 1815.6,1439.6 1817.6,1438.4 1819.6,1437.2 1821.6,1435.9 1823.6,1434.5 1825.6,1433.1 1827.6,1431.5 1829.6,1429.9 1831.6,1428.2 1833.6,1426.4 1835.6,1424.5 1837.6,1422.5 1839.6,1420.4 1841.6,1418.3 1843.6,1416 1845.6,1413.7 1847.6,1411.2 1849.6,1408.7 1851.6,1406 1853.6,1403.3 1855.6,1400.5 1857.6,1397.6 1859.6,1394.6 1861.6,1391.5 1863.6,1388.3 1865.6,1385.1 1867.6,1381.7 1869.6,1378.3 1871.6,1374.9 1873.6,1371.3 1875.6,1367.7 1877.6,1364.1 1879.6,1360.4 1881.6,1356.7 1883.6,1353 1885.6,1349.2 1887.6,1345.4 1889.6,1341.6 1891.6,1337.9 1893.6,1334.1 1895.6,1330.4 1897.6,1326.6 1899.6,1323 1901.6,1319.4 1903.6,1315.8 1905.6,1312.4 1907.6,1309 1909.6,1305.7 1911.6,1302.6 1913.6,1299.5 1915.6,1296.6 1917.6,1293.8 1919.6,1291.2 1921.6,1288.8 1923.6,1286.5 1925.6,1284.4 1927.6,1282.5 1929.6,1280.8 1931.6,1279.3 1933.6,1278 1935.6,1276.9 1937.6,1276 1939.6,1275.4 1941.6,1275 1943.6,1274.8 1945.6,1274.9 1947.6,1275.2 1949.6,1275.7 1951.6,1276.5 1953.6,1277.5 1955.6,1278.7 1957.6,1280.1 1959.6,1281.7 1961.6,1283.5 1963.6,1285.5 1965.6,1287.7 1967.6,1290.1 1969.6,1292.6 1971.6,1295.3 1973.6,1298.1 1975.6,1301.1 1977.6,1304.1 1979.6,1307.3 1981.6,1310.6 1983.6,1314 1985.6,1317.4 1987.6,1320.9 1989.6,1324.4 1991.6,1328 1993.6,1331.6 1995.6,1335.2 1997.6,1338.8 1999.6,1342.4 2001.6,1345.9 2003.6,1349.5 2005.6,1352.9 2007.6,1356.4 2009.6,1359.7 2011.6,1363 2013.6,1366.2 2015.6,1369.2 2017.6,1372.2 2019.6,1375.1 2021.6,1377.8 2023.6,1380.4 2025.6,1382.9 2027.6,1385.3 2029.6,1387.5 2031.6,1389.5 2033.6,1391.4 2035.6,1393.2 2037.6,1394.8 2039.6,1396.2 2041.6,1397.5 2043.6,1398.7 2045.6,1399.7 2047.6,1400.5 2049.6,1401.3 2051.6,1401.9 2053.6,1402.4 2055.6,1402.8 2057.6,1403.1 2059.6,1403.3 2061.6,1403.5 2063.6,1403.5 2065.6,1403.5 2067.6,1403.5 2069.6,1403.4 2071.6,1403.4 2073.6,1403.3 2075.6,1403.2 2077.6,1403.1 2079.6,1403.1 2081.6,1403.1 2083.6,1403.1 2085.6,1403.2 2087.6,1403.4 2089.6,1403.6 2091.6,1403.9 2093.6,1404.2 2095.6,1404.7 2097.6,1405.2 2099.6,1405.8 2101.6,1406.4 2103.6,1407.2 2105.6,1408 2107.6,1408.8 2109.6,1409.8 2111.6,1410.8 2113.6,1411.8 2115.6,1412.9 2117.6,1414 2119.6,1415.1 2121.6,1416.3 2123.6,1417.4 2125.6,1418.6 2127.6,1419.8 2129.6,1420.9 2131.6,1422.1 2133.6,1423.2 2135.6,1424.3 2137.6,1425.4 2139.6,1426.4 2141.6,1427.4 2143.6,1428.4 2145.6,1429.4 2147.6,1430.3 2149.6,1431.1 2151.6,1431.9 2153.6,1432.7 2155.6,1433.5 2157.6,1434.2 2159.6,1434.9 2161.6,1435.5 2163.6,1436.2 2165.6,1436.7 2167.6,1437.3 2169.6,1437.9 2171.6,1438.4 2173.6,1438.9 2175.6,1439.4 2177.6,1439.9 2179.6,1440.4 2181.6,1440.9 2183.6,1441.3 2185.6,1441.8 2187.6,1442.2 2189.6,1442.7 2191.6,1443.1 2193.6,1443.6 2195.6,1444 2197.6,1444.4 2199.6,1444.8 2201.6,1445.2 2203.6,1445.6 2205.6,1446 2207.6,1446.4 2209.6,1446.8 2211.6,1447.2 2213.6,1447.6 2215.6,1448 2217.6,1448.3 2219.6,1448.7 2221.6,1449 2223.6,1449.4 2225.6,1449.7 2227.6,1450 2229.6,1450.4 2231.6,1450.7 2233.6,1451 2235.6,1451.2 2237.6,1451.5 2239.6,1451.8 2241.6,1452 2243.6,1452.3 2245.6,1452.5 2247.6,1452.7 2249.6,1452.9 2251.6,1453.1 2253.6,1453.3 2255.6,1453.5 2257.6,1453.6 2259.6,1453.8 2261.6,1454 2263.6,1454.1 2265.6,1454.2 2267.6,1454.4 2269.6,1454.5 2271.6,1454.6 2273.6,1454.7 2275.6,1454.8 2277.6,1454.9 2279.6,1454.9 2281.6,1455 2283.6,1455.1 2285.6,1455.2 2287.6,1455.2 2289.6,1455.3 2291.6,1455.3 2293.6,1455.4 2295.6,1455.4 2297.6,1455.5 2299.6,1455.5 2301.6,1455.5 2303.6,1455.6 2305.6,1455.6 2307.6,1455.6 2309.6,1455.7 2311.6,1455.7 2313.6,1455.7 2315.6,1455.7 2317.6,1455.8 2319.6,1455.8 2321.6,1455.8 2323.6,1455.8 2325.6,1455.8 2327.6,1455.9 2329.6,1455.9 2331.6,1455.9 2333.6,1455.9 2335.6,1455.9 2337.6,1455.9 2339.6,1455.9 2341.6,1455.9 2343.6,1456 2345.6,1456 2347.6,1456 2349.6,1456 2351.6,1456 2353.6,1456 2355.6,1456 2357.6,1456 2359.6,1456 2361.6,1456 2363.6,1456 2365.6,1456.1 2367.6,1456.1 2369.6,1456.1 2371.6,1456.1 2373.6,1456.1 2375.6,1456.1 2377.6,1456.1 2379.6,1456.1 2381.6,1456.1 2383.6,1456.1 2385.6,1456.1 2387.6,1456.1 2389.6,1456.1" fill="none" stroke="#000" stroke-width="3.8" stroke-linejoin="round" stroke-linecap="butt"/>
<polyline points="1717.6,1455.1 1719.6,1455.1 1721.6,1455 1723.6,1455 1725.6,1455 1727.6,1454.9 1729.6,1454.9 1731.6,1454.8 1733.6,1454.8 1735.6,1454.7 1737.6,1454.7 1739.6,1454.6 1741.6,1454.5 1743.6,1454.5 1745.6,1454.4 1747.6,1454.3 1749.6,1454.2 1751.6,1454.1 1753.6,1454 1755.6,1453.9 1757.6,1453.8 1759.6,1453.6 1761.6,1453.5 1763.6,1453.3 1765.6,1453.1 1767.6,1452.9 1769.6,1452.7 1771.6,1452.5 1773.6,1452.3 1775.6,1452 1777.6,1451.7 1779.6,1451.4 1781.6,1451.1 1783.6,1450.7 1785.6,1450.3 1787.6,1449.9 1789.6,1449.5 1791.6,1449 1793.6,1448.5 1795.6,1447.9 1797.6,1447.3 1799.6,1446.7 1801.6,1446 1803.6,1445.2 1805.6,1444.4 1807.6,1443.6 1809.6,1442.7 1811.6,1441.7 1813.6,1440.7 1815.6,1439.6 1817.6,1438.4 1819.6,1437.2 1821.6,1435.9 1823.6,1434.5 1825.6,1433.1 1827.6,1431.5 1829.6,1429.9 1831.6,1428.2 1833.6,1426.4 1835.6,1424.5 1837.6,1422.5 1839.6,1420.4 1841.6,1418.3 1843.6,1416 1845.6,1413.7 1847.6,1411.2 1849.6,1408.7 1851.6,1406 1853.6,1403.3 1855.6,1400.5 1857.6,1397.6 1859.6,1394.6 1861.6,1391.5 1863.6,1388.3 1865.6,1385.1 1867.6,1381.7 1869.6,1378.3 1871.6,1374.9 1873.6,1371.3 1875.6,1367.7 1877.6,1364.1 1879.6,1360.4 1881.6,1356.7 1883.6,1353 1885.6,1349.2 1887.6,1345.4 1889.6,1341.6 1891.6,1337.9 1893.6,1334.1 1895.6,1330.4 1897.6,1326.6 1899.6,1323 1901.6,1319.4 1903.6,1315.8 1905.6,1312.4 1907.6,1309 1909.6,1305.7 1911.6,1302.6 1913.6,1299.5 1915.6,1296.6 1917.6,1293.8 1919.6,1291.2 1921.6,1288.8 1923.6,1286.5 1925.6,1284.4 1927.6,1282.5 1929.6,1280.8 1931.6,1279.3 1933.6,1278 1935.6,1276.9 1937.6,1276 1939.6,1275.4 1941.6,1275 1943.6,1274.8 1945.6,1274.9 1947.6,1275.2 1949.6,1275.7 1951.6,1276.5 1953.6,1277.5 1955.6,1278.7 1957.6,1280.1 1959.6,1281.7 1961.6,1283.5 1963.6,1285.5 1965.6,1287.7 1967.6,1290.1 1969.6,1292.6 1971.6,1295.3 1973.6,1298.1 1975.6,1301.1 1977.6,1304.1 1979.6,1307.3 1981.6,1310.6 1983.6,1314 1985.6,1317.4 1987.6,1320.9 1989.6,1324.4 1991.6,1328 1993.6,1331.6 1995.6,1335.2 1997.6,1338.8 1999.6,1342.4 2001.6,1345.9 2003.6,1349.5 2005.6,1352.9 2007.6,1356.4 2009.6,1359.7 2011.6,1363 2013.6,1366.2 2015.6,1369.2 2017.6,1372.2 2019.6,1375.1 2021.6,1377.8 2023.6,1380.4 2025.6,1382.9 2027.6,1385.3 2029.6,1387.5 2031.6,1389.5 2033.6,1391.4 2035.6,1393.2 2037.6,1394.8 2039.6,1396.2 2041.6,1397.5 2043.6,1398.7 2045.6,1399.7 2047.6,1400.5 2049.6,1401.3 2051.6,1401.9 2053.6,1402.4 2055.6,1402.8 2057.6,1403.1 2059.6,1403.3 2061.6,1403.5 2063.6,1403.5 2065.6,1403.5 2067.6,1403.5 2069.6,1403.4 2071.6,1403.4 2073.6,1403.3 2075.6,1403.2 2077.6,1403.1 2079.6,1403.1 2081.6,1403.1 2083.6,1403.1 2085.6,1403.2 2087.6,1403.4 2089.6,1403.6 2091.6,1403.9 2093.6,1404.2 2095.6,1404.7 2097.6,1405.2 2099.6,1405.8 2101.6,1406.4 2103.6,1407.2 2105.6,1408 2107.6,1408.8 2109.6,1409.8 2111.6,1410.8 2113.6,1411.8 2115.6,1412.9 2117.6,1414 2119.6,1415.1 2121.6,1416.3 2123.6,1417.4 2125.6,1418.6 2127.6,1419.8 2129.6,1420.9 2131.6,1422.1 2133.6,1423.2 2135.6,1424.3 2137.6,1425.4 2139.6,1426.4 2141.6,1427.4 2143.6,1428.4 2145.6,1429.4 2147.6,1430.3 2149.6,1431.1 2151.6,1431.9 2153.6,1432.7 2155.6,1433.5 2157.6,1434.2 2159.6,1434.9 2161.6,1435.5 2163.6,1436.2 2165.6,1436.7 2167.6,1437.3 2169.6,1437.9 2171.6,1438.4 2173.6,1438.9 2175.6,1439.4 2177.6,1439.9 2179.6,1440.4 2181.6,1440.9 2183.6,1441.3 2185.6,1441.8 2187.6,1442.2 2189.6,1442.7 2191.6,1443.1 2193.6,1443.6 2195.6,1444 2197.6,1444.4 2199.6,1444.8 2201.6,1445.2 2203.6,1445.6 2205.6,1446 2207.6,1446.4 2209.6,1446.8 2211.6,1447.2 2213.6,1447.6 2215.6,1448 2217.6,1448.3 2219.6,1448.7 2221.6,1449 2223.6,1449.4 2225.6,1449.7 2227.6,1450 2229.6,1450.4 2231.6,1450.7 2233.6,1451 2235.6,1451.2 2237.6,1451.5 2239.6,1451.8 2241.6,1452 2243.6,1452.3 2245.6,1452.5 2247.6,1452.7 2249.6,1452.9 2251.6,1453.1 2253.6,1453.3 2255.6,1453.5 2257.6,1453.6 2259.6,1453.8 2261.6,1454 2263.6,1454.1 2265.6,1454.2 2267.6,1454.4 2269.6,1454.5 2271.6,1454.6 2273.6,1454.7 2275.6,1454.8 2277.6,1454.9 2279.6,1454.9 2281.6,1455 2283.6,1455.1 2285.6,1455.2 2287.6,1455.2 2289.6,1455.3 2291.6,1455.3 2293.6,1455.4 2295.6,1455.4 2297.6,1455.5 2299.6,1455.5 2301.6,1455.5 2303.6,1455.6 2305.6,1455.6 2307.6,1455.6 2309.6,1455.7 2311.6,1455.7 2313.6,1455.7 2315.6,1455.7 2317.6,1455.8 2319.6,1455.8 2321.6,1455.8 2323.6,1455.8 2325.6,1455.8 2327.6,1455.9 2329.6,1455.9 2331.6,1455.9 2333.6,1455.9 2335.6,1455.9 2337.6,1455.9 2339.6,1455.9 2341.6,1455.9 2343.6,1456 2345.6,1456 2347.6,1456 2349.6,1456 2351.6,1456 2353.6,1456 2355.6,1456 2357.6,1456 2359.6,1456 2361.6,1456 2363.6,1456 2365.6,1456.1 2367.6,1456.1 2369.6,1456.1 2371.6,1456.1 2373.6,1456.1 2375.6,1456.1 2377.6,1456.1 2379.6,1456.1 2381.6,1456.1 2383.6,1456.1 2385.6,1456.1 2387.6,1456.1 2389.6,1456.1" fill="none" stroke="#ffff50" stroke-width="3.6" stroke-linejoin="round" stroke-linecap="butt" stroke-dasharray="3 3"/>
<text x="1896.5" y="1407.8" font-size="34" fill="#0000ff">83.10 %</text>
<text x="2076" y="1392.7" font-size="34" fill="#00ff00">11.74 %</text>
<text x="2190.5" y="1437.5" font-size="34" fill="#ff0000">5.15 %</text>
<line x1="1717.6" y1="1727.3" x2="2390.2" y2="1727.3" stroke="#111" stroke-width="2.4"/>
<polyline points="1717.6,1721.6 1719.6,1721.3 1721.6,1721 1723.6,1720.6 1725.6,1720.2 1727.6,1719.8 1729.6,1719.4 1731.6,1718.9 1733.6,1718.3 1735.6,1717.8 1737.6,1717.1 1739.6,1716.5 1741.6,1715.7 1743.6,1714.9 1745.6,1714.1 1747.6,1713.2 1749.6,1712.2 1751.6,1711.1 1753.6,1710 1755.6,1708.8 1757.6,1707.5 1759.6,1706.1 1761.6,1704.6 1763.6,1703.1 1765.6,1701.4 1767.6,1699.6 1769.6,1697.8 1771.6,1695.8 1773.6,1693.7 1775.6,1691.5 1777.6,1689.2 1779.6,1686.7 1781.6,1684.2 1783.6,1681.5 1785.6,1678.7 1787.6,1675.8 1789.6,1672.7 1791.6,1669.5 1793.6,1666.3 1795.6,1662.8 1797.6,1659.3 1799.6,1655.7 1801.6,1651.9 1803.6,1648.1 1805.6,1644.1 1807.6,1640 1809.6,1635.9 1811.6,1631.7 1813.6,1627.4 1815.6,1623 1817.6,1618.6 1819.6,1614.1 1821.6,1609.6 1823.6,1605 1825.6,1600.5 1827.6,1595.9 1829.6,1591.4 1831.6,1586.8 1833.6,1582.3 1835.6,1577.9 1837.6,1573.5 1839.6,1569.3 1841.6,1565.1 1843.6,1561 1845.6,1557 1847.6,1553.2 1849.6,1549.6 1851.6,1546.1 1853.6,1542.8 1855.6,1539.7 1857.6,1536.8 1859.6,1534.2 1861.6,1531.8 1863.6,1529.6 1865.6,1527.7 1867.6,1526.1 1869.6,1524.7 1871.6,1523.7 1873.6,1522.9 1875.6,1522.5 1877.6,1522.3 1879.6,1522.4 1881.6,1522.9 1883.6,1523.6 1885.6,1524.6 1887.6,1525.9 1889.6,1527.5 1891.6,1529.4 1893.6,1531.5 1895.6,1533.9 1897.6,1536.5 1899.6,1539.4 1901.6,1542.5 1903.6,1545.8 1905.6,1549.2 1907.6,1552.9 1909.6,1556.7 1911.6,1560.6 1913.6,1564.7 1915.6,1568.8 1917.6,1573.1 1919.6,1577.5 1921.6,1581.9 1923.6,1586.4 1925.6,1590.9 1927.6,1595.5 1929.6,1600 1931.6,1604.6 1933.6,1609.1 1935.6,1613.6 1937.6,1618.1 1939.6,1622.5 1941.6,1626.9 1943.6,1631.2 1945.6,1635.5 1947.6,1639.6 1949.6,1643.7 1951.6,1647.7 1953.6,1651.5 1955.6,1655.3 1957.6,1659 1959.6,1662.5 1961.6,1665.9 1963.6,1669.2 1965.6,1672.4 1967.6,1675.5 1969.6,1678.4 1971.6,1681.2 1973.6,1683.9 1975.6,1686.5 1977.6,1688.9 1979.6,1691.3 1981.6,1693.5 1983.6,1695.6 1985.6,1697.6 1987.6,1699.5 1989.6,1701.2 1991.6,1702.9 1993.6,1704.5 1995.6,1706 1997.6,1707.4 1999.6,1708.7 2001.6,1709.9 2003.6,1711 2005.6,1712.1 2007.6,1713.1 2009.6,1714 2011.6,1714.9 2013.6,1715.6 2015.6,1716.4 2017.6,1717.1 2019.6,1717.7 2021.6,1718.3 2023.6,1718.8 2025.6,1719.3 2027.6,1719.8 2029.6,1720.2 2031.6,1720.6 2033.6,1720.9 2035.6,1721.3 2037.6,1721.6 2039.6,1721.8 2041.6,1722.1 2043.6,1722.3 2045.6,1722.5 2047.6,1722.7 2049.6,1722.9 2051.6,1723.1 2053.6,1723.2 2055.6,1723.4 2057.6,1723.5 2059.6,1723.6 2061.6,1723.7 2063.6,1723.8 2065.6,1723.9 2067.6,1724 2069.6,1724.1 2071.6,1724.1 2073.6,1724.2 2075.6,1724.3 2077.6,1724.3 2079.6,1724.4 2081.6,1724.4 2083.6,1724.5 2085.6,1724.5 2087.6,1724.6 2089.6,1724.6 2091.6,1724.6 2093.6,1724.7 2095.6,1724.7 2097.6,1724.7 2099.6,1724.8 2101.6,1724.8 2103.6,1724.8 2105.6,1724.8 2107.6,1724.9 2109.6,1724.9 2111.6,1724.9 2113.6,1724.9 2115.6,1725 2117.6,1725 2119.6,1725 2121.6,1725 2123.6,1725.1 2125.6,1725.1 2127.6,1725.1 2129.6,1725.1 2131.6,1725.1 2133.6,1725.1 2135.6,1725.2 2137.6,1725.2 2139.6,1725.2 2141.6,1725.2 2143.6,1725.2 2145.6,1725.2 2147.6,1725.3 2149.6,1725.3 2151.6,1725.3 2153.6,1725.3 2155.6,1725.3 2157.6,1725.3 2159.6,1725.3 2161.6,1725.4 2163.6,1725.4 2165.6,1725.4 2167.6,1725.4 2169.6,1725.4 2171.6,1725.4 2173.6,1725.4 2175.6,1725.4 2177.6,1725.4 2179.6,1725.5 2181.6,1725.5 2183.6,1725.5 2185.6,1725.5 2187.6,1725.5 2189.6,1725.5 2191.6,1725.5 2193.6,1725.5 2195.6,1725.5 2197.6,1725.5 2199.6,1725.6 2201.6,1725.6 2203.6,1725.6 2205.6,1725.6 2207.6,1725.6 2209.6,1725.6 2211.6,1725.6 2213.6,1725.6 2215.6,1725.6 2217.6,1725.6 2219.6,1725.6 2221.6,1725.6 2223.6,1725.7 2225.6,1725.7 2227.6,1725.7 2229.6,1725.7 2231.6,1725.7 2233.6,1725.7 2235.6,1725.7 2237.6,1725.7 2239.6,1725.7 2241.6,1725.7 2243.6,1725.7 2245.6,1725.7 2247.6,1725.7 2249.6,1725.7 2251.6,1725.7 2253.6,1725.7 2255.6,1725.8 2257.6,1725.8 2259.6,1725.8 2261.6,1725.8 2263.6,1725.8 2265.6,1725.8 2267.6,1725.8 2269.6,1725.8 2271.6,1725.8 2273.6,1725.8 2275.6,1725.8 2277.6,1725.8 2279.6,1725.8 2281.6,1725.8 2283.6,1725.8 2285.6,1725.8 2287.6,1725.8 2289.6,1725.8 2291.6,1725.8 2293.6,1725.8 2295.6,1725.9 2297.6,1725.9 2299.6,1725.9 2301.6,1725.9 2303.6,1725.9 2305.6,1725.9 2307.6,1725.9 2309.6,1725.9 2311.6,1725.9 2313.6,1725.9 2315.6,1725.9 2317.6,1725.9 2319.6,1725.9 2321.6,1725.9 2323.6,1725.9 2325.6,1725.9 2327.6,1725.9 2329.6,1725.9 2331.6,1725.9 2333.6,1725.9 2335.6,1725.9 2337.6,1725.9 2339.6,1725.9 2341.6,1725.9 2343.6,1725.9 2345.6,1725.9 2347.6,1725.9 2349.6,1725.9 2351.6,1725.9 2353.6,1726 2355.6,1726 2357.6,1726 2359.6,1726 2361.6,1726 2363.6,1726 2365.6,1726 2367.6,1726 2369.6,1726 2371.6,1726 2373.6,1726 2375.6,1726 2377.6,1726 2379.6,1726 2381.6,1726 2383.6,1726 2385.6,1726 2387.6,1726 2389.6,1726" fill="none" stroke="#0000ff" stroke-width="4.0" stroke-linejoin="round" stroke-linecap="butt"/>
<polyline points="1717.6,1726.3 1719.6,1726.3 1721.6,1726.3 1723.6,1726.3 1725.6,1726.3 1727.6,1726.3 1729.6,1726.3 1731.6,1726.3 1733.6,1726.3 1735.6,1726.3 1737.6,1726.3 1739.6,1726.3 1741.6,1726.3 1743.6,1726.3 1745.6,1726.3 1747.6,1726.3 1749.6,1726.3 1751.6,1726.3 1753.6,1726.3 1755.6,1726.3 1757.6,1726.3 1759.6,1726.3 1761.6,1726.3 1763.6,1726.3 1765.6,1726.3 1767.6,1726.3 1769.6,1726.3 1771.6,1726.3 1773.6,1726.3 1775.6,1726.3 1777.6,1726.3 1779.6,1726.3 1781.6,1726.3 1783.6,1726.3 1785.6,1726.3 1787.6,1726.3 1789.6,1726.3 1791.6,1726.3 1793.6,1726.3 1795.6,1726.3 1797.6,1726.3 1799.6,1726.3 1801.6,1726.3 1803.6,1726.3 1805.6,1726.3 1807.6,1726.3 1809.6,1726.2 1811.6,1726.2 1813.6,1726.2 1815.6,1726.2 1817.6,1726.2 1819.6,1726.2 1821.6,1726.2 1823.6,1726.2 1825.6,1726.2 1827.6,1726.1 1829.6,1726.1 1831.6,1726.1 1833.6,1726.1 1835.6,1726 1837.6,1726 1839.6,1726 1841.6,1725.9 1843.6,1725.9 1845.6,1725.8 1847.6,1725.8 1849.6,1725.7 1851.6,1725.6 1853.6,1725.5 1855.6,1725.5 1857.6,1725.4 1859.6,1725.3 1861.6,1725.2 1863.6,1725.1 1865.6,1724.9 1867.6,1724.8 1869.6,1724.6 1871.6,1724.5 1873.6,1724.3 1875.6,1724.1 1877.6,1723.9 1879.6,1723.7 1881.6,1723.5 1883.6,1723.2 1885.6,1723 1887.6,1722.7 1889.6,1722.4 1891.6,1722.1 1893.6,1721.8 1895.6,1721.4 1897.6,1721.1 1899.6,1720.7 1901.6,1720.3 1903.6,1719.9 1905.6,1719.4 1907.6,1719 1909.6,1718.5 1911.6,1718 1913.6,1717.5 1915.6,1717 1917.6,1716.5 1919.6,1715.9 1921.6,1715.3 1923.6,1714.7 1925.6,1714.2 1927.6,1713.5 1929.6,1712.9 1931.6,1712.3 1933.6,1711.7 1935.6,1711 1937.6,1710.4 1939.6,1709.7 1941.6,1709.1 1943.6,1708.5 1945.6,1707.8 1947.6,1707.2 1949.6,1706.6 1951.6,1706 1953.6,1705.4 1955.6,1704.8 1957.6,1704.2 1959.6,1703.7 1961.6,1703.2 1963.6,1702.7 1965.6,1702.2 1967.6,1701.8 1969.6,1701.4 1971.6,1701 1973.6,1700.7 1975.6,1700.4 1977.6,1700.1 1979.6,1699.9 1981.6,1699.7 1983.6,1699.5 1985.6,1699.4 1987.6,1699.3 1989.6,1699.3 1991.6,1699.3 1993.6,1699.4 1995.6,1699.5 1997.6,1699.6 1999.6,1699.8 2001.6,1700 2003.6,1700.2 2005.6,1700.5 2007.6,1700.9 2009.6,1701.2 2011.6,1701.6 2013.6,1702 2015.6,1702.5 2017.6,1703 2019.6,1703.5 2021.6,1704 2023.6,1704.6 2025.6,1705.1 2027.6,1705.7 2029.6,1706.3 2031.6,1707 2033.6,1707.6 2035.6,1708.2 2037.6,1708.8 2039.6,1709.5 2041.6,1710.1 2043.6,1710.8 2045.6,1711.4 2047.6,1712 2049.6,1712.7 2051.6,1713.3 2053.6,1713.9 2055.6,1714.5 2057.6,1715.1 2059.6,1715.7 2061.6,1716.2 2063.6,1716.8 2065.6,1717.3 2067.6,1717.8 2069.6,1718.3 2071.6,1718.8 2073.6,1719.3 2075.6,1719.7 2077.6,1720.1 2079.6,1720.5 2081.6,1720.9 2083.6,1721.3 2085.6,1721.7 2087.6,1722 2089.6,1722.3 2091.6,1722.6 2093.6,1722.9 2095.6,1723.1 2097.6,1723.4 2099.6,1723.6 2101.6,1723.8 2103.6,1724 2105.6,1724.2 2107.6,1724.4 2109.6,1724.6 2111.6,1724.7 2113.6,1724.9 2115.6,1725 2117.6,1725.1 2119.6,1725.2 2121.6,1725.3 2123.6,1725.4 2125.6,1725.5 2127.6,1725.6 2129.6,1725.7 2131.6,1725.7 2133.6,1725.8 2135.6,1725.8 2137.6,1725.9 2139.6,1725.9 2141.6,1726 2143.6,1726 2145.6,1726 2147.6,1726.1 2149.6,1726.1 2151.6,1726.1 2153.6,1726.1 2155.6,1726.2 2157.6,1726.2 2159.6,1726.2 2161.6,1726.2 2163.6,1726.2 2165.6,1726.2 2167.6,1726.2 2169.6,1726.2 2171.6,1726.3 2173.6,1726.3 2175.6,1726.3 2177.6,1726.3 2179.6,1726.3 2181.6,1726.3 2183.6,1726.3 2185.6,1726.3 2187.6,1726.3 2189.6,1726.3 2191.6,1726.3 2193.6,1726.3 2195.6,1726.3 2197.6,1726.3 2199.6,1726.3 2201.6,1726.3 2203.6,1726.3 2205.6,1726.3 2207.6,1726.3 2209.6,1726.3 2211.6,1726.3 2213.6,1726.3 2215.6,1726.3 2217.6,1726.3 2219.6,1726.3 2221.6,1726.3 2223.6,1726.3 2225.6,1726.3 2227.6,1726.3 2229.6,1726.3 2231.6,1726.3 2233.6,1726.3 2235.6,1726.3 2237.6,1726.3 2239.6,1726.3 2241.6,1726.3 2243.6,1726.3 2245.6,1726.3 2247.6,1726.3 2249.6,1726.3 2251.6,1726.3 2253.6,1726.3 2255.6,1726.3 2257.6,1726.3 2259.6,1726.3 2261.6,1726.3 2263.6,1726.3 2265.6,1726.3 2267.6,1726.3 2269.6,1726.3 2271.6,1726.3 2273.6,1726.3 2275.6,1726.3 2277.6,1726.3 2279.6,1726.3 2281.6,1726.3 2283.6,1726.3 2285.6,1726.3 2287.6,1726.3 2289.6,1726.3 2291.6,1726.3 2293.6,1726.3 2295.6,1726.3 2297.6,1726.3 2299.6,1726.3 2301.6,1726.3 2303.6,1726.3 2305.6,1726.3 2307.6,1726.3 2309.6,1726.3 2311.6,1726.3 2313.6,1726.3 2315.6,1726.3 2317.6,1726.3 2319.6,1726.3 2321.6,1726.3 2323.6,1726.3 2325.6,1726.3 2327.6,1726.3 2329.6,1726.3 2331.6,1726.3 2333.6,1726.3 2335.6,1726.3 2337.6,1726.3 2339.6,1726.3 2341.6,1726.3 2343.6,1726.3 2345.6,1726.3 2347.6,1726.3 2349.6,1726.3 2351.6,1726.3 2353.6,1726.3 2355.6,1726.3 2357.6,1726.3 2359.6,1726.3 2361.6,1726.3 2363.6,1726.3 2365.6,1726.3 2367.6,1726.3 2369.6,1726.3 2371.6,1726.3 2373.6,1726.3 2375.6,1726.3 2377.6,1726.3 2379.6,1726.3 2381.6,1726.3 2383.6,1726.3 2385.6,1726.3 2387.6,1726.3 2389.6,1726.3" fill="none" stroke="#00ff00" stroke-width="4.0" stroke-linejoin="round" stroke-linecap="butt"/>
<polyline points="1717.6,1726.1 1719.6,1726.1 1721.6,1726.1 1723.6,1726.1 1725.6,1726.1 1727.6,1726.1 1729.6,1726.1 1731.6,1726.1 1733.6,1726.1 1735.6,1726.1 1737.6,1726.1 1739.6,1726.1 1741.6,1726.1 1743.6,1726.1 1745.6,1726.1 1747.6,1726.1 1749.6,1726.1 1751.6,1726.1 1753.6,1726.1 1755.6,1726.1 1757.6,1726 1759.6,1726 1761.6,1726 1763.6,1726 1765.6,1726 1767.6,1726 1769.6,1726 1771.6,1726 1773.6,1726 1775.6,1726 1777.6,1726 1779.6,1726 1781.6,1726 1783.6,1726 1785.6,1726 1787.6,1726 1789.6,1726 1791.6,1726 1793.6,1726 1795.6,1726 1797.6,1725.9 1799.6,1725.9 1801.6,1725.9 1803.6,1725.9 1805.6,1725.9 1807.6,1725.9 1809.6,1725.9 1811.6,1725.9 1813.6,1725.9 1815.6,1725.9 1817.6,1725.9 1819.6,1725.8 1821.6,1725.8 1823.6,1725.8 1825.6,1725.8 1827.6,1725.8 1829.6,1725.8 1831.6,1725.7 1833.6,1725.7 1835.6,1725.7 1837.6,1725.7 1839.6,1725.6 1841.6,1725.6 1843.6,1725.6 1845.6,1725.5 1847.6,1725.5 1849.6,1725.5 1851.6,1725.4 1853.6,1725.4 1855.6,1725.3 1857.6,1725.3 1859.6,1725.2 1861.6,1725.1 1863.6,1725.1 1865.6,1725 1867.6,1724.9 1869.6,1724.8 1871.6,1724.7 1873.6,1724.7 1875.6,1724.5 1877.6,1724.4 1879.6,1724.3 1881.6,1724.2 1883.6,1724.1 1885.6,1723.9 1887.6,1723.8 1889.6,1723.6 1891.6,1723.4 1893.6,1723.2 1895.6,1723 1897.6,1722.8 1899.6,1722.6 1901.6,1722.4 1903.6,1722.1 1905.6,1721.9 1907.6,1721.6 1909.6,1721.3 1911.6,1721 1913.6,1720.7 1915.6,1720.4 1917.6,1720 1919.6,1719.7 1921.6,1719.3 1923.6,1718.9 1925.6,1718.5 1927.6,1718 1929.6,1717.6 1931.6,1717.1 1933.6,1716.6 1935.6,1716.1 1937.6,1715.6 1939.6,1715 1941.6,1714.5 1943.6,1713.9 1945.6,1713.3 1947.6,1712.7 1949.6,1712.1 1951.6,1711.4 1953.6,1710.8 1955.6,1710.1 1957.6,1709.4 1959.6,1708.7 1961.6,1708 1963.6,1707.3 1965.6,1706.5 1967.6,1705.8 1969.6,1705 1971.6,1704.3 1973.6,1703.5 1975.6,1702.8 1977.6,1702 1979.6,1701.2 1981.6,1700.5 1983.6,1699.7 1985.6,1698.9 1987.6,1698.2 1989.6,1697.4 1991.6,1696.7 1993.6,1695.9 1995.6,1695.2 1997.6,1694.5 1999.6,1693.8 2001.6,1693.2 2003.6,1692.5 2005.6,1691.9 2007.6,1691.3 2009.6,1690.7 2011.6,1690.2 2013.6,1689.7 2015.6,1689.2 2017.6,1688.7 2019.6,1688.3 2021.6,1687.9 2023.6,1687.6 2025.6,1687.3 2027.6,1687 2029.6,1686.8 2031.6,1686.6 2033.6,1686.5 2035.6,1686.4 2037.6,1686.3 2039.6,1686.3 2041.6,1686.3 2043.6,1686.4 2045.6,1686.5 2047.6,1686.7 2049.6,1686.9 2051.6,1687.2 2053.6,1687.4 2055.6,1687.8 2057.6,1688.1 2059.6,1688.5 2061.6,1689 2063.6,1689.5 2065.6,1690 2067.6,1690.5 2069.6,1691.1 2071.6,1691.6 2073.6,1692.3 2075.6,1692.9 2077.6,1693.6 2079.6,1694.2 2081.6,1694.9 2083.6,1695.6 2085.6,1696.4 2087.6,1697.1 2089.6,1697.9 2091.6,1698.6 2093.6,1699.4 2095.6,1700.1 2097.6,1700.9 2099.6,1701.7 2101.6,1702.5 2103.6,1703.2 2105.6,1704 2107.6,1704.7 2109.6,1705.5 2111.6,1706.2 2113.6,1707 2115.6,1707.7 2117.6,1708.4 2119.6,1709.1 2121.6,1709.8 2123.6,1710.5 2125.6,1711.2 2127.6,1711.8 2129.6,1712.4 2131.6,1713.1 2133.6,1713.7 2135.6,1714.2 2137.6,1714.8 2139.6,1715.4 2141.6,1715.9 2143.6,1716.4 2145.6,1716.9 2147.6,1717.4 2149.6,1717.8 2151.6,1718.3 2153.6,1718.7 2155.6,1719.1 2157.6,1719.5 2159.6,1719.9 2161.6,1720.2 2163.6,1720.6 2165.6,1720.9 2167.6,1721.2 2169.6,1721.5 2171.6,1721.8 2173.6,1722 2175.6,1722.3 2177.6,1722.5 2179.6,1722.8 2181.6,1723 2183.6,1723.2 2185.6,1723.4 2187.6,1723.5 2189.6,1723.7 2191.6,1723.9 2193.6,1724 2195.6,1724.1 2197.6,1724.3 2199.6,1724.4 2201.6,1724.5 2203.6,1724.6 2205.6,1724.7 2207.6,1724.8 2209.6,1724.9 2211.6,1725 2213.6,1725 2215.6,1725.1 2217.6,1725.2 2219.6,1725.2 2221.6,1725.3 2223.6,1725.3 2225.6,1725.4 2227.6,1725.4 2229.6,1725.5 2231.6,1725.5 2233.6,1725.6 2235.6,1725.6 2237.6,1725.6 2239.6,1725.6 2241.6,1725.7 2243.6,1725.7 2245.6,1725.7 2247.6,1725.7 2249.6,1725.8 2251.6,1725.8 2253.6,1725.8 2255.6,1725.8 2257.6,1725.8 2259.6,1725.8 2261.6,1725.9 2263.6,1725.9 2265.6,1725.9 2267.6,1725.9 2269.6,1725.9 2271.6,1725.9 2273.6,1725.9 2275.6,1725.9 2277.6,1725.9 2279.6,1725.9 2281.6,1726 2283.6,1726 2285.6,1726 2287.6,1726 2289.6,1726 2291.6,1726 2293.6,1726 2295.6,1726 2297.6,1726 2299.6,1726 2301.6,1726 2303.6,1726 2305.6,1726 2307.6,1726 2309.6,1726 2311.6,1726 2313.6,1726 2315.6,1726 2317.6,1726 2319.6,1726 2321.6,1726.1 2323.6,1726.1 2325.6,1726.1 2327.6,1726.1 2329.6,1726.1 2331.6,1726.1 2333.6,1726.1 2335.6,1726.1 2337.6,1726.1 2339.6,1726.1 2341.6,1726.1 2343.6,1726.1 2345.6,1726.1 2347.6,1726.1 2349.6,1726.1 2351.6,1726.1 2353.6,1726.1 2355.6,1726.1 2357.6,1726.1 2359.6,1726.1 2361.6,1726.1 2363.6,1726.1 2365.6,1726.1 2367.6,1726.1 2369.6,1726.1 2371.6,1726.1 2373.6,1726.1 2375.6,1726.1 2377.6,1726.1 2379.6,1726.1 2381.6,1726.1 2383.6,1726.1 2385.6,1726.1 2387.6,1726.1 2389.6,1726.1" fill="none" stroke="#ff0000" stroke-width="4.0" stroke-linejoin="round" stroke-linecap="butt"/>
<polyline points="1717.6,1721.4 1719.6,1721.1 1721.6,1720.8 1723.6,1720.4 1725.6,1720 1727.6,1719.6 1729.6,1719.1 1731.6,1718.7 1733.6,1718.1 1735.6,1717.5 1737.6,1716.9 1739.6,1716.2 1741.6,1715.5 1743.6,1714.7 1745.6,1713.9 1747.6,1712.9 1749.6,1711.9 1751.6,1710.9 1753.6,1709.8 1755.6,1708.5 1757.6,1707.2 1759.6,1705.9 1761.6,1704.4 1763.6,1702.8 1765.6,1701.1 1767.6,1699.4 1769.6,1697.5 1771.6,1695.5 1773.6,1693.4 1775.6,1691.2 1777.6,1688.9 1779.6,1686.4 1781.6,1683.9 1783.6,1681.2 1785.6,1678.4 1787.6,1675.4 1789.6,1672.4 1791.6,1669.2 1793.6,1665.9 1795.6,1662.5 1797.6,1658.9 1799.6,1655.3 1801.6,1651.5 1803.6,1647.6 1805.6,1643.7 1807.6,1639.6 1809.6,1635.4 1811.6,1631.2 1813.6,1626.9 1815.6,1622.5 1817.6,1618 1819.6,1613.5 1821.6,1609 1823.6,1604.4 1825.6,1599.8 1827.6,1595.2 1829.6,1590.6 1831.6,1586.1 1833.6,1581.5 1835.6,1577 1837.6,1572.6 1839.6,1568.2 1841.6,1564 1843.6,1559.8 1845.6,1555.8 1847.6,1551.9 1849.6,1548.1 1851.6,1544.5 1853.6,1541.1 1855.6,1537.9 1857.6,1534.9 1859.6,1532.1 1861.6,1529.5 1863.6,1527.1 1865.6,1525 1867.6,1523.2 1869.6,1521.6 1871.6,1520.3 1873.6,1519.3 1875.6,1518.5 1877.6,1518.1 1879.6,1517.9 1881.6,1518 1883.6,1518.3 1885.6,1518.9 1887.6,1519.8 1889.6,1521 1891.6,1522.3 1893.6,1524 1895.6,1525.8 1897.6,1527.9 1899.6,1530.1 1901.6,1532.6 1903.6,1535.2 1905.6,1537.9 1907.6,1540.9 1909.6,1543.9 1911.6,1547 1913.6,1550.3 1915.6,1553.6 1917.6,1557 1919.6,1560.4 1921.6,1563.9 1923.6,1567.4 1925.6,1570.9 1927.6,1574.4 1929.6,1577.9 1931.6,1581.4 1933.6,1584.8 1935.6,1588.2 1937.6,1591.5 1939.6,1594.7 1941.6,1597.9 1943.6,1601 1945.6,1604 1947.6,1606.9 1949.6,1609.7 1951.6,1612.5 1953.6,1615.1 1955.6,1617.6 1957.6,1620 1959.6,1622.3 1961.6,1624.5 1963.6,1626.6 1965.6,1628.6 1967.6,1630.5 1969.6,1632.2 1971.6,1633.9 1973.6,1635.5 1975.6,1637 1977.6,1638.4 1979.6,1639.7 1981.6,1641 1983.6,1642.2 1985.6,1643.3 1987.6,1644.4 1989.6,1645.4 1991.6,1646.3 1993.6,1647.2 1995.6,1648.1 1997.6,1648.9 1999.6,1649.7 2001.6,1650.4 2003.6,1651.2 2005.6,1651.9 2007.6,1652.6 2009.6,1653.3 2011.6,1654 2013.6,1654.7 2015.6,1655.4 2017.6,1656.2 2019.6,1656.9 2021.6,1657.6 2023.6,1658.4 2025.6,1659.1 2027.6,1659.9 2029.6,1660.7 2031.6,1661.5 2033.6,1662.4 2035.6,1663.2 2037.6,1664.1 2039.6,1665 2041.6,1666 2043.6,1666.9 2045.6,1667.9 2047.6,1668.9 2049.6,1669.9 2051.6,1670.9 2053.6,1672 2055.6,1673 2057.6,1674.1 2059.6,1675.2 2061.6,1676.3 2063.6,1677.4 2065.6,1678.6 2067.6,1679.7 2069.6,1680.8 2071.6,1682 2073.6,1683.1 2075.6,1684.3 2077.6,1685.4 2079.6,1686.6 2081.6,1687.7 2083.6,1688.8 2085.6,1689.9 2087.6,1691.1 2089.6,1692.2 2091.6,1693.2 2093.6,1694.3 2095.6,1695.4 2097.6,1696.4 2099.6,1697.5 2101.6,1698.5 2103.6,1699.5 2105.6,1700.5 2107.6,1701.4 2109.6,1702.4 2111.6,1703.3 2113.6,1704.2 2115.6,1705.1 2117.6,1705.9 2119.6,1706.8 2121.6,1707.6 2123.6,1708.4 2125.6,1709.2 2127.6,1709.9 2129.6,1710.6 2131.6,1711.3 2133.6,1712 2135.6,1712.7 2137.6,1713.3 2139.6,1713.9 2141.6,1714.5 2143.6,1715 2145.6,1715.6 2147.6,1716.1 2149.6,1716.6 2151.6,1717.1 2153.6,1717.5 2155.6,1718 2157.6,1718.4 2159.6,1718.8 2161.6,1719.2 2163.6,1719.6 2165.6,1719.9 2167.6,1720.2 2169.6,1720.5 2171.6,1720.8 2173.6,1721.1 2175.6,1721.4 2177.6,1721.6 2179.6,1721.9 2181.6,1722.1 2183.6,1722.3 2185.6,1722.5 2187.6,1722.7 2189.6,1722.9 2191.6,1723.1 2193.6,1723.2 2195.6,1723.4 2197.6,1723.5 2199.6,1723.6 2201.6,1723.8 2203.6,1723.9 2205.6,1724 2207.6,1724.1 2209.6,1724.2 2211.6,1724.3 2213.6,1724.4 2215.6,1724.4 2217.6,1724.5 2219.6,1724.6 2221.6,1724.6 2223.6,1724.7 2225.6,1724.8 2227.6,1724.8 2229.6,1724.9 2231.6,1724.9 2233.6,1724.9 2235.6,1725 2237.6,1725 2239.6,1725.1 2241.6,1725.1 2243.6,1725.1 2245.6,1725.1 2247.6,1725.2 2249.6,1725.2 2251.6,1725.2 2253.6,1725.2 2255.6,1725.3 2257.6,1725.3 2259.6,1725.3 2261.6,1725.3 2263.6,1725.3 2265.6,1725.4 2267.6,1725.4 2269.6,1725.4 2271.6,1725.4 2273.6,1725.4 2275.6,1725.4 2277.6,1725.4 2279.6,1725.5 2281.6,1725.5 2283.6,1725.5 2285.6,1725.5 2287.6,1725.5 2289.6,1725.5 2291.6,1725.5 2293.6,1725.5 2295.6,1725.5 2297.6,1725.6 2299.6,1725.6 2301.6,1725.6 2303.6,1725.6 2305.6,1725.6 2307.6,1725.6 2309.6,1725.6 2311.6,1725.6 2313.6,1725.6 2315.6,1725.6 2317.6,1725.6 2319.6,1725.6 2321.6,1725.7 2323.6,1725.7 2325.6,1725.7 2327.6,1725.7 2329.6,1725.7 2331.6,1725.7 2333.6,1725.7 2335.6,1725.7 2337.6,1725.7 2339.6,1725.7 2341.6,1725.7 2343.6,1725.7 2345.6,1725.7 2347.6,1725.7 2349.6,1725.7 2351.6,1725.7 2353.6,1725.7 2355.6,1725.8 2357.6,1725.8 2359.6,1725.8 2361.6,1725.8 2363.6,1725.8 2365.6,1725.8 2367.6,1725.8 2369.6,1725.8 2371.6,1725.8 2373.6,1725.8 2375.6,1725.8 2377.6,1725.8 2379.6,1725.8 2381.6,1725.8 2383.6,1725.8 2385.6,1725.8 2387.6,1725.8 2389.6,1725.8" fill="none" stroke="#000" stroke-width="3.8" stroke-linejoin="round" stroke-linecap="butt"/>
<polyline points="1717.6,1721.4 1719.6,1721.1 1721.6,1720.8 1723.6,1720.4 1725.6,1720 1727.6,1719.6 1729.6,1719.1 1731.6,1718.7 1733.6,1718.1 1735.6,1717.5 1737.6,1716.9 1739.6,1716.2 1741.6,1715.5 1743.6,1714.7 1745.6,1713.9 1747.6,1712.9 1749.6,1711.9 1751.6,1710.9 1753.6,1709.8 1755.6,1708.5 1757.6,1707.2 1759.6,1705.9 1761.6,1704.4 1763.6,1702.8 1765.6,1701.1 1767.6,1699.4 1769.6,1697.5 1771.6,1695.5 1773.6,1693.4 1775.6,1691.2 1777.6,1688.9 1779.6,1686.4 1781.6,1683.9 1783.6,1681.2 1785.6,1678.4 1787.6,1675.4 1789.6,1672.4 1791.6,1669.2 1793.6,1665.9 1795.6,1662.5 1797.6,1658.9 1799.6,1655.3 1801.6,1651.5 1803.6,1647.6 1805.6,1643.7 1807.6,1639.6 1809.6,1635.4 1811.6,1631.2 1813.6,1626.9 1815.6,1622.5 1817.6,1618 1819.6,1613.5 1821.6,1609 1823.6,1604.4 1825.6,1599.8 1827.6,1595.2 1829.6,1590.6 1831.6,1586.1 1833.6,1581.5 1835.6,1577 1837.6,1572.6 1839.6,1568.2 1841.6,1564 1843.6,1559.8 1845.6,1555.8 1847.6,1551.9 1849.6,1548.1 1851.6,1544.5 1853.6,1541.1 1855.6,1537.9 1857.6,1534.9 1859.6,1532.1 1861.6,1529.5 1863.6,1527.1 1865.6,1525 1867.6,1523.2 1869.6,1521.6 1871.6,1520.3 1873.6,1519.3 1875.6,1518.5 1877.6,1518.1 1879.6,1517.9 1881.6,1518 1883.6,1518.3 1885.6,1518.9 1887.6,1519.8 1889.6,1521 1891.6,1522.3 1893.6,1524 1895.6,1525.8 1897.6,1527.9 1899.6,1530.1 1901.6,1532.6 1903.6,1535.2 1905.6,1537.9 1907.6,1540.9 1909.6,1543.9 1911.6,1547 1913.6,1550.3 1915.6,1553.6 1917.6,1557 1919.6,1560.4 1921.6,1563.9 1923.6,1567.4 1925.6,1570.9 1927.6,1574.4 1929.6,1577.9 1931.6,1581.4 1933.6,1584.8 1935.6,1588.2 1937.6,1591.5 1939.6,1594.7 1941.6,1597.9 1943.6,1601 1945.6,1604 1947.6,1606.9 1949.6,1609.7 1951.6,1612.5 1953.6,1615.1 1955.6,1617.6 1957.6,1620 1959.6,1622.3 1961.6,1624.5 1963.6,1626.6 1965.6,1628.6 1967.6,1630.5 1969.6,1632.2 1971.6,1633.9 1973.6,1635.5 1975.6,1637 1977.6,1638.4 1979.6,1639.7 1981.6,1641 1983.6,1642.2 1985.6,1643.3 1987.6,1644.4 1989.6,1645.4 1991.6,1646.3 1993.6,1647.2 1995.6,1648.1 1997.6,1648.9 1999.6,1649.7 2001.6,1650.4 2003.6,1651.2 2005.6,1651.9 2007.6,1652.6 2009.6,1653.3 2011.6,1654 2013.6,1654.7 2015.6,1655.4 2017.6,1656.2 2019.6,1656.9 2021.6,1657.6 2023.6,1658.4 2025.6,1659.1 2027.6,1659.9 2029.6,1660.7 2031.6,1661.5 2033.6,1662.4 2035.6,1663.2 2037.6,1664.1 2039.6,1665 2041.6,1666 2043.6,1666.9 2045.6,1667.9 2047.6,1668.9 2049.6,1669.9 2051.6,1670.9 2053.6,1672 2055.6,1673 2057.6,1674.1 2059.6,1675.2 2061.6,1676.3 2063.6,1677.4 2065.6,1678.6 2067.6,1679.7 2069.6,1680.8 2071.6,1682 2073.6,1683.1 2075.6,1684.3 2077.6,1685.4 2079.6,1686.6 2081.6,1687.7 2083.6,1688.8 2085.6,1689.9 2087.6,1691.1 2089.6,1692.2 2091.6,1693.2 2093.6,1694.3 2095.6,1695.4 2097.6,1696.4 2099.6,1697.5 2101.6,1698.5 2103.6,1699.5 2105.6,1700.5 2107.6,1701.4 2109.6,1702.4 2111.6,1703.3 2113.6,1704.2 2115.6,1705.1 2117.6,1705.9 2119.6,1706.8 2121.6,1707.6 2123.6,1708.4 2125.6,1709.2 2127.6,1709.9 2129.6,1710.6 2131.6,1711.3 2133.6,1712 2135.6,1712.7 2137.6,1713.3 2139.6,1713.9 2141.6,1714.5 2143.6,1715 2145.6,1715.6 2147.6,1716.1 2149.6,1716.6 2151.6,1717.1 2153.6,1717.5 2155.6,1718 2157.6,1718.4 2159.6,1718.8 2161.6,1719.2 2163.6,1719.6 2165.6,1719.9 2167.6,1720.2 2169.6,1720.5 2171.6,1720.8 2173.6,1721.1 2175.6,1721.4 2177.6,1721.6 2179.6,1721.9 2181.6,1722.1 2183.6,1722.3 2185.6,1722.5 2187.6,1722.7 2189.6,1722.9 2191.6,1723.1 2193.6,1723.2 2195.6,1723.4 2197.6,1723.5 2199.6,1723.6 2201.6,1723.8 2203.6,1723.9 2205.6,1724 2207.6,1724.1 2209.6,1724.2 2211.6,1724.3 2213.6,1724.4 2215.6,1724.4 2217.6,1724.5 2219.6,1724.6 2221.6,1724.6 2223.6,1724.7 2225.6,1724.8 2227.6,1724.8 2229.6,1724.9 2231.6,1724.9 2233.6,1724.9 2235.6,1725 2237.6,1725 2239.6,1725.1 2241.6,1725.1 2243.6,1725.1 2245.6,1725.1 2247.6,1725.2 2249.6,1725.2 2251.6,1725.2 2253.6,1725.2 2255.6,1725.3 2257.6,1725.3 2259.6,1725.3 2261.6,1725.3 2263.6,1725.3 2265.6,1725.4 2267.6,1725.4 2269.6,1725.4 2271.6,1725.4 2273.6,1725.4 2275.6,1725.4 2277.6,1725.4 2279.6,1725.5 2281.6,1725.5 2283.6,1725.5 2285.6,1725.5 2287.6,1725.5 2289.6,1725.5 2291.6,1725.5 2293.6,1725.5 2295.6,1725.5 2297.6,1725.6 2299.6,1725.6 2301.6,1725.6 2303.6,1725.6 2305.6,1725.6 2307.6,1725.6 2309.6,1725.6 2311.6,1725.6 2313.6,1725.6 2315.6,1725.6 2317.6,1725.6 2319.6,1725.6 2321.6,1725.7 2323.6,1725.7 2325.6,1725.7 2327.6,1725.7 2329.6,1725.7 2331.6,1725.7 2333.6,1725.7 2335.6,1725.7 2337.6,1725.7 2339.6,1725.7 2341.6,1725.7 2343.6,1725.7 2345.6,1725.7 2347.6,1725.7 2349.6,1725.7 2351.6,1725.7 2353.6,1725.7 2355.6,1725.8 2357.6,1725.8 2359.6,1725.8 2361.6,1725.8 2363.6,1725.8 2365.6,1725.8 2367.6,1725.8 2369.6,1725.8 2371.6,1725.8 2373.6,1725.8 2375.6,1725.8 2377.6,1725.8 2379.6,1725.8 2381.6,1725.8 2383.6,1725.8 2385.6,1725.8 2387.6,1725.8 2389.6,1725.8" fill="none" stroke="#ffff50" stroke-width="3.6" stroke-linejoin="round" stroke-linecap="butt" stroke-dasharray="3 3"/>
<text x="1830" y="1672" font-size="34" fill="#0000ff">74.05 %</text>
<text x="2034.5" y="1668.4" font-size="34" fill="#00ff00">7.48 %</text>
<text x="2150.5" y="1710" font-size="34" fill="#ff0000">18.45 %</text>
</svg></body></html>
